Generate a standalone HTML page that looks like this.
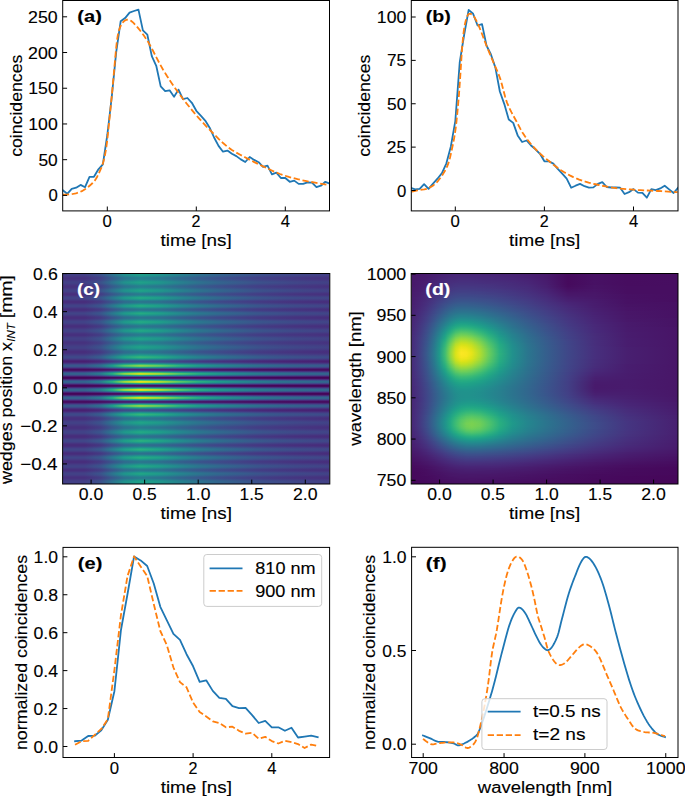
<!DOCTYPE html><html><head><meta charset="utf-8"><style>html,body{margin:0;padding:0;background:#fff;overflow:hidden;}svg{display:block;}</style></head><body><svg width="685" height="797" viewBox="0 0 685 797" font-family='"Liberation Sans", sans-serif' font-size="15.85"><defs><clipPath id="ca"><rect x="62.7" y="0.5" width="266.8" height="210.4"/></clipPath><clipPath id="cb"><rect x="411.3" y="0.5" width="266.7" height="210.4"/></clipPath><clipPath id="cc"><rect x="62.6" y="273.5" width="267.2" height="210.5"/></clipPath><clipPath id="cd"><rect x="411.2" y="273.5" width="266.8" height="210.5"/></clipPath><clipPath id="ce"><rect x="63" y="547.4" width="266.6" height="210.1"/></clipPath><clipPath id="cf"><rect x="411.6" y="547.3" width="266.4" height="210.2"/></clipPath><linearGradient id="gc0"><stop offset=".000" stop-color="#433e85"/><stop offset=".083" stop-color="#433e85"/><stop offset=".143" stop-color="#3c4f8a"/><stop offset=".187" stop-color="#2e6f8e"/><stop offset=".231" stop-color="#228c8d"/><stop offset=".291" stop-color="#1e9b8a"/><stop offset=".363" stop-color="#21918c"/><stop offset=".435" stop-color="#277f8e"/><stop offset=".507" stop-color="#2e6f8e"/><stop offset=".580" stop-color="#33628d"/><stop offset=".656" stop-color="#38588c"/><stop offset=".728" stop-color="#3c4f8a"/><stop offset=".800" stop-color="#3f4889"/><stop offset=".872" stop-color="#414487"/><stop offset=".944" stop-color="#424086"/><stop offset="1.000" stop-color="#423f85"/></linearGradient><linearGradient id="gc1"><stop offset=".000" stop-color="#423f85"/><stop offset=".083" stop-color="#423f85"/><stop offset=".143" stop-color="#3b518b"/><stop offset=".187" stop-color="#2d718e"/><stop offset=".231" stop-color="#218f8d"/><stop offset=".291" stop-color="#1f9f88"/><stop offset=".363" stop-color="#1f948c"/><stop offset=".435" stop-color="#26828e"/><stop offset=".507" stop-color="#2d718e"/><stop offset=".580" stop-color="#32648e"/><stop offset=".656" stop-color="#375a8c"/><stop offset=".728" stop-color="#3b518b"/><stop offset=".800" stop-color="#3e4a89"/><stop offset=".872" stop-color="#404688"/><stop offset=".944" stop-color="#414287"/><stop offset="1.000" stop-color="#424086"/></linearGradient><linearGradient id="gc2"><stop offset=".000" stop-color="#433d84"/><stop offset=".083" stop-color="#433d84"/><stop offset=".143" stop-color="#3d4e8a"/><stop offset=".187" stop-color="#2e6e8e"/><stop offset=".231" stop-color="#238a8d"/><stop offset=".291" stop-color="#1f9a8a"/><stop offset=".363" stop-color="#21908d"/><stop offset=".435" stop-color="#277e8e"/><stop offset=".507" stop-color="#2e6e8e"/><stop offset=".580" stop-color="#34618d"/><stop offset=".656" stop-color="#38588c"/><stop offset=".728" stop-color="#3d4e8a"/><stop offset=".800" stop-color="#3f4889"/><stop offset=".872" stop-color="#414487"/><stop offset=".944" stop-color="#424086"/><stop offset="1.000" stop-color="#433e85"/></linearGradient><linearGradient id="gc3"><stop offset=".000" stop-color="#453882"/><stop offset=".083" stop-color="#453882"/><stop offset=".143" stop-color="#3f4889"/><stop offset=".187" stop-color="#31668e"/><stop offset=".231" stop-color="#26818e"/><stop offset=".291" stop-color="#21908d"/><stop offset=".363" stop-color="#25858e"/><stop offset=".435" stop-color="#2b758e"/><stop offset=".507" stop-color="#31668e"/><stop offset=".580" stop-color="#375b8d"/><stop offset=".656" stop-color="#3b518b"/><stop offset=".728" stop-color="#3f4889"/><stop offset=".800" stop-color="#414287"/><stop offset=".872" stop-color="#423f85"/><stop offset=".944" stop-color="#443b84"/><stop offset="1.000" stop-color="#443983"/></linearGradient><linearGradient id="gc4"><stop offset=".000" stop-color="#463480"/><stop offset=".083" stop-color="#463480"/><stop offset=".143" stop-color="#414287"/><stop offset=".187" stop-color="#355f8d"/><stop offset=".231" stop-color="#2a778e"/><stop offset=".291" stop-color="#25848e"/><stop offset=".363" stop-color="#287c8e"/><stop offset=".435" stop-color="#2e6d8e"/><stop offset=".507" stop-color="#355f8d"/><stop offset=".580" stop-color="#3a548c"/><stop offset=".656" stop-color="#3e4a89"/><stop offset=".728" stop-color="#414287"/><stop offset=".800" stop-color="#433e85"/><stop offset=".872" stop-color="#443983"/><stop offset=".944" stop-color="#453781"/><stop offset="1.000" stop-color="#453581"/></linearGradient><linearGradient id="gc5"><stop offset=".000" stop-color="#46327e"/><stop offset=".083" stop-color="#46327e"/><stop offset=".143" stop-color="#424186"/><stop offset=".187" stop-color="#365c8d"/><stop offset=".231" stop-color="#2b748e"/><stop offset=".291" stop-color="#26818e"/><stop offset=".363" stop-color="#2a788e"/><stop offset=".435" stop-color="#30698e"/><stop offset=".507" stop-color="#365c8d"/><stop offset=".580" stop-color="#3b518b"/><stop offset=".656" stop-color="#3f4889"/><stop offset=".728" stop-color="#424186"/><stop offset=".800" stop-color="#443b84"/><stop offset=".872" stop-color="#453882"/><stop offset=".944" stop-color="#463480"/><stop offset="1.000" stop-color="#46337f"/></linearGradient><linearGradient id="gc6"><stop offset=".000" stop-color="#463480"/><stop offset=".083" stop-color="#463480"/><stop offset=".143" stop-color="#414487"/><stop offset=".187" stop-color="#355f8d"/><stop offset=".231" stop-color="#2a788e"/><stop offset=".291" stop-color="#25858e"/><stop offset=".363" stop-color="#287d8e"/><stop offset=".435" stop-color="#2e6d8e"/><stop offset=".507" stop-color="#355f8d"/><stop offset=".580" stop-color="#3a548c"/><stop offset=".656" stop-color="#3e4c8a"/><stop offset=".728" stop-color="#414487"/><stop offset=".800" stop-color="#433e85"/><stop offset=".872" stop-color="#443a83"/><stop offset=".944" stop-color="#453781"/><stop offset="1.000" stop-color="#453581"/></linearGradient><linearGradient id="gc7"><stop offset=".000" stop-color="#443983"/><stop offset=".083" stop-color="#443983"/><stop offset=".143" stop-color="#3e4989"/><stop offset=".187" stop-color="#31678e"/><stop offset=".231" stop-color="#26828e"/><stop offset=".291" stop-color="#21918c"/><stop offset=".363" stop-color="#24878e"/><stop offset=".435" stop-color="#2a768e"/><stop offset=".507" stop-color="#31678e"/><stop offset=".580" stop-color="#365c8d"/><stop offset=".656" stop-color="#3b528b"/><stop offset=".728" stop-color="#3e4989"/><stop offset=".800" stop-color="#414487"/><stop offset=".872" stop-color="#423f85"/><stop offset=".944" stop-color="#443b84"/><stop offset="1.000" stop-color="#443a83"/></linearGradient><linearGradient id="gc8"><stop offset=".000" stop-color="#433e85"/><stop offset=".083" stop-color="#433e85"/><stop offset=".143" stop-color="#3c4f8a"/><stop offset=".187" stop-color="#2e6f8e"/><stop offset=".231" stop-color="#228c8d"/><stop offset=".291" stop-color="#1e9c89"/><stop offset=".363" stop-color="#20928c"/><stop offset=".435" stop-color="#277f8e"/><stop offset=".507" stop-color="#2e6f8e"/><stop offset=".580" stop-color="#33628d"/><stop offset=".656" stop-color="#38598c"/><stop offset=".728" stop-color="#3c4f8a"/><stop offset=".800" stop-color="#3e4989"/><stop offset=".872" stop-color="#414487"/><stop offset=".944" stop-color="#424186"/><stop offset="1.000" stop-color="#423f85"/></linearGradient><linearGradient id="gc9"><stop offset=".000" stop-color="#424086"/><stop offset=".083" stop-color="#424086"/><stop offset=".143" stop-color="#3b528b"/><stop offset=".187" stop-color="#2c728e"/><stop offset=".231" stop-color="#21918c"/><stop offset=".291" stop-color="#1fa188"/><stop offset=".363" stop-color="#1f958b"/><stop offset=".435" stop-color="#26828e"/><stop offset=".507" stop-color="#2c728e"/><stop offset=".580" stop-color="#32658e"/><stop offset=".656" stop-color="#375b8d"/><stop offset=".728" stop-color="#3b528b"/><stop offset=".800" stop-color="#3e4c8a"/><stop offset=".872" stop-color="#404688"/><stop offset=".944" stop-color="#414287"/><stop offset="1.000" stop-color="#424186"/></linearGradient><linearGradient id="gc10"><stop offset=".000" stop-color="#433e85"/><stop offset=".083" stop-color="#433e85"/><stop offset=".143" stop-color="#3c4f8a"/><stop offset=".187" stop-color="#2e6f8e"/><stop offset=".231" stop-color="#228c8d"/><stop offset=".291" stop-color="#1e9c89"/><stop offset=".363" stop-color="#20928c"/><stop offset=".435" stop-color="#277f8e"/><stop offset=".507" stop-color="#2e6f8e"/><stop offset=".580" stop-color="#33638d"/><stop offset=".656" stop-color="#38598c"/><stop offset=".728" stop-color="#3c4f8a"/><stop offset=".800" stop-color="#3e4989"/><stop offset=".872" stop-color="#404588"/><stop offset=".944" stop-color="#424186"/><stop offset="1.000" stop-color="#423f85"/></linearGradient><linearGradient id="gc11"><stop offset=".000" stop-color="#443983"/><stop offset=".083" stop-color="#443983"/><stop offset=".143" stop-color="#3e4989"/><stop offset=".187" stop-color="#31678e"/><stop offset=".231" stop-color="#26828e"/><stop offset=".291" stop-color="#21918c"/><stop offset=".363" stop-color="#24878e"/><stop offset=".435" stop-color="#2a768e"/><stop offset=".507" stop-color="#31678e"/><stop offset=".580" stop-color="#365c8d"/><stop offset=".656" stop-color="#3b528b"/><stop offset=".728" stop-color="#3e4989"/><stop offset=".800" stop-color="#414487"/><stop offset=".872" stop-color="#423f85"/><stop offset=".944" stop-color="#443b84"/><stop offset="1.000" stop-color="#443a83"/></linearGradient><linearGradient id="gc12"><stop offset=".000" stop-color="#463480"/><stop offset=".083" stop-color="#463480"/><stop offset=".143" stop-color="#414287"/><stop offset=".187" stop-color="#355f8d"/><stop offset=".231" stop-color="#2a778e"/><stop offset=".291" stop-color="#25848e"/><stop offset=".363" stop-color="#287c8e"/><stop offset=".435" stop-color="#2e6d8e"/><stop offset=".507" stop-color="#355f8d"/><stop offset=".580" stop-color="#3a538b"/><stop offset=".656" stop-color="#3e4a89"/><stop offset=".728" stop-color="#414287"/><stop offset=".800" stop-color="#433e85"/><stop offset=".872" stop-color="#443983"/><stop offset=".944" stop-color="#453781"/><stop offset="1.000" stop-color="#463480"/></linearGradient><linearGradient id="gc13"><stop offset=".000" stop-color="#46327e"/><stop offset=".083" stop-color="#46327e"/><stop offset=".143" stop-color="#424086"/><stop offset=".187" stop-color="#375b8d"/><stop offset=".231" stop-color="#2c728e"/><stop offset=".291" stop-color="#277f8e"/><stop offset=".363" stop-color="#2a768e"/><stop offset=".435" stop-color="#31688e"/><stop offset=".507" stop-color="#375b8d"/><stop offset=".580" stop-color="#3c508b"/><stop offset=".656" stop-color="#3f4788"/><stop offset=".728" stop-color="#424086"/><stop offset=".800" stop-color="#443a83"/><stop offset=".872" stop-color="#453781"/><stop offset=".944" stop-color="#463480"/><stop offset="1.000" stop-color="#46327e"/></linearGradient><linearGradient id="gc14"><stop offset=".000" stop-color="#46337f"/><stop offset=".083" stop-color="#46337f"/><stop offset=".143" stop-color="#414287"/><stop offset=".187" stop-color="#355e8d"/><stop offset=".231" stop-color="#2a768e"/><stop offset=".291" stop-color="#25838e"/><stop offset=".363" stop-color="#297b8e"/><stop offset=".435" stop-color="#2f6c8e"/><stop offset=".507" stop-color="#355e8d"/><stop offset=".580" stop-color="#3a538b"/><stop offset=".656" stop-color="#3e4a89"/><stop offset=".728" stop-color="#414287"/><stop offset=".800" stop-color="#433d84"/><stop offset=".872" stop-color="#443983"/><stop offset=".944" stop-color="#453581"/><stop offset="1.000" stop-color="#463480"/></linearGradient><linearGradient id="gc15"><stop offset=".000" stop-color="#453882"/><stop offset=".083" stop-color="#453882"/><stop offset=".143" stop-color="#3f4889"/><stop offset=".187" stop-color="#31668e"/><stop offset=".231" stop-color="#26818e"/><stop offset=".291" stop-color="#218f8d"/><stop offset=".363" stop-color="#25858e"/><stop offset=".435" stop-color="#2b748e"/><stop offset=".507" stop-color="#31668e"/><stop offset=".580" stop-color="#375b8d"/><stop offset=".656" stop-color="#3b518b"/><stop offset=".728" stop-color="#3f4889"/><stop offset=".800" stop-color="#414287"/><stop offset=".872" stop-color="#433e85"/><stop offset=".944" stop-color="#443b84"/><stop offset="1.000" stop-color="#443983"/></linearGradient><linearGradient id="gc16"><stop offset=".000" stop-color="#433e85"/><stop offset=".083" stop-color="#433e85"/><stop offset=".143" stop-color="#3c4f8a"/><stop offset=".187" stop-color="#2e6f8e"/><stop offset=".231" stop-color="#228c8d"/><stop offset=".291" stop-color="#1e9c89"/><stop offset=".363" stop-color="#20928c"/><stop offset=".435" stop-color="#277f8e"/><stop offset=".507" stop-color="#2e6f8e"/><stop offset=".580" stop-color="#33638d"/><stop offset=".656" stop-color="#38598c"/><stop offset=".728" stop-color="#3c4f8a"/><stop offset=".800" stop-color="#3e4989"/><stop offset=".872" stop-color="#404588"/><stop offset=".944" stop-color="#424186"/><stop offset="1.000" stop-color="#423f85"/></linearGradient><linearGradient id="gc17"><stop offset=".000" stop-color="#424086"/><stop offset=".083" stop-color="#424086"/><stop offset=".143" stop-color="#3b528b"/><stop offset=".187" stop-color="#2c738e"/><stop offset=".231" stop-color="#20928c"/><stop offset=".291" stop-color="#1fa287"/><stop offset=".363" stop-color="#1f978b"/><stop offset=".435" stop-color="#25848e"/><stop offset=".507" stop-color="#2c738e"/><stop offset=".580" stop-color="#31678e"/><stop offset=".656" stop-color="#365c8d"/><stop offset=".728" stop-color="#3b528b"/><stop offset=".800" stop-color="#3d4d8a"/><stop offset=".872" stop-color="#3f4788"/><stop offset=".944" stop-color="#414487"/><stop offset="1.000" stop-color="#424186"/></linearGradient><linearGradient id="gc18"><stop offset=".000" stop-color="#423f85"/><stop offset=".083" stop-color="#423f85"/><stop offset=".143" stop-color="#3c508b"/><stop offset=".187" stop-color="#2d718e"/><stop offset=".231" stop-color="#218e8d"/><stop offset=".291" stop-color="#1f9e89"/><stop offset=".363" stop-color="#20938c"/><stop offset=".435" stop-color="#26818e"/><stop offset=".507" stop-color="#2d718e"/><stop offset=".580" stop-color="#32648e"/><stop offset=".656" stop-color="#375a8c"/><stop offset=".728" stop-color="#3c508b"/><stop offset=".800" stop-color="#3e4a89"/><stop offset=".872" stop-color="#404588"/><stop offset=".944" stop-color="#424186"/><stop offset="1.000" stop-color="#424086"/></linearGradient><linearGradient id="gc19"><stop offset=".000" stop-color="#453882"/><stop offset=".083" stop-color="#453882"/><stop offset=".143" stop-color="#3f4889"/><stop offset=".187" stop-color="#31668e"/><stop offset=".231" stop-color="#26818e"/><stop offset=".291" stop-color="#218f8d"/><stop offset=".363" stop-color="#25858e"/><stop offset=".435" stop-color="#2b748e"/><stop offset=".507" stop-color="#31668e"/><stop offset=".580" stop-color="#375b8d"/><stop offset=".656" stop-color="#3b518b"/><stop offset=".728" stop-color="#3f4889"/><stop offset=".800" stop-color="#414287"/><stop offset=".872" stop-color="#433e85"/><stop offset=".944" stop-color="#443b84"/><stop offset="1.000" stop-color="#443983"/></linearGradient><linearGradient id="gc20"><stop offset=".000" stop-color="#46327e"/><stop offset=".083" stop-color="#46327e"/><stop offset=".143" stop-color="#424086"/><stop offset=".187" stop-color="#375b8d"/><stop offset=".231" stop-color="#2c728e"/><stop offset=".291" stop-color="#27808e"/><stop offset=".363" stop-color="#2a778e"/><stop offset=".435" stop-color="#31688e"/><stop offset=".507" stop-color="#375b8d"/><stop offset=".580" stop-color="#3c508b"/><stop offset=".656" stop-color="#3f4889"/><stop offset=".728" stop-color="#424086"/><stop offset=".800" stop-color="#443b84"/><stop offset=".872" stop-color="#453781"/><stop offset=".944" stop-color="#463480"/><stop offset="1.000" stop-color="#46337f"/></linearGradient><linearGradient id="gc21"><stop offset=".000" stop-color="#472f7d"/><stop offset=".083" stop-color="#472f7d"/><stop offset=".143" stop-color="#433e85"/><stop offset=".187" stop-color="#38588c"/><stop offset=".231" stop-color="#2e6f8e"/><stop offset=".291" stop-color="#297b8e"/><stop offset=".363" stop-color="#2c728e"/><stop offset=".435" stop-color="#32658e"/><stop offset=".507" stop-color="#38588c"/><stop offset=".580" stop-color="#3d4e8a"/><stop offset=".656" stop-color="#404588"/><stop offset=".728" stop-color="#433e85"/><stop offset=".800" stop-color="#443983"/><stop offset=".872" stop-color="#463480"/><stop offset=".944" stop-color="#46327e"/><stop offset="1.000" stop-color="#46307e"/></linearGradient><linearGradient id="gc22"><stop offset=".000" stop-color="#463480"/><stop offset=".083" stop-color="#463480"/><stop offset=".143" stop-color="#414487"/><stop offset=".187" stop-color="#355f8d"/><stop offset=".231" stop-color="#2a788e"/><stop offset=".291" stop-color="#25858e"/><stop offset=".363" stop-color="#287d8e"/><stop offset=".435" stop-color="#2e6d8e"/><stop offset=".507" stop-color="#355f8d"/><stop offset=".580" stop-color="#3a548c"/><stop offset=".656" stop-color="#3e4c8a"/><stop offset=".728" stop-color="#414487"/><stop offset=".800" stop-color="#433e85"/><stop offset=".872" stop-color="#443a83"/><stop offset=".944" stop-color="#453781"/><stop offset="1.000" stop-color="#453581"/></linearGradient><linearGradient id="gc23"><stop offset=".000" stop-color="#433d84"/><stop offset=".083" stop-color="#433d84"/><stop offset=".143" stop-color="#3d4e8a"/><stop offset=".187" stop-color="#2e6d8e"/><stop offset=".231" stop-color="#23898e"/><stop offset=".291" stop-color="#1f988b"/><stop offset=".363" stop-color="#218e8d"/><stop offset=".435" stop-color="#287c8e"/><stop offset=".507" stop-color="#2e6d8e"/><stop offset=".580" stop-color="#34618d"/><stop offset=".656" stop-color="#39568c"/><stop offset=".728" stop-color="#3d4e8a"/><stop offset=".800" stop-color="#3f4788"/><stop offset=".872" stop-color="#414287"/><stop offset=".944" stop-color="#423f85"/><stop offset="1.000" stop-color="#433e85"/></linearGradient><linearGradient id="gc24"><stop offset=".000" stop-color="#414287"/><stop offset=".083" stop-color="#414287"/><stop offset=".143" stop-color="#39558c"/><stop offset=".187" stop-color="#2a768e"/><stop offset=".231" stop-color="#1f968b"/><stop offset=".291" stop-color="#22a785"/><stop offset=".363" stop-color="#1e9c89"/><stop offset=".435" stop-color="#24878e"/><stop offset=".507" stop-color="#2a768e"/><stop offset=".580" stop-color="#30698e"/><stop offset=".656" stop-color="#355f8d"/><stop offset=".728" stop-color="#39558c"/><stop offset=".800" stop-color="#3d4e8a"/><stop offset=".872" stop-color="#3e4989"/><stop offset=".944" stop-color="#404688"/><stop offset="1.000" stop-color="#414487"/></linearGradient><linearGradient id="gc25"><stop offset=".000" stop-color="#414287"/><stop offset=".083" stop-color="#414287"/><stop offset=".143" stop-color="#3a548c"/><stop offset=".187" stop-color="#2a768e"/><stop offset=".231" stop-color="#1f958b"/><stop offset=".291" stop-color="#21a685"/><stop offset=".363" stop-color="#1e9b8a"/><stop offset=".435" stop-color="#24878e"/><stop offset=".507" stop-color="#2a768e"/><stop offset=".580" stop-color="#30698e"/><stop offset=".656" stop-color="#355e8d"/><stop offset=".728" stop-color="#3a548c"/><stop offset=".800" stop-color="#3d4e8a"/><stop offset=".872" stop-color="#3e4989"/><stop offset=".944" stop-color="#404688"/><stop offset="1.000" stop-color="#414487"/></linearGradient><linearGradient id="gc26"><stop offset=".000" stop-color="#433d84"/><stop offset=".083" stop-color="#433d84"/><stop offset=".143" stop-color="#3d4e8a"/><stop offset=".187" stop-color="#2e6d8e"/><stop offset=".231" stop-color="#23898e"/><stop offset=".291" stop-color="#1f988b"/><stop offset=".363" stop-color="#218f8d"/><stop offset=".435" stop-color="#287c8e"/><stop offset=".507" stop-color="#2e6d8e"/><stop offset=".580" stop-color="#34618d"/><stop offset=".656" stop-color="#39568c"/><stop offset=".728" stop-color="#3d4e8a"/><stop offset=".800" stop-color="#3f4788"/><stop offset=".872" stop-color="#414287"/><stop offset=".944" stop-color="#423f85"/><stop offset="1.000" stop-color="#433e85"/></linearGradient><linearGradient id="gc27"><stop offset=".000" stop-color="#463480"/><stop offset=".083" stop-color="#463480"/><stop offset=".143" stop-color="#414287"/><stop offset=".187" stop-color="#355f8d"/><stop offset=".231" stop-color="#2a778e"/><stop offset=".291" stop-color="#25848e"/><stop offset=".363" stop-color="#287c8e"/><stop offset=".435" stop-color="#2e6d8e"/><stop offset=".507" stop-color="#355f8d"/><stop offset=".580" stop-color="#3a548c"/><stop offset=".656" stop-color="#3e4a89"/><stop offset=".728" stop-color="#414287"/><stop offset=".800" stop-color="#433e85"/><stop offset=".872" stop-color="#443983"/><stop offset=".944" stop-color="#453781"/><stop offset="1.000" stop-color="#453581"/></linearGradient><linearGradient id="gc28"><stop offset=".000" stop-color="#472e7c"/><stop offset=".083" stop-color="#472e7c"/><stop offset=".143" stop-color="#443b84"/><stop offset=".187" stop-color="#39558c"/><stop offset=".231" stop-color="#2f6c8e"/><stop offset=".291" stop-color="#2a778e"/><stop offset=".363" stop-color="#2d708e"/><stop offset=".435" stop-color="#33628d"/><stop offset=".507" stop-color="#39558c"/><stop offset=".580" stop-color="#3e4a89"/><stop offset=".656" stop-color="#414287"/><stop offset=".728" stop-color="#443b84"/><stop offset=".800" stop-color="#453781"/><stop offset=".872" stop-color="#46337f"/><stop offset=".944" stop-color="#46307e"/><stop offset="1.000" stop-color="#472f7d"/></linearGradient><linearGradient id="gc29"><stop offset=".000" stop-color="#472e7c"/><stop offset=".083" stop-color="#472e7c"/><stop offset=".143" stop-color="#433d84"/><stop offset=".187" stop-color="#39558c"/><stop offset=".231" stop-color="#2e6d8e"/><stop offset=".291" stop-color="#2a788e"/><stop offset=".363" stop-color="#2d718e"/><stop offset=".435" stop-color="#33628d"/><stop offset=".507" stop-color="#39558c"/><stop offset=".580" stop-color="#3e4c8a"/><stop offset=".656" stop-color="#414487"/><stop offset=".728" stop-color="#433d84"/><stop offset=".800" stop-color="#453781"/><stop offset=".872" stop-color="#46337f"/><stop offset=".944" stop-color="#46307e"/><stop offset="1.000" stop-color="#472f7d"/></linearGradient><linearGradient id="gc30"><stop offset=".000" stop-color="#463480"/><stop offset=".083" stop-color="#463480"/><stop offset=".143" stop-color="#414487"/><stop offset=".187" stop-color="#34608d"/><stop offset=".231" stop-color="#29798e"/><stop offset=".291" stop-color="#24868e"/><stop offset=".363" stop-color="#277e8e"/><stop offset=".435" stop-color="#2e6e8e"/><stop offset=".507" stop-color="#34608d"/><stop offset=".580" stop-color="#39558c"/><stop offset=".656" stop-color="#3e4c8a"/><stop offset=".728" stop-color="#414487"/><stop offset=".800" stop-color="#423f85"/><stop offset=".872" stop-color="#443a83"/><stop offset=".944" stop-color="#453882"/><stop offset="1.000" stop-color="#453581"/></linearGradient><linearGradient id="gc31"><stop offset=".000" stop-color="#433d84"/><stop offset=".083" stop-color="#433d84"/><stop offset=".143" stop-color="#3c4f8a"/><stop offset=".187" stop-color="#2e6e8e"/><stop offset=".231" stop-color="#228b8d"/><stop offset=".291" stop-color="#1e9b8a"/><stop offset=".363" stop-color="#21918c"/><stop offset=".435" stop-color="#277e8e"/><stop offset=".507" stop-color="#2e6e8e"/><stop offset=".580" stop-color="#33628d"/><stop offset=".656" stop-color="#38588c"/><stop offset=".728" stop-color="#3c4f8a"/><stop offset=".800" stop-color="#3f4889"/><stop offset=".872" stop-color="#414487"/><stop offset=".944" stop-color="#424086"/><stop offset="1.000" stop-color="#433e85"/></linearGradient><linearGradient id="gc32"><stop offset=".000" stop-color="#414287"/><stop offset=".083" stop-color="#414287"/><stop offset=".143" stop-color="#39558c"/><stop offset=".187" stop-color="#2a778e"/><stop offset=".231" stop-color="#1f978b"/><stop offset=".291" stop-color="#23a983"/><stop offset=".363" stop-color="#1e9d89"/><stop offset=".435" stop-color="#23898e"/><stop offset=".507" stop-color="#2a778e"/><stop offset=".580" stop-color="#306a8e"/><stop offset=".656" stop-color="#34608d"/><stop offset=".728" stop-color="#39558c"/><stop offset=".800" stop-color="#3c4f8a"/><stop offset=".872" stop-color="#3e4a89"/><stop offset=".944" stop-color="#404688"/><stop offset="1.000" stop-color="#414487"/></linearGradient><linearGradient id="gc33"><stop offset=".000" stop-color="#414287"/><stop offset=".083" stop-color="#414287"/><stop offset=".143" stop-color="#39558c"/><stop offset=".187" stop-color="#2a778e"/><stop offset=".231" stop-color="#1f978b"/><stop offset=".291" stop-color="#22a884"/><stop offset=".363" stop-color="#1e9d89"/><stop offset=".435" stop-color="#23888e"/><stop offset=".507" stop-color="#2a778e"/><stop offset=".580" stop-color="#306a8e"/><stop offset=".656" stop-color="#355f8d"/><stop offset=".728" stop-color="#39558c"/><stop offset=".800" stop-color="#3c4f8a"/><stop offset=".872" stop-color="#3e4989"/><stop offset=".944" stop-color="#404688"/><stop offset="1.000" stop-color="#414487"/></linearGradient><linearGradient id="gc34"><stop offset=".000" stop-color="#443b84"/><stop offset=".083" stop-color="#443b84"/><stop offset=".143" stop-color="#3d4d8a"/><stop offset=".187" stop-color="#2f6c8e"/><stop offset=".231" stop-color="#23888e"/><stop offset=".291" stop-color="#1f988b"/><stop offset=".363" stop-color="#218e8d"/><stop offset=".435" stop-color="#287c8e"/><stop offset=".507" stop-color="#2f6c8e"/><stop offset=".580" stop-color="#34608d"/><stop offset=".656" stop-color="#39568c"/><stop offset=".728" stop-color="#3d4d8a"/><stop offset=".800" stop-color="#3f4788"/><stop offset=".872" stop-color="#414287"/><stop offset=".944" stop-color="#423f85"/><stop offset="1.000" stop-color="#433d84"/></linearGradient><linearGradient id="gc35"><stop offset=".000" stop-color="#46337f"/><stop offset=".083" stop-color="#46337f"/><stop offset=".143" stop-color="#424186"/><stop offset=".187" stop-color="#365d8d"/><stop offset=".231" stop-color="#2b758e"/><stop offset=".291" stop-color="#26828e"/><stop offset=".363" stop-color="#297a8e"/><stop offset=".435" stop-color="#2f6b8e"/><stop offset=".507" stop-color="#365d8d"/><stop offset=".580" stop-color="#3b528b"/><stop offset=".656" stop-color="#3e4989"/><stop offset=".728" stop-color="#424186"/><stop offset=".800" stop-color="#433d84"/><stop offset=".872" stop-color="#453882"/><stop offset=".944" stop-color="#453581"/><stop offset="1.000" stop-color="#463480"/></linearGradient><linearGradient id="gc36"><stop offset=".000" stop-color="#472e7c"/><stop offset=".083" stop-color="#472e7c"/><stop offset=".143" stop-color="#443b84"/><stop offset=".187" stop-color="#3a548c"/><stop offset=".231" stop-color="#2f6b8e"/><stop offset=".291" stop-color="#2a768e"/><stop offset=".363" stop-color="#2e6f8e"/><stop offset=".435" stop-color="#34618d"/><stop offset=".507" stop-color="#3a548c"/><stop offset=".580" stop-color="#3e4a89"/><stop offset=".656" stop-color="#414287"/><stop offset=".728" stop-color="#443b84"/><stop offset=".800" stop-color="#453781"/><stop offset=".872" stop-color="#46337f"/><stop offset=".944" stop-color="#46307e"/><stop offset="1.000" stop-color="#472e7c"/></linearGradient><linearGradient id="gc37"><stop offset=".000" stop-color="#46307e"/><stop offset=".083" stop-color="#46307e"/><stop offset=".143" stop-color="#433e85"/><stop offset=".187" stop-color="#38598c"/><stop offset=".231" stop-color="#2d708e"/><stop offset=".291" stop-color="#287c8e"/><stop offset=".363" stop-color="#2c738e"/><stop offset=".435" stop-color="#32658e"/><stop offset=".507" stop-color="#38598c"/><stop offset=".580" stop-color="#3d4e8a"/><stop offset=".656" stop-color="#404688"/><stop offset=".728" stop-color="#433e85"/><stop offset=".800" stop-color="#443983"/><stop offset=".872" stop-color="#453581"/><stop offset=".944" stop-color="#46337f"/><stop offset="1.000" stop-color="#46307e"/></linearGradient><linearGradient id="gc38"><stop offset=".000" stop-color="#453882"/><stop offset=".083" stop-color="#453882"/><stop offset=".143" stop-color="#3f4889"/><stop offset=".187" stop-color="#31668e"/><stop offset=".231" stop-color="#26818e"/><stop offset=".291" stop-color="#218f8d"/><stop offset=".363" stop-color="#25858e"/><stop offset=".435" stop-color="#2b748e"/><stop offset=".507" stop-color="#31668e"/><stop offset=".580" stop-color="#375b8d"/><stop offset=".656" stop-color="#3b518b"/><stop offset=".728" stop-color="#3f4889"/><stop offset=".800" stop-color="#414287"/><stop offset=".872" stop-color="#433e85"/><stop offset=".944" stop-color="#443b84"/><stop offset="1.000" stop-color="#443983"/></linearGradient><linearGradient id="gc39"><stop offset=".000" stop-color="#424086"/><stop offset=".083" stop-color="#424086"/><stop offset=".143" stop-color="#3a538b"/><stop offset=".187" stop-color="#2c738e"/><stop offset=".231" stop-color="#20928c"/><stop offset=".291" stop-color="#20a386"/><stop offset=".363" stop-color="#1f988b"/><stop offset=".435" stop-color="#25848e"/><stop offset=".507" stop-color="#2c738e"/><stop offset=".580" stop-color="#31678e"/><stop offset=".656" stop-color="#365d8d"/><stop offset=".728" stop-color="#3a538b"/><stop offset=".800" stop-color="#3d4d8a"/><stop offset=".872" stop-color="#3f4788"/><stop offset=".944" stop-color="#414487"/><stop offset="1.000" stop-color="#424186"/></linearGradient><linearGradient id="gc40"><stop offset=".000" stop-color="#414487"/><stop offset=".083" stop-color="#414487"/><stop offset=".143" stop-color="#39568c"/><stop offset=".187" stop-color="#29798e"/><stop offset=".231" stop-color="#1f998a"/><stop offset=".291" stop-color="#25ab82"/><stop offset=".363" stop-color="#1f9f88"/><stop offset=".435" stop-color="#238a8d"/><stop offset=".507" stop-color="#29798e"/><stop offset=".580" stop-color="#2f6b8e"/><stop offset=".656" stop-color="#34618d"/><stop offset=".728" stop-color="#39568c"/><stop offset=".800" stop-color="#3c508b"/><stop offset=".872" stop-color="#3e4a89"/><stop offset=".944" stop-color="#3f4788"/><stop offset="1.000" stop-color="#404588"/></linearGradient><linearGradient id="gc41"><stop offset=".000" stop-color="#424086"/><stop offset=".083" stop-color="#424086"/><stop offset=".143" stop-color="#3a538b"/><stop offset=".187" stop-color="#2c738e"/><stop offset=".231" stop-color="#20928c"/><stop offset=".291" stop-color="#1fa287"/><stop offset=".363" stop-color="#1f978b"/><stop offset=".435" stop-color="#25848e"/><stop offset=".507" stop-color="#2c738e"/><stop offset=".580" stop-color="#31678e"/><stop offset=".656" stop-color="#365c8d"/><stop offset=".728" stop-color="#3a538b"/><stop offset=".800" stop-color="#3d4d8a"/><stop offset=".872" stop-color="#3f4788"/><stop offset=".944" stop-color="#414487"/><stop offset="1.000" stop-color="#424186"/></linearGradient><linearGradient id="gc42"><stop offset=".000" stop-color="#443983"/><stop offset=".083" stop-color="#443983"/><stop offset=".143" stop-color="#3e4989"/><stop offset=".187" stop-color="#31688e"/><stop offset=".231" stop-color="#26828e"/><stop offset=".291" stop-color="#20928c"/><stop offset=".363" stop-color="#23888e"/><stop offset=".435" stop-color="#2a778e"/><stop offset=".507" stop-color="#31688e"/><stop offset=".580" stop-color="#365c8d"/><stop offset=".656" stop-color="#3b528b"/><stop offset=".728" stop-color="#3e4989"/><stop offset=".800" stop-color="#414487"/><stop offset=".872" stop-color="#423f85"/><stop offset=".944" stop-color="#433d84"/><stop offset="1.000" stop-color="#443a83"/></linearGradient><linearGradient id="gc43"><stop offset=".000" stop-color="#46327e"/><stop offset=".083" stop-color="#46327e"/><stop offset=".143" stop-color="#424086"/><stop offset=".187" stop-color="#365c8d"/><stop offset=".231" stop-color="#2c738e"/><stop offset=".291" stop-color="#27808e"/><stop offset=".363" stop-color="#2a778e"/><stop offset=".435" stop-color="#30698e"/><stop offset=".507" stop-color="#365c8d"/><stop offset=".580" stop-color="#3b518b"/><stop offset=".656" stop-color="#3f4889"/><stop offset=".728" stop-color="#424086"/><stop offset=".800" stop-color="#443b84"/><stop offset=".872" stop-color="#453781"/><stop offset=".944" stop-color="#463480"/><stop offset="1.000" stop-color="#46337f"/></linearGradient><linearGradient id="gc44"><stop offset=".000" stop-color="#472e7c"/><stop offset=".083" stop-color="#472e7c"/><stop offset=".143" stop-color="#443b84"/><stop offset=".187" stop-color="#3a548c"/><stop offset=".231" stop-color="#2f6b8e"/><stop offset=".291" stop-color="#2a768e"/><stop offset=".363" stop-color="#2e6f8e"/><stop offset=".435" stop-color="#34618d"/><stop offset=".507" stop-color="#3a548c"/><stop offset=".580" stop-color="#3e4a89"/><stop offset=".656" stop-color="#414287"/><stop offset=".728" stop-color="#443b84"/><stop offset=".800" stop-color="#453781"/><stop offset=".872" stop-color="#46337f"/><stop offset=".944" stop-color="#46307e"/><stop offset="1.000" stop-color="#472e7c"/></linearGradient><linearGradient id="gc45"><stop offset=".000" stop-color="#472f7d"/><stop offset=".083" stop-color="#472f7d"/><stop offset=".143" stop-color="#433d84"/><stop offset=".187" stop-color="#39568c"/><stop offset=".231" stop-color="#2e6e8e"/><stop offset=".291" stop-color="#297a8e"/><stop offset=".363" stop-color="#2c728e"/><stop offset=".435" stop-color="#32648e"/><stop offset=".507" stop-color="#39568c"/><stop offset=".580" stop-color="#3d4d8a"/><stop offset=".656" stop-color="#404588"/><stop offset=".728" stop-color="#433d84"/><stop offset=".800" stop-color="#453882"/><stop offset=".872" stop-color="#463480"/><stop offset=".944" stop-color="#46327e"/><stop offset="1.000" stop-color="#46307e"/></linearGradient><linearGradient id="gc46"><stop offset=".000" stop-color="#453581"/><stop offset=".083" stop-color="#453581"/><stop offset=".143" stop-color="#404588"/><stop offset=".187" stop-color="#33628d"/><stop offset=".231" stop-color="#297b8e"/><stop offset=".291" stop-color="#23888e"/><stop offset=".363" stop-color="#27808e"/><stop offset=".435" stop-color="#2d708e"/><stop offset=".507" stop-color="#33628d"/><stop offset=".580" stop-color="#39568c"/><stop offset=".656" stop-color="#3d4d8a"/><stop offset=".728" stop-color="#404588"/><stop offset=".800" stop-color="#423f85"/><stop offset=".872" stop-color="#443b84"/><stop offset=".944" stop-color="#453882"/><stop offset="1.000" stop-color="#453781"/></linearGradient><linearGradient id="gc47"><stop offset=".000" stop-color="#433d84"/><stop offset=".083" stop-color="#433d84"/><stop offset=".143" stop-color="#3c4f8a"/><stop offset=".187" stop-color="#2e6e8e"/><stop offset=".231" stop-color="#228b8d"/><stop offset=".291" stop-color="#1f9a8a"/><stop offset=".363" stop-color="#21908d"/><stop offset=".435" stop-color="#277e8e"/><stop offset=".507" stop-color="#2e6e8e"/><stop offset=".580" stop-color="#33628d"/><stop offset=".656" stop-color="#38588c"/><stop offset=".728" stop-color="#3c4f8a"/><stop offset=".800" stop-color="#3f4889"/><stop offset=".872" stop-color="#414487"/><stop offset=".944" stop-color="#424086"/><stop offset="1.000" stop-color="#433e85"/></linearGradient><linearGradient id="gc48"><stop offset=".000" stop-color="#414287"/><stop offset=".083" stop-color="#414287"/><stop offset=".143" stop-color="#39558c"/><stop offset=".187" stop-color="#2a768e"/><stop offset=".231" stop-color="#1f968b"/><stop offset=".291" stop-color="#22a785"/><stop offset=".363" stop-color="#1e9c89"/><stop offset=".435" stop-color="#24878e"/><stop offset=".507" stop-color="#2a768e"/><stop offset=".580" stop-color="#30698e"/><stop offset=".656" stop-color="#355f8d"/><stop offset=".728" stop-color="#39558c"/><stop offset=".800" stop-color="#3c4f8a"/><stop offset=".872" stop-color="#3e4989"/><stop offset=".944" stop-color="#404688"/><stop offset="1.000" stop-color="#414487"/></linearGradient><linearGradient id="gc49"><stop offset=".000" stop-color="#414287"/><stop offset=".083" stop-color="#414287"/><stop offset=".143" stop-color="#39558c"/><stop offset=".187" stop-color="#2a778e"/><stop offset=".231" stop-color="#1f978b"/><stop offset=".291" stop-color="#22a884"/><stop offset=".363" stop-color="#1e9d89"/><stop offset=".435" stop-color="#23888e"/><stop offset=".507" stop-color="#2a778e"/><stop offset=".580" stop-color="#306a8e"/><stop offset=".656" stop-color="#355f8d"/><stop offset=".728" stop-color="#39558c"/><stop offset=".800" stop-color="#3c4f8a"/><stop offset=".872" stop-color="#3e4989"/><stop offset=".944" stop-color="#404688"/><stop offset="1.000" stop-color="#414487"/></linearGradient><linearGradient id="gc50"><stop offset=".000" stop-color="#433e85"/><stop offset=".083" stop-color="#433e85"/><stop offset=".143" stop-color="#3c508b"/><stop offset=".187" stop-color="#2d708e"/><stop offset=".231" stop-color="#218e8d"/><stop offset=".291" stop-color="#1f9e89"/><stop offset=".363" stop-color="#20928c"/><stop offset=".435" stop-color="#27808e"/><stop offset=".507" stop-color="#2d708e"/><stop offset=".580" stop-color="#32648e"/><stop offset=".656" stop-color="#375a8c"/><stop offset=".728" stop-color="#3c508b"/><stop offset=".800" stop-color="#3e4989"/><stop offset=".872" stop-color="#404588"/><stop offset=".944" stop-color="#424186"/><stop offset="1.000" stop-color="#423f85"/></linearGradient><linearGradient id="gc51"><stop offset=".000" stop-color="#453781"/><stop offset=".083" stop-color="#453781"/><stop offset=".143" stop-color="#3f4788"/><stop offset=".187" stop-color="#32648e"/><stop offset=".231" stop-color="#277e8e"/><stop offset=".291" stop-color="#228c8d"/><stop offset=".363" stop-color="#26828e"/><stop offset=".435" stop-color="#2c728e"/><stop offset=".507" stop-color="#32648e"/><stop offset=".580" stop-color="#38598c"/><stop offset=".656" stop-color="#3c4f8a"/><stop offset=".728" stop-color="#3f4788"/><stop offset=".800" stop-color="#424186"/><stop offset=".872" stop-color="#433d84"/><stop offset=".944" stop-color="#443a83"/><stop offset="1.000" stop-color="#453882"/></linearGradient><linearGradient id="gc52"><stop offset=".000" stop-color="#46307e"/><stop offset=".083" stop-color="#46307e"/><stop offset=".143" stop-color="#423f85"/><stop offset=".187" stop-color="#375a8c"/><stop offset=".231" stop-color="#2d718e"/><stop offset=".291" stop-color="#287d8e"/><stop offset=".363" stop-color="#2b748e"/><stop offset=".435" stop-color="#31668e"/><stop offset=".507" stop-color="#375a8c"/><stop offset=".580" stop-color="#3c4f8a"/><stop offset=".656" stop-color="#404688"/><stop offset=".728" stop-color="#423f85"/><stop offset=".800" stop-color="#443a83"/><stop offset=".872" stop-color="#453581"/><stop offset=".944" stop-color="#46337f"/><stop offset="1.000" stop-color="#46327e"/></linearGradient><linearGradient id="gc53"><stop offset=".000" stop-color="#472e7c"/><stop offset=".083" stop-color="#472e7c"/><stop offset=".143" stop-color="#443b84"/><stop offset=".187" stop-color="#39558c"/><stop offset=".231" stop-color="#2f6c8e"/><stop offset=".291" stop-color="#2a778e"/><stop offset=".363" stop-color="#2d708e"/><stop offset=".435" stop-color="#33628d"/><stop offset=".507" stop-color="#39558c"/><stop offset=".580" stop-color="#3e4c8a"/><stop offset=".656" stop-color="#414287"/><stop offset=".728" stop-color="#443b84"/><stop offset=".800" stop-color="#453781"/><stop offset=".872" stop-color="#46337f"/><stop offset=".944" stop-color="#46307e"/><stop offset="1.000" stop-color="#472f7d"/></linearGradient><linearGradient id="gc54"><stop offset=".000" stop-color="#46327e"/><stop offset=".083" stop-color="#46327e"/><stop offset=".143" stop-color="#424086"/><stop offset=".187" stop-color="#375b8d"/><stop offset=".231" stop-color="#2c728e"/><stop offset=".291" stop-color="#277f8e"/><stop offset=".363" stop-color="#2a768e"/><stop offset=".435" stop-color="#31688e"/><stop offset=".507" stop-color="#375b8d"/><stop offset=".580" stop-color="#3c508b"/><stop offset=".656" stop-color="#3f4788"/><stop offset=".728" stop-color="#424086"/><stop offset=".800" stop-color="#443a83"/><stop offset=".872" stop-color="#453781"/><stop offset=".944" stop-color="#463480"/><stop offset="1.000" stop-color="#46327e"/></linearGradient><linearGradient id="gc55"><stop offset=".000" stop-color="#453882"/><stop offset=".083" stop-color="#453882"/><stop offset=".143" stop-color="#3f4889"/><stop offset=".187" stop-color="#32658e"/><stop offset=".231" stop-color="#27808e"/><stop offset=".291" stop-color="#218e8d"/><stop offset=".363" stop-color="#25848e"/><stop offset=".435" stop-color="#2b748e"/><stop offset=".507" stop-color="#32658e"/><stop offset=".580" stop-color="#375a8c"/><stop offset=".656" stop-color="#3c508b"/><stop offset=".728" stop-color="#3f4889"/><stop offset=".800" stop-color="#414287"/><stop offset=".872" stop-color="#433e85"/><stop offset=".944" stop-color="#443a83"/><stop offset="1.000" stop-color="#443983"/></linearGradient><linearGradient id="gc56"><stop offset=".000" stop-color="#423f85"/><stop offset=".083" stop-color="#423f85"/><stop offset=".143" stop-color="#3c508b"/><stop offset=".187" stop-color="#2d718e"/><stop offset=".231" stop-color="#218e8d"/><stop offset=".291" stop-color="#1f9f88"/><stop offset=".363" stop-color="#20938c"/><stop offset=".435" stop-color="#26818e"/><stop offset=".507" stop-color="#2d718e"/><stop offset=".580" stop-color="#32648e"/><stop offset=".656" stop-color="#375a8c"/><stop offset=".728" stop-color="#3c508b"/><stop offset=".800" stop-color="#3e4a89"/><stop offset=".872" stop-color="#404588"/><stop offset=".944" stop-color="#414287"/><stop offset="1.000" stop-color="#424086"/></linearGradient><linearGradient id="gc57"><stop offset=".000" stop-color="#414287"/><stop offset=".083" stop-color="#414287"/><stop offset=".143" stop-color="#39558c"/><stop offset=".187" stop-color="#2a768e"/><stop offset=".231" stop-color="#1f968b"/><stop offset=".291" stop-color="#22a785"/><stop offset=".363" stop-color="#1e9c89"/><stop offset=".435" stop-color="#23888e"/><stop offset=".507" stop-color="#2a768e"/><stop offset=".580" stop-color="#306a8e"/><stop offset=".656" stop-color="#355f8d"/><stop offset=".728" stop-color="#39558c"/><stop offset=".800" stop-color="#3c4f8a"/><stop offset=".872" stop-color="#3e4989"/><stop offset=".944" stop-color="#404688"/><stop offset="1.000" stop-color="#414487"/></linearGradient><linearGradient id="gc58"><stop offset=".000" stop-color="#424186"/><stop offset=".083" stop-color="#424186"/><stop offset=".143" stop-color="#3a538b"/><stop offset=".187" stop-color="#2b748e"/><stop offset=".231" stop-color="#20938c"/><stop offset=".291" stop-color="#20a486"/><stop offset=".363" stop-color="#1f998a"/><stop offset=".435" stop-color="#25858e"/><stop offset=".507" stop-color="#2b748e"/><stop offset=".580" stop-color="#31678e"/><stop offset=".656" stop-color="#365d8d"/><stop offset=".728" stop-color="#3a538b"/><stop offset=".800" stop-color="#3d4d8a"/><stop offset=".872" stop-color="#3f4889"/><stop offset=".944" stop-color="#404588"/><stop offset="1.000" stop-color="#414287"/></linearGradient><linearGradient id="gc59"><stop offset=".000" stop-color="#443b84"/><stop offset=".083" stop-color="#443b84"/><stop offset=".143" stop-color="#3e4c8a"/><stop offset=".187" stop-color="#2f6b8e"/><stop offset=".231" stop-color="#24868e"/><stop offset=".291" stop-color="#1f958b"/><stop offset=".363" stop-color="#228c8d"/><stop offset=".435" stop-color="#297a8e"/><stop offset=".507" stop-color="#2f6b8e"/><stop offset=".580" stop-color="#355f8d"/><stop offset=".656" stop-color="#3a548c"/><stop offset=".728" stop-color="#3e4c8a"/><stop offset=".800" stop-color="#404688"/><stop offset=".872" stop-color="#424186"/><stop offset=".944" stop-color="#433e85"/><stop offset="1.000" stop-color="#433d84"/></linearGradient><linearGradient id="gc60"><stop offset=".000" stop-color="#463480"/><stop offset=".083" stop-color="#463480"/><stop offset=".143" stop-color="#414487"/><stop offset=".187" stop-color="#355f8d"/><stop offset=".231" stop-color="#2a788e"/><stop offset=".291" stop-color="#25858e"/><stop offset=".363" stop-color="#287d8e"/><stop offset=".435" stop-color="#2e6d8e"/><stop offset=".507" stop-color="#355f8d"/><stop offset=".580" stop-color="#3a548c"/><stop offset=".656" stop-color="#3e4c8a"/><stop offset=".728" stop-color="#414487"/><stop offset=".800" stop-color="#433e85"/><stop offset=".872" stop-color="#443a83"/><stop offset=".944" stop-color="#453781"/><stop offset="1.000" stop-color="#453581"/></linearGradient><linearGradient id="gc61"><stop offset=".000" stop-color="#46307e"/><stop offset=".083" stop-color="#46307e"/><stop offset=".143" stop-color="#433e85"/><stop offset=".187" stop-color="#38598c"/><stop offset=".231" stop-color="#2d708e"/><stop offset=".291" stop-color="#287c8e"/><stop offset=".363" stop-color="#2c738e"/><stop offset=".435" stop-color="#32658e"/><stop offset=".507" stop-color="#38598c"/><stop offset=".580" stop-color="#3d4e8a"/><stop offset=".656" stop-color="#404688"/><stop offset=".728" stop-color="#433e85"/><stop offset=".800" stop-color="#443983"/><stop offset=".872" stop-color="#453581"/><stop offset=".944" stop-color="#46337f"/><stop offset="1.000" stop-color="#46307e"/></linearGradient><linearGradient id="gc62"><stop offset=".000" stop-color="#46307e"/><stop offset=".083" stop-color="#46307e"/><stop offset=".143" stop-color="#423f85"/><stop offset=".187" stop-color="#375a8c"/><stop offset=".231" stop-color="#2c718e"/><stop offset=".291" stop-color="#277e8e"/><stop offset=".363" stop-color="#2a768e"/><stop offset=".435" stop-color="#31678e"/><stop offset=".507" stop-color="#375a8c"/><stop offset=".580" stop-color="#3c508b"/><stop offset=".656" stop-color="#3f4788"/><stop offset=".728" stop-color="#423f85"/><stop offset=".800" stop-color="#443a83"/><stop offset=".872" stop-color="#453781"/><stop offset=".944" stop-color="#463480"/><stop offset="1.000" stop-color="#46327e"/></linearGradient><linearGradient id="gc63"><stop offset=".000" stop-color="#453781"/><stop offset=".083" stop-color="#453781"/><stop offset=".143" stop-color="#404688"/><stop offset=".187" stop-color="#33638d"/><stop offset=".231" stop-color="#287d8e"/><stop offset=".291" stop-color="#238a8d"/><stop offset=".363" stop-color="#26828e"/><stop offset=".435" stop-color="#2c718e"/><stop offset=".507" stop-color="#33638d"/><stop offset=".580" stop-color="#38588c"/><stop offset=".656" stop-color="#3d4e8a"/><stop offset=".728" stop-color="#404688"/><stop offset=".800" stop-color="#424086"/><stop offset=".872" stop-color="#433d84"/><stop offset=".944" stop-color="#443983"/><stop offset="1.000" stop-color="#453882"/></linearGradient><linearGradient id="gc64"><stop offset=".000" stop-color="#433d84"/><stop offset=".083" stop-color="#433d84"/><stop offset=".143" stop-color="#3d4e8a"/><stop offset=".187" stop-color="#2e6d8e"/><stop offset=".231" stop-color="#238a8d"/><stop offset=".291" stop-color="#1f998a"/><stop offset=".363" stop-color="#218f8d"/><stop offset=".435" stop-color="#287d8e"/><stop offset=".507" stop-color="#2e6d8e"/><stop offset=".580" stop-color="#34618d"/><stop offset=".656" stop-color="#39568c"/><stop offset=".728" stop-color="#3d4e8a"/><stop offset=".800" stop-color="#3f4889"/><stop offset=".872" stop-color="#414287"/><stop offset=".944" stop-color="#424086"/><stop offset="1.000" stop-color="#433e85"/></linearGradient><linearGradient id="gc65"><stop offset=".000" stop-color="#424086"/><stop offset=".083" stop-color="#424086"/><stop offset=".143" stop-color="#3b528b"/><stop offset=".187" stop-color="#2c728e"/><stop offset=".231" stop-color="#20928c"/><stop offset=".291" stop-color="#1fa187"/><stop offset=".363" stop-color="#1f978b"/><stop offset=".435" stop-color="#25838e"/><stop offset=".507" stop-color="#2c728e"/><stop offset=".580" stop-color="#31668e"/><stop offset=".656" stop-color="#365c8d"/><stop offset=".728" stop-color="#3b528b"/><stop offset=".800" stop-color="#3e4c8a"/><stop offset=".872" stop-color="#3f4788"/><stop offset=".944" stop-color="#414487"/><stop offset="1.000" stop-color="#424186"/></linearGradient><linearGradient id="gc66"><stop offset=".000" stop-color="#423f85"/><stop offset=".083" stop-color="#423f85"/><stop offset=".143" stop-color="#3b518b"/><stop offset=".187" stop-color="#2c718e"/><stop offset=".231" stop-color="#21908d"/><stop offset=".291" stop-color="#1fa188"/><stop offset=".363" stop-color="#1f958b"/><stop offset=".435" stop-color="#26828e"/><stop offset=".507" stop-color="#2c718e"/><stop offset=".580" stop-color="#32658e"/><stop offset=".656" stop-color="#375b8d"/><stop offset=".728" stop-color="#3b518b"/><stop offset=".800" stop-color="#3e4c8a"/><stop offset=".872" stop-color="#404688"/><stop offset=".944" stop-color="#414287"/><stop offset="1.000" stop-color="#424086"/></linearGradient><linearGradient id="gc67"><stop offset=".000" stop-color="#443b84"/><stop offset=".083" stop-color="#443b84"/><stop offset=".143" stop-color="#3e4c8a"/><stop offset=".187" stop-color="#2f6b8e"/><stop offset=".231" stop-color="#24868e"/><stop offset=".291" stop-color="#1f958b"/><stop offset=".363" stop-color="#228c8d"/><stop offset=".435" stop-color="#297a8e"/><stop offset=".507" stop-color="#2f6b8e"/><stop offset=".580" stop-color="#355f8d"/><stop offset=".656" stop-color="#3a548c"/><stop offset=".728" stop-color="#3e4c8a"/><stop offset=".800" stop-color="#404688"/><stop offset=".872" stop-color="#424186"/><stop offset=".944" stop-color="#433e85"/><stop offset="1.000" stop-color="#433d84"/></linearGradient><linearGradient id="gc68"><stop offset=".000" stop-color="#453581"/><stop offset=".083" stop-color="#453581"/><stop offset=".143" stop-color="#404588"/><stop offset=".187" stop-color="#33628d"/><stop offset=".231" stop-color="#297b8e"/><stop offset=".291" stop-color="#23888e"/><stop offset=".363" stop-color="#27808e"/><stop offset=".435" stop-color="#2d708e"/><stop offset=".507" stop-color="#33628d"/><stop offset=".580" stop-color="#39568c"/><stop offset=".656" stop-color="#3d4d8a"/><stop offset=".728" stop-color="#404588"/><stop offset=".800" stop-color="#423f85"/><stop offset=".872" stop-color="#443b84"/><stop offset=".944" stop-color="#453882"/><stop offset="1.000" stop-color="#453781"/></linearGradient><linearGradient id="gc69"><stop offset=".000" stop-color="#46327e"/><stop offset=".083" stop-color="#46327e"/><stop offset=".143" stop-color="#424186"/><stop offset=".187" stop-color="#365c8d"/><stop offset=".231" stop-color="#2b748e"/><stop offset=".291" stop-color="#26818e"/><stop offset=".363" stop-color="#2a788e"/><stop offset=".435" stop-color="#306a8e"/><stop offset=".507" stop-color="#365c8d"/><stop offset=".580" stop-color="#3b518b"/><stop offset=".656" stop-color="#3f4889"/><stop offset=".728" stop-color="#424186"/><stop offset=".800" stop-color="#443b84"/><stop offset=".872" stop-color="#453882"/><stop offset=".944" stop-color="#453581"/><stop offset="1.000" stop-color="#46337f"/></linearGradient><linearGradient id="gc70"><stop offset=".000" stop-color="#46337f"/><stop offset=".083" stop-color="#46337f"/><stop offset=".143" stop-color="#424186"/><stop offset=".187" stop-color="#365d8d"/><stop offset=".231" stop-color="#2b758e"/><stop offset=".291" stop-color="#26828e"/><stop offset=".363" stop-color="#297a8e"/><stop offset=".435" stop-color="#2f6b8e"/><stop offset=".507" stop-color="#365d8d"/><stop offset=".580" stop-color="#3b528b"/><stop offset=".656" stop-color="#3e4989"/><stop offset=".728" stop-color="#424186"/><stop offset=".800" stop-color="#433d84"/><stop offset=".872" stop-color="#453882"/><stop offset=".944" stop-color="#453581"/><stop offset="1.000" stop-color="#463480"/></linearGradient><linearGradient id="gc71"><stop offset=".000" stop-color="#453781"/><stop offset=".083" stop-color="#453781"/><stop offset=".143" stop-color="#3f4788"/><stop offset=".187" stop-color="#32648e"/><stop offset=".231" stop-color="#277e8e"/><stop offset=".291" stop-color="#228c8d"/><stop offset=".363" stop-color="#26828e"/><stop offset=".435" stop-color="#2c728e"/><stop offset=".507" stop-color="#32648e"/><stop offset=".580" stop-color="#38598c"/><stop offset=".656" stop-color="#3c4f8a"/><stop offset=".728" stop-color="#3f4788"/><stop offset=".800" stop-color="#424186"/><stop offset=".872" stop-color="#433d84"/><stop offset=".944" stop-color="#443a83"/><stop offset="1.000" stop-color="#453882"/></linearGradient><linearGradient id="gc72"><stop offset=".000" stop-color="#443b84"/><stop offset=".083" stop-color="#443b84"/><stop offset=".143" stop-color="#3d4d8a"/><stop offset=".187" stop-color="#2f6c8e"/><stop offset=".231" stop-color="#23888e"/><stop offset=".291" stop-color="#1f978b"/><stop offset=".363" stop-color="#228d8d"/><stop offset=".435" stop-color="#297b8e"/><stop offset=".507" stop-color="#2f6c8e"/><stop offset=".580" stop-color="#34608d"/><stop offset=".656" stop-color="#39558c"/><stop offset=".728" stop-color="#3d4d8a"/><stop offset=".800" stop-color="#3f4788"/><stop offset=".872" stop-color="#414287"/><stop offset=".944" stop-color="#423f85"/><stop offset="1.000" stop-color="#433d84"/></linearGradient><linearGradient id="gc73"><stop offset=".000" stop-color="#423f85"/><stop offset=".083" stop-color="#423f85"/><stop offset=".143" stop-color="#3b518b"/><stop offset=".187" stop-color="#2c718e"/><stop offset=".231" stop-color="#21908d"/><stop offset=".291" stop-color="#1fa088"/><stop offset=".363" stop-color="#1f958b"/><stop offset=".435" stop-color="#26828e"/><stop offset=".507" stop-color="#2c718e"/><stop offset=".580" stop-color="#32658e"/><stop offset=".656" stop-color="#375b8d"/><stop offset=".728" stop-color="#3b518b"/><stop offset=".800" stop-color="#3e4a89"/><stop offset=".872" stop-color="#404688"/><stop offset=".944" stop-color="#414287"/><stop offset="1.000" stop-color="#424086"/></linearGradient><linearGradient id="gc74"><stop offset=".000" stop-color="#424086"/><stop offset=".083" stop-color="#424086"/><stop offset=".143" stop-color="#3b528b"/><stop offset=".187" stop-color="#2c728e"/><stop offset=".231" stop-color="#21918c"/><stop offset=".291" stop-color="#1fa187"/><stop offset=".363" stop-color="#1f968b"/><stop offset=".435" stop-color="#25838e"/><stop offset=".507" stop-color="#2c728e"/><stop offset=".580" stop-color="#31668e"/><stop offset=".656" stop-color="#365c8d"/><stop offset=".728" stop-color="#3b528b"/><stop offset=".800" stop-color="#3e4c8a"/><stop offset=".872" stop-color="#3f4788"/><stop offset=".944" stop-color="#414487"/><stop offset="1.000" stop-color="#424186"/></linearGradient><linearGradient id="gc75"><stop offset=".000" stop-color="#433e85"/><stop offset=".083" stop-color="#433e85"/><stop offset=".143" stop-color="#3c4f8a"/><stop offset=".187" stop-color="#2e6f8e"/><stop offset=".231" stop-color="#228b8d"/><stop offset=".291" stop-color="#1e9b8a"/><stop offset=".363" stop-color="#21918c"/><stop offset=".435" stop-color="#277e8e"/><stop offset=".507" stop-color="#2e6f8e"/><stop offset=".580" stop-color="#33628d"/><stop offset=".656" stop-color="#38588c"/><stop offset=".728" stop-color="#3c4f8a"/><stop offset=".800" stop-color="#3f4889"/><stop offset=".872" stop-color="#414487"/><stop offset=".944" stop-color="#424086"/><stop offset="1.000" stop-color="#433e85"/></linearGradient><linearGradient id="gc76"><stop offset=".000" stop-color="#453882"/><stop offset=".083" stop-color="#453882"/><stop offset=".143" stop-color="#3f4889"/><stop offset=".187" stop-color="#31668e"/><stop offset=".231" stop-color="#26818e"/><stop offset=".291" stop-color="#218f8d"/><stop offset=".363" stop-color="#25858e"/><stop offset=".435" stop-color="#2b758e"/><stop offset=".507" stop-color="#31668e"/><stop offset=".580" stop-color="#375b8d"/><stop offset=".656" stop-color="#3b518b"/><stop offset=".728" stop-color="#3f4889"/><stop offset=".800" stop-color="#414287"/><stop offset=".872" stop-color="#433e85"/><stop offset=".944" stop-color="#443b84"/><stop offset="1.000" stop-color="#443983"/></linearGradient><linearGradient id="gc77"><stop offset=".000" stop-color="#46337f"/><stop offset=".083" stop-color="#46337f"/><stop offset=".143" stop-color="#424186"/><stop offset=".187" stop-color="#365d8d"/><stop offset=".231" stop-color="#2b758e"/><stop offset=".291" stop-color="#26828e"/><stop offset=".363" stop-color="#29798e"/><stop offset=".435" stop-color="#306a8e"/><stop offset=".507" stop-color="#365d8d"/><stop offset=".580" stop-color="#3b528b"/><stop offset=".656" stop-color="#3e4989"/><stop offset=".728" stop-color="#424186"/><stop offset=".800" stop-color="#433d84"/><stop offset=".872" stop-color="#453882"/><stop offset=".944" stop-color="#453581"/><stop offset="1.000" stop-color="#46337f"/></linearGradient><linearGradient id="gc78"><stop offset=".000" stop-color="#472e7c"/><stop offset=".083" stop-color="#472e7c"/><stop offset=".143" stop-color="#433d84"/><stop offset=".187" stop-color="#39558c"/><stop offset=".231" stop-color="#2e6d8e"/><stop offset=".291" stop-color="#2a788e"/><stop offset=".363" stop-color="#2d718e"/><stop offset=".435" stop-color="#33638d"/><stop offset=".507" stop-color="#39558c"/><stop offset=".580" stop-color="#3e4c8a"/><stop offset=".656" stop-color="#414487"/><stop offset=".728" stop-color="#433d84"/><stop offset=".800" stop-color="#453882"/><stop offset=".872" stop-color="#463480"/><stop offset=".944" stop-color="#46307e"/><stop offset="1.000" stop-color="#472f7d"/></linearGradient><linearGradient id="gc79"><stop offset=".000" stop-color="#472e7c"/><stop offset=".083" stop-color="#472e7c"/><stop offset=".143" stop-color="#443b84"/><stop offset=".187" stop-color="#39558c"/><stop offset=".231" stop-color="#2f6c8e"/><stop offset=".291" stop-color="#2a778e"/><stop offset=".363" stop-color="#2d708e"/><stop offset=".435" stop-color="#33628d"/><stop offset=".507" stop-color="#39558c"/><stop offset=".580" stop-color="#3e4c8a"/><stop offset=".656" stop-color="#414287"/><stop offset=".728" stop-color="#443b84"/><stop offset=".800" stop-color="#453781"/><stop offset=".872" stop-color="#46337f"/><stop offset=".944" stop-color="#46307e"/><stop offset="1.000" stop-color="#472f7d"/></linearGradient><linearGradient id="gc80"><stop offset=".000" stop-color="#46327e"/><stop offset=".083" stop-color="#46327e"/><stop offset=".143" stop-color="#424086"/><stop offset=".187" stop-color="#365c8d"/><stop offset=".231" stop-color="#2c738e"/><stop offset=".291" stop-color="#26818e"/><stop offset=".363" stop-color="#2a788e"/><stop offset=".435" stop-color="#30698e"/><stop offset=".507" stop-color="#365c8d"/><stop offset=".580" stop-color="#3b518b"/><stop offset=".656" stop-color="#3f4889"/><stop offset=".728" stop-color="#424086"/><stop offset=".800" stop-color="#443b84"/><stop offset=".872" stop-color="#453882"/><stop offset=".944" stop-color="#463480"/><stop offset="1.000" stop-color="#46337f"/></linearGradient><linearGradient id="gc81"><stop offset=".000" stop-color="#443983"/><stop offset=".083" stop-color="#443983"/><stop offset=".143" stop-color="#3e4989"/><stop offset=".187" stop-color="#31678e"/><stop offset=".231" stop-color="#26828e"/><stop offset=".291" stop-color="#21918c"/><stop offset=".363" stop-color="#24878e"/><stop offset=".435" stop-color="#2a768e"/><stop offset=".507" stop-color="#31678e"/><stop offset=".580" stop-color="#365c8d"/><stop offset=".656" stop-color="#3b528b"/><stop offset=".728" stop-color="#3e4989"/><stop offset=".800" stop-color="#414487"/><stop offset=".872" stop-color="#423f85"/><stop offset=".944" stop-color="#443b84"/><stop offset="1.000" stop-color="#443a83"/></linearGradient><linearGradient id="gc82"><stop offset=".000" stop-color="#424086"/><stop offset=".083" stop-color="#424086"/><stop offset=".143" stop-color="#3a538b"/><stop offset=".187" stop-color="#2c738e"/><stop offset=".231" stop-color="#20928c"/><stop offset=".291" stop-color="#20a386"/><stop offset=".363" stop-color="#1f988b"/><stop offset=".435" stop-color="#25848e"/><stop offset=".507" stop-color="#2c738e"/><stop offset=".580" stop-color="#31678e"/><stop offset=".656" stop-color="#365d8d"/><stop offset=".728" stop-color="#3a538b"/><stop offset=".800" stop-color="#3d4d8a"/><stop offset=".872" stop-color="#3f4788"/><stop offset=".944" stop-color="#414487"/><stop offset="1.000" stop-color="#424186"/></linearGradient><linearGradient id="gc83"><stop offset=".000" stop-color="#3f4788"/><stop offset=".083" stop-color="#3f4788"/><stop offset=".143" stop-color="#375b8d"/><stop offset=".187" stop-color="#277e8e"/><stop offset=".231" stop-color="#1fa188"/><stop offset=".291" stop-color="#2db27d"/><stop offset=".363" stop-color="#21a685"/><stop offset=".435" stop-color="#21918c"/><stop offset=".507" stop-color="#277e8e"/><stop offset=".580" stop-color="#2d718e"/><stop offset=".656" stop-color="#32658e"/><stop offset=".728" stop-color="#375b8d"/><stop offset=".800" stop-color="#3a538b"/><stop offset=".872" stop-color="#3c4f8a"/><stop offset=".944" stop-color="#3e4a89"/><stop offset="1.000" stop-color="#3f4889"/></linearGradient><linearGradient id="gc84"><stop offset=".000" stop-color="#3f4889"/><stop offset=".083" stop-color="#3f4889"/><stop offset=".143" stop-color="#365d8d"/><stop offset=".187" stop-color="#26818e"/><stop offset=".231" stop-color="#20a386"/><stop offset=".291" stop-color="#32b67a"/><stop offset=".363" stop-color="#24aa83"/><stop offset=".435" stop-color="#20938c"/><stop offset=".507" stop-color="#26818e"/><stop offset=".580" stop-color="#2c728e"/><stop offset=".656" stop-color="#31678e"/><stop offset=".728" stop-color="#365d8d"/><stop offset=".800" stop-color="#39558c"/><stop offset=".872" stop-color="#3c508b"/><stop offset=".944" stop-color="#3d4d8a"/><stop offset="1.000" stop-color="#3e4989"/></linearGradient><linearGradient id="gc85"><stop offset=".000" stop-color="#424186"/><stop offset=".083" stop-color="#424186"/><stop offset=".143" stop-color="#3a548c"/><stop offset=".187" stop-color="#2b758e"/><stop offset=".231" stop-color="#1f948c"/><stop offset=".291" stop-color="#21a585"/><stop offset=".363" stop-color="#1f9a8a"/><stop offset=".435" stop-color="#24868e"/><stop offset=".507" stop-color="#2b758e"/><stop offset=".580" stop-color="#31688e"/><stop offset=".656" stop-color="#355e8d"/><stop offset=".728" stop-color="#3a548c"/><stop offset=".800" stop-color="#3d4e8a"/><stop offset=".872" stop-color="#3f4889"/><stop offset=".944" stop-color="#404588"/><stop offset="1.000" stop-color="#414287"/></linearGradient><linearGradient id="gc86"><stop offset=".000" stop-color="#463480"/><stop offset=".083" stop-color="#463480"/><stop offset=".143" stop-color="#414287"/><stop offset=".187" stop-color="#355f8d"/><stop offset=".231" stop-color="#2a778e"/><stop offset=".291" stop-color="#25848e"/><stop offset=".363" stop-color="#287c8e"/><stop offset=".435" stop-color="#2e6d8e"/><stop offset=".507" stop-color="#355f8d"/><stop offset=".580" stop-color="#3a538b"/><stop offset=".656" stop-color="#3e4a89"/><stop offset=".728" stop-color="#414287"/><stop offset=".800" stop-color="#433e85"/><stop offset=".872" stop-color="#443983"/><stop offset=".944" stop-color="#453781"/><stop offset="1.000" stop-color="#463480"/></linearGradient><linearGradient id="gc87"><stop offset=".000" stop-color="#482576"/><stop offset=".083" stop-color="#482576"/><stop offset=".143" stop-color="#46307e"/><stop offset=".187" stop-color="#404688"/><stop offset=".231" stop-color="#375a8c"/><stop offset=".291" stop-color="#32648e"/><stop offset=".363" stop-color="#365d8d"/><stop offset=".435" stop-color="#3b518b"/><stop offset=".507" stop-color="#404688"/><stop offset=".580" stop-color="#433e85"/><stop offset=".656" stop-color="#453781"/><stop offset=".728" stop-color="#46307e"/><stop offset=".800" stop-color="#472d7b"/><stop offset=".872" stop-color="#472a7a"/><stop offset=".944" stop-color="#482878"/><stop offset="1.000" stop-color="#482677"/></linearGradient><linearGradient id="gc88"><stop offset=".000" stop-color="#481f70"/><stop offset=".083" stop-color="#481f70"/><stop offset=".143" stop-color="#482979"/><stop offset=".187" stop-color="#443a83"/><stop offset=".231" stop-color="#3e4c8a"/><stop offset=".291" stop-color="#3a548c"/><stop offset=".363" stop-color="#3c4f8a"/><stop offset=".435" stop-color="#414487"/><stop offset=".507" stop-color="#443a83"/><stop offset=".580" stop-color="#46337f"/><stop offset=".656" stop-color="#472e7c"/><stop offset=".728" stop-color="#482979"/><stop offset=".800" stop-color="#482576"/><stop offset=".872" stop-color="#482374"/><stop offset=".944" stop-color="#482173"/><stop offset="1.000" stop-color="#482071"/></linearGradient><linearGradient id="gc89"><stop offset=".000" stop-color="#482677"/><stop offset=".083" stop-color="#482677"/><stop offset=".143" stop-color="#46327e"/><stop offset=".187" stop-color="#3f4788"/><stop offset=".231" stop-color="#375b8d"/><stop offset=".291" stop-color="#32658e"/><stop offset=".363" stop-color="#355f8d"/><stop offset=".435" stop-color="#3b528b"/><stop offset=".507" stop-color="#3f4788"/><stop offset=".580" stop-color="#423f85"/><stop offset=".656" stop-color="#453882"/><stop offset=".728" stop-color="#46327e"/><stop offset=".800" stop-color="#472e7c"/><stop offset=".872" stop-color="#472a7a"/><stop offset=".944" stop-color="#482979"/><stop offset="1.000" stop-color="#482677"/></linearGradient><linearGradient id="gc90"><stop offset=".000" stop-color="#453882"/><stop offset=".083" stop-color="#453882"/><stop offset=".143" stop-color="#3f4889"/><stop offset=".187" stop-color="#31668e"/><stop offset=".231" stop-color="#26818e"/><stop offset=".291" stop-color="#218f8d"/><stop offset=".363" stop-color="#25858e"/><stop offset=".435" stop-color="#2b748e"/><stop offset=".507" stop-color="#31668e"/><stop offset=".580" stop-color="#375b8d"/><stop offset=".656" stop-color="#3b518b"/><stop offset=".728" stop-color="#3f4889"/><stop offset=".800" stop-color="#414287"/><stop offset=".872" stop-color="#433e85"/><stop offset=".944" stop-color="#443b84"/><stop offset="1.000" stop-color="#443983"/></linearGradient><linearGradient id="gc91"><stop offset=".000" stop-color="#3e4c8a"/><stop offset=".083" stop-color="#3e4c8a"/><stop offset=".143" stop-color="#34618d"/><stop offset=".187" stop-color="#24868e"/><stop offset=".231" stop-color="#25ac82"/><stop offset=".291" stop-color="#42be71"/><stop offset=".363" stop-color="#2db27d"/><stop offset=".435" stop-color="#1e9b8a"/><stop offset=".507" stop-color="#24868e"/><stop offset=".580" stop-color="#2a778e"/><stop offset=".656" stop-color="#2f6c8e"/><stop offset=".728" stop-color="#34618d"/><stop offset=".800" stop-color="#375a8c"/><stop offset=".872" stop-color="#3a548c"/><stop offset=".944" stop-color="#3c508b"/><stop offset="1.000" stop-color="#3d4e8a"/></linearGradient><linearGradient id="gc92"><stop offset=".000" stop-color="#38588c"/><stop offset=".083" stop-color="#38588c"/><stop offset=".143" stop-color="#2e6f8e"/><stop offset=".187" stop-color="#1e9b8a"/><stop offset=".231" stop-color="#50c46a"/><stop offset=".291" stop-color="#89d548"/><stop offset=".363" stop-color="#60ca60"/><stop offset=".435" stop-color="#2db27d"/><stop offset=".507" stop-color="#1e9b8a"/><stop offset=".580" stop-color="#23898e"/><stop offset=".656" stop-color="#297b8e"/><stop offset=".728" stop-color="#2e6f8e"/><stop offset=".800" stop-color="#31678e"/><stop offset=".872" stop-color="#34608d"/><stop offset=".944" stop-color="#365c8d"/><stop offset="1.000" stop-color="#38598c"/></linearGradient><linearGradient id="gc93"><stop offset=".000" stop-color="#3a548c"/><stop offset=".083" stop-color="#3a548c"/><stop offset=".143" stop-color="#2f6b8e"/><stop offset=".187" stop-color="#1f948c"/><stop offset=".231" stop-color="#3fbc73"/><stop offset=".291" stop-color="#70cf57"/><stop offset=".363" stop-color="#4ec36b"/><stop offset=".435" stop-color="#25ab82"/><stop offset=".507" stop-color="#1f948c"/><stop offset=".580" stop-color="#25838e"/><stop offset=".656" stop-color="#2a768e"/><stop offset=".728" stop-color="#2f6b8e"/><stop offset=".800" stop-color="#33638d"/><stop offset=".872" stop-color="#365d8d"/><stop offset=".944" stop-color="#38598c"/><stop offset="1.000" stop-color="#39558c"/></linearGradient><linearGradient id="gc94"><stop offset=".000" stop-color="#423f85"/><stop offset=".083" stop-color="#423f85"/><stop offset=".143" stop-color="#3b518b"/><stop offset=".187" stop-color="#2c718e"/><stop offset=".231" stop-color="#21908d"/><stop offset=".291" stop-color="#1fa088"/><stop offset=".363" stop-color="#1f948c"/><stop offset=".435" stop-color="#26828e"/><stop offset=".507" stop-color="#2c718e"/><stop offset=".580" stop-color="#32658e"/><stop offset=".656" stop-color="#375b8d"/><stop offset=".728" stop-color="#3b518b"/><stop offset=".800" stop-color="#3e4a89"/><stop offset=".872" stop-color="#404688"/><stop offset=".944" stop-color="#414287"/><stop offset="1.000" stop-color="#424086"/></linearGradient><linearGradient id="gc95"><stop offset=".000" stop-color="#482173"/><stop offset=".083" stop-color="#482173"/><stop offset=".143" stop-color="#472c7a"/><stop offset=".187" stop-color="#423f85"/><stop offset=".231" stop-color="#3c508b"/><stop offset=".291" stop-color="#375a8c"/><stop offset=".363" stop-color="#3a538b"/><stop offset=".435" stop-color="#3f4889"/><stop offset=".507" stop-color="#423f85"/><stop offset=".580" stop-color="#453781"/><stop offset=".656" stop-color="#46307e"/><stop offset=".728" stop-color="#472c7a"/><stop offset=".800" stop-color="#482878"/><stop offset=".872" stop-color="#482576"/><stop offset=".944" stop-color="#482374"/><stop offset="1.000" stop-color="#482173"/></linearGradient><linearGradient id="gc96"><stop offset=".000" stop-color="#460b5e"/><stop offset=".083" stop-color="#460b5e"/><stop offset=".143" stop-color="#471063"/><stop offset=".187" stop-color="#481769"/><stop offset=".231" stop-color="#481f70"/><stop offset=".291" stop-color="#482173"/><stop offset=".363" stop-color="#482071"/><stop offset=".435" stop-color="#481b6d"/><stop offset=".507" stop-color="#481769"/><stop offset=".580" stop-color="#481467"/><stop offset=".656" stop-color="#471164"/><stop offset=".728" stop-color="#471063"/><stop offset=".800" stop-color="#470e61"/><stop offset=".872" stop-color="#470d60"/><stop offset=".944" stop-color="#470d60"/><stop offset="1.000" stop-color="#470d60"/></linearGradient><linearGradient id="gc97"><stop offset=".000" stop-color="#471365"/><stop offset=".083" stop-color="#471365"/><stop offset=".143" stop-color="#48186a"/><stop offset=".187" stop-color="#482374"/><stop offset=".231" stop-color="#472d7b"/><stop offset=".291" stop-color="#46327e"/><stop offset=".363" stop-color="#472e7c"/><stop offset=".435" stop-color="#482878"/><stop offset=".507" stop-color="#482374"/><stop offset=".580" stop-color="#481d6f"/><stop offset=".656" stop-color="#481b6d"/><stop offset=".728" stop-color="#48186a"/><stop offset=".800" stop-color="#481668"/><stop offset=".872" stop-color="#481467"/><stop offset=".944" stop-color="#471365"/><stop offset="1.000" stop-color="#471365"/></linearGradient><linearGradient id="gc98"><stop offset=".000" stop-color="#472f7d"/><stop offset=".083" stop-color="#472f7d"/><stop offset=".143" stop-color="#433d84"/><stop offset=".187" stop-color="#39568c"/><stop offset=".231" stop-color="#2e6e8e"/><stop offset=".291" stop-color="#297a8e"/><stop offset=".363" stop-color="#2c728e"/><stop offset=".435" stop-color="#32648e"/><stop offset=".507" stop-color="#39568c"/><stop offset=".580" stop-color="#3d4d8a"/><stop offset=".656" stop-color="#404588"/><stop offset=".728" stop-color="#433d84"/><stop offset=".800" stop-color="#453882"/><stop offset=".872" stop-color="#463480"/><stop offset=".944" stop-color="#46327e"/><stop offset="1.000" stop-color="#46307e"/></linearGradient><linearGradient id="gc99"><stop offset=".000" stop-color="#3c508b"/><stop offset=".083" stop-color="#3c508b"/><stop offset=".143" stop-color="#32658e"/><stop offset=".187" stop-color="#228d8d"/><stop offset=".231" stop-color="#2eb37c"/><stop offset=".291" stop-color="#56c667"/><stop offset=".363" stop-color="#3aba76"/><stop offset=".435" stop-color="#1fa187"/><stop offset=".507" stop-color="#228d8d"/><stop offset=".580" stop-color="#287d8e"/><stop offset=".656" stop-color="#2d718e"/><stop offset=".728" stop-color="#32658e"/><stop offset=".800" stop-color="#355e8d"/><stop offset=".872" stop-color="#38588c"/><stop offset=".944" stop-color="#3a538b"/><stop offset="1.000" stop-color="#3b518b"/></linearGradient><linearGradient id="gc100"><stop offset=".000" stop-color="#33628d"/><stop offset=".083" stop-color="#33628d"/><stop offset=".143" stop-color="#297b8e"/><stop offset=".187" stop-color="#26ad81"/><stop offset=".231" stop-color="#8bd646"/><stop offset=".291" stop-color="#d5e21a"/><stop offset=".363" stop-color="#a2da37"/><stop offset=".435" stop-color="#54c568"/><stop offset=".507" stop-color="#26ad81"/><stop offset=".580" stop-color="#1f988b"/><stop offset=".656" stop-color="#23888e"/><stop offset=".728" stop-color="#297b8e"/><stop offset=".800" stop-color="#2c718e"/><stop offset=".872" stop-color="#2f6b8e"/><stop offset=".944" stop-color="#31668e"/><stop offset="1.000" stop-color="#33638d"/></linearGradient><linearGradient id="gc101"><stop offset=".000" stop-color="#355e8d"/><stop offset=".083" stop-color="#355e8d"/><stop offset=".143" stop-color="#2a768e"/><stop offset=".187" stop-color="#21a585"/><stop offset=".231" stop-color="#70cf57"/><stop offset=".291" stop-color="#b5de2b"/><stop offset=".363" stop-color="#86d549"/><stop offset=".435" stop-color="#40bd72"/><stop offset=".507" stop-color="#21a585"/><stop offset=".580" stop-color="#20928c"/><stop offset=".656" stop-color="#26828e"/><stop offset=".728" stop-color="#2a768e"/><stop offset=".800" stop-color="#2e6e8e"/><stop offset=".872" stop-color="#31678e"/><stop offset=".944" stop-color="#33628d"/><stop offset="1.000" stop-color="#355f8d"/></linearGradient><linearGradient id="gc102"><stop offset=".000" stop-color="#414487"/><stop offset=".083" stop-color="#414487"/><stop offset=".143" stop-color="#39568c"/><stop offset=".187" stop-color="#2a788e"/><stop offset=".231" stop-color="#1f988b"/><stop offset=".291" stop-color="#24aa83"/><stop offset=".363" stop-color="#1f9f88"/><stop offset=".435" stop-color="#238a8d"/><stop offset=".507" stop-color="#2a788e"/><stop offset=".580" stop-color="#2f6b8e"/><stop offset=".656" stop-color="#34608d"/><stop offset=".728" stop-color="#39568c"/><stop offset=".800" stop-color="#3c508b"/><stop offset=".872" stop-color="#3e4a89"/><stop offset=".944" stop-color="#3f4788"/><stop offset="1.000" stop-color="#404588"/></linearGradient><linearGradient id="gc103"><stop offset=".000" stop-color="#481f70"/><stop offset=".083" stop-color="#481f70"/><stop offset=".143" stop-color="#482878"/><stop offset=".187" stop-color="#443a83"/><stop offset=".231" stop-color="#3e4a89"/><stop offset=".291" stop-color="#3a538b"/><stop offset=".363" stop-color="#3d4d8a"/><stop offset=".435" stop-color="#414287"/><stop offset=".507" stop-color="#443a83"/><stop offset=".580" stop-color="#46337f"/><stop offset=".656" stop-color="#472d7b"/><stop offset=".728" stop-color="#482878"/><stop offset=".800" stop-color="#482576"/><stop offset=".872" stop-color="#482374"/><stop offset=".944" stop-color="#482071"/><stop offset="1.000" stop-color="#481f70"/></linearGradient><linearGradient id="gc104"><stop offset=".000" stop-color="#450559"/><stop offset=".083" stop-color="#450559"/><stop offset=".143" stop-color="#46075a"/><stop offset=".187" stop-color="#460a5d"/><stop offset=".231" stop-color="#470d60"/><stop offset=".291" stop-color="#470e61"/><stop offset=".363" stop-color="#470d60"/><stop offset=".435" stop-color="#460b5e"/><stop offset=".507" stop-color="#460a5d"/><stop offset=".580" stop-color="#46085c"/><stop offset=".656" stop-color="#46075a"/><stop offset=".728" stop-color="#46075a"/><stop offset=".800" stop-color="#450559"/><stop offset=".872" stop-color="#450559"/><stop offset=".944" stop-color="#450559"/><stop offset="1.000" stop-color="#450559"/></linearGradient><linearGradient id="gc105"><stop offset=".000" stop-color="#460b5e"/><stop offset=".083" stop-color="#460b5e"/><stop offset=".143" stop-color="#471063"/><stop offset=".187" stop-color="#481769"/><stop offset=".231" stop-color="#481d6f"/><stop offset=".291" stop-color="#482173"/><stop offset=".363" stop-color="#481f70"/><stop offset=".435" stop-color="#481b6d"/><stop offset=".507" stop-color="#481769"/><stop offset=".580" stop-color="#481467"/><stop offset=".656" stop-color="#471164"/><stop offset=".728" stop-color="#471063"/><stop offset=".800" stop-color="#470e61"/><stop offset=".872" stop-color="#470d60"/><stop offset=".944" stop-color="#470d60"/><stop offset="1.000" stop-color="#460b5e"/></linearGradient><linearGradient id="gc106"><stop offset=".000" stop-color="#472d7b"/><stop offset=".083" stop-color="#472d7b"/><stop offset=".143" stop-color="#443a83"/><stop offset=".187" stop-color="#3a538b"/><stop offset=".231" stop-color="#306a8e"/><stop offset=".291" stop-color="#2b758e"/><stop offset=".363" stop-color="#2e6e8e"/><stop offset=".435" stop-color="#34608d"/><stop offset=".507" stop-color="#3a538b"/><stop offset=".580" stop-color="#3e4989"/><stop offset=".656" stop-color="#424186"/><stop offset=".728" stop-color="#443a83"/><stop offset=".800" stop-color="#453581"/><stop offset=".872" stop-color="#46327e"/><stop offset=".944" stop-color="#472f7d"/><stop offset="1.000" stop-color="#472e7c"/></linearGradient><linearGradient id="gc107"><stop offset=".000" stop-color="#3b518b"/><stop offset=".083" stop-color="#3b518b"/><stop offset=".143" stop-color="#31678e"/><stop offset=".187" stop-color="#218f8d"/><stop offset=".231" stop-color="#34b679"/><stop offset=".291" stop-color="#5ec962"/><stop offset=".363" stop-color="#3fbc73"/><stop offset=".435" stop-color="#20a486"/><stop offset=".507" stop-color="#218f8d"/><stop offset=".580" stop-color="#277f8e"/><stop offset=".656" stop-color="#2c728e"/><stop offset=".728" stop-color="#31678e"/><stop offset=".800" stop-color="#355f8d"/><stop offset=".872" stop-color="#375a8c"/><stop offset=".944" stop-color="#39558c"/><stop offset="1.000" stop-color="#3b528b"/></linearGradient><linearGradient id="gc108"><stop offset=".000" stop-color="#32648e"/><stop offset=".083" stop-color="#32648e"/><stop offset=".143" stop-color="#277e8e"/><stop offset=".187" stop-color="#2cb17e"/><stop offset=".231" stop-color="#9bd93c"/><stop offset=".291" stop-color="#eae51a"/><stop offset=".363" stop-color="#b5de2b"/><stop offset=".435" stop-color="#60ca60"/><stop offset=".507" stop-color="#2cb17e"/><stop offset=".580" stop-color="#1e9d89"/><stop offset=".656" stop-color="#228c8d"/><stop offset=".728" stop-color="#277e8e"/><stop offset=".800" stop-color="#2b748e"/><stop offset=".872" stop-color="#2e6e8e"/><stop offset=".944" stop-color="#30698e"/><stop offset="1.000" stop-color="#31668e"/></linearGradient><linearGradient id="gc109"><stop offset=".000" stop-color="#355f8d"/><stop offset=".083" stop-color="#355f8d"/><stop offset=".143" stop-color="#2a788e"/><stop offset=".187" stop-color="#22a884"/><stop offset=".231" stop-color="#7cd250"/><stop offset=".291" stop-color="#c5e021"/><stop offset=".363" stop-color="#93d741"/><stop offset=".435" stop-color="#48c16e"/><stop offset=".507" stop-color="#22a884"/><stop offset=".580" stop-color="#1f948c"/><stop offset=".656" stop-color="#25858e"/><stop offset=".728" stop-color="#2a788e"/><stop offset=".800" stop-color="#2d708e"/><stop offset=".872" stop-color="#30698e"/><stop offset=".944" stop-color="#32648e"/><stop offset="1.000" stop-color="#34618d"/></linearGradient><linearGradient id="gc110"><stop offset=".000" stop-color="#404588"/><stop offset=".083" stop-color="#404588"/><stop offset=".143" stop-color="#38588c"/><stop offset=".187" stop-color="#297a8e"/><stop offset=".231" stop-color="#1e9b8a"/><stop offset=".291" stop-color="#26ad81"/><stop offset=".363" stop-color="#1fa188"/><stop offset=".435" stop-color="#228c8d"/><stop offset=".507" stop-color="#297a8e"/><stop offset=".580" stop-color="#2e6d8e"/><stop offset=".656" stop-color="#33628d"/><stop offset=".728" stop-color="#38588c"/><stop offset=".800" stop-color="#3b518b"/><stop offset=".872" stop-color="#3e4c8a"/><stop offset=".944" stop-color="#3f4889"/><stop offset="1.000" stop-color="#404688"/></linearGradient><linearGradient id="gc111"><stop offset=".000" stop-color="#481f70"/><stop offset=".083" stop-color="#481f70"/><stop offset=".143" stop-color="#482979"/><stop offset=".187" stop-color="#443a83"/><stop offset=".231" stop-color="#3e4c8a"/><stop offset=".291" stop-color="#3a548c"/><stop offset=".363" stop-color="#3c4f8a"/><stop offset=".435" stop-color="#414487"/><stop offset=".507" stop-color="#443a83"/><stop offset=".580" stop-color="#46337f"/><stop offset=".656" stop-color="#472e7c"/><stop offset=".728" stop-color="#482979"/><stop offset=".800" stop-color="#482576"/><stop offset=".872" stop-color="#482374"/><stop offset=".944" stop-color="#482173"/><stop offset="1.000" stop-color="#482071"/></linearGradient><linearGradient id="gc112"><stop offset=".000" stop-color="#450559"/><stop offset=".083" stop-color="#450559"/><stop offset=".143" stop-color="#46075a"/><stop offset=".187" stop-color="#460a5d"/><stop offset=".231" stop-color="#470d60"/><stop offset=".291" stop-color="#470e61"/><stop offset=".363" stop-color="#470d60"/><stop offset=".435" stop-color="#460b5e"/><stop offset=".507" stop-color="#460a5d"/><stop offset=".580" stop-color="#46085c"/><stop offset=".656" stop-color="#46075a"/><stop offset=".728" stop-color="#46075a"/><stop offset=".800" stop-color="#450559"/><stop offset=".872" stop-color="#450559"/><stop offset=".944" stop-color="#450559"/><stop offset="1.000" stop-color="#450559"/></linearGradient><linearGradient id="gc113"><stop offset=".000" stop-color="#460a5d"/><stop offset=".083" stop-color="#460a5d"/><stop offset=".143" stop-color="#470d60"/><stop offset=".187" stop-color="#481467"/><stop offset=".231" stop-color="#481a6c"/><stop offset=".291" stop-color="#481d6f"/><stop offset=".363" stop-color="#481b6d"/><stop offset=".435" stop-color="#481769"/><stop offset=".507" stop-color="#481467"/><stop offset=".580" stop-color="#471164"/><stop offset=".656" stop-color="#471063"/><stop offset=".728" stop-color="#470d60"/><stop offset=".800" stop-color="#470d60"/><stop offset=".872" stop-color="#460b5e"/><stop offset=".944" stop-color="#460b5e"/><stop offset="1.000" stop-color="#460a5d"/></linearGradient><linearGradient id="gc114"><stop offset=".000" stop-color="#472a7a"/><stop offset=".083" stop-color="#472a7a"/><stop offset=".143" stop-color="#453781"/><stop offset=".187" stop-color="#3c4f8a"/><stop offset=".231" stop-color="#32648e"/><stop offset=".291" stop-color="#2e6f8e"/><stop offset=".363" stop-color="#31688e"/><stop offset=".435" stop-color="#375b8d"/><stop offset=".507" stop-color="#3c4f8a"/><stop offset=".580" stop-color="#404588"/><stop offset=".656" stop-color="#433e85"/><stop offset=".728" stop-color="#453781"/><stop offset=".800" stop-color="#46337f"/><stop offset=".872" stop-color="#472f7d"/><stop offset=".944" stop-color="#472d7b"/><stop offset="1.000" stop-color="#472c7a"/></linearGradient><linearGradient id="gc115"><stop offset=".000" stop-color="#3c4f8a"/><stop offset=".083" stop-color="#3c4f8a"/><stop offset=".143" stop-color="#32648e"/><stop offset=".187" stop-color="#228b8d"/><stop offset=".231" stop-color="#2cb17e"/><stop offset=".291" stop-color="#50c46a"/><stop offset=".363" stop-color="#35b779"/><stop offset=".435" stop-color="#1fa088"/><stop offset=".507" stop-color="#228b8d"/><stop offset=".580" stop-color="#297b8e"/><stop offset=".656" stop-color="#2e6f8e"/><stop offset=".728" stop-color="#32648e"/><stop offset=".800" stop-color="#365d8d"/><stop offset=".872" stop-color="#39568c"/><stop offset=".944" stop-color="#3b528b"/><stop offset="1.000" stop-color="#3c508b"/></linearGradient><linearGradient id="gc116"><stop offset=".000" stop-color="#33638d"/><stop offset=".083" stop-color="#33638d"/><stop offset=".143" stop-color="#287d8e"/><stop offset=".187" stop-color="#29af7f"/><stop offset=".231" stop-color="#95d840"/><stop offset=".291" stop-color="#e5e419"/><stop offset=".363" stop-color="#b0dd2f"/><stop offset=".435" stop-color="#5cc863"/><stop offset=".507" stop-color="#29af7f"/><stop offset=".580" stop-color="#1e9b8a"/><stop offset=".656" stop-color="#228b8d"/><stop offset=".728" stop-color="#287d8e"/><stop offset=".800" stop-color="#2b748e"/><stop offset=".872" stop-color="#2e6d8e"/><stop offset=".944" stop-color="#31688e"/><stop offset="1.000" stop-color="#32658e"/></linearGradient><linearGradient id="gc117"><stop offset=".000" stop-color="#34618d"/><stop offset=".083" stop-color="#34618d"/><stop offset=".143" stop-color="#297a8e"/><stop offset=".187" stop-color="#25ab82"/><stop offset=".231" stop-color="#84d44b"/><stop offset=".291" stop-color="#d0e11c"/><stop offset=".363" stop-color="#9dd93b"/><stop offset=".435" stop-color="#50c46a"/><stop offset=".507" stop-color="#25ab82"/><stop offset=".580" stop-color="#1f978b"/><stop offset=".656" stop-color="#24878e"/><stop offset=".728" stop-color="#297a8e"/><stop offset=".800" stop-color="#2d718e"/><stop offset=".872" stop-color="#306a8e"/><stop offset=".944" stop-color="#31668e"/><stop offset="1.000" stop-color="#33628d"/></linearGradient><linearGradient id="gc118"><stop offset=".000" stop-color="#3f4788"/><stop offset=".083" stop-color="#3f4788"/><stop offset=".143" stop-color="#365c8d"/><stop offset=".187" stop-color="#277f8e"/><stop offset=".231" stop-color="#1fa187"/><stop offset=".291" stop-color="#2eb37c"/><stop offset=".363" stop-color="#22a785"/><stop offset=".435" stop-color="#20928c"/><stop offset=".507" stop-color="#277f8e"/><stop offset=".580" stop-color="#2d718e"/><stop offset=".656" stop-color="#32658e"/><stop offset=".728" stop-color="#365c8d"/><stop offset=".800" stop-color="#3a548c"/><stop offset=".872" stop-color="#3c4f8a"/><stop offset=".944" stop-color="#3e4c8a"/><stop offset="1.000" stop-color="#3f4889"/></linearGradient><linearGradient id="gc119"><stop offset=".000" stop-color="#482173"/><stop offset=".083" stop-color="#482173"/><stop offset=".143" stop-color="#472c7a"/><stop offset=".187" stop-color="#423f85"/><stop offset=".231" stop-color="#3b518b"/><stop offset=".291" stop-color="#375b8d"/><stop offset=".363" stop-color="#3a548c"/><stop offset=".435" stop-color="#3e4989"/><stop offset=".507" stop-color="#423f85"/><stop offset=".580" stop-color="#453882"/><stop offset=".656" stop-color="#46327e"/><stop offset=".728" stop-color="#472c7a"/><stop offset=".800" stop-color="#482878"/><stop offset=".872" stop-color="#482576"/><stop offset=".944" stop-color="#482475"/><stop offset="1.000" stop-color="#482374"/></linearGradient><linearGradient id="gc120"><stop offset=".000" stop-color="#450559"/><stop offset=".083" stop-color="#450559"/><stop offset=".143" stop-color="#46075a"/><stop offset=".187" stop-color="#460b5e"/><stop offset=".231" stop-color="#470e61"/><stop offset=".291" stop-color="#471164"/><stop offset=".363" stop-color="#471063"/><stop offset=".435" stop-color="#470d60"/><stop offset=".507" stop-color="#460b5e"/><stop offset=".580" stop-color="#460a5d"/><stop offset=".656" stop-color="#46085c"/><stop offset=".728" stop-color="#46075a"/><stop offset=".800" stop-color="#46075a"/><stop offset=".872" stop-color="#46075a"/><stop offset=".944" stop-color="#450559"/><stop offset="1.000" stop-color="#450559"/></linearGradient><linearGradient id="gc121"><stop offset=".000" stop-color="#460a5d"/><stop offset=".083" stop-color="#460a5d"/><stop offset=".143" stop-color="#470d60"/><stop offset=".187" stop-color="#471365"/><stop offset=".231" stop-color="#48186a"/><stop offset=".291" stop-color="#481c6e"/><stop offset=".363" stop-color="#481a6c"/><stop offset=".435" stop-color="#481769"/><stop offset=".507" stop-color="#471365"/><stop offset=".580" stop-color="#471063"/><stop offset=".656" stop-color="#470e61"/><stop offset=".728" stop-color="#470d60"/><stop offset=".800" stop-color="#460b5e"/><stop offset=".872" stop-color="#460b5e"/><stop offset=".944" stop-color="#460a5d"/><stop offset="1.000" stop-color="#460a5d"/></linearGradient><linearGradient id="gc122"><stop offset=".000" stop-color="#482979"/><stop offset=".083" stop-color="#482979"/><stop offset=".143" stop-color="#453581"/><stop offset=".187" stop-color="#3d4d8a"/><stop offset=".231" stop-color="#33628d"/><stop offset=".291" stop-color="#2e6d8e"/><stop offset=".363" stop-color="#31668e"/><stop offset=".435" stop-color="#38598c"/><stop offset=".507" stop-color="#3d4d8a"/><stop offset=".580" stop-color="#414487"/><stop offset=".656" stop-color="#433d84"/><stop offset=".728" stop-color="#453581"/><stop offset=".800" stop-color="#46327e"/><stop offset=".872" stop-color="#472e7c"/><stop offset=".944" stop-color="#472c7a"/><stop offset="1.000" stop-color="#472a7a"/></linearGradient><linearGradient id="gc123"><stop offset=".000" stop-color="#3d4d8a"/><stop offset=".083" stop-color="#3d4d8a"/><stop offset=".143" stop-color="#33628d"/><stop offset=".187" stop-color="#23888e"/><stop offset=".231" stop-color="#27ad81"/><stop offset=".291" stop-color="#48c16e"/><stop offset=".363" stop-color="#31b57b"/><stop offset=".435" stop-color="#1e9d89"/><stop offset=".507" stop-color="#23888e"/><stop offset=".580" stop-color="#29798e"/><stop offset=".656" stop-color="#2e6d8e"/><stop offset=".728" stop-color="#33628d"/><stop offset=".800" stop-color="#375b8d"/><stop offset=".872" stop-color="#39558c"/><stop offset=".944" stop-color="#3b518b"/><stop offset="1.000" stop-color="#3c4f8a"/></linearGradient><linearGradient id="gc124"><stop offset=".000" stop-color="#34618d"/><stop offset=".083" stop-color="#34618d"/><stop offset=".143" stop-color="#297b8e"/><stop offset=".187" stop-color="#25ac82"/><stop offset=".231" stop-color="#89d548"/><stop offset=".291" stop-color="#d5e21a"/><stop offset=".363" stop-color="#a0da39"/><stop offset=".435" stop-color="#52c569"/><stop offset=".507" stop-color="#25ac82"/><stop offset=".580" stop-color="#1f988b"/><stop offset=".656" stop-color="#23888e"/><stop offset=".728" stop-color="#297b8e"/><stop offset=".800" stop-color="#2c718e"/><stop offset=".872" stop-color="#2f6b8e"/><stop offset=".944" stop-color="#31668e"/><stop offset="1.000" stop-color="#33638d"/></linearGradient><linearGradient id="gc125"><stop offset=".000" stop-color="#355f8d"/><stop offset=".083" stop-color="#355f8d"/><stop offset=".143" stop-color="#2a778e"/><stop offset=".187" stop-color="#22a785"/><stop offset=".231" stop-color="#77d153"/><stop offset=".291" stop-color="#bddf26"/><stop offset=".363" stop-color="#8ed645"/><stop offset=".435" stop-color="#44bf70"/><stop offset=".507" stop-color="#22a785"/><stop offset=".580" stop-color="#20938c"/><stop offset=".656" stop-color="#25848e"/><stop offset=".728" stop-color="#2a778e"/><stop offset=".800" stop-color="#2e6f8e"/><stop offset=".872" stop-color="#31688e"/><stop offset=".944" stop-color="#33638d"/><stop offset="1.000" stop-color="#34608d"/></linearGradient><linearGradient id="gc126"><stop offset=".000" stop-color="#3f4788"/><stop offset=".083" stop-color="#3f4788"/><stop offset=".143" stop-color="#375b8d"/><stop offset=".187" stop-color="#277e8e"/><stop offset=".231" stop-color="#1fa088"/><stop offset=".291" stop-color="#2db27d"/><stop offset=".363" stop-color="#21a685"/><stop offset=".435" stop-color="#21918c"/><stop offset=".507" stop-color="#277e8e"/><stop offset=".580" stop-color="#2d708e"/><stop offset=".656" stop-color="#32658e"/><stop offset=".728" stop-color="#375b8d"/><stop offset=".800" stop-color="#3a538b"/><stop offset=".872" stop-color="#3d4e8a"/><stop offset=".944" stop-color="#3e4a89"/><stop offset="1.000" stop-color="#3f4889"/></linearGradient><linearGradient id="gc127"><stop offset=".000" stop-color="#482576"/><stop offset=".083" stop-color="#482576"/><stop offset=".143" stop-color="#46307e"/><stop offset=".187" stop-color="#404588"/><stop offset=".231" stop-color="#38598c"/><stop offset=".291" stop-color="#33628d"/><stop offset=".363" stop-color="#365c8d"/><stop offset=".435" stop-color="#3c508b"/><stop offset=".507" stop-color="#404588"/><stop offset=".580" stop-color="#433d84"/><stop offset=".656" stop-color="#453581"/><stop offset=".728" stop-color="#46307e"/><stop offset=".800" stop-color="#472c7a"/><stop offset=".872" stop-color="#482979"/><stop offset=".944" stop-color="#482677"/><stop offset="1.000" stop-color="#482576"/></linearGradient><linearGradient id="gc128"><stop offset=".000" stop-color="#470d60"/><stop offset=".083" stop-color="#470d60"/><stop offset=".143" stop-color="#471063"/><stop offset=".187" stop-color="#48186a"/><stop offset=".231" stop-color="#481f70"/><stop offset=".291" stop-color="#482374"/><stop offset=".363" stop-color="#482071"/><stop offset=".435" stop-color="#481c6e"/><stop offset=".507" stop-color="#48186a"/><stop offset=".580" stop-color="#481668"/><stop offset=".656" stop-color="#471365"/><stop offset=".728" stop-color="#471063"/><stop offset=".800" stop-color="#470e61"/><stop offset=".872" stop-color="#470e61"/><stop offset=".944" stop-color="#470d60"/><stop offset="1.000" stop-color="#470d60"/></linearGradient><linearGradient id="gc129"><stop offset=".000" stop-color="#471063"/><stop offset=".083" stop-color="#471063"/><stop offset=".143" stop-color="#481467"/><stop offset=".187" stop-color="#481d6f"/><stop offset=".231" stop-color="#482677"/><stop offset=".291" stop-color="#472c7a"/><stop offset=".363" stop-color="#482878"/><stop offset=".435" stop-color="#482374"/><stop offset=".507" stop-color="#481d6f"/><stop offset=".580" stop-color="#481a6c"/><stop offset=".656" stop-color="#481769"/><stop offset=".728" stop-color="#481467"/><stop offset=".800" stop-color="#471365"/><stop offset=".872" stop-color="#471164"/><stop offset=".944" stop-color="#471164"/><stop offset="1.000" stop-color="#471063"/></linearGradient><linearGradient id="gc130"><stop offset=".000" stop-color="#472a7a"/><stop offset=".083" stop-color="#472a7a"/><stop offset=".143" stop-color="#453781"/><stop offset=".187" stop-color="#3d4e8a"/><stop offset=".231" stop-color="#33638d"/><stop offset=".291" stop-color="#2e6e8e"/><stop offset=".363" stop-color="#31678e"/><stop offset=".435" stop-color="#375a8c"/><stop offset=".507" stop-color="#3d4e8a"/><stop offset=".580" stop-color="#404588"/><stop offset=".656" stop-color="#433d84"/><stop offset=".728" stop-color="#453781"/><stop offset=".800" stop-color="#46327e"/><stop offset=".872" stop-color="#472e7c"/><stop offset=".944" stop-color="#472d7b"/><stop offset="1.000" stop-color="#472a7a"/></linearGradient><linearGradient id="gc131"><stop offset=".000" stop-color="#3f4788"/><stop offset=".083" stop-color="#3f4788"/><stop offset=".143" stop-color="#375b8d"/><stop offset=".187" stop-color="#277f8e"/><stop offset=".231" stop-color="#1fa188"/><stop offset=".291" stop-color="#2eb37c"/><stop offset=".363" stop-color="#22a785"/><stop offset=".435" stop-color="#20928c"/><stop offset=".507" stop-color="#277f8e"/><stop offset=".580" stop-color="#2d718e"/><stop offset=".656" stop-color="#32658e"/><stop offset=".728" stop-color="#375b8d"/><stop offset=".800" stop-color="#3a548c"/><stop offset=".872" stop-color="#3c4f8a"/><stop offset=".944" stop-color="#3e4a89"/><stop offset="1.000" stop-color="#3f4889"/></linearGradient><linearGradient id="gc132"><stop offset=".000" stop-color="#38588c"/><stop offset=".083" stop-color="#38588c"/><stop offset=".143" stop-color="#2e6f8e"/><stop offset=".187" stop-color="#1f9a8a"/><stop offset=".231" stop-color="#50c46a"/><stop offset=".291" stop-color="#89d548"/><stop offset=".363" stop-color="#60ca60"/><stop offset=".435" stop-color="#2db27d"/><stop offset=".507" stop-color="#1f9a8a"/><stop offset=".580" stop-color="#23898e"/><stop offset=".656" stop-color="#297b8e"/><stop offset=".728" stop-color="#2e6f8e"/><stop offset=".800" stop-color="#31678e"/><stop offset=".872" stop-color="#34608d"/><stop offset=".944" stop-color="#365c8d"/><stop offset="1.000" stop-color="#38598c"/></linearGradient><linearGradient id="gc133"><stop offset=".000" stop-color="#39568c"/><stop offset=".083" stop-color="#39568c"/><stop offset=".143" stop-color="#2e6d8e"/><stop offset=".187" stop-color="#1f988b"/><stop offset=".231" stop-color="#48c16e"/><stop offset=".291" stop-color="#7fd34e"/><stop offset=".363" stop-color="#58c765"/><stop offset=".435" stop-color="#28ae80"/><stop offset=".507" stop-color="#1f988b"/><stop offset=".580" stop-color="#24868e"/><stop offset=".656" stop-color="#29798e"/><stop offset=".728" stop-color="#2e6d8e"/><stop offset=".800" stop-color="#32658e"/><stop offset=".872" stop-color="#355f8d"/><stop offset=".944" stop-color="#375b8d"/><stop offset="1.000" stop-color="#38588c"/></linearGradient><linearGradient id="gc134"><stop offset=".000" stop-color="#3f4788"/><stop offset=".083" stop-color="#3f4788"/><stop offset=".143" stop-color="#375b8d"/><stop offset=".187" stop-color="#277e8e"/><stop offset=".231" stop-color="#1fa088"/><stop offset=".291" stop-color="#2db27d"/><stop offset=".363" stop-color="#21a685"/><stop offset=".435" stop-color="#21918c"/><stop offset=".507" stop-color="#277e8e"/><stop offset=".580" stop-color="#2d708e"/><stop offset=".656" stop-color="#32658e"/><stop offset=".728" stop-color="#375b8d"/><stop offset=".800" stop-color="#3a538b"/><stop offset=".872" stop-color="#3d4e8a"/><stop offset=".944" stop-color="#3e4a89"/><stop offset="1.000" stop-color="#3f4889"/></linearGradient><linearGradient id="gc135"><stop offset=".000" stop-color="#46327e"/><stop offset=".083" stop-color="#46327e"/><stop offset=".143" stop-color="#424086"/><stop offset=".187" stop-color="#365c8d"/><stop offset=".231" stop-color="#2c738e"/><stop offset=".291" stop-color="#26818e"/><stop offset=".363" stop-color="#2a788e"/><stop offset=".435" stop-color="#30698e"/><stop offset=".507" stop-color="#365c8d"/><stop offset=".580" stop-color="#3b518b"/><stop offset=".656" stop-color="#3f4889"/><stop offset=".728" stop-color="#424086"/><stop offset=".800" stop-color="#443b84"/><stop offset=".872" stop-color="#453882"/><stop offset=".944" stop-color="#463480"/><stop offset="1.000" stop-color="#46337f"/></linearGradient><linearGradient id="gc136"><stop offset=".000" stop-color="#482374"/><stop offset=".083" stop-color="#482374"/><stop offset=".143" stop-color="#472d7b"/><stop offset=".187" stop-color="#424086"/><stop offset=".231" stop-color="#3b528b"/><stop offset=".291" stop-color="#365c8d"/><stop offset=".363" stop-color="#39558c"/><stop offset=".435" stop-color="#3e4a89"/><stop offset=".507" stop-color="#424086"/><stop offset=".580" stop-color="#453882"/><stop offset=".656" stop-color="#46327e"/><stop offset=".728" stop-color="#472d7b"/><stop offset=".800" stop-color="#482979"/><stop offset=".872" stop-color="#482677"/><stop offset=".944" stop-color="#482475"/><stop offset="1.000" stop-color="#482374"/></linearGradient><linearGradient id="gc137"><stop offset=".000" stop-color="#482071"/><stop offset=".083" stop-color="#482071"/><stop offset=".143" stop-color="#482979"/><stop offset=".187" stop-color="#443b84"/><stop offset=".231" stop-color="#3e4c8a"/><stop offset=".291" stop-color="#3a548c"/><stop offset=".363" stop-color="#3c4f8a"/><stop offset=".435" stop-color="#404588"/><stop offset=".507" stop-color="#443b84"/><stop offset=".580" stop-color="#463480"/><stop offset=".656" stop-color="#472e7c"/><stop offset=".728" stop-color="#482979"/><stop offset=".800" stop-color="#482576"/><stop offset=".872" stop-color="#482374"/><stop offset=".944" stop-color="#482173"/><stop offset="1.000" stop-color="#482071"/></linearGradient><linearGradient id="gc138"><stop offset=".000" stop-color="#482979"/><stop offset=".083" stop-color="#482979"/><stop offset=".143" stop-color="#453581"/><stop offset=".187" stop-color="#3d4d8a"/><stop offset=".231" stop-color="#34618d"/><stop offset=".291" stop-color="#2f6c8e"/><stop offset=".363" stop-color="#32658e"/><stop offset=".435" stop-color="#38588c"/><stop offset=".507" stop-color="#3d4d8a"/><stop offset=".580" stop-color="#414487"/><stop offset=".656" stop-color="#443b84"/><stop offset=".728" stop-color="#453581"/><stop offset=".800" stop-color="#46307e"/><stop offset=".872" stop-color="#472e7c"/><stop offset=".944" stop-color="#472c7a"/><stop offset="1.000" stop-color="#472a7a"/></linearGradient><linearGradient id="gc139"><stop offset=".000" stop-color="#453882"/><stop offset=".083" stop-color="#453882"/><stop offset=".143" stop-color="#3f4889"/><stop offset=".187" stop-color="#31668e"/><stop offset=".231" stop-color="#26818e"/><stop offset=".291" stop-color="#21908d"/><stop offset=".363" stop-color="#25858e"/><stop offset=".435" stop-color="#2b758e"/><stop offset=".507" stop-color="#31668e"/><stop offset=".580" stop-color="#375b8d"/><stop offset=".656" stop-color="#3b518b"/><stop offset=".728" stop-color="#3f4889"/><stop offset=".800" stop-color="#414287"/><stop offset=".872" stop-color="#423f85"/><stop offset=".944" stop-color="#443b84"/><stop offset="1.000" stop-color="#443983"/></linearGradient><linearGradient id="gc140"><stop offset=".000" stop-color="#404588"/><stop offset=".083" stop-color="#404588"/><stop offset=".143" stop-color="#38588c"/><stop offset=".187" stop-color="#297a8e"/><stop offset=".231" stop-color="#1e9b8a"/><stop offset=".291" stop-color="#26ad81"/><stop offset=".363" stop-color="#1fa188"/><stop offset=".435" stop-color="#228c8d"/><stop offset=".507" stop-color="#297a8e"/><stop offset=".580" stop-color="#2e6d8e"/><stop offset=".656" stop-color="#33628d"/><stop offset=".728" stop-color="#38588c"/><stop offset=".800" stop-color="#3b518b"/><stop offset=".872" stop-color="#3e4c8a"/><stop offset=".944" stop-color="#3f4889"/><stop offset="1.000" stop-color="#404688"/></linearGradient><linearGradient id="gc141"><stop offset=".000" stop-color="#3e4989"/><stop offset=".083" stop-color="#3e4989"/><stop offset=".143" stop-color="#365d8d"/><stop offset=".187" stop-color="#26828e"/><stop offset=".231" stop-color="#20a486"/><stop offset=".291" stop-color="#34b679"/><stop offset=".363" stop-color="#25ab82"/><stop offset=".435" stop-color="#1f948c"/><stop offset=".507" stop-color="#26828e"/><stop offset=".580" stop-color="#2c728e"/><stop offset=".656" stop-color="#31678e"/><stop offset=".728" stop-color="#365d8d"/><stop offset=".800" stop-color="#39558c"/><stop offset=".872" stop-color="#3c508b"/><stop offset=".944" stop-color="#3d4d8a"/><stop offset="1.000" stop-color="#3e4a89"/></linearGradient><linearGradient id="gc142"><stop offset=".000" stop-color="#404588"/><stop offset=".083" stop-color="#404588"/><stop offset=".143" stop-color="#38588c"/><stop offset=".187" stop-color="#297a8e"/><stop offset=".231" stop-color="#1e9b8a"/><stop offset=".291" stop-color="#26ad81"/><stop offset=".363" stop-color="#1fa188"/><stop offset=".435" stop-color="#228c8d"/><stop offset=".507" stop-color="#297a8e"/><stop offset=".580" stop-color="#2e6d8e"/><stop offset=".656" stop-color="#33628d"/><stop offset=".728" stop-color="#38588c"/><stop offset=".800" stop-color="#3b518b"/><stop offset=".872" stop-color="#3e4c8a"/><stop offset=".944" stop-color="#3f4889"/><stop offset="1.000" stop-color="#404688"/></linearGradient><linearGradient id="gc143"><stop offset=".000" stop-color="#443a83"/><stop offset=".083" stop-color="#443a83"/><stop offset=".143" stop-color="#3e4c8a"/><stop offset=".187" stop-color="#306a8e"/><stop offset=".231" stop-color="#24868e"/><stop offset=".291" stop-color="#1f958b"/><stop offset=".363" stop-color="#228b8d"/><stop offset=".435" stop-color="#29798e"/><stop offset=".507" stop-color="#306a8e"/><stop offset=".580" stop-color="#355e8d"/><stop offset=".656" stop-color="#3a548c"/><stop offset=".728" stop-color="#3e4c8a"/><stop offset=".800" stop-color="#404688"/><stop offset=".872" stop-color="#424186"/><stop offset=".944" stop-color="#433e85"/><stop offset="1.000" stop-color="#443b84"/></linearGradient><linearGradient id="gc144"><stop offset=".000" stop-color="#46327e"/><stop offset=".083" stop-color="#46327e"/><stop offset=".143" stop-color="#424186"/><stop offset=".187" stop-color="#365c8d"/><stop offset=".231" stop-color="#2b748e"/><stop offset=".291" stop-color="#26818e"/><stop offset=".363" stop-color="#2a788e"/><stop offset=".435" stop-color="#306a8e"/><stop offset=".507" stop-color="#365c8d"/><stop offset=".580" stop-color="#3b518b"/><stop offset=".656" stop-color="#3f4889"/><stop offset=".728" stop-color="#424186"/><stop offset=".800" stop-color="#443b84"/><stop offset=".872" stop-color="#453882"/><stop offset=".944" stop-color="#453581"/><stop offset="1.000" stop-color="#46337f"/></linearGradient><linearGradient id="gc145"><stop offset=".000" stop-color="#472f7d"/><stop offset=".083" stop-color="#472f7d"/><stop offset=".143" stop-color="#433d84"/><stop offset=".187" stop-color="#39568c"/><stop offset=".231" stop-color="#2e6d8e"/><stop offset=".291" stop-color="#29798e"/><stop offset=".363" stop-color="#2d718e"/><stop offset=".435" stop-color="#33638d"/><stop offset=".507" stop-color="#39568c"/><stop offset=".580" stop-color="#3e4c8a"/><stop offset=".656" stop-color="#414487"/><stop offset=".728" stop-color="#433d84"/><stop offset=".800" stop-color="#453882"/><stop offset=".872" stop-color="#463480"/><stop offset=".944" stop-color="#46327e"/><stop offset="1.000" stop-color="#472f7d"/></linearGradient><linearGradient id="gc146"><stop offset=".000" stop-color="#46307e"/><stop offset=".083" stop-color="#46307e"/><stop offset=".143" stop-color="#423f85"/><stop offset=".187" stop-color="#375a8c"/><stop offset=".231" stop-color="#2c718e"/><stop offset=".291" stop-color="#277e8e"/><stop offset=".363" stop-color="#2b758e"/><stop offset=".435" stop-color="#31678e"/><stop offset=".507" stop-color="#375a8c"/><stop offset=".580" stop-color="#3c4f8a"/><stop offset=".656" stop-color="#3f4788"/><stop offset=".728" stop-color="#423f85"/><stop offset=".800" stop-color="#443a83"/><stop offset=".872" stop-color="#453781"/><stop offset=".944" stop-color="#46337f"/><stop offset="1.000" stop-color="#46327e"/></linearGradient><linearGradient id="gc147"><stop offset=".000" stop-color="#453882"/><stop offset=".083" stop-color="#453882"/><stop offset=".143" stop-color="#3f4788"/><stop offset=".187" stop-color="#32658e"/><stop offset=".231" stop-color="#277f8e"/><stop offset=".291" stop-color="#228d8d"/><stop offset=".363" stop-color="#25838e"/><stop offset=".435" stop-color="#2c728e"/><stop offset=".507" stop-color="#32658e"/><stop offset=".580" stop-color="#38598c"/><stop offset=".656" stop-color="#3c508b"/><stop offset=".728" stop-color="#3f4788"/><stop offset=".800" stop-color="#424186"/><stop offset=".872" stop-color="#433e85"/><stop offset=".944" stop-color="#443a83"/><stop offset="1.000" stop-color="#453882"/></linearGradient><linearGradient id="gc148"><stop offset=".000" stop-color="#433e85"/><stop offset=".083" stop-color="#433e85"/><stop offset=".143" stop-color="#3c508b"/><stop offset=".187" stop-color="#2d708e"/><stop offset=".231" stop-color="#228d8d"/><stop offset=".291" stop-color="#1e9d89"/><stop offset=".363" stop-color="#20928c"/><stop offset=".435" stop-color="#27808e"/><stop offset=".507" stop-color="#2d708e"/><stop offset=".580" stop-color="#33638d"/><stop offset=".656" stop-color="#38598c"/><stop offset=".728" stop-color="#3c508b"/><stop offset=".800" stop-color="#3e4989"/><stop offset=".872" stop-color="#404588"/><stop offset=".944" stop-color="#424186"/><stop offset="1.000" stop-color="#423f85"/></linearGradient><linearGradient id="gc149"><stop offset=".000" stop-color="#424186"/><stop offset=".083" stop-color="#424186"/><stop offset=".143" stop-color="#3a538b"/><stop offset=".187" stop-color="#2b748e"/><stop offset=".231" stop-color="#20938c"/><stop offset=".291" stop-color="#20a486"/><stop offset=".363" stop-color="#1f998a"/><stop offset=".435" stop-color="#25858e"/><stop offset=".507" stop-color="#2b748e"/><stop offset=".580" stop-color="#31688e"/><stop offset=".656" stop-color="#365d8d"/><stop offset=".728" stop-color="#3a538b"/><stop offset=".800" stop-color="#3d4d8a"/><stop offset=".872" stop-color="#3f4889"/><stop offset=".944" stop-color="#404588"/><stop offset="1.000" stop-color="#414287"/></linearGradient><linearGradient id="gc150"><stop offset=".000" stop-color="#424086"/><stop offset=".083" stop-color="#424086"/><stop offset=".143" stop-color="#3b528b"/><stop offset=".187" stop-color="#2c728e"/><stop offset=".231" stop-color="#21918c"/><stop offset=".291" stop-color="#1fa188"/><stop offset=".363" stop-color="#1f968b"/><stop offset=".435" stop-color="#26828e"/><stop offset=".507" stop-color="#2c728e"/><stop offset=".580" stop-color="#31668e"/><stop offset=".656" stop-color="#375b8d"/><stop offset=".728" stop-color="#3b528b"/><stop offset=".800" stop-color="#3e4c8a"/><stop offset=".872" stop-color="#404688"/><stop offset=".944" stop-color="#414287"/><stop offset="1.000" stop-color="#424186"/></linearGradient><linearGradient id="gc151"><stop offset=".000" stop-color="#443b84"/><stop offset=".083" stop-color="#443b84"/><stop offset=".143" stop-color="#3d4d8a"/><stop offset=".187" stop-color="#2f6c8e"/><stop offset=".231" stop-color="#24878e"/><stop offset=".291" stop-color="#1f978b"/><stop offset=".363" stop-color="#228d8d"/><stop offset=".435" stop-color="#297b8e"/><stop offset=".507" stop-color="#2f6c8e"/><stop offset=".580" stop-color="#355f8d"/><stop offset=".656" stop-color="#39558c"/><stop offset=".728" stop-color="#3d4d8a"/><stop offset=".800" stop-color="#3f4788"/><stop offset=".872" stop-color="#424186"/><stop offset=".944" stop-color="#423f85"/><stop offset="1.000" stop-color="#433d84"/></linearGradient><linearGradient id="gc152"><stop offset=".000" stop-color="#453781"/><stop offset=".083" stop-color="#453781"/><stop offset=".143" stop-color="#404688"/><stop offset=".187" stop-color="#33638d"/><stop offset=".231" stop-color="#287d8e"/><stop offset=".291" stop-color="#228b8d"/><stop offset=".363" stop-color="#26828e"/><stop offset=".435" stop-color="#2c718e"/><stop offset=".507" stop-color="#33638d"/><stop offset=".580" stop-color="#38588c"/><stop offset=".656" stop-color="#3c4f8a"/><stop offset=".728" stop-color="#404688"/><stop offset=".800" stop-color="#424086"/><stop offset=".872" stop-color="#433d84"/><stop offset=".944" stop-color="#443983"/><stop offset="1.000" stop-color="#453882"/></linearGradient><linearGradient id="gc153"><stop offset=".000" stop-color="#46327e"/><stop offset=".083" stop-color="#46327e"/><stop offset=".143" stop-color="#424086"/><stop offset=".187" stop-color="#365c8d"/><stop offset=".231" stop-color="#2c738e"/><stop offset=".291" stop-color="#27808e"/><stop offset=".363" stop-color="#2a788e"/><stop offset=".435" stop-color="#30698e"/><stop offset=".507" stop-color="#365c8d"/><stop offset=".580" stop-color="#3b518b"/><stop offset=".656" stop-color="#3f4889"/><stop offset=".728" stop-color="#424086"/><stop offset=".800" stop-color="#443b84"/><stop offset=".872" stop-color="#453882"/><stop offset=".944" stop-color="#463480"/><stop offset="1.000" stop-color="#46337f"/></linearGradient><linearGradient id="gc154"><stop offset=".000" stop-color="#46307e"/><stop offset=".083" stop-color="#46307e"/><stop offset=".143" stop-color="#433e85"/><stop offset=".187" stop-color="#38598c"/><stop offset=".231" stop-color="#2d708e"/><stop offset=".291" stop-color="#287c8e"/><stop offset=".363" stop-color="#2c738e"/><stop offset=".435" stop-color="#32658e"/><stop offset=".507" stop-color="#38598c"/><stop offset=".580" stop-color="#3d4e8a"/><stop offset=".656" stop-color="#404688"/><stop offset=".728" stop-color="#433e85"/><stop offset=".800" stop-color="#443983"/><stop offset=".872" stop-color="#453581"/><stop offset=".944" stop-color="#46337f"/><stop offset="1.000" stop-color="#46307e"/></linearGradient><linearGradient id="gc155"><stop offset=".000" stop-color="#46327e"/><stop offset=".083" stop-color="#46327e"/><stop offset=".143" stop-color="#424086"/><stop offset=".187" stop-color="#365c8d"/><stop offset=".231" stop-color="#2c738e"/><stop offset=".291" stop-color="#26818e"/><stop offset=".363" stop-color="#2a788e"/><stop offset=".435" stop-color="#30698e"/><stop offset=".507" stop-color="#365c8d"/><stop offset=".580" stop-color="#3b518b"/><stop offset=".656" stop-color="#3f4889"/><stop offset=".728" stop-color="#424086"/><stop offset=".800" stop-color="#443b84"/><stop offset=".872" stop-color="#453882"/><stop offset=".944" stop-color="#463480"/><stop offset="1.000" stop-color="#46337f"/></linearGradient><linearGradient id="gc156"><stop offset=".000" stop-color="#453781"/><stop offset=".083" stop-color="#453781"/><stop offset=".143" stop-color="#3f4788"/><stop offset=".187" stop-color="#32648e"/><stop offset=".231" stop-color="#277f8e"/><stop offset=".291" stop-color="#228d8d"/><stop offset=".363" stop-color="#25838e"/><stop offset=".435" stop-color="#2c728e"/><stop offset=".507" stop-color="#32648e"/><stop offset=".580" stop-color="#38598c"/><stop offset=".656" stop-color="#3c508b"/><stop offset=".728" stop-color="#3f4788"/><stop offset=".800" stop-color="#424186"/><stop offset=".872" stop-color="#433d84"/><stop offset=".944" stop-color="#443a83"/><stop offset="1.000" stop-color="#453882"/></linearGradient><linearGradient id="gc157"><stop offset=".000" stop-color="#433e85"/><stop offset=".083" stop-color="#433e85"/><stop offset=".143" stop-color="#3c4f8a"/><stop offset=".187" stop-color="#2e6f8e"/><stop offset=".231" stop-color="#228c8d"/><stop offset=".291" stop-color="#1e9b8a"/><stop offset=".363" stop-color="#21918c"/><stop offset=".435" stop-color="#277f8e"/><stop offset=".507" stop-color="#2e6f8e"/><stop offset=".580" stop-color="#33628d"/><stop offset=".656" stop-color="#38588c"/><stop offset=".728" stop-color="#3c4f8a"/><stop offset=".800" stop-color="#3f4889"/><stop offset=".872" stop-color="#414487"/><stop offset=".944" stop-color="#424086"/><stop offset="1.000" stop-color="#423f85"/></linearGradient><linearGradient id="gc158"><stop offset=".000" stop-color="#414287"/><stop offset=".083" stop-color="#414287"/><stop offset=".143" stop-color="#3a548c"/><stop offset=".187" stop-color="#2a768e"/><stop offset=".231" stop-color="#1f958b"/><stop offset=".291" stop-color="#21a685"/><stop offset=".363" stop-color="#1e9b8a"/><stop offset=".435" stop-color="#24878e"/><stop offset=".507" stop-color="#2a768e"/><stop offset=".580" stop-color="#30698e"/><stop offset=".656" stop-color="#355e8d"/><stop offset=".728" stop-color="#3a548c"/><stop offset=".800" stop-color="#3d4e8a"/><stop offset=".872" stop-color="#3e4989"/><stop offset=".944" stop-color="#404688"/><stop offset="1.000" stop-color="#414487"/></linearGradient><linearGradient id="gc159"><stop offset=".000" stop-color="#414287"/><stop offset=".083" stop-color="#414287"/><stop offset=".143" stop-color="#39558c"/><stop offset=".187" stop-color="#2a778e"/><stop offset=".231" stop-color="#1f978b"/><stop offset=".291" stop-color="#22a884"/><stop offset=".363" stop-color="#1e9d89"/><stop offset=".435" stop-color="#23888e"/><stop offset=".507" stop-color="#2a778e"/><stop offset=".580" stop-color="#306a8e"/><stop offset=".656" stop-color="#355f8d"/><stop offset=".728" stop-color="#39558c"/><stop offset=".800" stop-color="#3c4f8a"/><stop offset=".872" stop-color="#3e4989"/><stop offset=".944" stop-color="#404688"/><stop offset="1.000" stop-color="#414487"/></linearGradient><linearGradient id="gc160"><stop offset=".000" stop-color="#423f85"/><stop offset=".083" stop-color="#423f85"/><stop offset=".143" stop-color="#3c508b"/><stop offset=".187" stop-color="#2d718e"/><stop offset=".231" stop-color="#218e8d"/><stop offset=".291" stop-color="#1f9f88"/><stop offset=".363" stop-color="#20938c"/><stop offset=".435" stop-color="#26818e"/><stop offset=".507" stop-color="#2d718e"/><stop offset=".580" stop-color="#32648e"/><stop offset=".656" stop-color="#375a8c"/><stop offset=".728" stop-color="#3c508b"/><stop offset=".800" stop-color="#3e4a89"/><stop offset=".872" stop-color="#404588"/><stop offset=".944" stop-color="#414287"/><stop offset="1.000" stop-color="#424086"/></linearGradient><linearGradient id="gc161"><stop offset=".000" stop-color="#453781"/><stop offset=".083" stop-color="#453781"/><stop offset=".143" stop-color="#3f4788"/><stop offset=".187" stop-color="#32648e"/><stop offset=".231" stop-color="#277f8e"/><stop offset=".291" stop-color="#228c8d"/><stop offset=".363" stop-color="#26828e"/><stop offset=".435" stop-color="#2c728e"/><stop offset=".507" stop-color="#32648e"/><stop offset=".580" stop-color="#38598c"/><stop offset=".656" stop-color="#3c4f8a"/><stop offset=".728" stop-color="#3f4788"/><stop offset=".800" stop-color="#424186"/><stop offset=".872" stop-color="#433d84"/><stop offset=".944" stop-color="#443a83"/><stop offset="1.000" stop-color="#453882"/></linearGradient><linearGradient id="gc162"><stop offset=".000" stop-color="#472f7d"/><stop offset=".083" stop-color="#472f7d"/><stop offset=".143" stop-color="#433e85"/><stop offset=".187" stop-color="#38588c"/><stop offset=".231" stop-color="#2e6f8e"/><stop offset=".291" stop-color="#297b8e"/><stop offset=".363" stop-color="#2c728e"/><stop offset=".435" stop-color="#32658e"/><stop offset=".507" stop-color="#38588c"/><stop offset=".580" stop-color="#3d4e8a"/><stop offset=".656" stop-color="#404588"/><stop offset=".728" stop-color="#433e85"/><stop offset=".800" stop-color="#443983"/><stop offset=".872" stop-color="#463480"/><stop offset=".944" stop-color="#46327e"/><stop offset="1.000" stop-color="#46307e"/></linearGradient><linearGradient id="gc163"><stop offset=".000" stop-color="#472d7b"/><stop offset=".083" stop-color="#472d7b"/><stop offset=".143" stop-color="#443983"/><stop offset=".187" stop-color="#3b528b"/><stop offset=".231" stop-color="#31688e"/><stop offset=".291" stop-color="#2c738e"/><stop offset=".363" stop-color="#2f6c8e"/><stop offset=".435" stop-color="#355e8d"/><stop offset=".507" stop-color="#3b528b"/><stop offset=".580" stop-color="#3f4889"/><stop offset=".656" stop-color="#424086"/><stop offset=".728" stop-color="#443983"/><stop offset=".800" stop-color="#463480"/><stop offset=".872" stop-color="#46307e"/><stop offset=".944" stop-color="#472e7c"/><stop offset="1.000" stop-color="#472d7b"/></linearGradient><linearGradient id="gc164"><stop offset=".000" stop-color="#472f7d"/><stop offset=".083" stop-color="#472f7d"/><stop offset=".143" stop-color="#433d84"/><stop offset=".187" stop-color="#39568c"/><stop offset=".231" stop-color="#2e6e8e"/><stop offset=".291" stop-color="#29798e"/><stop offset=".363" stop-color="#2c718e"/><stop offset=".435" stop-color="#33638d"/><stop offset=".507" stop-color="#39568c"/><stop offset=".580" stop-color="#3d4d8a"/><stop offset=".656" stop-color="#414487"/><stop offset=".728" stop-color="#433d84"/><stop offset=".800" stop-color="#453882"/><stop offset=".872" stop-color="#463480"/><stop offset=".944" stop-color="#46327e"/><stop offset="1.000" stop-color="#472f7d"/></linearGradient><linearGradient id="gc165"><stop offset=".000" stop-color="#453781"/><stop offset=".083" stop-color="#453781"/><stop offset=".143" stop-color="#3f4788"/><stop offset=".187" stop-color="#32648e"/><stop offset=".231" stop-color="#277e8e"/><stop offset=".291" stop-color="#228c8d"/><stop offset=".363" stop-color="#26828e"/><stop offset=".435" stop-color="#2c728e"/><stop offset=".507" stop-color="#32648e"/><stop offset=".580" stop-color="#38598c"/><stop offset=".656" stop-color="#3c4f8a"/><stop offset=".728" stop-color="#3f4788"/><stop offset=".800" stop-color="#424186"/><stop offset=".872" stop-color="#433d84"/><stop offset=".944" stop-color="#443a83"/><stop offset="1.000" stop-color="#453882"/></linearGradient><linearGradient id="gc166"><stop offset=".000" stop-color="#424086"/><stop offset=".083" stop-color="#424086"/><stop offset=".143" stop-color="#3b528b"/><stop offset=".187" stop-color="#2c728e"/><stop offset=".231" stop-color="#21918c"/><stop offset=".291" stop-color="#1fa187"/><stop offset=".363" stop-color="#1f968b"/><stop offset=".435" stop-color="#25838e"/><stop offset=".507" stop-color="#2c728e"/><stop offset=".580" stop-color="#31668e"/><stop offset=".656" stop-color="#365c8d"/><stop offset=".728" stop-color="#3b528b"/><stop offset=".800" stop-color="#3e4c8a"/><stop offset=".872" stop-color="#3f4788"/><stop offset=".944" stop-color="#414487"/><stop offset="1.000" stop-color="#424186"/></linearGradient><linearGradient id="gc167"><stop offset=".000" stop-color="#404688"/><stop offset=".083" stop-color="#404688"/><stop offset=".143" stop-color="#38598c"/><stop offset=".187" stop-color="#287c8e"/><stop offset=".231" stop-color="#1e9d89"/><stop offset=".291" stop-color="#29af7f"/><stop offset=".363" stop-color="#20a386"/><stop offset=".435" stop-color="#218e8d"/><stop offset=".507" stop-color="#287c8e"/><stop offset=".580" stop-color="#2e6e8e"/><stop offset=".656" stop-color="#33638d"/><stop offset=".728" stop-color="#38598c"/><stop offset=".800" stop-color="#3b528b"/><stop offset=".872" stop-color="#3d4d8a"/><stop offset=".944" stop-color="#3e4989"/><stop offset="1.000" stop-color="#3f4788"/></linearGradient><linearGradient id="gc168"><stop offset=".000" stop-color="#404588"/><stop offset=".083" stop-color="#404588"/><stop offset=".143" stop-color="#38598c"/><stop offset=".187" stop-color="#297b8e"/><stop offset=".231" stop-color="#1e9c89"/><stop offset=".291" stop-color="#27ad81"/><stop offset=".363" stop-color="#1fa187"/><stop offset=".435" stop-color="#228d8d"/><stop offset=".507" stop-color="#297b8e"/><stop offset=".580" stop-color="#2e6d8e"/><stop offset=".656" stop-color="#33628d"/><stop offset=".728" stop-color="#38598c"/><stop offset=".800" stop-color="#3b518b"/><stop offset=".872" stop-color="#3e4c8a"/><stop offset=".944" stop-color="#3f4889"/><stop offset="1.000" stop-color="#404688"/></linearGradient><linearGradient id="gc169"><stop offset=".000" stop-color="#433e85"/><stop offset=".083" stop-color="#433e85"/><stop offset=".143" stop-color="#3c508b"/><stop offset=".187" stop-color="#2d708e"/><stop offset=".231" stop-color="#228d8d"/><stop offset=".291" stop-color="#1e9d89"/><stop offset=".363" stop-color="#20928c"/><stop offset=".435" stop-color="#27808e"/><stop offset=".507" stop-color="#2d708e"/><stop offset=".580" stop-color="#33638d"/><stop offset=".656" stop-color="#38598c"/><stop offset=".728" stop-color="#3c508b"/><stop offset=".800" stop-color="#3e4989"/><stop offset=".872" stop-color="#404588"/><stop offset=".944" stop-color="#424186"/><stop offset="1.000" stop-color="#423f85"/></linearGradient><linearGradient id="gc170"><stop offset=".000" stop-color="#463480"/><stop offset=".083" stop-color="#463480"/><stop offset=".143" stop-color="#414487"/><stop offset=".187" stop-color="#34608d"/><stop offset=".231" stop-color="#29798e"/><stop offset=".291" stop-color="#24868e"/><stop offset=".363" stop-color="#277e8e"/><stop offset=".435" stop-color="#2e6e8e"/><stop offset=".507" stop-color="#34608d"/><stop offset=".580" stop-color="#39558c"/><stop offset=".656" stop-color="#3e4c8a"/><stop offset=".728" stop-color="#414487"/><stop offset=".800" stop-color="#423f85"/><stop offset=".872" stop-color="#443a83"/><stop offset=".944" stop-color="#453882"/><stop offset="1.000" stop-color="#453581"/></linearGradient><linearGradient id="gc171"><stop offset=".000" stop-color="#472d7b"/><stop offset=".083" stop-color="#472d7b"/><stop offset=".143" stop-color="#443a83"/><stop offset=".187" stop-color="#3b528b"/><stop offset=".231" stop-color="#30698e"/><stop offset=".291" stop-color="#2b748e"/><stop offset=".363" stop-color="#2e6d8e"/><stop offset=".435" stop-color="#355f8d"/><stop offset=".507" stop-color="#3b528b"/><stop offset=".580" stop-color="#3e4989"/><stop offset=".656" stop-color="#424186"/><stop offset=".728" stop-color="#443a83"/><stop offset=".800" stop-color="#453581"/><stop offset=".872" stop-color="#46327e"/><stop offset=".944" stop-color="#472f7d"/><stop offset="1.000" stop-color="#472e7c"/></linearGradient><linearGradient id="gc172"><stop offset=".000" stop-color="#472c7a"/><stop offset=".083" stop-color="#472c7a"/><stop offset=".143" stop-color="#453882"/><stop offset=".187" stop-color="#3c508b"/><stop offset=".231" stop-color="#32658e"/><stop offset=".291" stop-color="#2d718e"/><stop offset=".363" stop-color="#30698e"/><stop offset=".435" stop-color="#365c8d"/><stop offset=".507" stop-color="#3c508b"/><stop offset=".580" stop-color="#404688"/><stop offset=".656" stop-color="#423f85"/><stop offset=".728" stop-color="#453882"/><stop offset=".800" stop-color="#46337f"/><stop offset=".872" stop-color="#472f7d"/><stop offset=".944" stop-color="#472d7b"/><stop offset="1.000" stop-color="#472c7a"/></linearGradient><linearGradient id="gc173"><stop offset=".000" stop-color="#46307e"/><stop offset=".083" stop-color="#46307e"/><stop offset=".143" stop-color="#433e85"/><stop offset=".187" stop-color="#38598c"/><stop offset=".231" stop-color="#2d708e"/><stop offset=".291" stop-color="#287c8e"/><stop offset=".363" stop-color="#2b748e"/><stop offset=".435" stop-color="#31668e"/><stop offset=".507" stop-color="#38598c"/><stop offset=".580" stop-color="#3d4e8a"/><stop offset=".656" stop-color="#404688"/><stop offset=".728" stop-color="#433e85"/><stop offset=".800" stop-color="#443983"/><stop offset=".872" stop-color="#453581"/><stop offset=".944" stop-color="#46337f"/><stop offset="1.000" stop-color="#46307e"/></linearGradient><linearGradient id="gc174"><stop offset=".000" stop-color="#443983"/><stop offset=".083" stop-color="#443983"/><stop offset=".143" stop-color="#3e4a89"/><stop offset=".187" stop-color="#31688e"/><stop offset=".231" stop-color="#25838e"/><stop offset=".291" stop-color="#20928c"/><stop offset=".363" stop-color="#23888e"/><stop offset=".435" stop-color="#2a778e"/><stop offset=".507" stop-color="#31688e"/><stop offset=".580" stop-color="#365d8d"/><stop offset=".656" stop-color="#3b528b"/><stop offset=".728" stop-color="#3e4a89"/><stop offset=".800" stop-color="#414487"/><stop offset=".872" stop-color="#424086"/><stop offset=".944" stop-color="#433d84"/><stop offset="1.000" stop-color="#443a83"/></linearGradient><linearGradient id="gc175"><stop offset=".000" stop-color="#414287"/><stop offset=".083" stop-color="#414287"/><stop offset=".143" stop-color="#3a548c"/><stop offset=".187" stop-color="#2a768e"/><stop offset=".231" stop-color="#1f958b"/><stop offset=".291" stop-color="#22a785"/><stop offset=".363" stop-color="#1e9c89"/><stop offset=".435" stop-color="#24878e"/><stop offset=".507" stop-color="#2a768e"/><stop offset=".580" stop-color="#30698e"/><stop offset=".656" stop-color="#355f8d"/><stop offset=".728" stop-color="#3a548c"/><stop offset=".800" stop-color="#3d4e8a"/><stop offset=".872" stop-color="#3e4989"/><stop offset=".944" stop-color="#404688"/><stop offset="1.000" stop-color="#414487"/></linearGradient><linearGradient id="gc176"><stop offset=".000" stop-color="#404688"/><stop offset=".083" stop-color="#404688"/><stop offset=".143" stop-color="#375a8c"/><stop offset=".187" stop-color="#287d8e"/><stop offset=".231" stop-color="#1f9e89"/><stop offset=".291" stop-color="#2ab07f"/><stop offset=".363" stop-color="#20a486"/><stop offset=".435" stop-color="#218f8d"/><stop offset=".507" stop-color="#287d8e"/><stop offset=".580" stop-color="#2e6f8e"/><stop offset=".656" stop-color="#32648e"/><stop offset=".728" stop-color="#375a8c"/><stop offset=".800" stop-color="#3b528b"/><stop offset=".872" stop-color="#3d4e8a"/><stop offset=".944" stop-color="#3e4989"/><stop offset="1.000" stop-color="#3f4788"/></linearGradient><linearGradient id="gc177"><stop offset=".000" stop-color="#414287"/><stop offset=".083" stop-color="#414287"/><stop offset=".143" stop-color="#39558c"/><stop offset=".187" stop-color="#2a778e"/><stop offset=".231" stop-color="#1f978b"/><stop offset=".291" stop-color="#23a983"/><stop offset=".363" stop-color="#1e9d89"/><stop offset=".435" stop-color="#23898e"/><stop offset=".507" stop-color="#2a778e"/><stop offset=".580" stop-color="#306a8e"/><stop offset=".656" stop-color="#34608d"/><stop offset=".728" stop-color="#39558c"/><stop offset=".800" stop-color="#3c4f8a"/><stop offset=".872" stop-color="#3e4989"/><stop offset=".944" stop-color="#404688"/><stop offset="1.000" stop-color="#414487"/></linearGradient><linearGradient id="gc178"><stop offset=".000" stop-color="#443a83"/><stop offset=".083" stop-color="#443a83"/><stop offset=".143" stop-color="#3e4a89"/><stop offset=".187" stop-color="#30698e"/><stop offset=".231" stop-color="#25838e"/><stop offset=".291" stop-color="#20928c"/><stop offset=".363" stop-color="#23898e"/><stop offset=".435" stop-color="#2a778e"/><stop offset=".507" stop-color="#30698e"/><stop offset=".580" stop-color="#365d8d"/><stop offset=".656" stop-color="#3a538b"/><stop offset=".728" stop-color="#3e4a89"/><stop offset=".800" stop-color="#404588"/><stop offset=".872" stop-color="#424086"/><stop offset=".944" stop-color="#433d84"/><stop offset="1.000" stop-color="#443a83"/></linearGradient><linearGradient id="gc179"><stop offset=".000" stop-color="#46307e"/><stop offset=".083" stop-color="#46307e"/><stop offset=".143" stop-color="#433e85"/><stop offset=".187" stop-color="#38598c"/><stop offset=".231" stop-color="#2d708e"/><stop offset=".291" stop-color="#287c8e"/><stop offset=".363" stop-color="#2b748e"/><stop offset=".435" stop-color="#31668e"/><stop offset=".507" stop-color="#38598c"/><stop offset=".580" stop-color="#3d4e8a"/><stop offset=".656" stop-color="#404688"/><stop offset=".728" stop-color="#433e85"/><stop offset=".800" stop-color="#443983"/><stop offset=".872" stop-color="#453581"/><stop offset=".944" stop-color="#46337f"/><stop offset="1.000" stop-color="#46307e"/></linearGradient><linearGradient id="gc180"><stop offset=".000" stop-color="#472c7a"/><stop offset=".083" stop-color="#472c7a"/><stop offset=".143" stop-color="#443983"/><stop offset=".187" stop-color="#3b518b"/><stop offset=".231" stop-color="#31678e"/><stop offset=".291" stop-color="#2c718e"/><stop offset=".363" stop-color="#306a8e"/><stop offset=".435" stop-color="#365d8d"/><stop offset=".507" stop-color="#3b518b"/><stop offset=".580" stop-color="#3f4788"/><stop offset=".656" stop-color="#423f85"/><stop offset=".728" stop-color="#443983"/><stop offset=".800" stop-color="#463480"/><stop offset=".872" stop-color="#46307e"/><stop offset=".944" stop-color="#472e7c"/><stop offset="1.000" stop-color="#472d7b"/></linearGradient><linearGradient id="gc181"><stop offset=".000" stop-color="#472f7d"/><stop offset=".083" stop-color="#472f7d"/><stop offset=".143" stop-color="#433d84"/><stop offset=".187" stop-color="#39568c"/><stop offset=".231" stop-color="#2e6e8e"/><stop offset=".291" stop-color="#29798e"/><stop offset=".363" stop-color="#2c718e"/><stop offset=".435" stop-color="#33638d"/><stop offset=".507" stop-color="#39568c"/><stop offset=".580" stop-color="#3d4d8a"/><stop offset=".656" stop-color="#414487"/><stop offset=".728" stop-color="#433d84"/><stop offset=".800" stop-color="#453882"/><stop offset=".872" stop-color="#463480"/><stop offset=".944" stop-color="#46327e"/><stop offset="1.000" stop-color="#472f7d"/></linearGradient><linearGradient id="gc182"><stop offset=".000" stop-color="#453882"/><stop offset=".083" stop-color="#453882"/><stop offset=".143" stop-color="#3f4889"/><stop offset=".187" stop-color="#32658e"/><stop offset=".231" stop-color="#27808e"/><stop offset=".291" stop-color="#218e8d"/><stop offset=".363" stop-color="#25848e"/><stop offset=".435" stop-color="#2c738e"/><stop offset=".507" stop-color="#32658e"/><stop offset=".580" stop-color="#375a8c"/><stop offset=".656" stop-color="#3c508b"/><stop offset=".728" stop-color="#3f4889"/><stop offset=".800" stop-color="#414287"/><stop offset=".872" stop-color="#433e85"/><stop offset=".944" stop-color="#443a83"/><stop offset="1.000" stop-color="#443983"/></linearGradient><linearGradient id="gc183"><stop offset=".000" stop-color="#424086"/><stop offset=".083" stop-color="#424086"/><stop offset=".143" stop-color="#3a538b"/><stop offset=".187" stop-color="#2c738e"/><stop offset=".231" stop-color="#20928c"/><stop offset=".291" stop-color="#1fa287"/><stop offset=".363" stop-color="#1f988b"/><stop offset=".435" stop-color="#25848e"/><stop offset=".507" stop-color="#2c738e"/><stop offset=".580" stop-color="#31678e"/><stop offset=".656" stop-color="#365c8d"/><stop offset=".728" stop-color="#3a538b"/><stop offset=".800" stop-color="#3d4d8a"/><stop offset=".872" stop-color="#3f4788"/><stop offset=".944" stop-color="#414487"/><stop offset="1.000" stop-color="#424186"/></linearGradient><linearGradient id="gc184"><stop offset=".000" stop-color="#404588"/><stop offset=".083" stop-color="#404588"/><stop offset=".143" stop-color="#38588c"/><stop offset=".187" stop-color="#297a8e"/><stop offset=".231" stop-color="#1e9b8a"/><stop offset=".291" stop-color="#25ac82"/><stop offset=".363" stop-color="#1fa188"/><stop offset=".435" stop-color="#228c8d"/><stop offset=".507" stop-color="#297a8e"/><stop offset=".580" stop-color="#2e6d8e"/><stop offset=".656" stop-color="#34618d"/><stop offset=".728" stop-color="#38588c"/><stop offset=".800" stop-color="#3b518b"/><stop offset=".872" stop-color="#3e4c8a"/><stop offset=".944" stop-color="#3f4889"/><stop offset="1.000" stop-color="#404688"/></linearGradient><linearGradient id="gc185"><stop offset=".000" stop-color="#414287"/><stop offset=".083" stop-color="#414287"/><stop offset=".143" stop-color="#3a548c"/><stop offset=".187" stop-color="#2a768e"/><stop offset=".231" stop-color="#1f958b"/><stop offset=".291" stop-color="#21a685"/><stop offset=".363" stop-color="#1e9b8a"/><stop offset=".435" stop-color="#24878e"/><stop offset=".507" stop-color="#2a768e"/><stop offset=".580" stop-color="#30698e"/><stop offset=".656" stop-color="#355e8d"/><stop offset=".728" stop-color="#3a548c"/><stop offset=".800" stop-color="#3d4e8a"/><stop offset=".872" stop-color="#3e4989"/><stop offset=".944" stop-color="#404688"/><stop offset="1.000" stop-color="#414487"/></linearGradient><linearGradient id="gc186"><stop offset=".000" stop-color="#443b84"/><stop offset=".083" stop-color="#443b84"/><stop offset=".143" stop-color="#3d4d8a"/><stop offset=".187" stop-color="#2f6b8e"/><stop offset=".231" stop-color="#24878e"/><stop offset=".291" stop-color="#1f968b"/><stop offset=".363" stop-color="#228c8d"/><stop offset=".435" stop-color="#297a8e"/><stop offset=".507" stop-color="#2f6b8e"/><stop offset=".580" stop-color="#355f8d"/><stop offset=".656" stop-color="#39558c"/><stop offset=".728" stop-color="#3d4d8a"/><stop offset=".800" stop-color="#404688"/><stop offset=".872" stop-color="#424186"/><stop offset=".944" stop-color="#433e85"/><stop offset="1.000" stop-color="#433d84"/></linearGradient><linearGradient id="gc187"><stop offset=".000" stop-color="#46337f"/><stop offset=".083" stop-color="#46337f"/><stop offset=".143" stop-color="#414287"/><stop offset=".187" stop-color="#355e8d"/><stop offset=".231" stop-color="#2a768e"/><stop offset=".291" stop-color="#25838e"/><stop offset=".363" stop-color="#297b8e"/><stop offset=".435" stop-color="#2f6c8e"/><stop offset=".507" stop-color="#355e8d"/><stop offset=".580" stop-color="#3a538b"/><stop offset=".656" stop-color="#3e4a89"/><stop offset=".728" stop-color="#414287"/><stop offset=".800" stop-color="#433d84"/><stop offset=".872" stop-color="#443983"/><stop offset=".944" stop-color="#453781"/><stop offset="1.000" stop-color="#463480"/></linearGradient><linearGradient id="gc188"><stop offset=".000" stop-color="#472e7c"/><stop offset=".083" stop-color="#472e7c"/><stop offset=".143" stop-color="#443b84"/><stop offset=".187" stop-color="#39558c"/><stop offset=".231" stop-color="#2f6c8e"/><stop offset=".291" stop-color="#2a788e"/><stop offset=".363" stop-color="#2d708e"/><stop offset=".435" stop-color="#33628d"/><stop offset=".507" stop-color="#39558c"/><stop offset=".580" stop-color="#3e4c8a"/><stop offset=".656" stop-color="#414487"/><stop offset=".728" stop-color="#443b84"/><stop offset=".800" stop-color="#453781"/><stop offset=".872" stop-color="#46337f"/><stop offset=".944" stop-color="#46307e"/><stop offset="1.000" stop-color="#472f7d"/></linearGradient><linearGradient id="gc189"><stop offset=".000" stop-color="#472e7c"/><stop offset=".083" stop-color="#472e7c"/><stop offset=".143" stop-color="#433d84"/><stop offset=".187" stop-color="#39558c"/><stop offset=".231" stop-color="#2e6d8e"/><stop offset=".291" stop-color="#2a788e"/><stop offset=".363" stop-color="#2d718e"/><stop offset=".435" stop-color="#33638d"/><stop offset=".507" stop-color="#39558c"/><stop offset=".580" stop-color="#3e4c8a"/><stop offset=".656" stop-color="#414487"/><stop offset=".728" stop-color="#433d84"/><stop offset=".800" stop-color="#453882"/><stop offset=".872" stop-color="#46337f"/><stop offset=".944" stop-color="#46307e"/><stop offset="1.000" stop-color="#472f7d"/></linearGradient><linearGradient id="gc190"><stop offset=".000" stop-color="#463480"/><stop offset=".083" stop-color="#463480"/><stop offset=".143" stop-color="#414287"/><stop offset=".187" stop-color="#355f8d"/><stop offset=".231" stop-color="#2a778e"/><stop offset=".291" stop-color="#25848e"/><stop offset=".363" stop-color="#287c8e"/><stop offset=".435" stop-color="#2f6c8e"/><stop offset=".507" stop-color="#355f8d"/><stop offset=".580" stop-color="#3a538b"/><stop offset=".656" stop-color="#3e4a89"/><stop offset=".728" stop-color="#414287"/><stop offset=".800" stop-color="#433e85"/><stop offset=".872" stop-color="#443983"/><stop offset=".944" stop-color="#453781"/><stop offset="1.000" stop-color="#463480"/></linearGradient><linearGradient id="gc191"><stop offset=".000" stop-color="#443b84"/><stop offset=".083" stop-color="#443b84"/><stop offset=".143" stop-color="#3e4c8a"/><stop offset=".187" stop-color="#2f6b8e"/><stop offset=".231" stop-color="#24868e"/><stop offset=".291" stop-color="#1f958b"/><stop offset=".363" stop-color="#228b8d"/><stop offset=".435" stop-color="#297a8e"/><stop offset=".507" stop-color="#2f6b8e"/><stop offset=".580" stop-color="#355f8d"/><stop offset=".656" stop-color="#3a548c"/><stop offset=".728" stop-color="#3e4c8a"/><stop offset=".800" stop-color="#404688"/><stop offset=".872" stop-color="#424186"/><stop offset=".944" stop-color="#433e85"/><stop offset="1.000" stop-color="#443b84"/></linearGradient><linearGradient id="gc192"><stop offset=".000" stop-color="#424086"/><stop offset=".083" stop-color="#424086"/><stop offset=".143" stop-color="#3a538b"/><stop offset=".187" stop-color="#2c738e"/><stop offset=".231" stop-color="#20928c"/><stop offset=".291" stop-color="#20a386"/><stop offset=".363" stop-color="#1f988b"/><stop offset=".435" stop-color="#25848e"/><stop offset=".507" stop-color="#2c738e"/><stop offset=".580" stop-color="#31678e"/><stop offset=".656" stop-color="#365d8d"/><stop offset=".728" stop-color="#3a538b"/><stop offset=".800" stop-color="#3d4d8a"/><stop offset=".872" stop-color="#3f4788"/><stop offset=".944" stop-color="#414487"/><stop offset="1.000" stop-color="#424186"/></linearGradient><linearGradient id="gc193"><stop offset=".000" stop-color="#414287"/><stop offset=".083" stop-color="#414287"/><stop offset=".143" stop-color="#39558c"/><stop offset=".187" stop-color="#2a768e"/><stop offset=".231" stop-color="#1f968b"/><stop offset=".291" stop-color="#22a884"/><stop offset=".363" stop-color="#1e9c89"/><stop offset=".435" stop-color="#23888e"/><stop offset=".507" stop-color="#2a768e"/><stop offset=".580" stop-color="#306a8e"/><stop offset=".656" stop-color="#355f8d"/><stop offset=".728" stop-color="#39558c"/><stop offset=".800" stop-color="#3c4f8a"/><stop offset=".872" stop-color="#3e4989"/><stop offset=".944" stop-color="#404688"/><stop offset="1.000" stop-color="#414487"/></linearGradient><linearGradient id="gc194"><stop offset=".000" stop-color="#423f85"/><stop offset=".083" stop-color="#423f85"/><stop offset=".143" stop-color="#3c508b"/><stop offset=".187" stop-color="#2d718e"/><stop offset=".231" stop-color="#218e8d"/><stop offset=".291" stop-color="#1f9e89"/><stop offset=".363" stop-color="#20938c"/><stop offset=".435" stop-color="#26818e"/><stop offset=".507" stop-color="#2d718e"/><stop offset=".580" stop-color="#32648e"/><stop offset=".656" stop-color="#375a8c"/><stop offset=".728" stop-color="#3c508b"/><stop offset=".800" stop-color="#3e4a89"/><stop offset=".872" stop-color="#404588"/><stop offset=".944" stop-color="#424186"/><stop offset="1.000" stop-color="#424086"/></linearGradient><linearGradient id="gc195"><stop offset=".000" stop-color="#453781"/><stop offset=".083" stop-color="#453781"/><stop offset=".143" stop-color="#3f4788"/><stop offset=".187" stop-color="#32648e"/><stop offset=".231" stop-color="#277e8e"/><stop offset=".291" stop-color="#228b8d"/><stop offset=".363" stop-color="#26828e"/><stop offset=".435" stop-color="#2c718e"/><stop offset=".507" stop-color="#32648e"/><stop offset=".580" stop-color="#38598c"/><stop offset=".656" stop-color="#3c4f8a"/><stop offset=".728" stop-color="#3f4788"/><stop offset=".800" stop-color="#424186"/><stop offset=".872" stop-color="#433d84"/><stop offset=".944" stop-color="#443983"/><stop offset="1.000" stop-color="#453882"/></linearGradient><linearGradient id="gc196"><stop offset=".000" stop-color="#46307e"/><stop offset=".083" stop-color="#46307e"/><stop offset=".143" stop-color="#423f85"/><stop offset=".187" stop-color="#38598c"/><stop offset=".231" stop-color="#2d718e"/><stop offset=".291" stop-color="#287c8e"/><stop offset=".363" stop-color="#2b748e"/><stop offset=".435" stop-color="#31668e"/><stop offset=".507" stop-color="#38598c"/><stop offset=".580" stop-color="#3d4e8a"/><stop offset=".656" stop-color="#404688"/><stop offset=".728" stop-color="#423f85"/><stop offset=".800" stop-color="#443983"/><stop offset=".872" stop-color="#453581"/><stop offset=".944" stop-color="#46337f"/><stop offset="1.000" stop-color="#46327e"/></linearGradient><linearGradient id="gc197"><stop offset=".000" stop-color="#472f7d"/><stop offset=".083" stop-color="#472f7d"/><stop offset=".143" stop-color="#433e85"/><stop offset=".187" stop-color="#38588c"/><stop offset=".231" stop-color="#2e6f8e"/><stop offset=".291" stop-color="#297b8e"/><stop offset=".363" stop-color="#2c738e"/><stop offset=".435" stop-color="#32658e"/><stop offset=".507" stop-color="#38588c"/><stop offset=".580" stop-color="#3d4e8a"/><stop offset=".656" stop-color="#404588"/><stop offset=".728" stop-color="#433e85"/><stop offset=".800" stop-color="#443983"/><stop offset=".872" stop-color="#453581"/><stop offset=".944" stop-color="#46327e"/><stop offset="1.000" stop-color="#46307e"/></linearGradient><linearGradient id="gc198"><stop offset=".000" stop-color="#453581"/><stop offset=".083" stop-color="#453581"/><stop offset=".143" stop-color="#404588"/><stop offset=".187" stop-color="#34618d"/><stop offset=".231" stop-color="#297a8e"/><stop offset=".291" stop-color="#23888e"/><stop offset=".363" stop-color="#277f8e"/><stop offset=".435" stop-color="#2d708e"/><stop offset=".507" stop-color="#34618d"/><stop offset=".580" stop-color="#39558c"/><stop offset=".656" stop-color="#3d4d8a"/><stop offset=".728" stop-color="#404588"/><stop offset=".800" stop-color="#423f85"/><stop offset=".872" stop-color="#443b84"/><stop offset=".944" stop-color="#453882"/><stop offset="1.000" stop-color="#453781"/></linearGradient><linearGradient id="gc199"><stop offset=".000" stop-color="#433d84"/><stop offset=".083" stop-color="#433d84"/><stop offset=".143" stop-color="#3d4e8a"/><stop offset=".187" stop-color="#2e6e8e"/><stop offset=".231" stop-color="#238a8d"/><stop offset=".291" stop-color="#1f9a8a"/><stop offset=".363" stop-color="#21908d"/><stop offset=".435" stop-color="#287d8e"/><stop offset=".507" stop-color="#2e6e8e"/><stop offset=".580" stop-color="#34618d"/><stop offset=".656" stop-color="#38588c"/><stop offset=".728" stop-color="#3d4e8a"/><stop offset=".800" stop-color="#3f4889"/><stop offset=".872" stop-color="#414487"/><stop offset=".944" stop-color="#424086"/><stop offset="1.000" stop-color="#433e85"/></linearGradient><linearGradient id="gc200"><stop offset=".000" stop-color="#424186"/><stop offset=".083" stop-color="#424186"/><stop offset=".143" stop-color="#3a548c"/><stop offset=".187" stop-color="#2b758e"/><stop offset=".231" stop-color="#1f948c"/><stop offset=".291" stop-color="#21a585"/><stop offset=".363" stop-color="#1f9a8a"/><stop offset=".435" stop-color="#24868e"/><stop offset=".507" stop-color="#2b758e"/><stop offset=".580" stop-color="#31688e"/><stop offset=".656" stop-color="#355e8d"/><stop offset=".728" stop-color="#3a548c"/><stop offset=".800" stop-color="#3d4e8a"/><stop offset=".872" stop-color="#3f4889"/><stop offset=".944" stop-color="#404588"/><stop offset="1.000" stop-color="#414287"/></linearGradient><linearGradient id="gc201"><stop offset=".000" stop-color="#424086"/><stop offset=".083" stop-color="#424086"/><stop offset=".143" stop-color="#3b528b"/><stop offset=".187" stop-color="#2c738e"/><stop offset=".231" stop-color="#20928c"/><stop offset=".291" stop-color="#1fa287"/><stop offset=".363" stop-color="#1f978b"/><stop offset=".435" stop-color="#25838e"/><stop offset=".507" stop-color="#2c738e"/><stop offset=".580" stop-color="#31668e"/><stop offset=".656" stop-color="#365c8d"/><stop offset=".728" stop-color="#3b528b"/><stop offset=".800" stop-color="#3e4c8a"/><stop offset=".872" stop-color="#3f4788"/><stop offset=".944" stop-color="#414487"/><stop offset="1.000" stop-color="#424186"/></linearGradient><linearGradient id="gc202"><stop offset=".000" stop-color="#443b84"/><stop offset=".083" stop-color="#443b84"/><stop offset=".143" stop-color="#3e4c8a"/><stop offset=".187" stop-color="#2f6b8e"/><stop offset=".231" stop-color="#24868e"/><stop offset=".291" stop-color="#1f958b"/><stop offset=".363" stop-color="#228b8d"/><stop offset=".435" stop-color="#297a8e"/><stop offset=".507" stop-color="#2f6b8e"/><stop offset=".580" stop-color="#355f8d"/><stop offset=".656" stop-color="#3a548c"/><stop offset=".728" stop-color="#3e4c8a"/><stop offset=".800" stop-color="#404688"/><stop offset=".872" stop-color="#424186"/><stop offset=".944" stop-color="#433e85"/><stop offset="1.000" stop-color="#443b84"/></linearGradient><linearGradient id="gc203"><stop offset=".000" stop-color="#463480"/><stop offset=".083" stop-color="#463480"/><stop offset=".143" stop-color="#414487"/><stop offset=".187" stop-color="#34608d"/><stop offset=".231" stop-color="#29798e"/><stop offset=".291" stop-color="#24868e"/><stop offset=".363" stop-color="#287d8e"/><stop offset=".435" stop-color="#2e6e8e"/><stop offset=".507" stop-color="#34608d"/><stop offset=".580" stop-color="#3a548c"/><stop offset=".656" stop-color="#3e4c8a"/><stop offset=".728" stop-color="#414487"/><stop offset=".800" stop-color="#433e85"/><stop offset=".872" stop-color="#443a83"/><stop offset=".944" stop-color="#453781"/><stop offset="1.000" stop-color="#453581"/></linearGradient><linearGradient id="gc204"><stop offset=".000" stop-color="#46307e"/><stop offset=".083" stop-color="#46307e"/><stop offset=".143" stop-color="#423f85"/><stop offset=".187" stop-color="#38598c"/><stop offset=".231" stop-color="#2d718e"/><stop offset=".291" stop-color="#287d8e"/><stop offset=".363" stop-color="#2b748e"/><stop offset=".435" stop-color="#31668e"/><stop offset=".507" stop-color="#38598c"/><stop offset=".580" stop-color="#3c4f8a"/><stop offset=".656" stop-color="#404688"/><stop offset=".728" stop-color="#423f85"/><stop offset=".800" stop-color="#443983"/><stop offset=".872" stop-color="#453581"/><stop offset=".944" stop-color="#46337f"/><stop offset="1.000" stop-color="#46327e"/></linearGradient><linearGradient id="gc205"><stop offset=".000" stop-color="#46327e"/><stop offset=".083" stop-color="#46327e"/><stop offset=".143" stop-color="#424086"/><stop offset=".187" stop-color="#375b8d"/><stop offset=".231" stop-color="#2c728e"/><stop offset=".291" stop-color="#277f8e"/><stop offset=".363" stop-color="#2a768e"/><stop offset=".435" stop-color="#31688e"/><stop offset=".507" stop-color="#375b8d"/><stop offset=".580" stop-color="#3c508b"/><stop offset=".656" stop-color="#3f4788"/><stop offset=".728" stop-color="#424086"/><stop offset=".800" stop-color="#443a83"/><stop offset=".872" stop-color="#453781"/><stop offset=".944" stop-color="#463480"/><stop offset="1.000" stop-color="#46327e"/></linearGradient><linearGradient id="gc206"><stop offset=".000" stop-color="#453781"/><stop offset=".083" stop-color="#453781"/><stop offset=".143" stop-color="#404688"/><stop offset=".187" stop-color="#33638d"/><stop offset=".231" stop-color="#287d8e"/><stop offset=".291" stop-color="#228b8d"/><stop offset=".363" stop-color="#26828e"/><stop offset=".435" stop-color="#2c718e"/><stop offset=".507" stop-color="#33638d"/><stop offset=".580" stop-color="#38588c"/><stop offset=".656" stop-color="#3c4f8a"/><stop offset=".728" stop-color="#404688"/><stop offset=".800" stop-color="#424086"/><stop offset=".872" stop-color="#433d84"/><stop offset=".944" stop-color="#443983"/><stop offset="1.000" stop-color="#453882"/></linearGradient><linearGradient id="gc207"><stop offset=".000" stop-color="#433d84"/><stop offset=".083" stop-color="#433d84"/><stop offset=".143" stop-color="#3d4e8a"/><stop offset=".187" stop-color="#2e6d8e"/><stop offset=".231" stop-color="#23898e"/><stop offset=".291" stop-color="#1f998a"/><stop offset=".363" stop-color="#218f8d"/><stop offset=".435" stop-color="#287d8e"/><stop offset=".507" stop-color="#2e6d8e"/><stop offset=".580" stop-color="#34618d"/><stop offset=".656" stop-color="#39568c"/><stop offset=".728" stop-color="#3d4e8a"/><stop offset=".800" stop-color="#3f4788"/><stop offset=".872" stop-color="#414287"/><stop offset=".944" stop-color="#424086"/><stop offset="1.000" stop-color="#433e85"/></linearGradient><linearGradient id="gc208"><stop offset=".000" stop-color="#424086"/><stop offset=".083" stop-color="#424086"/><stop offset=".143" stop-color="#3b528b"/><stop offset=".187" stop-color="#2c738e"/><stop offset=".231" stop-color="#20928c"/><stop offset=".291" stop-color="#1fa287"/><stop offset=".363" stop-color="#1f978b"/><stop offset=".435" stop-color="#25838e"/><stop offset=".507" stop-color="#2c738e"/><stop offset=".580" stop-color="#31668e"/><stop offset=".656" stop-color="#365c8d"/><stop offset=".728" stop-color="#3b528b"/><stop offset=".800" stop-color="#3e4c8a"/><stop offset=".872" stop-color="#3f4788"/><stop offset=".944" stop-color="#414487"/><stop offset="1.000" stop-color="#424186"/></linearGradient><linearGradient id="gc209"><stop offset=".000" stop-color="#424086"/><stop offset=".083" stop-color="#424086"/><stop offset=".143" stop-color="#3b528b"/><stop offset=".187" stop-color="#2c728e"/><stop offset=".231" stop-color="#21918c"/><stop offset=".291" stop-color="#1fa188"/><stop offset=".363" stop-color="#1f958b"/><stop offset=".435" stop-color="#26828e"/><stop offset=".507" stop-color="#2c728e"/><stop offset=".580" stop-color="#32658e"/><stop offset=".656" stop-color="#375b8d"/><stop offset=".728" stop-color="#3b528b"/><stop offset=".800" stop-color="#3e4c8a"/><stop offset=".872" stop-color="#404688"/><stop offset=".944" stop-color="#414287"/><stop offset="1.000" stop-color="#424186"/></linearGradient><linearGradient id="gc210"><stop offset=".000" stop-color="#443b84"/><stop offset=".083" stop-color="#443b84"/><stop offset=".143" stop-color="#3d4d8a"/><stop offset=".187" stop-color="#2f6b8e"/><stop offset=".231" stop-color="#24878e"/><stop offset=".291" stop-color="#1f968b"/><stop offset=".363" stop-color="#228c8d"/><stop offset=".435" stop-color="#297a8e"/><stop offset=".507" stop-color="#2f6b8e"/><stop offset=".580" stop-color="#355f8d"/><stop offset=".656" stop-color="#39558c"/><stop offset=".728" stop-color="#3d4d8a"/><stop offset=".800" stop-color="#404688"/><stop offset=".872" stop-color="#424186"/><stop offset=".944" stop-color="#433e85"/><stop offset="1.000" stop-color="#433d84"/></linearGradient><linearGradient id="gd0"><stop offset=".000" stop-color="#481769"/><stop offset=".026" stop-color="#48186a"/><stop offset=".058" stop-color="#481b6d"/><stop offset=".086" stop-color="#481d6f"/><stop offset=".106" stop-color="#482071"/><stop offset=".127" stop-color="#482374"/><stop offset=".147" stop-color="#482475"/><stop offset=".167" stop-color="#482576"/><stop offset=".187" stop-color="#482677"/><stop offset=".207" stop-color="#482677"/><stop offset=".227" stop-color="#482576"/><stop offset=".259" stop-color="#482576"/><stop offset=".291" stop-color="#482576"/><stop offset=".331" stop-color="#482475"/><stop offset=".379" stop-color="#482173"/><stop offset=".436" stop-color="#481f70"/><stop offset=".508" stop-color="#48186a"/><stop offset=".588" stop-color="#470d60"/><stop offset=".689" stop-color="#471164"/><stop offset=".809" stop-color="#470e61"/><stop offset="1.000" stop-color="#470e61"/></linearGradient><linearGradient id="gd1"><stop offset=".000" stop-color="#481769"/><stop offset=".026" stop-color="#48186a"/><stop offset=".058" stop-color="#481b6d"/><stop offset=".086" stop-color="#481f70"/><stop offset=".106" stop-color="#482173"/><stop offset=".127" stop-color="#482374"/><stop offset=".147" stop-color="#482576"/><stop offset=".167" stop-color="#482677"/><stop offset=".187" stop-color="#482677"/><stop offset=".207" stop-color="#482677"/><stop offset=".227" stop-color="#482677"/><stop offset=".259" stop-color="#482677"/><stop offset=".291" stop-color="#482576"/><stop offset=".331" stop-color="#482475"/><stop offset=".379" stop-color="#482374"/><stop offset=".436" stop-color="#482071"/><stop offset=".508" stop-color="#481a6c"/><stop offset=".588" stop-color="#460b5e"/><stop offset=".689" stop-color="#471164"/><stop offset=".809" stop-color="#470d60"/><stop offset="1.000" stop-color="#470e61"/></linearGradient><linearGradient id="gd2"><stop offset=".000" stop-color="#481769"/><stop offset=".026" stop-color="#48186a"/><stop offset=".058" stop-color="#481c6e"/><stop offset=".086" stop-color="#481f70"/><stop offset=".106" stop-color="#482173"/><stop offset=".127" stop-color="#482475"/><stop offset=".147" stop-color="#482677"/><stop offset=".167" stop-color="#482878"/><stop offset=".187" stop-color="#482878"/><stop offset=".207" stop-color="#482878"/><stop offset=".227" stop-color="#482878"/><stop offset=".259" stop-color="#482878"/><stop offset=".291" stop-color="#482677"/><stop offset=".331" stop-color="#482576"/><stop offset=".379" stop-color="#482475"/><stop offset=".436" stop-color="#482071"/><stop offset=".508" stop-color="#481a6c"/><stop offset=".588" stop-color="#460b5e"/><stop offset=".689" stop-color="#471164"/><stop offset=".809" stop-color="#470d60"/><stop offset="1.000" stop-color="#470e61"/></linearGradient><linearGradient id="gd3"><stop offset=".000" stop-color="#481769"/><stop offset=".026" stop-color="#481a6c"/><stop offset=".058" stop-color="#481c6e"/><stop offset=".086" stop-color="#482071"/><stop offset=".106" stop-color="#482374"/><stop offset=".127" stop-color="#482576"/><stop offset=".147" stop-color="#482677"/><stop offset=".167" stop-color="#482979"/><stop offset=".187" stop-color="#482979"/><stop offset=".207" stop-color="#482979"/><stop offset=".227" stop-color="#482979"/><stop offset=".259" stop-color="#482878"/><stop offset=".291" stop-color="#482878"/><stop offset=".331" stop-color="#482677"/><stop offset=".379" stop-color="#482475"/><stop offset=".436" stop-color="#482173"/><stop offset=".508" stop-color="#481a6c"/><stop offset=".588" stop-color="#460a5d"/><stop offset=".689" stop-color="#471164"/><stop offset=".809" stop-color="#470d60"/><stop offset="1.000" stop-color="#470e61"/></linearGradient><linearGradient id="gd4"><stop offset=".000" stop-color="#481769"/><stop offset=".026" stop-color="#481a6c"/><stop offset=".058" stop-color="#481c6e"/><stop offset=".086" stop-color="#482071"/><stop offset=".106" stop-color="#482374"/><stop offset=".127" stop-color="#482576"/><stop offset=".147" stop-color="#482878"/><stop offset=".167" stop-color="#482979"/><stop offset=".187" stop-color="#472a7a"/><stop offset=".207" stop-color="#472a7a"/><stop offset=".227" stop-color="#472a7a"/><stop offset=".259" stop-color="#482979"/><stop offset=".291" stop-color="#482979"/><stop offset=".331" stop-color="#482878"/><stop offset=".379" stop-color="#482576"/><stop offset=".436" stop-color="#482173"/><stop offset=".508" stop-color="#481a6c"/><stop offset=".588" stop-color="#460a5d"/><stop offset=".689" stop-color="#471164"/><stop offset=".809" stop-color="#470d60"/><stop offset="1.000" stop-color="#470e61"/></linearGradient><linearGradient id="gd5"><stop offset=".000" stop-color="#481769"/><stop offset=".026" stop-color="#481a6c"/><stop offset=".058" stop-color="#481d6f"/><stop offset=".086" stop-color="#482173"/><stop offset=".106" stop-color="#482475"/><stop offset=".127" stop-color="#482677"/><stop offset=".147" stop-color="#482979"/><stop offset=".167" stop-color="#472a7a"/><stop offset=".187" stop-color="#472c7a"/><stop offset=".207" stop-color="#472c7a"/><stop offset=".227" stop-color="#472c7a"/><stop offset=".259" stop-color="#472a7a"/><stop offset=".291" stop-color="#472a7a"/><stop offset=".331" stop-color="#482878"/><stop offset=".379" stop-color="#482677"/><stop offset=".436" stop-color="#482374"/><stop offset=".508" stop-color="#481a6c"/><stop offset=".588" stop-color="#460a5d"/><stop offset=".689" stop-color="#471164"/><stop offset=".809" stop-color="#470d60"/><stop offset="1.000" stop-color="#470e61"/></linearGradient><linearGradient id="gd6"><stop offset=".000" stop-color="#481769"/><stop offset=".026" stop-color="#481a6c"/><stop offset=".058" stop-color="#481d6f"/><stop offset=".086" stop-color="#482173"/><stop offset=".106" stop-color="#482576"/><stop offset=".127" stop-color="#482878"/><stop offset=".147" stop-color="#472a7a"/><stop offset=".167" stop-color="#472c7a"/><stop offset=".187" stop-color="#472d7b"/><stop offset=".207" stop-color="#472d7b"/><stop offset=".227" stop-color="#472d7b"/><stop offset=".259" stop-color="#472c7a"/><stop offset=".291" stop-color="#472a7a"/><stop offset=".331" stop-color="#482979"/><stop offset=".379" stop-color="#482677"/><stop offset=".436" stop-color="#482475"/><stop offset=".508" stop-color="#481b6d"/><stop offset=".588" stop-color="#460a5d"/><stop offset=".689" stop-color="#471164"/><stop offset=".809" stop-color="#470d60"/><stop offset="1.000" stop-color="#470e61"/></linearGradient><linearGradient id="gd7"><stop offset=".000" stop-color="#48186a"/><stop offset=".026" stop-color="#481a6c"/><stop offset=".058" stop-color="#481d6f"/><stop offset=".086" stop-color="#482374"/><stop offset=".106" stop-color="#482576"/><stop offset=".127" stop-color="#482979"/><stop offset=".147" stop-color="#472c7a"/><stop offset=".167" stop-color="#472d7b"/><stop offset=".187" stop-color="#472e7c"/><stop offset=".207" stop-color="#472e7c"/><stop offset=".227" stop-color="#472e7c"/><stop offset=".259" stop-color="#472d7b"/><stop offset=".291" stop-color="#472c7a"/><stop offset=".331" stop-color="#472a7a"/><stop offset=".379" stop-color="#482878"/><stop offset=".436" stop-color="#482475"/><stop offset=".508" stop-color="#481b6d"/><stop offset=".588" stop-color="#460a5d"/><stop offset=".689" stop-color="#471164"/><stop offset=".809" stop-color="#470d60"/><stop offset="1.000" stop-color="#470e61"/></linearGradient><linearGradient id="gd8"><stop offset=".000" stop-color="#48186a"/><stop offset=".026" stop-color="#481b6d"/><stop offset=".058" stop-color="#481f70"/><stop offset=".086" stop-color="#482374"/><stop offset=".106" stop-color="#482677"/><stop offset=".127" stop-color="#472a7a"/><stop offset=".147" stop-color="#472d7b"/><stop offset=".167" stop-color="#472e7c"/><stop offset=".187" stop-color="#472f7d"/><stop offset=".207" stop-color="#472f7d"/><stop offset=".227" stop-color="#472f7d"/><stop offset=".259" stop-color="#472e7c"/><stop offset=".291" stop-color="#472d7b"/><stop offset=".331" stop-color="#472c7a"/><stop offset=".379" stop-color="#482979"/><stop offset=".436" stop-color="#482576"/><stop offset=".508" stop-color="#481c6e"/><stop offset=".588" stop-color="#460a5d"/><stop offset=".689" stop-color="#471164"/><stop offset=".809" stop-color="#470d60"/><stop offset="1.000" stop-color="#470e61"/></linearGradient><linearGradient id="gd9"><stop offset=".000" stop-color="#48186a"/><stop offset=".026" stop-color="#481b6d"/><stop offset=".058" stop-color="#481f70"/><stop offset=".086" stop-color="#482475"/><stop offset=".106" stop-color="#482878"/><stop offset=".127" stop-color="#472c7a"/><stop offset=".147" stop-color="#472e7c"/><stop offset=".167" stop-color="#472f7d"/><stop offset=".187" stop-color="#46307e"/><stop offset=".207" stop-color="#46307e"/><stop offset=".227" stop-color="#46307e"/><stop offset=".259" stop-color="#472f7d"/><stop offset=".291" stop-color="#472e7c"/><stop offset=".331" stop-color="#472d7b"/><stop offset=".379" stop-color="#472a7a"/><stop offset=".436" stop-color="#482677"/><stop offset=".508" stop-color="#481c6e"/><stop offset=".588" stop-color="#460a5d"/><stop offset=".689" stop-color="#471164"/><stop offset=".809" stop-color="#470d60"/><stop offset="1.000" stop-color="#470e61"/></linearGradient><linearGradient id="gd10"><stop offset=".000" stop-color="#48186a"/><stop offset=".026" stop-color="#481b6d"/><stop offset=".058" stop-color="#482071"/><stop offset=".086" stop-color="#482576"/><stop offset=".106" stop-color="#482979"/><stop offset=".127" stop-color="#472c7a"/><stop offset=".147" stop-color="#472f7d"/><stop offset=".167" stop-color="#46327e"/><stop offset=".187" stop-color="#46327e"/><stop offset=".207" stop-color="#46327e"/><stop offset=".227" stop-color="#46327e"/><stop offset=".259" stop-color="#46307e"/><stop offset=".291" stop-color="#472f7d"/><stop offset=".331" stop-color="#472e7c"/><stop offset=".379" stop-color="#472c7a"/><stop offset=".436" stop-color="#482677"/><stop offset=".508" stop-color="#481d6f"/><stop offset=".588" stop-color="#460a5d"/><stop offset=".689" stop-color="#471164"/><stop offset=".809" stop-color="#470d60"/><stop offset="1.000" stop-color="#470e61"/></linearGradient><linearGradient id="gd11"><stop offset=".000" stop-color="#48186a"/><stop offset=".026" stop-color="#481b6d"/><stop offset=".058" stop-color="#482071"/><stop offset=".086" stop-color="#482576"/><stop offset=".106" stop-color="#482979"/><stop offset=".127" stop-color="#472d7b"/><stop offset=".147" stop-color="#46307e"/><stop offset=".167" stop-color="#46337f"/><stop offset=".187" stop-color="#46337f"/><stop offset=".207" stop-color="#46337f"/><stop offset=".227" stop-color="#46337f"/><stop offset=".259" stop-color="#46337f"/><stop offset=".291" stop-color="#46327e"/><stop offset=".331" stop-color="#472f7d"/><stop offset=".379" stop-color="#472c7a"/><stop offset=".436" stop-color="#482878"/><stop offset=".508" stop-color="#481d6f"/><stop offset=".588" stop-color="#460a5d"/><stop offset=".689" stop-color="#471164"/><stop offset=".809" stop-color="#470d60"/><stop offset="1.000" stop-color="#470e61"/></linearGradient><linearGradient id="gd12"><stop offset=".000" stop-color="#48186a"/><stop offset=".026" stop-color="#481c6e"/><stop offset=".058" stop-color="#482173"/><stop offset=".086" stop-color="#482677"/><stop offset=".106" stop-color="#472a7a"/><stop offset=".127" stop-color="#472e7c"/><stop offset=".147" stop-color="#46327e"/><stop offset=".167" stop-color="#463480"/><stop offset=".187" stop-color="#453581"/><stop offset=".207" stop-color="#453581"/><stop offset=".227" stop-color="#463480"/><stop offset=".259" stop-color="#463480"/><stop offset=".291" stop-color="#46337f"/><stop offset=".331" stop-color="#46307e"/><stop offset=".379" stop-color="#472d7b"/><stop offset=".436" stop-color="#482979"/><stop offset=".508" stop-color="#481f70"/><stop offset=".588" stop-color="#460b5e"/><stop offset=".689" stop-color="#471365"/><stop offset=".809" stop-color="#470d60"/><stop offset="1.000" stop-color="#470e61"/></linearGradient><linearGradient id="gd13"><stop offset=".000" stop-color="#48186a"/><stop offset=".026" stop-color="#481c6e"/><stop offset=".058" stop-color="#482173"/><stop offset=".086" stop-color="#482878"/><stop offset=".106" stop-color="#472c7a"/><stop offset=".127" stop-color="#472f7d"/><stop offset=".147" stop-color="#46337f"/><stop offset=".167" stop-color="#453581"/><stop offset=".187" stop-color="#453781"/><stop offset=".207" stop-color="#453781"/><stop offset=".227" stop-color="#453781"/><stop offset=".259" stop-color="#453581"/><stop offset=".291" stop-color="#463480"/><stop offset=".331" stop-color="#46327e"/><stop offset=".379" stop-color="#472e7c"/><stop offset=".436" stop-color="#472a7a"/><stop offset=".508" stop-color="#481f70"/><stop offset=".588" stop-color="#460b5e"/><stop offset=".689" stop-color="#471365"/><stop offset=".809" stop-color="#470e61"/><stop offset="1.000" stop-color="#470e61"/></linearGradient><linearGradient id="gd14"><stop offset=".000" stop-color="#481a6c"/><stop offset=".026" stop-color="#481c6e"/><stop offset=".058" stop-color="#482374"/><stop offset=".086" stop-color="#482878"/><stop offset=".106" stop-color="#472d7b"/><stop offset=".127" stop-color="#46327e"/><stop offset=".147" stop-color="#463480"/><stop offset=".167" stop-color="#453882"/><stop offset=".187" stop-color="#453882"/><stop offset=".207" stop-color="#453882"/><stop offset=".227" stop-color="#453882"/><stop offset=".259" stop-color="#453781"/><stop offset=".291" stop-color="#453581"/><stop offset=".331" stop-color="#46337f"/><stop offset=".379" stop-color="#472f7d"/><stop offset=".436" stop-color="#472c7a"/><stop offset=".508" stop-color="#482071"/><stop offset=".588" stop-color="#470d60"/><stop offset=".689" stop-color="#471365"/><stop offset=".809" stop-color="#470e61"/><stop offset="1.000" stop-color="#470e61"/></linearGradient><linearGradient id="gd15"><stop offset=".000" stop-color="#481a6c"/><stop offset=".026" stop-color="#481c6e"/><stop offset=".058" stop-color="#482374"/><stop offset=".086" stop-color="#482979"/><stop offset=".106" stop-color="#472e7c"/><stop offset=".127" stop-color="#46337f"/><stop offset=".147" stop-color="#453781"/><stop offset=".167" stop-color="#443983"/><stop offset=".187" stop-color="#443a83"/><stop offset=".207" stop-color="#443a83"/><stop offset=".227" stop-color="#443983"/><stop offset=".259" stop-color="#443983"/><stop offset=".291" stop-color="#453781"/><stop offset=".331" stop-color="#463480"/><stop offset=".379" stop-color="#46307e"/><stop offset=".436" stop-color="#472c7a"/><stop offset=".508" stop-color="#482173"/><stop offset=".588" stop-color="#470e61"/><stop offset=".689" stop-color="#471365"/><stop offset=".809" stop-color="#470e61"/><stop offset="1.000" stop-color="#470e61"/></linearGradient><linearGradient id="gd16"><stop offset=".000" stop-color="#481a6c"/><stop offset=".026" stop-color="#481d6f"/><stop offset=".058" stop-color="#482475"/><stop offset=".086" stop-color="#472a7a"/><stop offset=".106" stop-color="#472f7d"/><stop offset=".127" stop-color="#463480"/><stop offset=".147" stop-color="#453882"/><stop offset=".167" stop-color="#443a83"/><stop offset=".187" stop-color="#443b84"/><stop offset=".207" stop-color="#443b84"/><stop offset=".227" stop-color="#443b84"/><stop offset=".259" stop-color="#443a83"/><stop offset=".291" stop-color="#443983"/><stop offset=".331" stop-color="#453781"/><stop offset=".379" stop-color="#46327e"/><stop offset=".436" stop-color="#472d7b"/><stop offset=".508" stop-color="#482374"/><stop offset=".588" stop-color="#471063"/><stop offset=".689" stop-color="#481467"/><stop offset=".809" stop-color="#470e61"/><stop offset="1.000" stop-color="#470e61"/></linearGradient><linearGradient id="gd17"><stop offset=".000" stop-color="#481a6c"/><stop offset=".026" stop-color="#481d6f"/><stop offset=".058" stop-color="#482475"/><stop offset=".086" stop-color="#472c7a"/><stop offset=".106" stop-color="#46307e"/><stop offset=".127" stop-color="#453581"/><stop offset=".147" stop-color="#443983"/><stop offset=".167" stop-color="#433d84"/><stop offset=".187" stop-color="#433e85"/><stop offset=".207" stop-color="#433e85"/><stop offset=".227" stop-color="#433d84"/><stop offset=".259" stop-color="#443b84"/><stop offset=".291" stop-color="#443a83"/><stop offset=".331" stop-color="#453882"/><stop offset=".379" stop-color="#463480"/><stop offset=".436" stop-color="#472e7c"/><stop offset=".508" stop-color="#482374"/><stop offset=".588" stop-color="#471164"/><stop offset=".689" stop-color="#481467"/><stop offset=".809" stop-color="#470e61"/><stop offset="1.000" stop-color="#470e61"/></linearGradient><linearGradient id="gd18"><stop offset=".000" stop-color="#481a6c"/><stop offset=".026" stop-color="#481d6f"/><stop offset=".058" stop-color="#482576"/><stop offset=".086" stop-color="#472c7a"/><stop offset=".106" stop-color="#46327e"/><stop offset=".127" stop-color="#453781"/><stop offset=".147" stop-color="#443b84"/><stop offset=".167" stop-color="#433e85"/><stop offset=".187" stop-color="#423f85"/><stop offset=".207" stop-color="#423f85"/><stop offset=".227" stop-color="#423f85"/><stop offset=".259" stop-color="#433e85"/><stop offset=".291" stop-color="#443b84"/><stop offset=".331" stop-color="#443983"/><stop offset=".379" stop-color="#453581"/><stop offset=".436" stop-color="#472f7d"/><stop offset=".508" stop-color="#482475"/><stop offset=".588" stop-color="#471365"/><stop offset=".689" stop-color="#481467"/><stop offset=".809" stop-color="#470e61"/><stop offset="1.000" stop-color="#470e61"/></linearGradient><linearGradient id="gd19"><stop offset=".000" stop-color="#481b6d"/><stop offset=".026" stop-color="#481f70"/><stop offset=".058" stop-color="#482576"/><stop offset=".086" stop-color="#472d7b"/><stop offset=".106" stop-color="#46337f"/><stop offset=".127" stop-color="#453882"/><stop offset=".147" stop-color="#433d84"/><stop offset=".167" stop-color="#424086"/><stop offset=".187" stop-color="#424186"/><stop offset=".207" stop-color="#424186"/><stop offset=".227" stop-color="#424186"/><stop offset=".259" stop-color="#424086"/><stop offset=".291" stop-color="#433e85"/><stop offset=".331" stop-color="#443a83"/><stop offset=".379" stop-color="#453781"/><stop offset=".436" stop-color="#46307e"/><stop offset=".508" stop-color="#482576"/><stop offset=".588" stop-color="#481467"/><stop offset=".689" stop-color="#481668"/><stop offset=".809" stop-color="#470e61"/><stop offset="1.000" stop-color="#470e61"/></linearGradient><linearGradient id="gd20"><stop offset=".000" stop-color="#481b6d"/><stop offset=".026" stop-color="#481f70"/><stop offset=".058" stop-color="#482677"/><stop offset=".086" stop-color="#472e7c"/><stop offset=".106" stop-color="#463480"/><stop offset=".127" stop-color="#443a83"/><stop offset=".147" stop-color="#423f85"/><stop offset=".167" stop-color="#414287"/><stop offset=".187" stop-color="#414487"/><stop offset=".207" stop-color="#414487"/><stop offset=".227" stop-color="#414287"/><stop offset=".259" stop-color="#424186"/><stop offset=".291" stop-color="#423f85"/><stop offset=".331" stop-color="#433d84"/><stop offset=".379" stop-color="#453882"/><stop offset=".436" stop-color="#46327e"/><stop offset=".508" stop-color="#482677"/><stop offset=".588" stop-color="#481668"/><stop offset=".689" stop-color="#481668"/><stop offset=".809" stop-color="#470e61"/><stop offset="1.000" stop-color="#470e61"/></linearGradient><linearGradient id="gd21"><stop offset=".000" stop-color="#481b6d"/><stop offset=".026" stop-color="#481f70"/><stop offset=".058" stop-color="#482677"/><stop offset=".086" stop-color="#472f7d"/><stop offset=".106" stop-color="#453581"/><stop offset=".127" stop-color="#443b84"/><stop offset=".147" stop-color="#424086"/><stop offset=".167" stop-color="#414487"/><stop offset=".187" stop-color="#404688"/><stop offset=".207" stop-color="#404588"/><stop offset=".227" stop-color="#404588"/><stop offset=".259" stop-color="#414487"/><stop offset=".291" stop-color="#424186"/><stop offset=".331" stop-color="#433e85"/><stop offset=".379" stop-color="#443983"/><stop offset=".436" stop-color="#46337f"/><stop offset=".508" stop-color="#482878"/><stop offset=".588" stop-color="#481769"/><stop offset=".689" stop-color="#481769"/><stop offset=".809" stop-color="#471063"/><stop offset="1.000" stop-color="#470e61"/></linearGradient><linearGradient id="gd22"><stop offset=".000" stop-color="#481b6d"/><stop offset=".026" stop-color="#482071"/><stop offset=".058" stop-color="#482878"/><stop offset=".086" stop-color="#46307e"/><stop offset=".106" stop-color="#453781"/><stop offset=".127" stop-color="#433e85"/><stop offset=".147" stop-color="#414287"/><stop offset=".167" stop-color="#404688"/><stop offset=".187" stop-color="#3f4788"/><stop offset=".207" stop-color="#3f4788"/><stop offset=".227" stop-color="#3f4788"/><stop offset=".259" stop-color="#404688"/><stop offset=".291" stop-color="#414487"/><stop offset=".331" stop-color="#424086"/><stop offset=".379" stop-color="#443a83"/><stop offset=".436" stop-color="#463480"/><stop offset=".508" stop-color="#482979"/><stop offset=".588" stop-color="#48186a"/><stop offset=".689" stop-color="#481769"/><stop offset=".809" stop-color="#471063"/><stop offset="1.000" stop-color="#470e61"/></linearGradient><linearGradient id="gd23"><stop offset=".000" stop-color="#481b6d"/><stop offset=".026" stop-color="#482071"/><stop offset=".058" stop-color="#482979"/><stop offset=".086" stop-color="#46327e"/><stop offset=".106" stop-color="#443983"/><stop offset=".127" stop-color="#423f85"/><stop offset=".147" stop-color="#404588"/><stop offset=".167" stop-color="#3f4889"/><stop offset=".187" stop-color="#3e4989"/><stop offset=".207" stop-color="#3e4989"/><stop offset=".227" stop-color="#3e4989"/><stop offset=".259" stop-color="#3f4788"/><stop offset=".291" stop-color="#404588"/><stop offset=".331" stop-color="#424186"/><stop offset=".379" stop-color="#433d84"/><stop offset=".436" stop-color="#453581"/><stop offset=".508" stop-color="#472a7a"/><stop offset=".588" stop-color="#481a6c"/><stop offset=".689" stop-color="#481769"/><stop offset=".809" stop-color="#471063"/><stop offset="1.000" stop-color="#470e61"/></linearGradient><linearGradient id="gd24"><stop offset=".000" stop-color="#481c6e"/><stop offset=".026" stop-color="#482173"/><stop offset=".058" stop-color="#482979"/><stop offset=".086" stop-color="#46337f"/><stop offset=".106" stop-color="#443a83"/><stop offset=".127" stop-color="#424186"/><stop offset=".147" stop-color="#404688"/><stop offset=".167" stop-color="#3e4a89"/><stop offset=".187" stop-color="#3e4c8a"/><stop offset=".207" stop-color="#3e4c8a"/><stop offset=".227" stop-color="#3e4c8a"/><stop offset=".259" stop-color="#3e4989"/><stop offset=".291" stop-color="#3f4788"/><stop offset=".331" stop-color="#414487"/><stop offset=".379" stop-color="#433e85"/><stop offset=".436" stop-color="#453781"/><stop offset=".508" stop-color="#472c7a"/><stop offset=".588" stop-color="#481c6e"/><stop offset=".689" stop-color="#48186a"/><stop offset=".809" stop-color="#471063"/><stop offset="1.000" stop-color="#470e61"/></linearGradient><linearGradient id="gd25"><stop offset=".000" stop-color="#481c6e"/><stop offset=".026" stop-color="#482173"/><stop offset=".058" stop-color="#472a7a"/><stop offset=".086" stop-color="#463480"/><stop offset=".106" stop-color="#443b84"/><stop offset=".127" stop-color="#414287"/><stop offset=".147" stop-color="#3f4889"/><stop offset=".167" stop-color="#3d4d8a"/><stop offset=".187" stop-color="#3d4e8a"/><stop offset=".207" stop-color="#3d4e8a"/><stop offset=".227" stop-color="#3d4e8a"/><stop offset=".259" stop-color="#3e4c8a"/><stop offset=".291" stop-color="#3e4989"/><stop offset=".331" stop-color="#404588"/><stop offset=".379" stop-color="#423f85"/><stop offset=".436" stop-color="#453882"/><stop offset=".508" stop-color="#472d7b"/><stop offset=".588" stop-color="#481d6f"/><stop offset=".689" stop-color="#48186a"/><stop offset=".809" stop-color="#471063"/><stop offset="1.000" stop-color="#470e61"/></linearGradient><linearGradient id="gd26"><stop offset=".000" stop-color="#481c6e"/><stop offset=".026" stop-color="#482173"/><stop offset=".058" stop-color="#472c7a"/><stop offset=".086" stop-color="#453581"/><stop offset=".106" stop-color="#433d84"/><stop offset=".127" stop-color="#404588"/><stop offset=".147" stop-color="#3e4a89"/><stop offset=".167" stop-color="#3c4f8a"/><stop offset=".187" stop-color="#3b518b"/><stop offset=".207" stop-color="#3c508b"/><stop offset=".227" stop-color="#3c508b"/><stop offset=".259" stop-color="#3d4e8a"/><stop offset=".291" stop-color="#3e4c8a"/><stop offset=".331" stop-color="#3f4788"/><stop offset=".379" stop-color="#424186"/><stop offset=".436" stop-color="#443a83"/><stop offset=".508" stop-color="#472e7c"/><stop offset=".588" stop-color="#481f70"/><stop offset=".689" stop-color="#481a6c"/><stop offset=".809" stop-color="#471164"/><stop offset="1.000" stop-color="#470e61"/></linearGradient><linearGradient id="gd27"><stop offset=".000" stop-color="#481c6e"/><stop offset=".026" stop-color="#482374"/><stop offset=".058" stop-color="#472c7a"/><stop offset=".086" stop-color="#453781"/><stop offset=".106" stop-color="#423f85"/><stop offset=".127" stop-color="#404688"/><stop offset=".147" stop-color="#3d4d8a"/><stop offset=".167" stop-color="#3b518b"/><stop offset=".187" stop-color="#3a538b"/><stop offset=".207" stop-color="#3a538b"/><stop offset=".227" stop-color="#3b528b"/><stop offset=".259" stop-color="#3c508b"/><stop offset=".291" stop-color="#3d4e8a"/><stop offset=".331" stop-color="#3e4989"/><stop offset=".379" stop-color="#414287"/><stop offset=".436" stop-color="#443b84"/><stop offset=".508" stop-color="#472f7d"/><stop offset=".588" stop-color="#482071"/><stop offset=".689" stop-color="#481a6c"/><stop offset=".809" stop-color="#471164"/><stop offset="1.000" stop-color="#470e61"/></linearGradient><linearGradient id="gd28"><stop offset=".000" stop-color="#481d6f"/><stop offset=".026" stop-color="#482374"/><stop offset=".058" stop-color="#472d7b"/><stop offset=".086" stop-color="#453882"/><stop offset=".106" stop-color="#424086"/><stop offset=".127" stop-color="#3f4889"/><stop offset=".147" stop-color="#3c4f8a"/><stop offset=".167" stop-color="#3a538b"/><stop offset=".187" stop-color="#39558c"/><stop offset=".207" stop-color="#39558c"/><stop offset=".227" stop-color="#3a548c"/><stop offset=".259" stop-color="#3b528b"/><stop offset=".291" stop-color="#3c508b"/><stop offset=".331" stop-color="#3e4a89"/><stop offset=".379" stop-color="#404588"/><stop offset=".436" stop-color="#433d84"/><stop offset=".508" stop-color="#46307e"/><stop offset=".588" stop-color="#482173"/><stop offset=".689" stop-color="#481b6d"/><stop offset=".809" stop-color="#471164"/><stop offset="1.000" stop-color="#470e61"/></linearGradient><linearGradient id="gd29"><stop offset=".000" stop-color="#481d6f"/><stop offset=".026" stop-color="#482475"/><stop offset=".058" stop-color="#472e7c"/><stop offset=".086" stop-color="#443983"/><stop offset=".106" stop-color="#414287"/><stop offset=".127" stop-color="#3e4a89"/><stop offset=".147" stop-color="#3b518b"/><stop offset=".167" stop-color="#39568c"/><stop offset=".187" stop-color="#38598c"/><stop offset=".207" stop-color="#38588c"/><stop offset=".227" stop-color="#38588c"/><stop offset=".259" stop-color="#39558c"/><stop offset=".291" stop-color="#3b528b"/><stop offset=".331" stop-color="#3d4d8a"/><stop offset=".379" stop-color="#404688"/><stop offset=".436" stop-color="#433e85"/><stop offset=".508" stop-color="#46327e"/><stop offset=".588" stop-color="#482475"/><stop offset=".689" stop-color="#481b6d"/><stop offset=".809" stop-color="#471164"/><stop offset="1.000" stop-color="#471063"/></linearGradient><linearGradient id="gd30"><stop offset=".000" stop-color="#481d6f"/><stop offset=".026" stop-color="#482475"/><stop offset=".058" stop-color="#472f7d"/><stop offset=".086" stop-color="#443a83"/><stop offset=".106" stop-color="#414487"/><stop offset=".127" stop-color="#3d4d8a"/><stop offset=".147" stop-color="#3a538b"/><stop offset=".167" stop-color="#38598c"/><stop offset=".187" stop-color="#375b8d"/><stop offset=".207" stop-color="#375b8d"/><stop offset=".227" stop-color="#375a8c"/><stop offset=".259" stop-color="#38588c"/><stop offset=".291" stop-color="#3a548c"/><stop offset=".331" stop-color="#3c4f8a"/><stop offset=".379" stop-color="#3f4889"/><stop offset=".436" stop-color="#423f85"/><stop offset=".508" stop-color="#46337f"/><stop offset=".588" stop-color="#482576"/><stop offset=".689" stop-color="#481c6e"/><stop offset=".809" stop-color="#471164"/><stop offset="1.000" stop-color="#471063"/></linearGradient><linearGradient id="gd31"><stop offset=".000" stop-color="#481d6f"/><stop offset=".026" stop-color="#482475"/><stop offset=".058" stop-color="#472f7d"/><stop offset=".086" stop-color="#433d84"/><stop offset=".106" stop-color="#404688"/><stop offset=".127" stop-color="#3c4f8a"/><stop offset=".147" stop-color="#39568c"/><stop offset=".167" stop-color="#365c8d"/><stop offset=".187" stop-color="#355e8d"/><stop offset=".207" stop-color="#355e8d"/><stop offset=".227" stop-color="#365d8d"/><stop offset=".259" stop-color="#375a8c"/><stop offset=".291" stop-color="#39568c"/><stop offset=".331" stop-color="#3b518b"/><stop offset=".379" stop-color="#3e4989"/><stop offset=".436" stop-color="#424186"/><stop offset=".508" stop-color="#463480"/><stop offset=".588" stop-color="#482677"/><stop offset=".689" stop-color="#481c6e"/><stop offset=".809" stop-color="#471365"/><stop offset="1.000" stop-color="#471063"/></linearGradient><linearGradient id="gd32"><stop offset=".000" stop-color="#481f70"/><stop offset=".026" stop-color="#482576"/><stop offset=".058" stop-color="#46307e"/><stop offset=".086" stop-color="#433e85"/><stop offset=".106" stop-color="#3f4788"/><stop offset=".127" stop-color="#3b518b"/><stop offset=".147" stop-color="#38598c"/><stop offset=".167" stop-color="#355e8d"/><stop offset=".187" stop-color="#34608d"/><stop offset=".207" stop-color="#34608d"/><stop offset=".227" stop-color="#355f8d"/><stop offset=".259" stop-color="#365d8d"/><stop offset=".291" stop-color="#38598c"/><stop offset=".331" stop-color="#3a538b"/><stop offset=".379" stop-color="#3e4c8a"/><stop offset=".436" stop-color="#414287"/><stop offset=".508" stop-color="#453581"/><stop offset=".588" stop-color="#482878"/><stop offset=".689" stop-color="#481c6e"/><stop offset=".809" stop-color="#471365"/><stop offset="1.000" stop-color="#471063"/></linearGradient><linearGradient id="gd33"><stop offset=".000" stop-color="#481f70"/><stop offset=".026" stop-color="#482576"/><stop offset=".058" stop-color="#46327e"/><stop offset=".086" stop-color="#423f85"/><stop offset=".106" stop-color="#3e4989"/><stop offset=".127" stop-color="#3a538b"/><stop offset=".147" stop-color="#375b8d"/><stop offset=".167" stop-color="#34618d"/><stop offset=".187" stop-color="#33638d"/><stop offset=".207" stop-color="#33638d"/><stop offset=".227" stop-color="#33628d"/><stop offset=".259" stop-color="#355f8d"/><stop offset=".291" stop-color="#365c8d"/><stop offset=".331" stop-color="#39558c"/><stop offset=".379" stop-color="#3d4e8a"/><stop offset=".436" stop-color="#414487"/><stop offset=".508" stop-color="#453781"/><stop offset=".588" stop-color="#482979"/><stop offset=".689" stop-color="#481d6f"/><stop offset=".809" stop-color="#471365"/><stop offset="1.000" stop-color="#471063"/></linearGradient><linearGradient id="gd34"><stop offset=".000" stop-color="#481f70"/><stop offset=".026" stop-color="#482677"/><stop offset=".058" stop-color="#46337f"/><stop offset=".086" stop-color="#424086"/><stop offset=".106" stop-color="#3e4a89"/><stop offset=".127" stop-color="#39558c"/><stop offset=".147" stop-color="#355e8d"/><stop offset=".167" stop-color="#32648e"/><stop offset=".187" stop-color="#31668e"/><stop offset=".207" stop-color="#31668e"/><stop offset=".227" stop-color="#32658e"/><stop offset=".259" stop-color="#33628d"/><stop offset=".291" stop-color="#355e8d"/><stop offset=".331" stop-color="#38588c"/><stop offset=".379" stop-color="#3c4f8a"/><stop offset=".436" stop-color="#404588"/><stop offset=".508" stop-color="#453882"/><stop offset=".588" stop-color="#472a7a"/><stop offset=".689" stop-color="#481d6f"/><stop offset=".809" stop-color="#481467"/><stop offset="1.000" stop-color="#471063"/></linearGradient><linearGradient id="gd35"><stop offset=".000" stop-color="#481f70"/><stop offset=".026" stop-color="#482677"/><stop offset=".058" stop-color="#463480"/><stop offset=".086" stop-color="#414287"/><stop offset=".106" stop-color="#3d4d8a"/><stop offset=".127" stop-color="#38588c"/><stop offset=".147" stop-color="#34608d"/><stop offset=".167" stop-color="#31678e"/><stop offset=".187" stop-color="#30698e"/><stop offset=".207" stop-color="#30698e"/><stop offset=".227" stop-color="#31688e"/><stop offset=".259" stop-color="#32658e"/><stop offset=".291" stop-color="#34608d"/><stop offset=".331" stop-color="#375a8c"/><stop offset=".379" stop-color="#3b518b"/><stop offset=".436" stop-color="#3f4788"/><stop offset=".508" stop-color="#443983"/><stop offset=".588" stop-color="#472c7a"/><stop offset=".689" stop-color="#481f70"/><stop offset=".809" stop-color="#481467"/><stop offset="1.000" stop-color="#471063"/></linearGradient><linearGradient id="gd36"><stop offset=".000" stop-color="#482071"/><stop offset=".026" stop-color="#482878"/><stop offset=".058" stop-color="#463480"/><stop offset=".086" stop-color="#414487"/><stop offset=".106" stop-color="#3c4f8a"/><stop offset=".127" stop-color="#375a8c"/><stop offset=".147" stop-color="#33638d"/><stop offset=".167" stop-color="#306a8e"/><stop offset=".187" stop-color="#2f6c8e"/><stop offset=".207" stop-color="#2f6c8e"/><stop offset=".227" stop-color="#2f6b8e"/><stop offset=".259" stop-color="#31688e"/><stop offset=".291" stop-color="#33638d"/><stop offset=".331" stop-color="#365c8d"/><stop offset=".379" stop-color="#3a538b"/><stop offset=".436" stop-color="#3f4889"/><stop offset=".508" stop-color="#443a83"/><stop offset=".588" stop-color="#472c7a"/><stop offset=".689" stop-color="#481f70"/><stop offset=".809" stop-color="#481467"/><stop offset="1.000" stop-color="#471063"/></linearGradient><linearGradient id="gd37"><stop offset=".000" stop-color="#482071"/><stop offset=".026" stop-color="#482878"/><stop offset=".058" stop-color="#453581"/><stop offset=".086" stop-color="#404588"/><stop offset=".106" stop-color="#3b518b"/><stop offset=".127" stop-color="#365c8d"/><stop offset=".147" stop-color="#31668e"/><stop offset=".167" stop-color="#2e6d8e"/><stop offset=".187" stop-color="#2d708e"/><stop offset=".207" stop-color="#2e6f8e"/><stop offset=".227" stop-color="#2e6e8e"/><stop offset=".259" stop-color="#306a8e"/><stop offset=".291" stop-color="#32658e"/><stop offset=".331" stop-color="#355e8d"/><stop offset=".379" stop-color="#3a548c"/><stop offset=".436" stop-color="#3e4a89"/><stop offset=".508" stop-color="#433d84"/><stop offset=".588" stop-color="#472d7b"/><stop offset=".689" stop-color="#482071"/><stop offset=".809" stop-color="#481467"/><stop offset="1.000" stop-color="#471164"/></linearGradient><linearGradient id="gd38"><stop offset=".000" stop-color="#482071"/><stop offset=".026" stop-color="#482979"/><stop offset=".058" stop-color="#453781"/><stop offset=".086" stop-color="#3f4788"/><stop offset=".106" stop-color="#3a538b"/><stop offset=".127" stop-color="#355f8d"/><stop offset=".147" stop-color="#30698e"/><stop offset=".167" stop-color="#2d708e"/><stop offset=".187" stop-color="#2c728e"/><stop offset=".207" stop-color="#2c728e"/><stop offset=".227" stop-color="#2d718e"/><stop offset=".259" stop-color="#2e6d8e"/><stop offset=".291" stop-color="#31688e"/><stop offset=".331" stop-color="#34608d"/><stop offset=".379" stop-color="#39568c"/><stop offset=".436" stop-color="#3e4c8a"/><stop offset=".508" stop-color="#433e85"/><stop offset=".588" stop-color="#472e7c"/><stop offset=".689" stop-color="#482071"/><stop offset=".809" stop-color="#481668"/><stop offset="1.000" stop-color="#471164"/></linearGradient><linearGradient id="gd39"><stop offset=".000" stop-color="#482173"/><stop offset=".026" stop-color="#482979"/><stop offset=".058" stop-color="#453882"/><stop offset=".086" stop-color="#3f4889"/><stop offset=".106" stop-color="#3a548c"/><stop offset=".127" stop-color="#34618d"/><stop offset=".147" stop-color="#2f6c8e"/><stop offset=".167" stop-color="#2c728e"/><stop offset=".187" stop-color="#2b758e"/><stop offset=".207" stop-color="#2b758e"/><stop offset=".227" stop-color="#2b748e"/><stop offset=".259" stop-color="#2d718e"/><stop offset=".291" stop-color="#2f6b8e"/><stop offset=".331" stop-color="#33638d"/><stop offset=".379" stop-color="#38598c"/><stop offset=".436" stop-color="#3d4d8a"/><stop offset=".508" stop-color="#423f85"/><stop offset=".588" stop-color="#472f7d"/><stop offset=".689" stop-color="#482173"/><stop offset=".809" stop-color="#481668"/><stop offset="1.000" stop-color="#471164"/></linearGradient><linearGradient id="gd40"><stop offset=".000" stop-color="#482173"/><stop offset=".026" stop-color="#472a7a"/><stop offset=".058" stop-color="#443983"/><stop offset=".086" stop-color="#3e4989"/><stop offset=".106" stop-color="#39568c"/><stop offset=".127" stop-color="#33638d"/><stop offset=".147" stop-color="#2e6f8e"/><stop offset=".167" stop-color="#2a768e"/><stop offset=".187" stop-color="#29798e"/><stop offset=".207" stop-color="#29798e"/><stop offset=".227" stop-color="#2a778e"/><stop offset=".259" stop-color="#2c738e"/><stop offset=".291" stop-color="#2e6e8e"/><stop offset=".331" stop-color="#32658e"/><stop offset=".379" stop-color="#375b8d"/><stop offset=".436" stop-color="#3c4f8a"/><stop offset=".508" stop-color="#424086"/><stop offset=".588" stop-color="#46307e"/><stop offset=".689" stop-color="#482173"/><stop offset=".809" stop-color="#481668"/><stop offset="1.000" stop-color="#471164"/></linearGradient><linearGradient id="gd41"><stop offset=".000" stop-color="#482173"/><stop offset=".026" stop-color="#472a7a"/><stop offset=".058" stop-color="#443a83"/><stop offset=".086" stop-color="#3e4c8a"/><stop offset=".106" stop-color="#38598c"/><stop offset=".127" stop-color="#31668e"/><stop offset=".147" stop-color="#2c718e"/><stop offset=".167" stop-color="#29798e"/><stop offset=".187" stop-color="#287d8e"/><stop offset=".207" stop-color="#287c8e"/><stop offset=".227" stop-color="#297b8e"/><stop offset=".259" stop-color="#2a768e"/><stop offset=".291" stop-color="#2d708e"/><stop offset=".331" stop-color="#31678e"/><stop offset=".379" stop-color="#365d8d"/><stop offset=".436" stop-color="#3c508b"/><stop offset=".508" stop-color="#424186"/><stop offset=".588" stop-color="#46327e"/><stop offset=".689" stop-color="#482173"/><stop offset=".809" stop-color="#481668"/><stop offset="1.000" stop-color="#471164"/></linearGradient><linearGradient id="gd42"><stop offset=".000" stop-color="#482173"/><stop offset=".026" stop-color="#472c7a"/><stop offset=".058" stop-color="#443b84"/><stop offset=".086" stop-color="#3d4d8a"/><stop offset=".106" stop-color="#375b8d"/><stop offset=".127" stop-color="#30698e"/><stop offset=".147" stop-color="#2b748e"/><stop offset=".167" stop-color="#287d8e"/><stop offset=".187" stop-color="#26818e"/><stop offset=".207" stop-color="#27808e"/><stop offset=".227" stop-color="#277e8e"/><stop offset=".259" stop-color="#29798e"/><stop offset=".291" stop-color="#2c728e"/><stop offset=".331" stop-color="#306a8e"/><stop offset=".379" stop-color="#355e8d"/><stop offset=".436" stop-color="#3b518b"/><stop offset=".508" stop-color="#414287"/><stop offset=".588" stop-color="#46327e"/><stop offset=".689" stop-color="#482374"/><stop offset=".809" stop-color="#481769"/><stop offset="1.000" stop-color="#471164"/></linearGradient><linearGradient id="gd43"><stop offset=".000" stop-color="#482374"/><stop offset=".026" stop-color="#472c7a"/><stop offset=".058" stop-color="#433d84"/><stop offset=".086" stop-color="#3c4f8a"/><stop offset=".106" stop-color="#365d8d"/><stop offset=".127" stop-color="#2f6b8e"/><stop offset=".147" stop-color="#2a778e"/><stop offset=".167" stop-color="#27808e"/><stop offset=".187" stop-color="#25838e"/><stop offset=".207" stop-color="#25838e"/><stop offset=".227" stop-color="#26828e"/><stop offset=".259" stop-color="#287d8e"/><stop offset=".291" stop-color="#2b758e"/><stop offset=".331" stop-color="#2f6c8e"/><stop offset=".379" stop-color="#34608d"/><stop offset=".436" stop-color="#3a538b"/><stop offset=".508" stop-color="#414487"/><stop offset=".588" stop-color="#46337f"/><stop offset=".689" stop-color="#482374"/><stop offset=".809" stop-color="#481769"/><stop offset="1.000" stop-color="#471164"/></linearGradient><linearGradient id="gd44"><stop offset=".000" stop-color="#482374"/><stop offset=".026" stop-color="#472d7b"/><stop offset=".058" stop-color="#433e85"/><stop offset=".086" stop-color="#3c508b"/><stop offset=".106" stop-color="#355f8d"/><stop offset=".127" stop-color="#2e6e8e"/><stop offset=".147" stop-color="#297a8e"/><stop offset=".167" stop-color="#25838e"/><stop offset=".187" stop-color="#24878e"/><stop offset=".207" stop-color="#24878e"/><stop offset=".227" stop-color="#25858e"/><stop offset=".259" stop-color="#27808e"/><stop offset=".291" stop-color="#2a788e"/><stop offset=".331" stop-color="#2e6f8e"/><stop offset=".379" stop-color="#33628d"/><stop offset=".436" stop-color="#3a548c"/><stop offset=".508" stop-color="#404588"/><stop offset=".588" stop-color="#463480"/><stop offset=".689" stop-color="#482475"/><stop offset=".809" stop-color="#481769"/><stop offset="1.000" stop-color="#471164"/></linearGradient><linearGradient id="gd45"><stop offset=".000" stop-color="#482374"/><stop offset=".026" stop-color="#472d7b"/><stop offset=".058" stop-color="#433e85"/><stop offset=".086" stop-color="#3b528b"/><stop offset=".106" stop-color="#34618d"/><stop offset=".127" stop-color="#2d718e"/><stop offset=".147" stop-color="#277e8e"/><stop offset=".167" stop-color="#24878e"/><stop offset=".187" stop-color="#228c8d"/><stop offset=".207" stop-color="#228b8d"/><stop offset=".227" stop-color="#23898e"/><stop offset=".259" stop-color="#25838e"/><stop offset=".291" stop-color="#287c8e"/><stop offset=".331" stop-color="#2d718e"/><stop offset=".379" stop-color="#32648e"/><stop offset=".436" stop-color="#39568c"/><stop offset=".508" stop-color="#404688"/><stop offset=".588" stop-color="#453581"/><stop offset=".689" stop-color="#482475"/><stop offset=".809" stop-color="#481769"/><stop offset="1.000" stop-color="#471365"/></linearGradient><linearGradient id="gd46"><stop offset=".000" stop-color="#482475"/><stop offset=".026" stop-color="#472e7c"/><stop offset=".058" stop-color="#423f85"/><stop offset=".086" stop-color="#3a538b"/><stop offset=".106" stop-color="#32648e"/><stop offset=".127" stop-color="#2c738e"/><stop offset=".147" stop-color="#26818e"/><stop offset=".167" stop-color="#228b8d"/><stop offset=".187" stop-color="#21908d"/><stop offset=".207" stop-color="#218f8d"/><stop offset=".227" stop-color="#228d8d"/><stop offset=".259" stop-color="#24878e"/><stop offset=".291" stop-color="#277f8e"/><stop offset=".331" stop-color="#2c738e"/><stop offset=".379" stop-color="#31668e"/><stop offset=".436" stop-color="#38588c"/><stop offset=".508" stop-color="#3f4788"/><stop offset=".588" stop-color="#453581"/><stop offset=".689" stop-color="#482576"/><stop offset=".809" stop-color="#48186a"/><stop offset="1.000" stop-color="#471365"/></linearGradient><linearGradient id="gd47"><stop offset=".000" stop-color="#482475"/><stop offset=".026" stop-color="#472e7c"/><stop offset=".058" stop-color="#424086"/><stop offset=".086" stop-color="#39558c"/><stop offset=".106" stop-color="#31668e"/><stop offset=".127" stop-color="#2b758e"/><stop offset=".147" stop-color="#25848e"/><stop offset=".167" stop-color="#218f8d"/><stop offset=".187" stop-color="#20938c"/><stop offset=".207" stop-color="#20938c"/><stop offset=".227" stop-color="#21918c"/><stop offset=".259" stop-color="#238a8d"/><stop offset=".291" stop-color="#26828e"/><stop offset=".331" stop-color="#2b758e"/><stop offset=".379" stop-color="#31688e"/><stop offset=".436" stop-color="#375a8c"/><stop offset=".508" stop-color="#3f4889"/><stop offset=".588" stop-color="#453781"/><stop offset=".689" stop-color="#482576"/><stop offset=".809" stop-color="#48186a"/><stop offset="1.000" stop-color="#471365"/></linearGradient><linearGradient id="gd48"><stop offset=".000" stop-color="#482475"/><stop offset=".026" stop-color="#472f7d"/><stop offset=".058" stop-color="#424186"/><stop offset=".086" stop-color="#39568c"/><stop offset=".106" stop-color="#31688e"/><stop offset=".127" stop-color="#2a788e"/><stop offset=".147" stop-color="#24878e"/><stop offset=".167" stop-color="#20938c"/><stop offset=".187" stop-color="#1f988b"/><stop offset=".207" stop-color="#1f978b"/><stop offset=".227" stop-color="#1f958b"/><stop offset=".259" stop-color="#218e8d"/><stop offset=".291" stop-color="#25848e"/><stop offset=".331" stop-color="#2a788e"/><stop offset=".379" stop-color="#306a8e"/><stop offset=".436" stop-color="#375b8d"/><stop offset=".508" stop-color="#3e4989"/><stop offset=".588" stop-color="#453882"/><stop offset=".689" stop-color="#482576"/><stop offset=".809" stop-color="#48186a"/><stop offset="1.000" stop-color="#471365"/></linearGradient><linearGradient id="gd49"><stop offset=".000" stop-color="#482475"/><stop offset=".026" stop-color="#472f7d"/><stop offset=".058" stop-color="#414287"/><stop offset=".086" stop-color="#38598c"/><stop offset=".106" stop-color="#306a8e"/><stop offset=".127" stop-color="#297b8e"/><stop offset=".147" stop-color="#228b8d"/><stop offset=".167" stop-color="#1f978b"/><stop offset=".187" stop-color="#1e9c89"/><stop offset=".207" stop-color="#1e9c89"/><stop offset=".227" stop-color="#1f998a"/><stop offset=".259" stop-color="#20928c"/><stop offset=".291" stop-color="#23888e"/><stop offset=".331" stop-color="#297a8e"/><stop offset=".379" stop-color="#2f6c8e"/><stop offset=".436" stop-color="#365c8d"/><stop offset=".508" stop-color="#3e4a89"/><stop offset=".588" stop-color="#453882"/><stop offset=".689" stop-color="#482677"/><stop offset=".809" stop-color="#481a6c"/><stop offset="1.000" stop-color="#471365"/></linearGradient><linearGradient id="gd50"><stop offset=".000" stop-color="#482576"/><stop offset=".026" stop-color="#46307e"/><stop offset=".058" stop-color="#414487"/><stop offset=".086" stop-color="#375b8d"/><stop offset=".106" stop-color="#2f6c8e"/><stop offset=".127" stop-color="#277e8e"/><stop offset=".147" stop-color="#218f8d"/><stop offset=".167" stop-color="#1e9b8a"/><stop offset=".187" stop-color="#1fa188"/><stop offset=".207" stop-color="#1fa088"/><stop offset=".227" stop-color="#1e9d89"/><stop offset=".259" stop-color="#1f958b"/><stop offset=".291" stop-color="#228b8d"/><stop offset=".331" stop-color="#287d8e"/><stop offset=".379" stop-color="#2e6e8e"/><stop offset=".436" stop-color="#355e8d"/><stop offset=".508" stop-color="#3e4c8a"/><stop offset=".588" stop-color="#443983"/><stop offset=".689" stop-color="#482677"/><stop offset=".809" stop-color="#481a6c"/><stop offset="1.000" stop-color="#471365"/></linearGradient><linearGradient id="gd51"><stop offset=".000" stop-color="#482576"/><stop offset=".026" stop-color="#46307e"/><stop offset=".058" stop-color="#404588"/><stop offset=".086" stop-color="#365c8d"/><stop offset=".106" stop-color="#2e6f8e"/><stop offset=".127" stop-color="#26818e"/><stop offset=".147" stop-color="#20928c"/><stop offset=".167" stop-color="#1fa088"/><stop offset=".187" stop-color="#21a585"/><stop offset=".207" stop-color="#20a486"/><stop offset=".227" stop-color="#1fa187"/><stop offset=".259" stop-color="#1f998a"/><stop offset=".291" stop-color="#218e8d"/><stop offset=".331" stop-color="#27808e"/><stop offset=".379" stop-color="#2e6f8e"/><stop offset=".436" stop-color="#355f8d"/><stop offset=".508" stop-color="#3d4d8a"/><stop offset=".588" stop-color="#443a83"/><stop offset=".689" stop-color="#482878"/><stop offset=".809" stop-color="#481a6c"/><stop offset="1.000" stop-color="#471365"/></linearGradient><linearGradient id="gd52"><stop offset=".000" stop-color="#482576"/><stop offset=".026" stop-color="#46327e"/><stop offset=".058" stop-color="#404688"/><stop offset=".086" stop-color="#355e8d"/><stop offset=".106" stop-color="#2d718e"/><stop offset=".127" stop-color="#25838e"/><stop offset=".147" stop-color="#1f968b"/><stop offset=".167" stop-color="#20a386"/><stop offset=".187" stop-color="#23a983"/><stop offset=".207" stop-color="#23a983"/><stop offset=".227" stop-color="#21a585"/><stop offset=".259" stop-color="#1e9d89"/><stop offset=".291" stop-color="#20928c"/><stop offset=".331" stop-color="#26828e"/><stop offset=".379" stop-color="#2d718e"/><stop offset=".436" stop-color="#34608d"/><stop offset=".508" stop-color="#3d4e8a"/><stop offset=".588" stop-color="#443a83"/><stop offset=".689" stop-color="#482878"/><stop offset=".809" stop-color="#481a6c"/><stop offset="1.000" stop-color="#471365"/></linearGradient><linearGradient id="gd53"><stop offset=".000" stop-color="#482576"/><stop offset=".026" stop-color="#46327e"/><stop offset=".058" stop-color="#3f4788"/><stop offset=".086" stop-color="#355f8d"/><stop offset=".106" stop-color="#2c728e"/><stop offset=".127" stop-color="#24878e"/><stop offset=".147" stop-color="#1f9a8a"/><stop offset=".167" stop-color="#22a884"/><stop offset=".187" stop-color="#27ad81"/><stop offset=".207" stop-color="#26ad81"/><stop offset=".227" stop-color="#24aa83"/><stop offset=".259" stop-color="#1fa188"/><stop offset=".291" stop-color="#1f948c"/><stop offset=".331" stop-color="#25848e"/><stop offset=".379" stop-color="#2c728e"/><stop offset=".436" stop-color="#33628d"/><stop offset=".508" stop-color="#3c4f8a"/><stop offset=".588" stop-color="#443b84"/><stop offset=".689" stop-color="#482878"/><stop offset=".809" stop-color="#481a6c"/><stop offset="1.000" stop-color="#471365"/></linearGradient><linearGradient id="gd54"><stop offset=".000" stop-color="#482677"/><stop offset=".026" stop-color="#46327e"/><stop offset=".058" stop-color="#3f4889"/><stop offset=".086" stop-color="#34618d"/><stop offset=".106" stop-color="#2b758e"/><stop offset=".127" stop-color="#238a8d"/><stop offset=".147" stop-color="#1f9e89"/><stop offset=".167" stop-color="#25ac82"/><stop offset=".187" stop-color="#2db27d"/><stop offset=".207" stop-color="#2cb17e"/><stop offset=".227" stop-color="#28ae80"/><stop offset=".259" stop-color="#20a486"/><stop offset=".291" stop-color="#1f988b"/><stop offset=".331" stop-color="#24878e"/><stop offset=".379" stop-color="#2b748e"/><stop offset=".436" stop-color="#33638d"/><stop offset=".508" stop-color="#3c508b"/><stop offset=".588" stop-color="#433d84"/><stop offset=".689" stop-color="#482979"/><stop offset=".809" stop-color="#481b6d"/><stop offset="1.000" stop-color="#481467"/></linearGradient><linearGradient id="gd55"><stop offset=".000" stop-color="#482677"/><stop offset=".026" stop-color="#46337f"/><stop offset=".058" stop-color="#3e4989"/><stop offset=".086" stop-color="#33638d"/><stop offset=".106" stop-color="#2a778e"/><stop offset=".127" stop-color="#228d8d"/><stop offset=".147" stop-color="#1fa187"/><stop offset=".167" stop-color="#2ab07f"/><stop offset=".187" stop-color="#34b679"/><stop offset=".207" stop-color="#32b67a"/><stop offset=".227" stop-color="#2db27d"/><stop offset=".259" stop-color="#23a983"/><stop offset=".291" stop-color="#1e9b8a"/><stop offset=".331" stop-color="#23898e"/><stop offset=".379" stop-color="#2a768e"/><stop offset=".436" stop-color="#32648e"/><stop offset=".508" stop-color="#3b518b"/><stop offset=".588" stop-color="#433d84"/><stop offset=".689" stop-color="#482979"/><stop offset=".809" stop-color="#481b6d"/><stop offset="1.000" stop-color="#481467"/></linearGradient><linearGradient id="gd56"><stop offset=".000" stop-color="#482677"/><stop offset=".026" stop-color="#46337f"/><stop offset=".058" stop-color="#3e4a89"/><stop offset=".086" stop-color="#32648e"/><stop offset=".106" stop-color="#29798e"/><stop offset=".127" stop-color="#21908d"/><stop offset=".147" stop-color="#21a585"/><stop offset=".167" stop-color="#31b57b"/><stop offset=".187" stop-color="#3bbb75"/><stop offset=".207" stop-color="#3aba76"/><stop offset=".227" stop-color="#34b679"/><stop offset=".259" stop-color="#26ad81"/><stop offset=".291" stop-color="#1f9f88"/><stop offset=".331" stop-color="#228c8d"/><stop offset=".379" stop-color="#2a788e"/><stop offset=".436" stop-color="#31668e"/><stop offset=".508" stop-color="#3b518b"/><stop offset=".588" stop-color="#433e85"/><stop offset=".689" stop-color="#482979"/><stop offset=".809" stop-color="#481b6d"/><stop offset="1.000" stop-color="#481467"/></linearGradient><linearGradient id="gd57"><stop offset=".000" stop-color="#482677"/><stop offset=".026" stop-color="#463480"/><stop offset=".058" stop-color="#3e4c8a"/><stop offset=".086" stop-color="#31668e"/><stop offset=".106" stop-color="#297b8e"/><stop offset=".127" stop-color="#20928c"/><stop offset=".147" stop-color="#22a884"/><stop offset=".167" stop-color="#37b878"/><stop offset=".187" stop-color="#44bf70"/><stop offset=".207" stop-color="#42be71"/><stop offset=".227" stop-color="#3bbb75"/><stop offset=".259" stop-color="#2ab07f"/><stop offset=".291" stop-color="#1fa187"/><stop offset=".331" stop-color="#218e8d"/><stop offset=".379" stop-color="#297a8e"/><stop offset=".436" stop-color="#31678e"/><stop offset=".508" stop-color="#3b528b"/><stop offset=".588" stop-color="#433e85"/><stop offset=".689" stop-color="#472a7a"/><stop offset=".809" stop-color="#481b6d"/><stop offset="1.000" stop-color="#481467"/></linearGradient><linearGradient id="gd58"><stop offset=".000" stop-color="#482878"/><stop offset=".026" stop-color="#463480"/><stop offset=".058" stop-color="#3e4c8a"/><stop offset=".086" stop-color="#31678e"/><stop offset=".106" stop-color="#277e8e"/><stop offset=".127" stop-color="#1f958b"/><stop offset=".147" stop-color="#25ac82"/><stop offset=".167" stop-color="#3fbc73"/><stop offset=".187" stop-color="#4ec36b"/><stop offset=".207" stop-color="#4cc26c"/><stop offset=".227" stop-color="#44bf70"/><stop offset=".259" stop-color="#2fb47c"/><stop offset=".291" stop-color="#21a585"/><stop offset=".331" stop-color="#21918c"/><stop offset=".379" stop-color="#297b8e"/><stop offset=".436" stop-color="#31688e"/><stop offset=".508" stop-color="#3a538b"/><stop offset=".588" stop-color="#423f85"/><stop offset=".689" stop-color="#472a7a"/><stop offset=".809" stop-color="#481b6d"/><stop offset="1.000" stop-color="#481467"/></linearGradient><linearGradient id="gd59"><stop offset=".000" stop-color="#482878"/><stop offset=".026" stop-color="#453581"/><stop offset=".058" stop-color="#3d4d8a"/><stop offset=".086" stop-color="#30698e"/><stop offset=".106" stop-color="#27808e"/><stop offset=".127" stop-color="#1f988b"/><stop offset=".147" stop-color="#29af7f"/><stop offset=".167" stop-color="#46c06f"/><stop offset=".187" stop-color="#58c765"/><stop offset=".207" stop-color="#56c667"/><stop offset=".227" stop-color="#4cc26c"/><stop offset=".259" stop-color="#35b779"/><stop offset=".291" stop-color="#22a884"/><stop offset=".331" stop-color="#20938c"/><stop offset=".379" stop-color="#287d8e"/><stop offset=".436" stop-color="#30698e"/><stop offset=".508" stop-color="#3a548c"/><stop offset=".588" stop-color="#424086"/><stop offset=".689" stop-color="#472a7a"/><stop offset=".809" stop-color="#481c6e"/><stop offset="1.000" stop-color="#481467"/></linearGradient><linearGradient id="gd60"><stop offset=".000" stop-color="#482878"/><stop offset=".026" stop-color="#453581"/><stop offset=".058" stop-color="#3d4e8a"/><stop offset=".086" stop-color="#306a8e"/><stop offset=".106" stop-color="#26828e"/><stop offset=".127" stop-color="#1e9b8a"/><stop offset=".147" stop-color="#2eb37c"/><stop offset=".167" stop-color="#50c46a"/><stop offset=".187" stop-color="#63cb5f"/><stop offset=".207" stop-color="#60ca60"/><stop offset=".227" stop-color="#56c667"/><stop offset=".259" stop-color="#3bbb75"/><stop offset=".291" stop-color="#25ab82"/><stop offset=".331" stop-color="#1f958b"/><stop offset=".379" stop-color="#277f8e"/><stop offset=".436" stop-color="#2f6b8e"/><stop offset=".508" stop-color="#39558c"/><stop offset=".588" stop-color="#424086"/><stop offset=".689" stop-color="#472c7a"/><stop offset=".809" stop-color="#481c6e"/><stop offset="1.000" stop-color="#481467"/></linearGradient><linearGradient id="gd61"><stop offset=".000" stop-color="#482878"/><stop offset=".026" stop-color="#453581"/><stop offset=".058" stop-color="#3c4f8a"/><stop offset=".086" stop-color="#2f6c8e"/><stop offset=".106" stop-color="#25838e"/><stop offset=".127" stop-color="#1f9e89"/><stop offset=".147" stop-color="#34b679"/><stop offset=".167" stop-color="#5ac864"/><stop offset=".187" stop-color="#6ece58"/><stop offset=".207" stop-color="#69cd5b"/><stop offset=".227" stop-color="#5ec962"/><stop offset=".259" stop-color="#42be71"/><stop offset=".291" stop-color="#28ae80"/><stop offset=".331" stop-color="#1f978b"/><stop offset=".379" stop-color="#26818e"/><stop offset=".436" stop-color="#2f6c8e"/><stop offset=".508" stop-color="#39568c"/><stop offset=".588" stop-color="#424186"/><stop offset=".689" stop-color="#472c7a"/><stop offset=".809" stop-color="#481c6e"/><stop offset="1.000" stop-color="#481467"/></linearGradient><linearGradient id="gd62"><stop offset=".000" stop-color="#482979"/><stop offset=".026" stop-color="#453781"/><stop offset=".058" stop-color="#3c508b"/><stop offset=".086" stop-color="#2e6d8e"/><stop offset=".106" stop-color="#25858e"/><stop offset=".127" stop-color="#1fa188"/><stop offset=".147" stop-color="#3aba76"/><stop offset=".167" stop-color="#63cb5f"/><stop offset=".187" stop-color="#77d153"/><stop offset=".207" stop-color="#75d054"/><stop offset=".227" stop-color="#69cd5b"/><stop offset=".259" stop-color="#4ac16d"/><stop offset=".291" stop-color="#2cb17e"/><stop offset=".331" stop-color="#1f9a8a"/><stop offset=".379" stop-color="#26828e"/><stop offset=".436" stop-color="#2e6d8e"/><stop offset=".508" stop-color="#39568c"/><stop offset=".588" stop-color="#424186"/><stop offset=".689" stop-color="#472c7a"/><stop offset=".809" stop-color="#481c6e"/><stop offset="1.000" stop-color="#481467"/></linearGradient><linearGradient id="gd63"><stop offset=".000" stop-color="#482979"/><stop offset=".026" stop-color="#453781"/><stop offset=".058" stop-color="#3c508b"/><stop offset=".086" stop-color="#2e6f8e"/><stop offset=".106" stop-color="#24878e"/><stop offset=".127" stop-color="#20a386"/><stop offset=".147" stop-color="#40bd72"/><stop offset=".167" stop-color="#6ccd5a"/><stop offset=".187" stop-color="#84d44b"/><stop offset=".207" stop-color="#81d34d"/><stop offset=".227" stop-color="#73d056"/><stop offset=".259" stop-color="#52c569"/><stop offset=".291" stop-color="#2fb47c"/><stop offset=".331" stop-color="#1e9c89"/><stop offset=".379" stop-color="#25838e"/><stop offset=".436" stop-color="#2e6e8e"/><stop offset=".508" stop-color="#38588c"/><stop offset=".588" stop-color="#414287"/><stop offset=".689" stop-color="#472d7b"/><stop offset=".809" stop-color="#481c6e"/><stop offset="1.000" stop-color="#481467"/></linearGradient><linearGradient id="gd64"><stop offset=".000" stop-color="#482979"/><stop offset=".026" stop-color="#453882"/><stop offset=".058" stop-color="#3b518b"/><stop offset=".086" stop-color="#2d708e"/><stop offset=".106" stop-color="#23898e"/><stop offset=".127" stop-color="#21a685"/><stop offset=".147" stop-color="#46c06f"/><stop offset=".167" stop-color="#77d153"/><stop offset=".187" stop-color="#90d743"/><stop offset=".207" stop-color="#8bd646"/><stop offset=".227" stop-color="#7fd34e"/><stop offset=".259" stop-color="#5ac864"/><stop offset=".291" stop-color="#34b679"/><stop offset=".331" stop-color="#1f9e89"/><stop offset=".379" stop-color="#25848e"/><stop offset=".436" stop-color="#2e6f8e"/><stop offset=".508" stop-color="#38598c"/><stop offset=".588" stop-color="#414287"/><stop offset=".689" stop-color="#472d7b"/><stop offset=".809" stop-color="#481c6e"/><stop offset="1.000" stop-color="#481467"/></linearGradient><linearGradient id="gd65"><stop offset=".000" stop-color="#482979"/><stop offset=".026" stop-color="#453882"/><stop offset=".058" stop-color="#3b528b"/><stop offset=".086" stop-color="#2d718e"/><stop offset=".106" stop-color="#228b8d"/><stop offset=".127" stop-color="#22a884"/><stop offset=".147" stop-color="#4ec36b"/><stop offset=".167" stop-color="#81d34d"/><stop offset=".187" stop-color="#9bd93c"/><stop offset=".207" stop-color="#98d83e"/><stop offset=".227" stop-color="#89d548"/><stop offset=".259" stop-color="#63cb5f"/><stop offset=".291" stop-color="#38b977"/><stop offset=".331" stop-color="#1fa188"/><stop offset=".379" stop-color="#24868e"/><stop offset=".436" stop-color="#2d708e"/><stop offset=".508" stop-color="#38598c"/><stop offset=".588" stop-color="#414287"/><stop offset=".689" stop-color="#472d7b"/><stop offset=".809" stop-color="#481d6f"/><stop offset="1.000" stop-color="#481467"/></linearGradient><linearGradient id="gd66"><stop offset=".000" stop-color="#482979"/><stop offset=".026" stop-color="#453882"/><stop offset=".058" stop-color="#3a538b"/><stop offset=".086" stop-color="#2c728e"/><stop offset=".106" stop-color="#228d8d"/><stop offset=".127" stop-color="#25ab82"/><stop offset=".147" stop-color="#54c568"/><stop offset=".167" stop-color="#8bd646"/><stop offset=".187" stop-color="#a5db36"/><stop offset=".207" stop-color="#a2da37"/><stop offset=".227" stop-color="#93d741"/><stop offset=".259" stop-color="#69cd5b"/><stop offset=".291" stop-color="#3dbc74"/><stop offset=".331" stop-color="#1fa287"/><stop offset=".379" stop-color="#24878e"/><stop offset=".436" stop-color="#2d718e"/><stop offset=".508" stop-color="#375a8c"/><stop offset=".588" stop-color="#414487"/><stop offset=".689" stop-color="#472d7b"/><stop offset=".809" stop-color="#481d6f"/><stop offset="1.000" stop-color="#481467"/></linearGradient><linearGradient id="gd67"><stop offset=".000" stop-color="#472a7a"/><stop offset=".026" stop-color="#443983"/><stop offset=".058" stop-color="#3a538b"/><stop offset=".086" stop-color="#2c738e"/><stop offset=".106" stop-color="#218f8d"/><stop offset=".127" stop-color="#26ad81"/><stop offset=".147" stop-color="#5ac864"/><stop offset=".167" stop-color="#93d741"/><stop offset=".187" stop-color="#b0dd2f"/><stop offset=".207" stop-color="#addc30"/><stop offset=".227" stop-color="#9dd93b"/><stop offset=".259" stop-color="#70cf57"/><stop offset=".291" stop-color="#42be71"/><stop offset=".331" stop-color="#20a486"/><stop offset=".379" stop-color="#23888e"/><stop offset=".436" stop-color="#2c718e"/><stop offset=".508" stop-color="#375b8d"/><stop offset=".588" stop-color="#414487"/><stop offset=".689" stop-color="#472e7c"/><stop offset=".809" stop-color="#481d6f"/><stop offset="1.000" stop-color="#481668"/></linearGradient><linearGradient id="gd68"><stop offset=".000" stop-color="#472a7a"/><stop offset=".026" stop-color="#443983"/><stop offset=".058" stop-color="#3a548c"/><stop offset=".086" stop-color="#2b748e"/><stop offset=".106" stop-color="#21908d"/><stop offset=".127" stop-color="#29af7f"/><stop offset=".147" stop-color="#60ca60"/><stop offset=".167" stop-color="#9dd93b"/><stop offset=".187" stop-color="#bade28"/><stop offset=".207" stop-color="#b5de2b"/><stop offset=".227" stop-color="#a5db36"/><stop offset=".259" stop-color="#7ad151"/><stop offset=".291" stop-color="#46c06f"/><stop offset=".331" stop-color="#21a685"/><stop offset=".379" stop-color="#238a8d"/><stop offset=".436" stop-color="#2c718e"/><stop offset=".508" stop-color="#375b8d"/><stop offset=".588" stop-color="#404588"/><stop offset=".689" stop-color="#472e7c"/><stop offset=".809" stop-color="#481d6f"/><stop offset="1.000" stop-color="#481668"/></linearGradient><linearGradient id="gd69"><stop offset=".000" stop-color="#472a7a"/><stop offset=".026" stop-color="#443983"/><stop offset=".058" stop-color="#3a548c"/><stop offset=".086" stop-color="#2b758e"/><stop offset=".106" stop-color="#20928c"/><stop offset=".127" stop-color="#2cb17e"/><stop offset=".147" stop-color="#67cc5c"/><stop offset=".167" stop-color="#a5db36"/><stop offset=".187" stop-color="#c5e021"/><stop offset=".207" stop-color="#c0df25"/><stop offset=".227" stop-color="#b0dd2f"/><stop offset=".259" stop-color="#81d34d"/><stop offset=".291" stop-color="#4cc26c"/><stop offset=".331" stop-color="#22a785"/><stop offset=".379" stop-color="#228b8d"/><stop offset=".436" stop-color="#2c728e"/><stop offset=".508" stop-color="#365c8d"/><stop offset=".588" stop-color="#404588"/><stop offset=".689" stop-color="#472e7c"/><stop offset=".809" stop-color="#481d6f"/><stop offset="1.000" stop-color="#481668"/></linearGradient><linearGradient id="gd70"><stop offset=".000" stop-color="#472a7a"/><stop offset=".026" stop-color="#443983"/><stop offset=".058" stop-color="#39558c"/><stop offset=".086" stop-color="#2a768e"/><stop offset=".106" stop-color="#20938c"/><stop offset=".127" stop-color="#2eb37c"/><stop offset=".147" stop-color="#6ece58"/><stop offset=".167" stop-color="#b0dd2f"/><stop offset=".187" stop-color="#cde11d"/><stop offset=".207" stop-color="#c8e020"/><stop offset=".227" stop-color="#b8de29"/><stop offset=".259" stop-color="#86d549"/><stop offset=".291" stop-color="#50c46a"/><stop offset=".331" stop-color="#23a983"/><stop offset=".379" stop-color="#228c8d"/><stop offset=".436" stop-color="#2c738e"/><stop offset=".508" stop-color="#365c8d"/><stop offset=".588" stop-color="#404588"/><stop offset=".689" stop-color="#472e7c"/><stop offset=".809" stop-color="#481d6f"/><stop offset="1.000" stop-color="#481668"/></linearGradient><linearGradient id="gd71"><stop offset=".000" stop-color="#472a7a"/><stop offset=".026" stop-color="#443a83"/><stop offset=".058" stop-color="#39558c"/><stop offset=".086" stop-color="#2a778e"/><stop offset=".106" stop-color="#1f948c"/><stop offset=".127" stop-color="#31b57b"/><stop offset=".147" stop-color="#73d056"/><stop offset=".167" stop-color="#b8de29"/><stop offset=".187" stop-color="#d5e21a"/><stop offset=".207" stop-color="#d2e21b"/><stop offset=".227" stop-color="#c0df25"/><stop offset=".259" stop-color="#8ed645"/><stop offset=".291" stop-color="#54c568"/><stop offset=".331" stop-color="#25ab82"/><stop offset=".379" stop-color="#228d8d"/><stop offset=".436" stop-color="#2b748e"/><stop offset=".508" stop-color="#365c8d"/><stop offset=".588" stop-color="#404588"/><stop offset=".689" stop-color="#472e7c"/><stop offset=".809" stop-color="#481d6f"/><stop offset="1.000" stop-color="#481668"/></linearGradient><linearGradient id="gd72"><stop offset=".000" stop-color="#472a7a"/><stop offset=".026" stop-color="#443a83"/><stop offset=".058" stop-color="#39568c"/><stop offset=".086" stop-color="#2a788e"/><stop offset=".106" stop-color="#1f958b"/><stop offset=".127" stop-color="#34b679"/><stop offset=".147" stop-color="#77d153"/><stop offset=".167" stop-color="#bddf26"/><stop offset=".187" stop-color="#dde318"/><stop offset=".207" stop-color="#d8e219"/><stop offset=".227" stop-color="#c8e020"/><stop offset=".259" stop-color="#93d741"/><stop offset=".291" stop-color="#58c765"/><stop offset=".331" stop-color="#25ac82"/><stop offset=".379" stop-color="#218e8d"/><stop offset=".436" stop-color="#2b748e"/><stop offset=".508" stop-color="#365d8d"/><stop offset=".588" stop-color="#404688"/><stop offset=".689" stop-color="#472e7c"/><stop offset=".809" stop-color="#481d6f"/><stop offset="1.000" stop-color="#481668"/></linearGradient><linearGradient id="gd73"><stop offset=".000" stop-color="#472a7a"/><stop offset=".026" stop-color="#443a83"/><stop offset=".058" stop-color="#39568c"/><stop offset=".086" stop-color="#2a788e"/><stop offset=".106" stop-color="#1f968b"/><stop offset=".127" stop-color="#35b779"/><stop offset=".147" stop-color="#7fd34e"/><stop offset=".167" stop-color="#c5e021"/><stop offset=".187" stop-color="#e5e419"/><stop offset=".207" stop-color="#dfe318"/><stop offset=".227" stop-color="#cde11d"/><stop offset=".259" stop-color="#9bd93c"/><stop offset=".291" stop-color="#5cc863"/><stop offset=".331" stop-color="#26ad81"/><stop offset=".379" stop-color="#218f8d"/><stop offset=".436" stop-color="#2b758e"/><stop offset=".508" stop-color="#365d8d"/><stop offset=".588" stop-color="#404688"/><stop offset=".689" stop-color="#472f7d"/><stop offset=".809" stop-color="#481d6f"/><stop offset="1.000" stop-color="#481668"/></linearGradient><linearGradient id="gd74"><stop offset=".000" stop-color="#472a7a"/><stop offset=".026" stop-color="#443a83"/><stop offset=".058" stop-color="#38588c"/><stop offset=".086" stop-color="#29798e"/><stop offset=".106" stop-color="#1f978b"/><stop offset=".127" stop-color="#38b977"/><stop offset=".147" stop-color="#81d34d"/><stop offset=".167" stop-color="#cae11f"/><stop offset=".187" stop-color="#eae51a"/><stop offset=".207" stop-color="#e5e419"/><stop offset=".227" stop-color="#d2e21b"/><stop offset=".259" stop-color="#9dd93b"/><stop offset=".291" stop-color="#5ec962"/><stop offset=".331" stop-color="#27ad81"/><stop offset=".379" stop-color="#218f8d"/><stop offset=".436" stop-color="#2b758e"/><stop offset=".508" stop-color="#365d8d"/><stop offset=".588" stop-color="#404688"/><stop offset=".689" stop-color="#472f7d"/><stop offset=".809" stop-color="#481f70"/><stop offset="1.000" stop-color="#481668"/></linearGradient><linearGradient id="gd75"><stop offset=".000" stop-color="#472a7a"/><stop offset=".026" stop-color="#443a83"/><stop offset=".058" stop-color="#38588c"/><stop offset=".086" stop-color="#297a8e"/><stop offset=".106" stop-color="#1f988b"/><stop offset=".127" stop-color="#3aba76"/><stop offset=".147" stop-color="#86d549"/><stop offset=".167" stop-color="#d0e11c"/><stop offset=".187" stop-color="#efe51c"/><stop offset=".207" stop-color="#eae51a"/><stop offset=".227" stop-color="#d8e219"/><stop offset=".259" stop-color="#a2da37"/><stop offset=".291" stop-color="#63cb5f"/><stop offset=".331" stop-color="#28ae80"/><stop offset=".379" stop-color="#21908d"/><stop offset=".436" stop-color="#2a768e"/><stop offset=".508" stop-color="#355e8d"/><stop offset=".588" stop-color="#404688"/><stop offset=".689" stop-color="#472f7d"/><stop offset=".809" stop-color="#481f70"/><stop offset="1.000" stop-color="#481668"/></linearGradient><linearGradient id="gd76"><stop offset=".000" stop-color="#472c7a"/><stop offset=".026" stop-color="#443a83"/><stop offset=".058" stop-color="#38588c"/><stop offset=".086" stop-color="#297a8e"/><stop offset=".106" stop-color="#1f998a"/><stop offset=".127" stop-color="#3bbb75"/><stop offset=".147" stop-color="#89d548"/><stop offset=".167" stop-color="#d2e21b"/><stop offset=".187" stop-color="#f4e61e"/><stop offset=".207" stop-color="#efe51c"/><stop offset=".227" stop-color="#dde318"/><stop offset=".259" stop-color="#a5db36"/><stop offset=".291" stop-color="#65cb5e"/><stop offset=".331" stop-color="#29af7f"/><stop offset=".379" stop-color="#21908d"/><stop offset=".436" stop-color="#2a768e"/><stop offset=".508" stop-color="#355e8d"/><stop offset=".588" stop-color="#404688"/><stop offset=".689" stop-color="#472f7d"/><stop offset=".809" stop-color="#481f70"/><stop offset="1.000" stop-color="#481668"/></linearGradient><linearGradient id="gd77"><stop offset=".000" stop-color="#472c7a"/><stop offset=".026" stop-color="#443b84"/><stop offset=".058" stop-color="#38588c"/><stop offset=".086" stop-color="#297a8e"/><stop offset=".106" stop-color="#1f998a"/><stop offset=".127" stop-color="#3dbc74"/><stop offset=".147" stop-color="#8bd646"/><stop offset=".167" stop-color="#d5e21a"/><stop offset=".187" stop-color="#f6e620"/><stop offset=".207" stop-color="#f1e51d"/><stop offset=".227" stop-color="#dfe318"/><stop offset=".259" stop-color="#aadc32"/><stop offset=".291" stop-color="#67cc5c"/><stop offset=".331" stop-color="#2ab07f"/><stop offset=".379" stop-color="#21918c"/><stop offset=".436" stop-color="#2a768e"/><stop offset=".508" stop-color="#355e8d"/><stop offset=".588" stop-color="#3f4788"/><stop offset=".689" stop-color="#472f7d"/><stop offset=".809" stop-color="#481f70"/><stop offset="1.000" stop-color="#481668"/></linearGradient><linearGradient id="gd78"><stop offset=".000" stop-color="#472c7a"/><stop offset=".026" stop-color="#443b84"/><stop offset=".058" stop-color="#38588c"/><stop offset=".086" stop-color="#297b8e"/><stop offset=".106" stop-color="#1f9a8a"/><stop offset=".127" stop-color="#3dbc74"/><stop offset=".147" stop-color="#8ed645"/><stop offset=".167" stop-color="#d8e219"/><stop offset=".187" stop-color="#f8e621"/><stop offset=".207" stop-color="#f4e61e"/><stop offset=".227" stop-color="#e2e418"/><stop offset=".259" stop-color="#aadc32"/><stop offset=".291" stop-color="#67cc5c"/><stop offset=".331" stop-color="#2ab07f"/><stop offset=".379" stop-color="#21918c"/><stop offset=".436" stop-color="#2a768e"/><stop offset=".508" stop-color="#355e8d"/><stop offset=".588" stop-color="#3f4788"/><stop offset=".689" stop-color="#472f7d"/><stop offset=".809" stop-color="#481f70"/><stop offset="1.000" stop-color="#481668"/></linearGradient><linearGradient id="gd79"><stop offset=".000" stop-color="#472c7a"/><stop offset=".026" stop-color="#443b84"/><stop offset=".058" stop-color="#38598c"/><stop offset=".086" stop-color="#297b8e"/><stop offset=".106" stop-color="#1f9a8a"/><stop offset=".127" stop-color="#3fbc73"/><stop offset=".147" stop-color="#90d743"/><stop offset=".167" stop-color="#dae319"/><stop offset=".187" stop-color="#fbe723"/><stop offset=".207" stop-color="#f6e620"/><stop offset=".227" stop-color="#e5e419"/><stop offset=".259" stop-color="#addc30"/><stop offset=".291" stop-color="#69cd5b"/><stop offset=".331" stop-color="#2ab07f"/><stop offset=".379" stop-color="#21918c"/><stop offset=".436" stop-color="#2a768e"/><stop offset=".508" stop-color="#355e8d"/><stop offset=".588" stop-color="#3f4788"/><stop offset=".689" stop-color="#472f7d"/><stop offset=".809" stop-color="#481f70"/><stop offset="1.000" stop-color="#481668"/></linearGradient><linearGradient id="gd80"><stop offset=".000" stop-color="#472c7a"/><stop offset=".026" stop-color="#443b84"/><stop offset=".058" stop-color="#38598c"/><stop offset=".086" stop-color="#297b8e"/><stop offset=".106" stop-color="#1f9a8a"/><stop offset=".127" stop-color="#3fbc73"/><stop offset=".147" stop-color="#90d743"/><stop offset=".167" stop-color="#dae319"/><stop offset=".187" stop-color="#fbe723"/><stop offset=".207" stop-color="#f6e620"/><stop offset=".227" stop-color="#e5e419"/><stop offset=".259" stop-color="#addc30"/><stop offset=".291" stop-color="#69cd5b"/><stop offset=".331" stop-color="#2cb17e"/><stop offset=".379" stop-color="#21918c"/><stop offset=".436" stop-color="#2a768e"/><stop offset=".508" stop-color="#355e8d"/><stop offset=".588" stop-color="#3f4788"/><stop offset=".689" stop-color="#472f7d"/><stop offset=".809" stop-color="#481f70"/><stop offset="1.000" stop-color="#481668"/></linearGradient><linearGradient id="gd81"><stop offset=".000" stop-color="#472c7a"/><stop offset=".026" stop-color="#443b84"/><stop offset=".058" stop-color="#38598c"/><stop offset=".086" stop-color="#297b8e"/><stop offset=".106" stop-color="#1f9a8a"/><stop offset=".127" stop-color="#3fbc73"/><stop offset=".147" stop-color="#90d743"/><stop offset=".167" stop-color="#dae319"/><stop offset=".187" stop-color="#fbe723"/><stop offset=".207" stop-color="#f6e620"/><stop offset=".227" stop-color="#e5e419"/><stop offset=".259" stop-color="#addc30"/><stop offset=".291" stop-color="#69cd5b"/><stop offset=".331" stop-color="#2cb17e"/><stop offset=".379" stop-color="#21918c"/><stop offset=".436" stop-color="#2a768e"/><stop offset=".508" stop-color="#355e8d"/><stop offset=".588" stop-color="#3f4788"/><stop offset=".689" stop-color="#472f7d"/><stop offset=".809" stop-color="#481f70"/><stop offset="1.000" stop-color="#481668"/></linearGradient><linearGradient id="gd82"><stop offset=".000" stop-color="#472c7a"/><stop offset=".026" stop-color="#443b84"/><stop offset=".058" stop-color="#38598c"/><stop offset=".086" stop-color="#297b8e"/><stop offset=".106" stop-color="#1f9a8a"/><stop offset=".127" stop-color="#3fbc73"/><stop offset=".147" stop-color="#8ed645"/><stop offset=".167" stop-color="#dae319"/><stop offset=".187" stop-color="#f8e621"/><stop offset=".207" stop-color="#f6e620"/><stop offset=".227" stop-color="#e2e418"/><stop offset=".259" stop-color="#addc30"/><stop offset=".291" stop-color="#69cd5b"/><stop offset=".331" stop-color="#2ab07f"/><stop offset=".379" stop-color="#21918c"/><stop offset=".436" stop-color="#2a768e"/><stop offset=".508" stop-color="#355e8d"/><stop offset=".588" stop-color="#3f4788"/><stop offset=".689" stop-color="#472f7d"/><stop offset=".809" stop-color="#481f70"/><stop offset="1.000" stop-color="#481668"/></linearGradient><linearGradient id="gd83"><stop offset=".000" stop-color="#472c7a"/><stop offset=".026" stop-color="#443b84"/><stop offset=".058" stop-color="#38588c"/><stop offset=".086" stop-color="#297b8e"/><stop offset=".106" stop-color="#1f9a8a"/><stop offset=".127" stop-color="#3dbc74"/><stop offset=".147" stop-color="#8ed645"/><stop offset=".167" stop-color="#d8e219"/><stop offset=".187" stop-color="#f6e620"/><stop offset=".207" stop-color="#f4e61e"/><stop offset=".227" stop-color="#dfe318"/><stop offset=".259" stop-color="#aadc32"/><stop offset=".291" stop-color="#67cc5c"/><stop offset=".331" stop-color="#2ab07f"/><stop offset=".379" stop-color="#21918c"/><stop offset=".436" stop-color="#2a768e"/><stop offset=".508" stop-color="#355e8d"/><stop offset=".588" stop-color="#3f4788"/><stop offset=".689" stop-color="#472f7d"/><stop offset=".809" stop-color="#481f70"/><stop offset="1.000" stop-color="#481668"/></linearGradient><linearGradient id="gd84"><stop offset=".000" stop-color="#472c7a"/><stop offset=".026" stop-color="#443b84"/><stop offset=".058" stop-color="#38588c"/><stop offset=".086" stop-color="#297a8e"/><stop offset=".106" stop-color="#1f998a"/><stop offset=".127" stop-color="#3bbb75"/><stop offset=".147" stop-color="#8bd646"/><stop offset=".167" stop-color="#d5e21a"/><stop offset=".187" stop-color="#f4e61e"/><stop offset=".207" stop-color="#efe51c"/><stop offset=".227" stop-color="#dde318"/><stop offset=".259" stop-color="#a8db34"/><stop offset=".291" stop-color="#65cb5e"/><stop offset=".331" stop-color="#29af7f"/><stop offset=".379" stop-color="#21918c"/><stop offset=".436" stop-color="#2a768e"/><stop offset=".508" stop-color="#355e8d"/><stop offset=".588" stop-color="#3f4788"/><stop offset=".689" stop-color="#472f7d"/><stop offset=".809" stop-color="#481f70"/><stop offset="1.000" stop-color="#481668"/></linearGradient><linearGradient id="gd85"><stop offset=".000" stop-color="#472c7a"/><stop offset=".026" stop-color="#443a83"/><stop offset=".058" stop-color="#38588c"/><stop offset=".086" stop-color="#297a8e"/><stop offset=".106" stop-color="#1f988b"/><stop offset=".127" stop-color="#3aba76"/><stop offset=".147" stop-color="#86d549"/><stop offset=".167" stop-color="#d0e11c"/><stop offset=".187" stop-color="#efe51c"/><stop offset=".207" stop-color="#ece51b"/><stop offset=".227" stop-color="#dae319"/><stop offset=".259" stop-color="#a2da37"/><stop offset=".291" stop-color="#63cb5f"/><stop offset=".331" stop-color="#29af7f"/><stop offset=".379" stop-color="#21908d"/><stop offset=".436" stop-color="#2a768e"/><stop offset=".508" stop-color="#355e8d"/><stop offset=".588" stop-color="#3f4788"/><stop offset=".689" stop-color="#472f7d"/><stop offset=".809" stop-color="#481f70"/><stop offset="1.000" stop-color="#481668"/></linearGradient><linearGradient id="gd86"><stop offset=".000" stop-color="#472c7a"/><stop offset=".026" stop-color="#443a83"/><stop offset=".058" stop-color="#38588c"/><stop offset=".086" stop-color="#29798e"/><stop offset=".106" stop-color="#1f988b"/><stop offset=".127" stop-color="#38b977"/><stop offset=".147" stop-color="#84d44b"/><stop offset=".167" stop-color="#cae11f"/><stop offset=".187" stop-color="#eae51a"/><stop offset=".207" stop-color="#e5e419"/><stop offset=".227" stop-color="#d2e21b"/><stop offset=".259" stop-color="#a0da39"/><stop offset=".291" stop-color="#60ca60"/><stop offset=".331" stop-color="#28ae80"/><stop offset=".379" stop-color="#21908d"/><stop offset=".436" stop-color="#2a768e"/><stop offset=".508" stop-color="#355e8d"/><stop offset=".588" stop-color="#404688"/><stop offset=".689" stop-color="#472e7c"/><stop offset=".809" stop-color="#481f70"/><stop offset="1.000" stop-color="#481668"/></linearGradient><linearGradient id="gd87"><stop offset=".000" stop-color="#472a7a"/><stop offset=".026" stop-color="#443a83"/><stop offset=".058" stop-color="#38588c"/><stop offset=".086" stop-color="#29798e"/><stop offset=".106" stop-color="#1f978b"/><stop offset=".127" stop-color="#37b878"/><stop offset=".147" stop-color="#7fd34e"/><stop offset=".167" stop-color="#c5e021"/><stop offset=".187" stop-color="#e5e419"/><stop offset=".207" stop-color="#dfe318"/><stop offset=".227" stop-color="#cde11d"/><stop offset=".259" stop-color="#9bd93c"/><stop offset=".291" stop-color="#5cc863"/><stop offset=".331" stop-color="#27ad81"/><stop offset=".379" stop-color="#218f8d"/><stop offset=".436" stop-color="#2b758e"/><stop offset=".508" stop-color="#355e8d"/><stop offset=".588" stop-color="#404688"/><stop offset=".689" stop-color="#472e7c"/><stop offset=".809" stop-color="#481f70"/><stop offset="1.000" stop-color="#481668"/></linearGradient><linearGradient id="gd88"><stop offset=".000" stop-color="#472a7a"/><stop offset=".026" stop-color="#443a83"/><stop offset=".058" stop-color="#39568c"/><stop offset=".086" stop-color="#2a788e"/><stop offset=".106" stop-color="#1f968b"/><stop offset=".127" stop-color="#34b679"/><stop offset=".147" stop-color="#77d153"/><stop offset=".167" stop-color="#bddf26"/><stop offset=".187" stop-color="#dde318"/><stop offset=".207" stop-color="#d8e219"/><stop offset=".227" stop-color="#c5e021"/><stop offset=".259" stop-color="#93d741"/><stop offset=".291" stop-color="#5ac864"/><stop offset=".331" stop-color="#26ad81"/><stop offset=".379" stop-color="#218f8d"/><stop offset=".436" stop-color="#2b758e"/><stop offset=".508" stop-color="#355e8d"/><stop offset=".588" stop-color="#404688"/><stop offset=".689" stop-color="#472e7c"/><stop offset=".809" stop-color="#481f70"/><stop offset="1.000" stop-color="#481668"/></linearGradient><linearGradient id="gd89"><stop offset=".000" stop-color="#472a7a"/><stop offset=".026" stop-color="#443a83"/><stop offset=".058" stop-color="#39568c"/><stop offset=".086" stop-color="#2a778e"/><stop offset=".106" stop-color="#1f948c"/><stop offset=".127" stop-color="#31b57b"/><stop offset=".147" stop-color="#73d056"/><stop offset=".167" stop-color="#b5de2b"/><stop offset=".187" stop-color="#d2e21b"/><stop offset=".207" stop-color="#d0e11c"/><stop offset=".227" stop-color="#bddf26"/><stop offset=".259" stop-color="#8ed645"/><stop offset=".291" stop-color="#56c667"/><stop offset=".331" stop-color="#25ab82"/><stop offset=".379" stop-color="#218e8d"/><stop offset=".436" stop-color="#2b758e"/><stop offset=".508" stop-color="#365d8d"/><stop offset=".588" stop-color="#404688"/><stop offset=".689" stop-color="#472e7c"/><stop offset=".809" stop-color="#481f70"/><stop offset="1.000" stop-color="#481668"/></linearGradient><linearGradient id="gd90"><stop offset=".000" stop-color="#472a7a"/><stop offset=".026" stop-color="#443a83"/><stop offset=".058" stop-color="#39568c"/><stop offset=".086" stop-color="#2a778e"/><stop offset=".106" stop-color="#20938c"/><stop offset=".127" stop-color="#2eb37c"/><stop offset=".147" stop-color="#6ccd5a"/><stop offset=".167" stop-color="#addc30"/><stop offset=".187" stop-color="#cae11f"/><stop offset=".207" stop-color="#c5e021"/><stop offset=".227" stop-color="#b5de2b"/><stop offset=".259" stop-color="#86d549"/><stop offset=".291" stop-color="#50c46a"/><stop offset=".331" stop-color="#24aa83"/><stop offset=".379" stop-color="#228d8d"/><stop offset=".436" stop-color="#2b748e"/><stop offset=".508" stop-color="#365d8d"/><stop offset=".588" stop-color="#404688"/><stop offset=".689" stop-color="#472d7b"/><stop offset=".809" stop-color="#481f70"/><stop offset="1.000" stop-color="#481668"/></linearGradient><linearGradient id="gd91"><stop offset=".000" stop-color="#472a7a"/><stop offset=".026" stop-color="#443a83"/><stop offset=".058" stop-color="#39558c"/><stop offset=".086" stop-color="#2a768e"/><stop offset=".106" stop-color="#20928c"/><stop offset=".127" stop-color="#2cb17e"/><stop offset=".147" stop-color="#65cb5e"/><stop offset=".167" stop-color="#a2da37"/><stop offset=".187" stop-color="#c0df25"/><stop offset=".207" stop-color="#bddf26"/><stop offset=".227" stop-color="#aadc32"/><stop offset=".259" stop-color="#7fd34e"/><stop offset=".291" stop-color="#4cc26c"/><stop offset=".331" stop-color="#22a884"/><stop offset=".379" stop-color="#228c8d"/><stop offset=".436" stop-color="#2b748e"/><stop offset=".508" stop-color="#365d8d"/><stop offset=".588" stop-color="#404688"/><stop offset=".689" stop-color="#472d7b"/><stop offset=".809" stop-color="#481d6f"/><stop offset="1.000" stop-color="#481668"/></linearGradient><linearGradient id="gd92"><stop offset=".000" stop-color="#472a7a"/><stop offset=".026" stop-color="#443a83"/><stop offset=".058" stop-color="#39558c"/><stop offset=".086" stop-color="#2b758e"/><stop offset=".106" stop-color="#21918c"/><stop offset=".127" stop-color="#29af7f"/><stop offset=".147" stop-color="#5ec962"/><stop offset=".167" stop-color="#98d83e"/><stop offset=".187" stop-color="#b5de2b"/><stop offset=".207" stop-color="#b2dd2d"/><stop offset=".227" stop-color="#a2da37"/><stop offset=".259" stop-color="#77d153"/><stop offset=".291" stop-color="#48c16e"/><stop offset=".331" stop-color="#22a785"/><stop offset=".379" stop-color="#228c8d"/><stop offset=".436" stop-color="#2b748e"/><stop offset=".508" stop-color="#365d8d"/><stop offset=".588" stop-color="#404588"/><stop offset=".689" stop-color="#472d7b"/><stop offset=".809" stop-color="#481d6f"/><stop offset="1.000" stop-color="#481668"/></linearGradient><linearGradient id="gd93"><stop offset=".000" stop-color="#472a7a"/><stop offset=".026" stop-color="#443983"/><stop offset=".058" stop-color="#3a548c"/><stop offset=".086" stop-color="#2b748e"/><stop offset=".106" stop-color="#218f8d"/><stop offset=".127" stop-color="#26ad81"/><stop offset=".147" stop-color="#58c765"/><stop offset=".167" stop-color="#8ed645"/><stop offset=".187" stop-color="#aadc32"/><stop offset=".207" stop-color="#a5db36"/><stop offset=".227" stop-color="#98d83e"/><stop offset=".259" stop-color="#6ece58"/><stop offset=".291" stop-color="#42be71"/><stop offset=".331" stop-color="#21a585"/><stop offset=".379" stop-color="#228b8d"/><stop offset=".436" stop-color="#2c738e"/><stop offset=".508" stop-color="#365c8d"/><stop offset=".588" stop-color="#404588"/><stop offset=".689" stop-color="#472c7a"/><stop offset=".809" stop-color="#481d6f"/><stop offset="1.000" stop-color="#481668"/></linearGradient><linearGradient id="gd94"><stop offset=".000" stop-color="#472a7a"/><stop offset=".026" stop-color="#443983"/><stop offset=".058" stop-color="#3a548c"/><stop offset=".086" stop-color="#2c738e"/><stop offset=".106" stop-color="#218e8d"/><stop offset=".127" stop-color="#25ab82"/><stop offset=".147" stop-color="#52c569"/><stop offset=".167" stop-color="#84d44b"/><stop offset=".187" stop-color="#9dd93b"/><stop offset=".207" stop-color="#9bd93c"/><stop offset=".227" stop-color="#8ed645"/><stop offset=".259" stop-color="#67cc5c"/><stop offset=".291" stop-color="#3dbc74"/><stop offset=".331" stop-color="#20a386"/><stop offset=".379" stop-color="#238a8d"/><stop offset=".436" stop-color="#2c728e"/><stop offset=".508" stop-color="#365c8d"/><stop offset=".588" stop-color="#404588"/><stop offset=".689" stop-color="#472c7a"/><stop offset=".809" stop-color="#481d6f"/><stop offset="1.000" stop-color="#481668"/></linearGradient><linearGradient id="gd95"><stop offset=".000" stop-color="#472a7a"/><stop offset=".026" stop-color="#443983"/><stop offset=".058" stop-color="#3a538b"/><stop offset=".086" stop-color="#2c728e"/><stop offset=".106" stop-color="#228c8d"/><stop offset=".127" stop-color="#22a884"/><stop offset=".147" stop-color="#4ac16d"/><stop offset=".167" stop-color="#7ad151"/><stop offset=".187" stop-color="#93d741"/><stop offset=".207" stop-color="#90d743"/><stop offset=".227" stop-color="#81d34d"/><stop offset=".259" stop-color="#5ec962"/><stop offset=".291" stop-color="#38b977"/><stop offset=".331" stop-color="#1fa187"/><stop offset=".379" stop-color="#23898e"/><stop offset=".436" stop-color="#2c728e"/><stop offset=".508" stop-color="#365c8d"/><stop offset=".588" stop-color="#404588"/><stop offset=".689" stop-color="#472a7a"/><stop offset=".809" stop-color="#481d6f"/><stop offset="1.000" stop-color="#481668"/></linearGradient><linearGradient id="gd96"><stop offset=".000" stop-color="#472a7a"/><stop offset=".026" stop-color="#443983"/><stop offset=".058" stop-color="#3a538b"/><stop offset=".086" stop-color="#2d718e"/><stop offset=".106" stop-color="#238a8d"/><stop offset=".127" stop-color="#21a585"/><stop offset=".147" stop-color="#44bf70"/><stop offset=".167" stop-color="#70cf57"/><stop offset=".187" stop-color="#86d549"/><stop offset=".207" stop-color="#84d44b"/><stop offset=".227" stop-color="#77d153"/><stop offset=".259" stop-color="#56c667"/><stop offset=".291" stop-color="#34b679"/><stop offset=".331" stop-color="#1fa088"/><stop offset=".379" stop-color="#24878e"/><stop offset=".436" stop-color="#2c718e"/><stop offset=".508" stop-color="#375b8d"/><stop offset=".588" stop-color="#414487"/><stop offset=".689" stop-color="#482979"/><stop offset=".809" stop-color="#481d6f"/><stop offset="1.000" stop-color="#481668"/></linearGradient><linearGradient id="gd97"><stop offset=".000" stop-color="#472a7a"/><stop offset=".026" stop-color="#443983"/><stop offset=".058" stop-color="#3b528b"/><stop offset=".086" stop-color="#2d708e"/><stop offset=".106" stop-color="#23888e"/><stop offset=".127" stop-color="#20a386"/><stop offset=".147" stop-color="#3dbc74"/><stop offset=".167" stop-color="#65cb5e"/><stop offset=".187" stop-color="#7ad151"/><stop offset=".207" stop-color="#77d153"/><stop offset=".227" stop-color="#6ccd5a"/><stop offset=".259" stop-color="#50c46a"/><stop offset=".291" stop-color="#2fb47c"/><stop offset=".331" stop-color="#1f9e89"/><stop offset=".379" stop-color="#24868e"/><stop offset=".436" stop-color="#2c718e"/><stop offset=".508" stop-color="#375b8d"/><stop offset=".588" stop-color="#414487"/><stop offset=".689" stop-color="#482979"/><stop offset=".809" stop-color="#481d6f"/><stop offset="1.000" stop-color="#481668"/></linearGradient><linearGradient id="gd98"><stop offset=".000" stop-color="#482979"/><stop offset=".026" stop-color="#453882"/><stop offset=".058" stop-color="#3b528b"/><stop offset=".086" stop-color="#2e6f8e"/><stop offset=".106" stop-color="#24868e"/><stop offset=".127" stop-color="#1fa188"/><stop offset=".147" stop-color="#37b878"/><stop offset=".167" stop-color="#5cc863"/><stop offset=".187" stop-color="#70cf57"/><stop offset=".207" stop-color="#6ece58"/><stop offset=".227" stop-color="#63cb5f"/><stop offset=".259" stop-color="#48c16e"/><stop offset=".291" stop-color="#2cb17e"/><stop offset=".331" stop-color="#1e9c89"/><stop offset=".379" stop-color="#25858e"/><stop offset=".436" stop-color="#2d718e"/><stop offset=".508" stop-color="#375b8d"/><stop offset=".588" stop-color="#414487"/><stop offset=".689" stop-color="#482878"/><stop offset=".809" stop-color="#481d6f"/><stop offset="1.000" stop-color="#481668"/></linearGradient><linearGradient id="gd99"><stop offset=".000" stop-color="#482979"/><stop offset=".026" stop-color="#453882"/><stop offset=".058" stop-color="#3b518b"/><stop offset=".086" stop-color="#2e6e8e"/><stop offset=".106" stop-color="#25858e"/><stop offset=".127" stop-color="#1f9e89"/><stop offset=".147" stop-color="#31b57b"/><stop offset=".167" stop-color="#54c568"/><stop offset=".187" stop-color="#65cb5e"/><stop offset=".207" stop-color="#63cb5f"/><stop offset=".227" stop-color="#5ac864"/><stop offset=".259" stop-color="#40bd72"/><stop offset=".291" stop-color="#28ae80"/><stop offset=".331" stop-color="#1f9a8a"/><stop offset=".379" stop-color="#25848e"/><stop offset=".436" stop-color="#2d708e"/><stop offset=".508" stop-color="#375a8c"/><stop offset=".588" stop-color="#414287"/><stop offset=".689" stop-color="#482677"/><stop offset=".809" stop-color="#481d6f"/><stop offset="1.000" stop-color="#481668"/></linearGradient><linearGradient id="gd100"><stop offset=".000" stop-color="#482979"/><stop offset=".026" stop-color="#453882"/><stop offset=".058" stop-color="#3c508b"/><stop offset=".086" stop-color="#2e6d8e"/><stop offset=".106" stop-color="#25838e"/><stop offset=".127" stop-color="#1e9b8a"/><stop offset=".147" stop-color="#2db27d"/><stop offset=".167" stop-color="#4ac16d"/><stop offset=".187" stop-color="#5ac864"/><stop offset=".207" stop-color="#58c765"/><stop offset=".227" stop-color="#50c46a"/><stop offset=".259" stop-color="#3aba76"/><stop offset=".291" stop-color="#25ac82"/><stop offset=".331" stop-color="#1f988b"/><stop offset=".379" stop-color="#25838e"/><stop offset=".436" stop-color="#2d708e"/><stop offset=".508" stop-color="#375a8c"/><stop offset=".588" stop-color="#414287"/><stop offset=".689" stop-color="#482576"/><stop offset=".809" stop-color="#481c6e"/><stop offset="1.000" stop-color="#481668"/></linearGradient><linearGradient id="gd101"><stop offset=".000" stop-color="#482979"/><stop offset=".026" stop-color="#453882"/><stop offset=".058" stop-color="#3c508b"/><stop offset=".086" stop-color="#2f6c8e"/><stop offset=".106" stop-color="#26828e"/><stop offset=".127" stop-color="#1f998a"/><stop offset=".147" stop-color="#28ae80"/><stop offset=".167" stop-color="#42be71"/><stop offset=".187" stop-color="#50c46a"/><stop offset=".207" stop-color="#50c46a"/><stop offset=".227" stop-color="#48c16e"/><stop offset=".259" stop-color="#34b679"/><stop offset=".291" stop-color="#23a983"/><stop offset=".331" stop-color="#1f968b"/><stop offset=".379" stop-color="#26828e"/><stop offset=".436" stop-color="#2e6f8e"/><stop offset=".508" stop-color="#375a8c"/><stop offset=".588" stop-color="#414287"/><stop offset=".689" stop-color="#482475"/><stop offset=".809" stop-color="#481c6e"/><stop offset="1.000" stop-color="#481668"/></linearGradient><linearGradient id="gd102"><stop offset=".000" stop-color="#482979"/><stop offset=".026" stop-color="#453781"/><stop offset=".058" stop-color="#3c4f8a"/><stop offset=".086" stop-color="#306a8e"/><stop offset=".106" stop-color="#27808e"/><stop offset=".127" stop-color="#1f968b"/><stop offset=".147" stop-color="#25ac82"/><stop offset=".167" stop-color="#3aba76"/><stop offset=".187" stop-color="#48c16e"/><stop offset=".207" stop-color="#46c06f"/><stop offset=".227" stop-color="#3fbc73"/><stop offset=".259" stop-color="#2fb47c"/><stop offset=".291" stop-color="#21a685"/><stop offset=".331" stop-color="#1f948c"/><stop offset=".379" stop-color="#26818e"/><stop offset=".436" stop-color="#2e6e8e"/><stop offset=".508" stop-color="#38598c"/><stop offset=".588" stop-color="#424186"/><stop offset=".689" stop-color="#482374"/><stop offset=".809" stop-color="#481c6e"/><stop offset="1.000" stop-color="#481668"/></linearGradient><linearGradient id="gd103"><stop offset=".000" stop-color="#482979"/><stop offset=".026" stop-color="#453781"/><stop offset=".058" stop-color="#3c4f8a"/><stop offset=".086" stop-color="#30698e"/><stop offset=".106" stop-color="#277e8e"/><stop offset=".127" stop-color="#20938c"/><stop offset=".147" stop-color="#22a884"/><stop offset=".167" stop-color="#34b679"/><stop offset=".187" stop-color="#3fbc73"/><stop offset=".207" stop-color="#3dbc74"/><stop offset=".227" stop-color="#38b977"/><stop offset=".259" stop-color="#2ab07f"/><stop offset=".291" stop-color="#20a486"/><stop offset=".331" stop-color="#20928c"/><stop offset=".379" stop-color="#27808e"/><stop offset=".436" stop-color="#2e6e8e"/><stop offset=".508" stop-color="#38598c"/><stop offset=".588" stop-color="#424186"/><stop offset=".689" stop-color="#482173"/><stop offset=".809" stop-color="#481c6e"/><stop offset="1.000" stop-color="#481668"/></linearGradient><linearGradient id="gd104"><stop offset=".000" stop-color="#482979"/><stop offset=".026" stop-color="#453781"/><stop offset=".058" stop-color="#3d4e8a"/><stop offset=".086" stop-color="#31688e"/><stop offset=".106" stop-color="#287c8e"/><stop offset=".127" stop-color="#20928c"/><stop offset=".147" stop-color="#20a486"/><stop offset=".167" stop-color="#2eb37c"/><stop offset=".187" stop-color="#38b977"/><stop offset=".207" stop-color="#37b878"/><stop offset=".227" stop-color="#32b67a"/><stop offset=".259" stop-color="#26ad81"/><stop offset=".291" stop-color="#1fa187"/><stop offset=".331" stop-color="#21918c"/><stop offset=".379" stop-color="#277f8e"/><stop offset=".436" stop-color="#2e6d8e"/><stop offset=".508" stop-color="#38588c"/><stop offset=".588" stop-color="#424186"/><stop offset=".689" stop-color="#482071"/><stop offset=".809" stop-color="#481c6e"/><stop offset="1.000" stop-color="#481668"/></linearGradient><linearGradient id="gd105"><stop offset=".000" stop-color="#482979"/><stop offset=".026" stop-color="#453581"/><stop offset=".058" stop-color="#3d4e8a"/><stop offset=".086" stop-color="#31678e"/><stop offset=".106" stop-color="#297a8e"/><stop offset=".127" stop-color="#218f8d"/><stop offset=".147" stop-color="#1fa187"/><stop offset=".167" stop-color="#29af7f"/><stop offset=".187" stop-color="#32b67a"/><stop offset=".207" stop-color="#31b57b"/><stop offset=".227" stop-color="#2db27d"/><stop offset=".259" stop-color="#24aa83"/><stop offset=".291" stop-color="#1f9f88"/><stop offset=".331" stop-color="#218f8d"/><stop offset=".379" stop-color="#277e8e"/><stop offset=".436" stop-color="#2f6c8e"/><stop offset=".508" stop-color="#38588c"/><stop offset=".588" stop-color="#424086"/><stop offset=".689" stop-color="#481f70"/><stop offset=".809" stop-color="#481c6e"/><stop offset="1.000" stop-color="#481668"/></linearGradient><linearGradient id="gd106"><stop offset=".000" stop-color="#482878"/><stop offset=".026" stop-color="#453581"/><stop offset=".058" stop-color="#3d4d8a"/><stop offset=".086" stop-color="#31668e"/><stop offset=".106" stop-color="#29798e"/><stop offset=".127" stop-color="#228d8d"/><stop offset=".147" stop-color="#1f9f88"/><stop offset=".167" stop-color="#25ac82"/><stop offset=".187" stop-color="#2cb17e"/><stop offset=".207" stop-color="#2cb17e"/><stop offset=".227" stop-color="#28ae80"/><stop offset=".259" stop-color="#22a785"/><stop offset=".291" stop-color="#1e9c89"/><stop offset=".331" stop-color="#218e8d"/><stop offset=".379" stop-color="#287d8e"/><stop offset=".436" stop-color="#2f6c8e"/><stop offset=".508" stop-color="#38588c"/><stop offset=".588" stop-color="#424086"/><stop offset=".689" stop-color="#481f70"/><stop offset=".809" stop-color="#481b6d"/><stop offset="1.000" stop-color="#481668"/></linearGradient><linearGradient id="gd107"><stop offset=".000" stop-color="#482878"/><stop offset=".026" stop-color="#453581"/><stop offset=".058" stop-color="#3e4c8a"/><stop offset=".086" stop-color="#32658e"/><stop offset=".106" stop-color="#2a778e"/><stop offset=".127" stop-color="#238a8d"/><stop offset=".147" stop-color="#1e9c89"/><stop offset=".167" stop-color="#22a884"/><stop offset=".187" stop-color="#27ad81"/><stop offset=".207" stop-color="#27ad81"/><stop offset=".227" stop-color="#25ab82"/><stop offset=".259" stop-color="#20a386"/><stop offset=".291" stop-color="#1f9a8a"/><stop offset=".331" stop-color="#228c8d"/><stop offset=".379" stop-color="#287c8e"/><stop offset=".436" stop-color="#2f6b8e"/><stop offset=".508" stop-color="#39568c"/><stop offset=".588" stop-color="#424086"/><stop offset=".689" stop-color="#481d6f"/><stop offset=".809" stop-color="#481b6d"/><stop offset="1.000" stop-color="#481668"/></linearGradient><linearGradient id="gd108"><stop offset=".000" stop-color="#482878"/><stop offset=".026" stop-color="#453581"/><stop offset=".058" stop-color="#3e4c8a"/><stop offset=".086" stop-color="#33638d"/><stop offset=".106" stop-color="#2b758e"/><stop offset=".127" stop-color="#23888e"/><stop offset=".147" stop-color="#1f998a"/><stop offset=".167" stop-color="#21a585"/><stop offset=".187" stop-color="#25ab82"/><stop offset=".207" stop-color="#24aa83"/><stop offset=".227" stop-color="#22a884"/><stop offset=".259" stop-color="#1fa188"/><stop offset=".291" stop-color="#1f978b"/><stop offset=".331" stop-color="#238a8d"/><stop offset=".379" stop-color="#297b8e"/><stop offset=".436" stop-color="#306a8e"/><stop offset=".508" stop-color="#39568c"/><stop offset=".588" stop-color="#423f85"/><stop offset=".689" stop-color="#481c6e"/><stop offset=".809" stop-color="#481b6d"/><stop offset="1.000" stop-color="#481668"/></linearGradient><linearGradient id="gd109"><stop offset=".000" stop-color="#482878"/><stop offset=".026" stop-color="#463480"/><stop offset=".058" stop-color="#3e4a89"/><stop offset=".086" stop-color="#33628d"/><stop offset=".106" stop-color="#2b748e"/><stop offset=".127" stop-color="#24868e"/><stop offset=".147" stop-color="#1f968b"/><stop offset=".167" stop-color="#1fa187"/><stop offset=".187" stop-color="#22a785"/><stop offset=".207" stop-color="#22a785"/><stop offset=".227" stop-color="#20a486"/><stop offset=".259" stop-color="#1f9f88"/><stop offset=".291" stop-color="#1f958b"/><stop offset=".331" stop-color="#23898e"/><stop offset=".379" stop-color="#297a8e"/><stop offset=".436" stop-color="#306a8e"/><stop offset=".508" stop-color="#39568c"/><stop offset=".588" stop-color="#423f85"/><stop offset=".689" stop-color="#481b6d"/><stop offset=".809" stop-color="#481b6d"/><stop offset="1.000" stop-color="#481668"/></linearGradient><linearGradient id="gd110"><stop offset=".000" stop-color="#482878"/><stop offset=".026" stop-color="#463480"/><stop offset=".058" stop-color="#3e4a89"/><stop offset=".086" stop-color="#34618d"/><stop offset=".106" stop-color="#2c728e"/><stop offset=".127" stop-color="#25848e"/><stop offset=".147" stop-color="#20938c"/><stop offset=".167" stop-color="#1f9f88"/><stop offset=".187" stop-color="#20a486"/><stop offset=".207" stop-color="#20a386"/><stop offset=".227" stop-color="#1fa187"/><stop offset=".259" stop-color="#1e9c89"/><stop offset=".291" stop-color="#20938c"/><stop offset=".331" stop-color="#24878e"/><stop offset=".379" stop-color="#29798e"/><stop offset=".436" stop-color="#30698e"/><stop offset=".508" stop-color="#39558c"/><stop offset=".588" stop-color="#423f85"/><stop offset=".689" stop-color="#481b6d"/><stop offset=".809" stop-color="#481b6d"/><stop offset="1.000" stop-color="#481668"/></linearGradient><linearGradient id="gd111"><stop offset=".000" stop-color="#482878"/><stop offset=".026" stop-color="#463480"/><stop offset=".058" stop-color="#3e4989"/><stop offset=".086" stop-color="#34608d"/><stop offset=".106" stop-color="#2c718e"/><stop offset=".127" stop-color="#26828e"/><stop offset=".147" stop-color="#20928c"/><stop offset=".167" stop-color="#1e9c89"/><stop offset=".187" stop-color="#1fa187"/><stop offset=".207" stop-color="#1fa188"/><stop offset=".227" stop-color="#1f9f88"/><stop offset=".259" stop-color="#1f998a"/><stop offset=".291" stop-color="#20928c"/><stop offset=".331" stop-color="#24868e"/><stop offset=".379" stop-color="#2a788e"/><stop offset=".436" stop-color="#30698e"/><stop offset=".508" stop-color="#39558c"/><stop offset=".588" stop-color="#423f85"/><stop offset=".689" stop-color="#481a6c"/><stop offset=".809" stop-color="#481b6d"/><stop offset="1.000" stop-color="#481668"/></linearGradient><linearGradient id="gd112"><stop offset=".000" stop-color="#482878"/><stop offset=".026" stop-color="#463480"/><stop offset=".058" stop-color="#3e4989"/><stop offset=".086" stop-color="#34608d"/><stop offset=".106" stop-color="#2d718e"/><stop offset=".127" stop-color="#26818e"/><stop offset=".147" stop-color="#218f8d"/><stop offset=".167" stop-color="#1f9a8a"/><stop offset=".187" stop-color="#1f9f88"/><stop offset=".207" stop-color="#1f9f88"/><stop offset=".227" stop-color="#1e9d89"/><stop offset=".259" stop-color="#1f978b"/><stop offset=".291" stop-color="#21908d"/><stop offset=".331" stop-color="#25848e"/><stop offset=".379" stop-color="#2a778e"/><stop offset=".436" stop-color="#31688e"/><stop offset=".508" stop-color="#39558c"/><stop offset=".588" stop-color="#423f85"/><stop offset=".689" stop-color="#481a6c"/><stop offset=".809" stop-color="#481b6d"/><stop offset="1.000" stop-color="#481668"/></linearGradient><linearGradient id="gd113"><stop offset=".000" stop-color="#482677"/><stop offset=".026" stop-color="#46337f"/><stop offset=".058" stop-color="#3f4889"/><stop offset=".086" stop-color="#355f8d"/><stop offset=".106" stop-color="#2e6f8e"/><stop offset=".127" stop-color="#277f8e"/><stop offset=".147" stop-color="#228d8d"/><stop offset=".167" stop-color="#1f978b"/><stop offset=".187" stop-color="#1e9c89"/><stop offset=".207" stop-color="#1e9c89"/><stop offset=".227" stop-color="#1f9a8a"/><stop offset=".259" stop-color="#1f958b"/><stop offset=".291" stop-color="#218e8d"/><stop offset=".331" stop-color="#25838e"/><stop offset=".379" stop-color="#2a768e"/><stop offset=".436" stop-color="#31688e"/><stop offset=".508" stop-color="#3a548c"/><stop offset=".588" stop-color="#423f85"/><stop offset=".689" stop-color="#481a6c"/><stop offset=".809" stop-color="#481b6d"/><stop offset="1.000" stop-color="#481668"/></linearGradient><linearGradient id="gd114"><stop offset=".000" stop-color="#482677"/><stop offset=".026" stop-color="#46337f"/><stop offset=".058" stop-color="#3f4889"/><stop offset=".086" stop-color="#355e8d"/><stop offset=".106" stop-color="#2e6e8e"/><stop offset=".127" stop-color="#287d8e"/><stop offset=".147" stop-color="#228b8d"/><stop offset=".167" stop-color="#1f958b"/><stop offset=".187" stop-color="#1f9a8a"/><stop offset=".207" stop-color="#1f9a8a"/><stop offset=".227" stop-color="#1f988b"/><stop offset=".259" stop-color="#20938c"/><stop offset=".291" stop-color="#228d8d"/><stop offset=".331" stop-color="#26828e"/><stop offset=".379" stop-color="#2a768e"/><stop offset=".436" stop-color="#31688e"/><stop offset=".508" stop-color="#3a548c"/><stop offset=".588" stop-color="#423f85"/><stop offset=".689" stop-color="#481a6c"/><stop offset=".809" stop-color="#481b6d"/><stop offset="1.000" stop-color="#481668"/></linearGradient><linearGradient id="gd115"><stop offset=".000" stop-color="#482677"/><stop offset=".026" stop-color="#46337f"/><stop offset=".058" stop-color="#3f4788"/><stop offset=".086" stop-color="#365d8d"/><stop offset=".106" stop-color="#2e6d8e"/><stop offset=".127" stop-color="#287c8e"/><stop offset=".147" stop-color="#23898e"/><stop offset=".167" stop-color="#20938c"/><stop offset=".187" stop-color="#1f978b"/><stop offset=".207" stop-color="#1f988b"/><stop offset=".227" stop-color="#1f968b"/><stop offset=".259" stop-color="#20928c"/><stop offset=".291" stop-color="#228b8d"/><stop offset=".331" stop-color="#26828e"/><stop offset=".379" stop-color="#2b758e"/><stop offset=".436" stop-color="#31678e"/><stop offset=".508" stop-color="#3a548c"/><stop offset=".588" stop-color="#423f85"/><stop offset=".689" stop-color="#481a6c"/><stop offset=".809" stop-color="#481b6d"/><stop offset="1.000" stop-color="#481668"/></linearGradient><linearGradient id="gd116"><stop offset=".000" stop-color="#482677"/><stop offset=".026" stop-color="#46337f"/><stop offset=".058" stop-color="#3f4788"/><stop offset=".086" stop-color="#365c8d"/><stop offset=".106" stop-color="#2f6c8e"/><stop offset=".127" stop-color="#297b8e"/><stop offset=".147" stop-color="#23888e"/><stop offset=".167" stop-color="#20928c"/><stop offset=".187" stop-color="#1f958b"/><stop offset=".207" stop-color="#1f968b"/><stop offset=".227" stop-color="#1f948c"/><stop offset=".259" stop-color="#21918c"/><stop offset=".291" stop-color="#238a8d"/><stop offset=".331" stop-color="#26818e"/><stop offset=".379" stop-color="#2b758e"/><stop offset=".436" stop-color="#31678e"/><stop offset=".508" stop-color="#3a548c"/><stop offset=".588" stop-color="#423f85"/><stop offset=".689" stop-color="#481b6d"/><stop offset=".809" stop-color="#481c6e"/><stop offset="1.000" stop-color="#481668"/></linearGradient><linearGradient id="gd117"><stop offset=".000" stop-color="#482677"/><stop offset=".026" stop-color="#46327e"/><stop offset=".058" stop-color="#404688"/><stop offset=".086" stop-color="#365c8d"/><stop offset=".106" stop-color="#2f6b8e"/><stop offset=".127" stop-color="#297a8e"/><stop offset=".147" stop-color="#24868e"/><stop offset=".167" stop-color="#21908d"/><stop offset=".187" stop-color="#1f948c"/><stop offset=".207" stop-color="#1f948c"/><stop offset=".227" stop-color="#20938c"/><stop offset=".259" stop-color="#21908d"/><stop offset=".291" stop-color="#23898e"/><stop offset=".331" stop-color="#26818e"/><stop offset=".379" stop-color="#2b748e"/><stop offset=".436" stop-color="#31678e"/><stop offset=".508" stop-color="#3a548c"/><stop offset=".588" stop-color="#423f85"/><stop offset=".689" stop-color="#481b6d"/><stop offset=".809" stop-color="#481c6e"/><stop offset="1.000" stop-color="#481769"/></linearGradient><linearGradient id="gd118"><stop offset=".000" stop-color="#482677"/><stop offset=".026" stop-color="#46327e"/><stop offset=".058" stop-color="#404688"/><stop offset=".086" stop-color="#375b8d"/><stop offset=".106" stop-color="#306a8e"/><stop offset=".127" stop-color="#29798e"/><stop offset=".147" stop-color="#25858e"/><stop offset=".167" stop-color="#218f8d"/><stop offset=".187" stop-color="#20928c"/><stop offset=".207" stop-color="#20938c"/><stop offset=".227" stop-color="#20928c"/><stop offset=".259" stop-color="#218f8d"/><stop offset=".291" stop-color="#23898e"/><stop offset=".331" stop-color="#27808e"/><stop offset=".379" stop-color="#2b748e"/><stop offset=".436" stop-color="#31678e"/><stop offset=".508" stop-color="#3a548c"/><stop offset=".588" stop-color="#423f85"/><stop offset=".689" stop-color="#481c6e"/><stop offset=".809" stop-color="#481c6e"/><stop offset="1.000" stop-color="#481769"/></linearGradient><linearGradient id="gd119"><stop offset=".000" stop-color="#482677"/><stop offset=".026" stop-color="#46327e"/><stop offset=".058" stop-color="#404688"/><stop offset=".086" stop-color="#375b8d"/><stop offset=".106" stop-color="#306a8e"/><stop offset=".127" stop-color="#2a788e"/><stop offset=".147" stop-color="#25848e"/><stop offset=".167" stop-color="#218e8d"/><stop offset=".187" stop-color="#20928c"/><stop offset=".207" stop-color="#20928c"/><stop offset=".227" stop-color="#20928c"/><stop offset=".259" stop-color="#218e8d"/><stop offset=".291" stop-color="#23888e"/><stop offset=".331" stop-color="#27808e"/><stop offset=".379" stop-color="#2b748e"/><stop offset=".436" stop-color="#31678e"/><stop offset=".508" stop-color="#3a548c"/><stop offset=".588" stop-color="#424086"/><stop offset=".689" stop-color="#481d6f"/><stop offset=".809" stop-color="#481d6f"/><stop offset="1.000" stop-color="#481769"/></linearGradient><linearGradient id="gd120"><stop offset=".000" stop-color="#482677"/><stop offset=".026" stop-color="#46327e"/><stop offset=".058" stop-color="#404688"/><stop offset=".086" stop-color="#375a8c"/><stop offset=".106" stop-color="#30698e"/><stop offset=".127" stop-color="#2a778e"/><stop offset=".147" stop-color="#25838e"/><stop offset=".167" stop-color="#228d8d"/><stop offset=".187" stop-color="#20928c"/><stop offset=".207" stop-color="#20928c"/><stop offset=".227" stop-color="#20928c"/><stop offset=".259" stop-color="#218e8d"/><stop offset=".291" stop-color="#23888e"/><stop offset=".331" stop-color="#27808e"/><stop offset=".379" stop-color="#2b748e"/><stop offset=".436" stop-color="#31678e"/><stop offset=".508" stop-color="#39558c"/><stop offset=".588" stop-color="#424086"/><stop offset=".689" stop-color="#481f70"/><stop offset=".809" stop-color="#481d6f"/><stop offset="1.000" stop-color="#481769"/></linearGradient><linearGradient id="gd121"><stop offset=".000" stop-color="#482576"/><stop offset=".026" stop-color="#46327e"/><stop offset=".058" stop-color="#404588"/><stop offset=".086" stop-color="#375a8c"/><stop offset=".106" stop-color="#30698e"/><stop offset=".127" stop-color="#2a778e"/><stop offset=".147" stop-color="#25838e"/><stop offset=".167" stop-color="#228c8d"/><stop offset=".187" stop-color="#21918c"/><stop offset=".207" stop-color="#20928c"/><stop offset=".227" stop-color="#21918c"/><stop offset=".259" stop-color="#218e8d"/><stop offset=".291" stop-color="#23888e"/><stop offset=".331" stop-color="#27808e"/><stop offset=".379" stop-color="#2b748e"/><stop offset=".436" stop-color="#31678e"/><stop offset=".508" stop-color="#39558c"/><stop offset=".588" stop-color="#424086"/><stop offset=".689" stop-color="#482071"/><stop offset=".809" stop-color="#481d6f"/><stop offset="1.000" stop-color="#481769"/></linearGradient><linearGradient id="gd122"><stop offset=".000" stop-color="#482576"/><stop offset=".026" stop-color="#46327e"/><stop offset=".058" stop-color="#404588"/><stop offset=".086" stop-color="#375a8c"/><stop offset=".106" stop-color="#30698e"/><stop offset=".127" stop-color="#2a768e"/><stop offset=".147" stop-color="#26828e"/><stop offset=".167" stop-color="#228c8d"/><stop offset=".187" stop-color="#21918c"/><stop offset=".207" stop-color="#20928c"/><stop offset=".227" stop-color="#21918c"/><stop offset=".259" stop-color="#218e8d"/><stop offset=".291" stop-color="#23888e"/><stop offset=".331" stop-color="#27808e"/><stop offset=".379" stop-color="#2b748e"/><stop offset=".436" stop-color="#31688e"/><stop offset=".508" stop-color="#39558c"/><stop offset=".588" stop-color="#424186"/><stop offset=".689" stop-color="#482173"/><stop offset=".809" stop-color="#481f70"/><stop offset="1.000" stop-color="#481769"/></linearGradient><linearGradient id="gd123"><stop offset=".000" stop-color="#482576"/><stop offset=".026" stop-color="#46327e"/><stop offset=".058" stop-color="#404588"/><stop offset=".086" stop-color="#375a8c"/><stop offset=".106" stop-color="#31688e"/><stop offset=".127" stop-color="#2a768e"/><stop offset=".147" stop-color="#26828e"/><stop offset=".167" stop-color="#228c8d"/><stop offset=".187" stop-color="#21918c"/><stop offset=".207" stop-color="#20928c"/><stop offset=".227" stop-color="#20928c"/><stop offset=".259" stop-color="#218e8d"/><stop offset=".291" stop-color="#23898e"/><stop offset=".331" stop-color="#26818e"/><stop offset=".379" stop-color="#2b758e"/><stop offset=".436" stop-color="#31688e"/><stop offset=".508" stop-color="#39568c"/><stop offset=".588" stop-color="#414287"/><stop offset=".689" stop-color="#482475"/><stop offset=".809" stop-color="#481f70"/><stop offset="1.000" stop-color="#481769"/></linearGradient><linearGradient id="gd124"><stop offset=".000" stop-color="#482576"/><stop offset=".026" stop-color="#46307e"/><stop offset=".058" stop-color="#404588"/><stop offset=".086" stop-color="#375a8c"/><stop offset=".106" stop-color="#31688e"/><stop offset=".127" stop-color="#2a768e"/><stop offset=".147" stop-color="#26828e"/><stop offset=".167" stop-color="#228c8d"/><stop offset=".187" stop-color="#21918c"/><stop offset=".207" stop-color="#20928c"/><stop offset=".227" stop-color="#20928c"/><stop offset=".259" stop-color="#218f8d"/><stop offset=".291" stop-color="#23898e"/><stop offset=".331" stop-color="#26818e"/><stop offset=".379" stop-color="#2b758e"/><stop offset=".436" stop-color="#30698e"/><stop offset=".508" stop-color="#38588c"/><stop offset=".588" stop-color="#414287"/><stop offset=".689" stop-color="#482576"/><stop offset=".809" stop-color="#482071"/><stop offset="1.000" stop-color="#48186a"/></linearGradient><linearGradient id="gd125"><stop offset=".000" stop-color="#482576"/><stop offset=".026" stop-color="#46307e"/><stop offset=".058" stop-color="#404588"/><stop offset=".086" stop-color="#375a8c"/><stop offset=".106" stop-color="#31688e"/><stop offset=".127" stop-color="#2a768e"/><stop offset=".147" stop-color="#26828e"/><stop offset=".167" stop-color="#228c8d"/><stop offset=".187" stop-color="#20928c"/><stop offset=".207" stop-color="#20938c"/><stop offset=".227" stop-color="#20938c"/><stop offset=".259" stop-color="#21908d"/><stop offset=".291" stop-color="#238a8d"/><stop offset=".331" stop-color="#26828e"/><stop offset=".379" stop-color="#2a768e"/><stop offset=".436" stop-color="#30698e"/><stop offset=".508" stop-color="#38588c"/><stop offset=".588" stop-color="#414487"/><stop offset=".689" stop-color="#482878"/><stop offset=".809" stop-color="#482071"/><stop offset="1.000" stop-color="#48186a"/></linearGradient><linearGradient id="gd126"><stop offset=".000" stop-color="#482576"/><stop offset=".026" stop-color="#46307e"/><stop offset=".058" stop-color="#404588"/><stop offset=".086" stop-color="#375a8c"/><stop offset=".106" stop-color="#30698e"/><stop offset=".127" stop-color="#2a778e"/><stop offset=".147" stop-color="#25838e"/><stop offset=".167" stop-color="#228d8d"/><stop offset=".187" stop-color="#20928c"/><stop offset=".207" stop-color="#1f948c"/><stop offset=".227" stop-color="#1f948c"/><stop offset=".259" stop-color="#20928c"/><stop offset=".291" stop-color="#228c8d"/><stop offset=".331" stop-color="#26828e"/><stop offset=".379" stop-color="#2a778e"/><stop offset=".436" stop-color="#306a8e"/><stop offset=".508" stop-color="#38598c"/><stop offset=".588" stop-color="#404588"/><stop offset=".689" stop-color="#482979"/><stop offset=".809" stop-color="#482173"/><stop offset="1.000" stop-color="#48186a"/></linearGradient><linearGradient id="gd127"><stop offset=".000" stop-color="#482576"/><stop offset=".026" stop-color="#46307e"/><stop offset=".058" stop-color="#404588"/><stop offset=".086" stop-color="#375a8c"/><stop offset=".106" stop-color="#30698e"/><stop offset=".127" stop-color="#2a778e"/><stop offset=".147" stop-color="#25848e"/><stop offset=".167" stop-color="#218e8d"/><stop offset=".187" stop-color="#20938c"/><stop offset=".207" stop-color="#1f958b"/><stop offset=".227" stop-color="#1f968b"/><stop offset=".259" stop-color="#20928c"/><stop offset=".291" stop-color="#228d8d"/><stop offset=".331" stop-color="#25838e"/><stop offset=".379" stop-color="#2a788e"/><stop offset=".436" stop-color="#2f6b8e"/><stop offset=".508" stop-color="#375a8c"/><stop offset=".588" stop-color="#404688"/><stop offset=".689" stop-color="#472c7a"/><stop offset=".809" stop-color="#482374"/><stop offset="1.000" stop-color="#48186a"/></linearGradient><linearGradient id="gd128"><stop offset=".000" stop-color="#482576"/><stop offset=".026" stop-color="#46307e"/><stop offset=".058" stop-color="#404588"/><stop offset=".086" stop-color="#375a8c"/><stop offset=".106" stop-color="#306a8e"/><stop offset=".127" stop-color="#2a788e"/><stop offset=".147" stop-color="#25858e"/><stop offset=".167" stop-color="#218f8d"/><stop offset=".187" stop-color="#1f958b"/><stop offset=".207" stop-color="#1f978b"/><stop offset=".227" stop-color="#1f988b"/><stop offset=".259" stop-color="#1f948c"/><stop offset=".291" stop-color="#218f8d"/><stop offset=".331" stop-color="#25858e"/><stop offset=".379" stop-color="#29798e"/><stop offset=".436" stop-color="#2f6c8e"/><stop offset=".508" stop-color="#375b8d"/><stop offset=".588" stop-color="#3f4788"/><stop offset=".689" stop-color="#472d7b"/><stop offset=".809" stop-color="#482374"/><stop offset="1.000" stop-color="#48186a"/></linearGradient><linearGradient id="gd129"><stop offset=".000" stop-color="#482576"/><stop offset=".026" stop-color="#46327e"/><stop offset=".058" stop-color="#404588"/><stop offset=".086" stop-color="#375b8d"/><stop offset=".106" stop-color="#306a8e"/><stop offset=".127" stop-color="#29798e"/><stop offset=".147" stop-color="#24868e"/><stop offset=".167" stop-color="#21918c"/><stop offset=".187" stop-color="#1f978b"/><stop offset=".207" stop-color="#1f998a"/><stop offset=".227" stop-color="#1f9a8a"/><stop offset=".259" stop-color="#1f978b"/><stop offset=".291" stop-color="#21918c"/><stop offset=".331" stop-color="#24868e"/><stop offset=".379" stop-color="#297a8e"/><stop offset=".436" stop-color="#2e6d8e"/><stop offset=".508" stop-color="#365c8d"/><stop offset=".588" stop-color="#3f4889"/><stop offset=".689" stop-color="#472f7d"/><stop offset=".809" stop-color="#482475"/><stop offset="1.000" stop-color="#481a6c"/></linearGradient><linearGradient id="gd130"><stop offset=".000" stop-color="#482576"/><stop offset=".026" stop-color="#46327e"/><stop offset=".058" stop-color="#404688"/><stop offset=".086" stop-color="#375b8d"/><stop offset=".106" stop-color="#2f6b8e"/><stop offset=".127" stop-color="#297a8e"/><stop offset=".147" stop-color="#24878e"/><stop offset=".167" stop-color="#20928c"/><stop offset=".187" stop-color="#1f998a"/><stop offset=".207" stop-color="#1e9c89"/><stop offset=".227" stop-color="#1e9c89"/><stop offset=".259" stop-color="#1f998a"/><stop offset=".291" stop-color="#20928c"/><stop offset=".331" stop-color="#23888e"/><stop offset=".379" stop-color="#287c8e"/><stop offset=".436" stop-color="#2e6e8e"/><stop offset=".508" stop-color="#365d8d"/><stop offset=".588" stop-color="#3e4a89"/><stop offset=".689" stop-color="#46307e"/><stop offset=".809" stop-color="#482576"/><stop offset="1.000" stop-color="#481a6c"/></linearGradient><linearGradient id="gd131"><stop offset=".000" stop-color="#482576"/><stop offset=".026" stop-color="#46327e"/><stop offset=".058" stop-color="#404688"/><stop offset=".086" stop-color="#365c8d"/><stop offset=".106" stop-color="#2f6c8e"/><stop offset=".127" stop-color="#297b8e"/><stop offset=".147" stop-color="#23898e"/><stop offset=".167" stop-color="#20938c"/><stop offset=".187" stop-color="#1e9b8a"/><stop offset=".207" stop-color="#1f9e89"/><stop offset=".227" stop-color="#1f9f88"/><stop offset=".259" stop-color="#1e9c89"/><stop offset=".291" stop-color="#1f958b"/><stop offset=".331" stop-color="#238a8d"/><stop offset=".379" stop-color="#287d8e"/><stop offset=".436" stop-color="#2d708e"/><stop offset=".508" stop-color="#355f8d"/><stop offset=".588" stop-color="#3e4c8a"/><stop offset=".689" stop-color="#46337f"/><stop offset=".809" stop-color="#482677"/><stop offset="1.000" stop-color="#481a6c"/></linearGradient><linearGradient id="gd132"><stop offset=".000" stop-color="#482576"/><stop offset=".026" stop-color="#46327e"/><stop offset=".058" stop-color="#404688"/><stop offset=".086" stop-color="#365c8d"/><stop offset=".106" stop-color="#2e6d8e"/><stop offset=".127" stop-color="#287c8e"/><stop offset=".147" stop-color="#238a8d"/><stop offset=".167" stop-color="#1f968b"/><stop offset=".187" stop-color="#1f9e89"/><stop offset=".207" stop-color="#1fa188"/><stop offset=".227" stop-color="#1fa187"/><stop offset=".259" stop-color="#1f9f88"/><stop offset=".291" stop-color="#1f988b"/><stop offset=".331" stop-color="#228c8d"/><stop offset=".379" stop-color="#277f8e"/><stop offset=".436" stop-color="#2d718e"/><stop offset=".508" stop-color="#34608d"/><stop offset=".588" stop-color="#3d4d8a"/><stop offset=".689" stop-color="#453581"/><stop offset=".809" stop-color="#482677"/><stop offset="1.000" stop-color="#481a6c"/></linearGradient><linearGradient id="gd133"><stop offset=".000" stop-color="#482576"/><stop offset=".026" stop-color="#46327e"/><stop offset=".058" stop-color="#3f4788"/><stop offset=".086" stop-color="#365d8d"/><stop offset=".106" stop-color="#2e6e8e"/><stop offset=".127" stop-color="#277e8e"/><stop offset=".147" stop-color="#228c8d"/><stop offset=".167" stop-color="#1f988b"/><stop offset=".187" stop-color="#1fa188"/><stop offset=".207" stop-color="#20a486"/><stop offset=".227" stop-color="#21a585"/><stop offset=".259" stop-color="#1fa187"/><stop offset=".291" stop-color="#1f9a8a"/><stop offset=".331" stop-color="#218f8d"/><stop offset=".379" stop-color="#26818e"/><stop offset=".436" stop-color="#2c728e"/><stop offset=".508" stop-color="#34618d"/><stop offset=".588" stop-color="#3d4e8a"/><stop offset=".689" stop-color="#453781"/><stop offset=".809" stop-color="#482878"/><stop offset="1.000" stop-color="#481b6d"/></linearGradient><linearGradient id="gd134"><stop offset=".000" stop-color="#482576"/><stop offset=".026" stop-color="#46327e"/><stop offset=".058" stop-color="#3f4788"/><stop offset=".086" stop-color="#355e8d"/><stop offset=".106" stop-color="#2e6f8e"/><stop offset=".127" stop-color="#277f8e"/><stop offset=".147" stop-color="#218e8d"/><stop offset=".167" stop-color="#1e9b8a"/><stop offset=".187" stop-color="#20a386"/><stop offset=".207" stop-color="#22a785"/><stop offset=".227" stop-color="#22a884"/><stop offset=".259" stop-color="#21a585"/><stop offset=".291" stop-color="#1e9d89"/><stop offset=".331" stop-color="#21918c"/><stop offset=".379" stop-color="#26828e"/><stop offset=".436" stop-color="#2c738e"/><stop offset=".508" stop-color="#33638d"/><stop offset=".588" stop-color="#3c508b"/><stop offset=".689" stop-color="#443983"/><stop offset=".809" stop-color="#482979"/><stop offset="1.000" stop-color="#481b6d"/></linearGradient><linearGradient id="gd135"><stop offset=".000" stop-color="#482576"/><stop offset=".026" stop-color="#46327e"/><stop offset=".058" stop-color="#3f4788"/><stop offset=".086" stop-color="#355f8d"/><stop offset=".106" stop-color="#2d708e"/><stop offset=".127" stop-color="#26818e"/><stop offset=".147" stop-color="#21908d"/><stop offset=".167" stop-color="#1e9d89"/><stop offset=".187" stop-color="#21a685"/><stop offset=".207" stop-color="#25ab82"/><stop offset=".227" stop-color="#25ac82"/><stop offset=".259" stop-color="#22a884"/><stop offset=".291" stop-color="#1fa188"/><stop offset=".331" stop-color="#20938c"/><stop offset=".379" stop-color="#25848e"/><stop offset=".436" stop-color="#2b758e"/><stop offset=".508" stop-color="#32648e"/><stop offset=".588" stop-color="#3b518b"/><stop offset=".689" stop-color="#443a83"/><stop offset=".809" stop-color="#472a7a"/><stop offset="1.000" stop-color="#481b6d"/></linearGradient><linearGradient id="gd136"><stop offset=".000" stop-color="#482576"/><stop offset=".026" stop-color="#46337f"/><stop offset=".058" stop-color="#3f4889"/><stop offset=".086" stop-color="#34608d"/><stop offset=".106" stop-color="#2d718e"/><stop offset=".127" stop-color="#26828e"/><stop offset=".147" stop-color="#20928c"/><stop offset=".167" stop-color="#1fa088"/><stop offset=".187" stop-color="#23a983"/><stop offset=".207" stop-color="#27ad81"/><stop offset=".227" stop-color="#29af7f"/><stop offset=".259" stop-color="#25ac82"/><stop offset=".291" stop-color="#20a386"/><stop offset=".331" stop-color="#1f958b"/><stop offset=".379" stop-color="#24868e"/><stop offset=".436" stop-color="#2a778e"/><stop offset=".508" stop-color="#31668e"/><stop offset=".588" stop-color="#3a538b"/><stop offset=".689" stop-color="#433d84"/><stop offset=".809" stop-color="#472c7a"/><stop offset="1.000" stop-color="#481c6e"/></linearGradient><linearGradient id="gd137"><stop offset=".000" stop-color="#482677"/><stop offset=".026" stop-color="#46337f"/><stop offset=".058" stop-color="#3f4889"/><stop offset=".086" stop-color="#34618d"/><stop offset=".106" stop-color="#2c728e"/><stop offset=".127" stop-color="#25838e"/><stop offset=".147" stop-color="#1f948c"/><stop offset=".167" stop-color="#1fa287"/><stop offset=".187" stop-color="#26ad81"/><stop offset=".207" stop-color="#2cb17e"/><stop offset=".227" stop-color="#2eb37c"/><stop offset=".259" stop-color="#29af7f"/><stop offset=".291" stop-color="#22a785"/><stop offset=".331" stop-color="#1f988b"/><stop offset=".379" stop-color="#23888e"/><stop offset=".436" stop-color="#2a788e"/><stop offset=".508" stop-color="#31678e"/><stop offset=".588" stop-color="#3a548c"/><stop offset=".689" stop-color="#433e85"/><stop offset=".809" stop-color="#472d7b"/><stop offset="1.000" stop-color="#481c6e"/></linearGradient><linearGradient id="gd138"><stop offset=".000" stop-color="#482677"/><stop offset=".026" stop-color="#46337f"/><stop offset=".058" stop-color="#3e4989"/><stop offset=".086" stop-color="#34618d"/><stop offset=".106" stop-color="#2c738e"/><stop offset=".127" stop-color="#25858e"/><stop offset=".147" stop-color="#1f978b"/><stop offset=".167" stop-color="#21a585"/><stop offset=".187" stop-color="#29af7f"/><stop offset=".207" stop-color="#31b57b"/><stop offset=".227" stop-color="#34b679"/><stop offset=".259" stop-color="#2eb37c"/><stop offset=".291" stop-color="#24aa83"/><stop offset=".331" stop-color="#1e9b8a"/><stop offset=".379" stop-color="#238a8d"/><stop offset=".436" stop-color="#297a8e"/><stop offset=".508" stop-color="#30698e"/><stop offset=".588" stop-color="#39568c"/><stop offset=".689" stop-color="#424086"/><stop offset=".809" stop-color="#472d7b"/><stop offset="1.000" stop-color="#481c6e"/></linearGradient><linearGradient id="gd139"><stop offset=".000" stop-color="#482677"/><stop offset=".026" stop-color="#46337f"/><stop offset=".058" stop-color="#3e4989"/><stop offset=".086" stop-color="#33628d"/><stop offset=".106" stop-color="#2b748e"/><stop offset=".127" stop-color="#24878e"/><stop offset=".147" stop-color="#1f998a"/><stop offset=".167" stop-color="#22a884"/><stop offset=".187" stop-color="#2eb37c"/><stop offset=".207" stop-color="#37b878"/><stop offset=".227" stop-color="#3aba76"/><stop offset=".259" stop-color="#34b679"/><stop offset=".291" stop-color="#26ad81"/><stop offset=".331" stop-color="#1f9e89"/><stop offset=".379" stop-color="#228c8d"/><stop offset=".436" stop-color="#287c8e"/><stop offset=".508" stop-color="#2f6b8e"/><stop offset=".588" stop-color="#38588c"/><stop offset=".689" stop-color="#424186"/><stop offset=".809" stop-color="#472e7c"/><stop offset="1.000" stop-color="#481d6f"/></linearGradient><linearGradient id="gd140"><stop offset=".000" stop-color="#482677"/><stop offset=".026" stop-color="#46337f"/><stop offset=".058" stop-color="#3e4a89"/><stop offset=".086" stop-color="#33638d"/><stop offset=".106" stop-color="#2a768e"/><stop offset=".127" stop-color="#23898e"/><stop offset=".147" stop-color="#1e9b8a"/><stop offset=".167" stop-color="#25ab82"/><stop offset=".187" stop-color="#32b67a"/><stop offset=".207" stop-color="#3dbc74"/><stop offset=".227" stop-color="#40bd72"/><stop offset=".259" stop-color="#3aba76"/><stop offset=".291" stop-color="#2ab07f"/><stop offset=".331" stop-color="#1fa088"/><stop offset=".379" stop-color="#218e8d"/><stop offset=".436" stop-color="#287d8e"/><stop offset=".508" stop-color="#2f6c8e"/><stop offset=".588" stop-color="#38598c"/><stop offset=".689" stop-color="#414287"/><stop offset=".809" stop-color="#472f7d"/><stop offset="1.000" stop-color="#481d6f"/></linearGradient><linearGradient id="gd141"><stop offset=".000" stop-color="#482677"/><stop offset=".026" stop-color="#463480"/><stop offset=".058" stop-color="#3e4a89"/><stop offset=".086" stop-color="#32648e"/><stop offset=".106" stop-color="#2a778e"/><stop offset=".127" stop-color="#228b8d"/><stop offset=".147" stop-color="#1f9e89"/><stop offset=".167" stop-color="#27ad81"/><stop offset=".187" stop-color="#37b878"/><stop offset=".207" stop-color="#44bf70"/><stop offset=".227" stop-color="#48c16e"/><stop offset=".259" stop-color="#40bd72"/><stop offset=".291" stop-color="#2eb37c"/><stop offset=".331" stop-color="#1fa287"/><stop offset=".379" stop-color="#21908d"/><stop offset=".436" stop-color="#277f8e"/><stop offset=".508" stop-color="#2e6e8e"/><stop offset=".588" stop-color="#375b8d"/><stop offset=".689" stop-color="#414487"/><stop offset=".809" stop-color="#46307e"/><stop offset="1.000" stop-color="#481d6f"/></linearGradient><linearGradient id="gd142"><stop offset=".000" stop-color="#482677"/><stop offset=".026" stop-color="#463480"/><stop offset=".058" stop-color="#3e4c8a"/><stop offset=".086" stop-color="#32658e"/><stop offset=".106" stop-color="#2a788e"/><stop offset=".127" stop-color="#228c8d"/><stop offset=".147" stop-color="#1fa088"/><stop offset=".167" stop-color="#2ab07f"/><stop offset=".187" stop-color="#3dbc74"/><stop offset=".207" stop-color="#4ac16d"/><stop offset=".227" stop-color="#50c46a"/><stop offset=".259" stop-color="#46c06f"/><stop offset=".291" stop-color="#32b67a"/><stop offset=".331" stop-color="#20a486"/><stop offset=".379" stop-color="#20928c"/><stop offset=".436" stop-color="#27808e"/><stop offset=".508" stop-color="#2e6f8e"/><stop offset=".588" stop-color="#365c8d"/><stop offset=".689" stop-color="#404688"/><stop offset=".809" stop-color="#46307e"/><stop offset="1.000" stop-color="#481f70"/></linearGradient><linearGradient id="gd143"><stop offset=".000" stop-color="#482677"/><stop offset=".026" stop-color="#463480"/><stop offset=".058" stop-color="#3e4c8a"/><stop offset=".086" stop-color="#31668e"/><stop offset=".106" stop-color="#29798e"/><stop offset=".127" stop-color="#218e8d"/><stop offset=".147" stop-color="#1fa187"/><stop offset=".167" stop-color="#2db27d"/><stop offset=".187" stop-color="#42be71"/><stop offset=".207" stop-color="#52c569"/><stop offset=".227" stop-color="#58c765"/><stop offset=".259" stop-color="#4ec36b"/><stop offset=".291" stop-color="#38b977"/><stop offset=".331" stop-color="#22a785"/><stop offset=".379" stop-color="#20928c"/><stop offset=".436" stop-color="#26828e"/><stop offset=".508" stop-color="#2d708e"/><stop offset=".588" stop-color="#365d8d"/><stop offset=".689" stop-color="#3f4788"/><stop offset=".809" stop-color="#46327e"/><stop offset="1.000" stop-color="#481f70"/></linearGradient><linearGradient id="gd144"><stop offset=".000" stop-color="#482677"/><stop offset=".026" stop-color="#463480"/><stop offset=".058" stop-color="#3d4d8a"/><stop offset=".086" stop-color="#31678e"/><stop offset=".106" stop-color="#297a8e"/><stop offset=".127" stop-color="#21908d"/><stop offset=".147" stop-color="#20a386"/><stop offset=".167" stop-color="#31b57b"/><stop offset=".187" stop-color="#48c16e"/><stop offset=".207" stop-color="#58c765"/><stop offset=".227" stop-color="#5ec962"/><stop offset=".259" stop-color="#54c568"/><stop offset=".291" stop-color="#3bbb75"/><stop offset=".331" stop-color="#23a983"/><stop offset=".379" stop-color="#1f948c"/><stop offset=".436" stop-color="#26828e"/><stop offset=".508" stop-color="#2d718e"/><stop offset=".588" stop-color="#355e8d"/><stop offset=".689" stop-color="#3f4889"/><stop offset=".809" stop-color="#46337f"/><stop offset="1.000" stop-color="#481f70"/></linearGradient><linearGradient id="gd145"><stop offset=".000" stop-color="#482677"/><stop offset=".026" stop-color="#463480"/><stop offset=".058" stop-color="#3d4d8a"/><stop offset=".086" stop-color="#31678e"/><stop offset=".106" stop-color="#297b8e"/><stop offset=".127" stop-color="#21918c"/><stop offset=".147" stop-color="#21a585"/><stop offset=".167" stop-color="#34b679"/><stop offset=".187" stop-color="#4cc26c"/><stop offset=".207" stop-color="#5ec962"/><stop offset=".227" stop-color="#65cb5e"/><stop offset=".259" stop-color="#5ac864"/><stop offset=".291" stop-color="#40bd72"/><stop offset=".331" stop-color="#25ab82"/><stop offset=".379" stop-color="#1f958b"/><stop offset=".436" stop-color="#25838e"/><stop offset=".508" stop-color="#2c718e"/><stop offset=".588" stop-color="#355f8d"/><stop offset=".689" stop-color="#3f4889"/><stop offset=".809" stop-color="#46337f"/><stop offset="1.000" stop-color="#481f70"/></linearGradient><linearGradient id="gd146"><stop offset=".000" stop-color="#482677"/><stop offset=".026" stop-color="#463480"/><stop offset=".058" stop-color="#3d4d8a"/><stop offset=".086" stop-color="#31688e"/><stop offset=".106" stop-color="#287c8e"/><stop offset=".127" stop-color="#20928c"/><stop offset=".147" stop-color="#21a685"/><stop offset=".167" stop-color="#37b878"/><stop offset=".187" stop-color="#52c569"/><stop offset=".207" stop-color="#63cb5f"/><stop offset=".227" stop-color="#6ccd5a"/><stop offset=".259" stop-color="#60ca60"/><stop offset=".291" stop-color="#44bf70"/><stop offset=".331" stop-color="#26ad81"/><stop offset=".379" stop-color="#1f968b"/><stop offset=".436" stop-color="#25848e"/><stop offset=".508" stop-color="#2c728e"/><stop offset=".588" stop-color="#34608d"/><stop offset=".689" stop-color="#3e4989"/><stop offset=".809" stop-color="#463480"/><stop offset="1.000" stop-color="#482071"/></linearGradient><linearGradient id="gd147"><stop offset=".000" stop-color="#482677"/><stop offset=".026" stop-color="#463480"/><stop offset=".058" stop-color="#3d4d8a"/><stop offset=".086" stop-color="#31688e"/><stop offset=".106" stop-color="#287d8e"/><stop offset=".127" stop-color="#20928c"/><stop offset=".147" stop-color="#22a884"/><stop offset=".167" stop-color="#3aba76"/><stop offset=".187" stop-color="#56c667"/><stop offset=".207" stop-color="#69cd5b"/><stop offset=".227" stop-color="#70cf57"/><stop offset=".259" stop-color="#65cb5e"/><stop offset=".291" stop-color="#48c16e"/><stop offset=".331" stop-color="#27ad81"/><stop offset=".379" stop-color="#1f978b"/><stop offset=".436" stop-color="#25858e"/><stop offset=".508" stop-color="#2c738e"/><stop offset=".588" stop-color="#34618d"/><stop offset=".689" stop-color="#3e4a89"/><stop offset=".809" stop-color="#463480"/><stop offset="1.000" stop-color="#482071"/></linearGradient><linearGradient id="gd148"><stop offset=".000" stop-color="#482677"/><stop offset=".026" stop-color="#463480"/><stop offset=".058" stop-color="#3d4e8a"/><stop offset=".086" stop-color="#31688e"/><stop offset=".106" stop-color="#287d8e"/><stop offset=".127" stop-color="#20938c"/><stop offset=".147" stop-color="#23a983"/><stop offset=".167" stop-color="#3bbb75"/><stop offset=".187" stop-color="#58c765"/><stop offset=".207" stop-color="#6ccd5a"/><stop offset=".227" stop-color="#75d054"/><stop offset=".259" stop-color="#69cd5b"/><stop offset=".291" stop-color="#4cc26c"/><stop offset=".331" stop-color="#28ae80"/><stop offset=".379" stop-color="#1f988b"/><stop offset=".436" stop-color="#24868e"/><stop offset=".508" stop-color="#2b748e"/><stop offset=".588" stop-color="#34618d"/><stop offset=".689" stop-color="#3e4a89"/><stop offset=".809" stop-color="#453581"/><stop offset="1.000" stop-color="#482071"/></linearGradient><linearGradient id="gd149"><stop offset=".000" stop-color="#482677"/><stop offset=".026" stop-color="#463480"/><stop offset=".058" stop-color="#3d4e8a"/><stop offset=".086" stop-color="#31688e"/><stop offset=".106" stop-color="#277e8e"/><stop offset=".127" stop-color="#20938c"/><stop offset=".147" stop-color="#23a983"/><stop offset=".167" stop-color="#3dbc74"/><stop offset=".187" stop-color="#5ac864"/><stop offset=".207" stop-color="#70cf57"/><stop offset=".227" stop-color="#77d153"/><stop offset=".259" stop-color="#6ccd5a"/><stop offset=".291" stop-color="#4ec36b"/><stop offset=".331" stop-color="#29af7f"/><stop offset=".379" stop-color="#1f998a"/><stop offset=".436" stop-color="#24868e"/><stop offset=".508" stop-color="#2b748e"/><stop offset=".588" stop-color="#33628d"/><stop offset=".689" stop-color="#3e4c8a"/><stop offset=".809" stop-color="#453581"/><stop offset="1.000" stop-color="#482071"/></linearGradient><linearGradient id="gd150"><stop offset=".000" stop-color="#482677"/><stop offset=".026" stop-color="#463480"/><stop offset=".058" stop-color="#3d4d8a"/><stop offset=".086" stop-color="#31688e"/><stop offset=".106" stop-color="#277e8e"/><stop offset=".127" stop-color="#20938c"/><stop offset=".147" stop-color="#23a983"/><stop offset=".167" stop-color="#3dbc74"/><stop offset=".187" stop-color="#5cc863"/><stop offset=".207" stop-color="#73d056"/><stop offset=".227" stop-color="#7ad151"/><stop offset=".259" stop-color="#6ece58"/><stop offset=".291" stop-color="#4ec36b"/><stop offset=".331" stop-color="#29af7f"/><stop offset=".379" stop-color="#1f998a"/><stop offset=".436" stop-color="#24868e"/><stop offset=".508" stop-color="#2b748e"/><stop offset=".588" stop-color="#33628d"/><stop offset=".689" stop-color="#3e4c8a"/><stop offset=".809" stop-color="#453581"/><stop offset="1.000" stop-color="#482071"/></linearGradient><linearGradient id="gd151"><stop offset=".000" stop-color="#482677"/><stop offset=".026" stop-color="#463480"/><stop offset=".058" stop-color="#3d4d8a"/><stop offset=".086" stop-color="#31688e"/><stop offset=".106" stop-color="#287d8e"/><stop offset=".127" stop-color="#20938c"/><stop offset=".147" stop-color="#23a983"/><stop offset=".167" stop-color="#3dbc74"/><stop offset=".187" stop-color="#5cc863"/><stop offset=".207" stop-color="#73d056"/><stop offset=".227" stop-color="#7ad151"/><stop offset=".259" stop-color="#6ece58"/><stop offset=".291" stop-color="#50c46a"/><stop offset=".331" stop-color="#29af7f"/><stop offset=".379" stop-color="#1f998a"/><stop offset=".436" stop-color="#24868e"/><stop offset=".508" stop-color="#2b748e"/><stop offset=".588" stop-color="#33628d"/><stop offset=".689" stop-color="#3e4c8a"/><stop offset=".809" stop-color="#453581"/><stop offset="1.000" stop-color="#482071"/></linearGradient><linearGradient id="gd152"><stop offset=".000" stop-color="#482677"/><stop offset=".026" stop-color="#463480"/><stop offset=".058" stop-color="#3d4d8a"/><stop offset=".086" stop-color="#31688e"/><stop offset=".106" stop-color="#287d8e"/><stop offset=".127" stop-color="#20928c"/><stop offset=".147" stop-color="#23a983"/><stop offset=".167" stop-color="#3dbc74"/><stop offset=".187" stop-color="#5cc863"/><stop offset=".207" stop-color="#70cf57"/><stop offset=".227" stop-color="#7ad151"/><stop offset=".259" stop-color="#6ece58"/><stop offset=".291" stop-color="#4ec36b"/><stop offset=".331" stop-color="#29af7f"/><stop offset=".379" stop-color="#1f988b"/><stop offset=".436" stop-color="#25858e"/><stop offset=".508" stop-color="#2b748e"/><stop offset=".588" stop-color="#33628d"/><stop offset=".689" stop-color="#3e4c8a"/><stop offset=".809" stop-color="#453581"/><stop offset="1.000" stop-color="#482071"/></linearGradient><linearGradient id="gd153"><stop offset=".000" stop-color="#482677"/><stop offset=".026" stop-color="#463480"/><stop offset=".058" stop-color="#3e4c8a"/><stop offset=".086" stop-color="#31678e"/><stop offset=".106" stop-color="#287c8e"/><stop offset=".127" stop-color="#20928c"/><stop offset=".147" stop-color="#22a884"/><stop offset=".167" stop-color="#3bbb75"/><stop offset=".187" stop-color="#5ac864"/><stop offset=".207" stop-color="#70cf57"/><stop offset=".227" stop-color="#77d153"/><stop offset=".259" stop-color="#6ccd5a"/><stop offset=".291" stop-color="#4cc26c"/><stop offset=".331" stop-color="#28ae80"/><stop offset=".379" stop-color="#1f978b"/><stop offset=".436" stop-color="#25858e"/><stop offset=".508" stop-color="#2c738e"/><stop offset=".588" stop-color="#33628d"/><stop offset=".689" stop-color="#3e4c8a"/><stop offset=".809" stop-color="#453581"/><stop offset="1.000" stop-color="#482071"/></linearGradient><linearGradient id="gd154"><stop offset=".000" stop-color="#482576"/><stop offset=".026" stop-color="#46337f"/><stop offset=".058" stop-color="#3e4c8a"/><stop offset=".086" stop-color="#31668e"/><stop offset=".106" stop-color="#297b8e"/><stop offset=".127" stop-color="#20928c"/><stop offset=".147" stop-color="#22a785"/><stop offset=".167" stop-color="#38b977"/><stop offset=".187" stop-color="#56c667"/><stop offset=".207" stop-color="#6ccd5a"/><stop offset=".227" stop-color="#75d054"/><stop offset=".259" stop-color="#67cc5c"/><stop offset=".291" stop-color="#4ac16d"/><stop offset=".331" stop-color="#27ad81"/><stop offset=".379" stop-color="#1f968b"/><stop offset=".436" stop-color="#25848e"/><stop offset=".508" stop-color="#2c738e"/><stop offset=".588" stop-color="#34618d"/><stop offset=".689" stop-color="#3e4c8a"/><stop offset=".809" stop-color="#453581"/><stop offset="1.000" stop-color="#482071"/></linearGradient><linearGradient id="gd155"><stop offset=".000" stop-color="#482576"/><stop offset=".026" stop-color="#46337f"/><stop offset=".058" stop-color="#3e4a89"/><stop offset=".086" stop-color="#32658e"/><stop offset=".106" stop-color="#297a8e"/><stop offset=".127" stop-color="#21908d"/><stop offset=".147" stop-color="#21a585"/><stop offset=".167" stop-color="#35b779"/><stop offset=".187" stop-color="#52c569"/><stop offset=".207" stop-color="#67cc5c"/><stop offset=".227" stop-color="#70cf57"/><stop offset=".259" stop-color="#63cb5f"/><stop offset=".291" stop-color="#46c06f"/><stop offset=".331" stop-color="#25ac82"/><stop offset=".379" stop-color="#1f958b"/><stop offset=".436" stop-color="#25838e"/><stop offset=".508" stop-color="#2c728e"/><stop offset=".588" stop-color="#34618d"/><stop offset=".689" stop-color="#3e4c8a"/><stop offset=".809" stop-color="#453581"/><stop offset="1.000" stop-color="#482071"/></linearGradient><linearGradient id="gd156"><stop offset=".000" stop-color="#482576"/><stop offset=".026" stop-color="#46327e"/><stop offset=".058" stop-color="#3e4a89"/><stop offset=".086" stop-color="#32648e"/><stop offset=".106" stop-color="#2a788e"/><stop offset=".127" stop-color="#218e8d"/><stop offset=".147" stop-color="#20a386"/><stop offset=".167" stop-color="#32b67a"/><stop offset=".187" stop-color="#4cc26c"/><stop offset=".207" stop-color="#60ca60"/><stop offset=".227" stop-color="#69cd5b"/><stop offset=".259" stop-color="#5ec962"/><stop offset=".291" stop-color="#42be71"/><stop offset=".331" stop-color="#24aa83"/><stop offset=".379" stop-color="#20938c"/><stop offset=".436" stop-color="#26828e"/><stop offset=".508" stop-color="#2c718e"/><stop offset=".588" stop-color="#34608d"/><stop offset=".689" stop-color="#3e4a89"/><stop offset=".809" stop-color="#453581"/><stop offset="1.000" stop-color="#482071"/></linearGradient><linearGradient id="gd157"><stop offset=".000" stop-color="#482576"/><stop offset=".026" stop-color="#46327e"/><stop offset=".058" stop-color="#3e4989"/><stop offset=".086" stop-color="#33638d"/><stop offset=".106" stop-color="#2a778e"/><stop offset=".127" stop-color="#228c8d"/><stop offset=".147" stop-color="#1fa188"/><stop offset=".167" stop-color="#2eb37c"/><stop offset=".187" stop-color="#46c06f"/><stop offset=".207" stop-color="#5ac864"/><stop offset=".227" stop-color="#60ca60"/><stop offset=".259" stop-color="#56c667"/><stop offset=".291" stop-color="#3dbc74"/><stop offset=".331" stop-color="#22a884"/><stop offset=".379" stop-color="#20928c"/><stop offset=".436" stop-color="#26818e"/><stop offset=".508" stop-color="#2d718e"/><stop offset=".588" stop-color="#355f8d"/><stop offset=".689" stop-color="#3e4a89"/><stop offset=".809" stop-color="#453581"/><stop offset="1.000" stop-color="#482071"/></linearGradient><linearGradient id="gd158"><stop offset=".000" stop-color="#482475"/><stop offset=".026" stop-color="#46307e"/><stop offset=".058" stop-color="#3f4889"/><stop offset=".086" stop-color="#34618d"/><stop offset=".106" stop-color="#2b758e"/><stop offset=".127" stop-color="#23898e"/><stop offset=".147" stop-color="#1f9e89"/><stop offset=".167" stop-color="#29af7f"/><stop offset=".187" stop-color="#3fbc73"/><stop offset=".207" stop-color="#52c569"/><stop offset=".227" stop-color="#58c765"/><stop offset=".259" stop-color="#4ec36b"/><stop offset=".291" stop-color="#37b878"/><stop offset=".331" stop-color="#21a585"/><stop offset=".379" stop-color="#21918c"/><stop offset=".436" stop-color="#27808e"/><stop offset=".508" stop-color="#2d708e"/><stop offset=".588" stop-color="#355f8d"/><stop offset=".689" stop-color="#3e4989"/><stop offset=".809" stop-color="#463480"/><stop offset="1.000" stop-color="#482071"/></linearGradient><linearGradient id="gd159"><stop offset=".000" stop-color="#482475"/><stop offset=".026" stop-color="#46307e"/><stop offset=".058" stop-color="#3f4788"/><stop offset=".086" stop-color="#34608d"/><stop offset=".106" stop-color="#2c728e"/><stop offset=".127" stop-color="#24878e"/><stop offset=".147" stop-color="#1e9b8a"/><stop offset=".167" stop-color="#26ad81"/><stop offset=".187" stop-color="#38b977"/><stop offset=".207" stop-color="#48c16e"/><stop offset=".227" stop-color="#50c46a"/><stop offset=".259" stop-color="#46c06f"/><stop offset=".291" stop-color="#31b57b"/><stop offset=".331" stop-color="#1fa287"/><stop offset=".379" stop-color="#218e8d"/><stop offset=".436" stop-color="#277e8e"/><stop offset=".508" stop-color="#2e6e8e"/><stop offset=".588" stop-color="#355e8d"/><stop offset=".689" stop-color="#3e4989"/><stop offset=".809" stop-color="#463480"/><stop offset="1.000" stop-color="#482071"/></linearGradient><linearGradient id="gd160"><stop offset=".000" stop-color="#482475"/><stop offset=".026" stop-color="#472f7d"/><stop offset=".058" stop-color="#404588"/><stop offset=".086" stop-color="#355e8d"/><stop offset=".106" stop-color="#2d718e"/><stop offset=".127" stop-color="#25848e"/><stop offset=".147" stop-color="#1f978b"/><stop offset=".167" stop-color="#22a884"/><stop offset=".187" stop-color="#31b57b"/><stop offset=".207" stop-color="#3fbc73"/><stop offset=".227" stop-color="#46c06f"/><stop offset=".259" stop-color="#3dbc74"/><stop offset=".291" stop-color="#2cb17e"/><stop offset=".331" stop-color="#1fa088"/><stop offset=".379" stop-color="#228c8d"/><stop offset=".436" stop-color="#287c8e"/><stop offset=".508" stop-color="#2e6d8e"/><stop offset=".588" stop-color="#365c8d"/><stop offset=".689" stop-color="#3f4889"/><stop offset=".809" stop-color="#463480"/><stop offset="1.000" stop-color="#482071"/></linearGradient><linearGradient id="gd161"><stop offset=".000" stop-color="#482374"/><stop offset=".026" stop-color="#472f7d"/><stop offset=".058" stop-color="#414487"/><stop offset=".086" stop-color="#365c8d"/><stop offset=".106" stop-color="#2e6e8e"/><stop offset=".127" stop-color="#26818e"/><stop offset=".147" stop-color="#20938c"/><stop offset=".167" stop-color="#20a486"/><stop offset=".187" stop-color="#2ab07f"/><stop offset=".207" stop-color="#37b878"/><stop offset=".227" stop-color="#3bbb75"/><stop offset=".259" stop-color="#35b779"/><stop offset=".291" stop-color="#26ad81"/><stop offset=".331" stop-color="#1e9c89"/><stop offset=".379" stop-color="#23898e"/><stop offset=".436" stop-color="#297a8e"/><stop offset=".508" stop-color="#2f6b8e"/><stop offset=".588" stop-color="#375b8d"/><stop offset=".689" stop-color="#3f4788"/><stop offset=".809" stop-color="#46337f"/><stop offset="1.000" stop-color="#482071"/></linearGradient><linearGradient id="gd162"><stop offset=".000" stop-color="#482374"/><stop offset=".026" stop-color="#472e7c"/><stop offset=".058" stop-color="#414287"/><stop offset=".086" stop-color="#375a8c"/><stop offset=".106" stop-color="#2f6c8e"/><stop offset=".127" stop-color="#277e8e"/><stop offset=".147" stop-color="#21908d"/><stop offset=".167" stop-color="#1fa088"/><stop offset=".187" stop-color="#25ac82"/><stop offset=".207" stop-color="#2eb37c"/><stop offset=".227" stop-color="#32b67a"/><stop offset=".259" stop-color="#2db27d"/><stop offset=".291" stop-color="#23a983"/><stop offset=".331" stop-color="#1f988b"/><stop offset=".379" stop-color="#24868e"/><stop offset=".436" stop-color="#2a788e"/><stop offset=".508" stop-color="#306a8e"/><stop offset=".588" stop-color="#375a8c"/><stop offset=".689" stop-color="#404688"/><stop offset=".809" stop-color="#46337f"/><stop offset="1.000" stop-color="#481f70"/></linearGradient><linearGradient id="gd163"><stop offset=".000" stop-color="#482374"/><stop offset=".026" stop-color="#472d7b"/><stop offset=".058" stop-color="#424086"/><stop offset=".086" stop-color="#38588c"/><stop offset=".106" stop-color="#30698e"/><stop offset=".127" stop-color="#297a8e"/><stop offset=".147" stop-color="#228b8d"/><stop offset=".167" stop-color="#1e9b8a"/><stop offset=".187" stop-color="#21a685"/><stop offset=".207" stop-color="#27ad81"/><stop offset=".227" stop-color="#2ab07f"/><stop offset=".259" stop-color="#27ad81"/><stop offset=".291" stop-color="#20a386"/><stop offset=".331" stop-color="#1f948c"/><stop offset=".379" stop-color="#25838e"/><stop offset=".436" stop-color="#2a768e"/><stop offset=".508" stop-color="#31688e"/><stop offset=".588" stop-color="#38588c"/><stop offset=".689" stop-color="#404588"/><stop offset=".809" stop-color="#46327e"/><stop offset="1.000" stop-color="#481f70"/></linearGradient><linearGradient id="gd164"><stop offset=".000" stop-color="#482173"/><stop offset=".026" stop-color="#472c7a"/><stop offset=".058" stop-color="#423f85"/><stop offset=".086" stop-color="#3a548c"/><stop offset=".106" stop-color="#31668e"/><stop offset=".127" stop-color="#2a768e"/><stop offset=".147" stop-color="#24878e"/><stop offset=".167" stop-color="#1f968b"/><stop offset=".187" stop-color="#1fa187"/><stop offset=".207" stop-color="#22a884"/><stop offset=".227" stop-color="#25ab82"/><stop offset=".259" stop-color="#22a785"/><stop offset=".291" stop-color="#1f9f88"/><stop offset=".331" stop-color="#21918c"/><stop offset=".379" stop-color="#26818e"/><stop offset=".436" stop-color="#2c738e"/><stop offset=".508" stop-color="#31668e"/><stop offset=".588" stop-color="#39568c"/><stop offset=".689" stop-color="#414487"/><stop offset=".809" stop-color="#46307e"/><stop offset="1.000" stop-color="#481f70"/></linearGradient><linearGradient id="gd165"><stop offset=".000" stop-color="#482173"/><stop offset=".026" stop-color="#472c7a"/><stop offset=".058" stop-color="#433e85"/><stop offset=".086" stop-color="#3b528b"/><stop offset=".106" stop-color="#33638d"/><stop offset=".127" stop-color="#2c738e"/><stop offset=".147" stop-color="#26828e"/><stop offset=".167" stop-color="#21918c"/><stop offset=".187" stop-color="#1e9c89"/><stop offset=".207" stop-color="#1fa287"/><stop offset=".227" stop-color="#21a585"/><stop offset=".259" stop-color="#1fa187"/><stop offset=".291" stop-color="#1f9a8a"/><stop offset=".331" stop-color="#228d8d"/><stop offset=".379" stop-color="#277e8e"/><stop offset=".436" stop-color="#2c718e"/><stop offset=".508" stop-color="#32648e"/><stop offset=".588" stop-color="#3a548c"/><stop offset=".689" stop-color="#414287"/><stop offset=".809" stop-color="#46307e"/><stop offset="1.000" stop-color="#481f70"/></linearGradient><linearGradient id="gd166"><stop offset=".000" stop-color="#482071"/><stop offset=".026" stop-color="#472a7a"/><stop offset=".058" stop-color="#443b84"/><stop offset=".086" stop-color="#3c508b"/><stop offset=".106" stop-color="#34608d"/><stop offset=".127" stop-color="#2d708e"/><stop offset=".147" stop-color="#277f8e"/><stop offset=".167" stop-color="#228c8d"/><stop offset=".187" stop-color="#1f968b"/><stop offset=".207" stop-color="#1e9d89"/><stop offset=".227" stop-color="#1f9f88"/><stop offset=".259" stop-color="#1e9c89"/><stop offset=".291" stop-color="#1f948c"/><stop offset=".331" stop-color="#23888e"/><stop offset=".379" stop-color="#297b8e"/><stop offset=".436" stop-color="#2e6f8e"/><stop offset=".508" stop-color="#33628d"/><stop offset=".588" stop-color="#3a538b"/><stop offset=".689" stop-color="#424186"/><stop offset=".809" stop-color="#472f7d"/><stop offset="1.000" stop-color="#481f70"/></linearGradient><linearGradient id="gd167"><stop offset=".000" stop-color="#482071"/><stop offset=".026" stop-color="#482979"/><stop offset=".058" stop-color="#443a83"/><stop offset=".086" stop-color="#3d4e8a"/><stop offset=".106" stop-color="#365d8d"/><stop offset=".127" stop-color="#2f6c8e"/><stop offset=".147" stop-color="#297a8e"/><stop offset=".167" stop-color="#24878e"/><stop offset=".187" stop-color="#21918c"/><stop offset=".207" stop-color="#1f968b"/><stop offset=".227" stop-color="#1f998a"/><stop offset=".259" stop-color="#1f968b"/><stop offset=".291" stop-color="#21908d"/><stop offset=".331" stop-color="#25848e"/><stop offset=".379" stop-color="#2a778e"/><stop offset=".436" stop-color="#2e6d8e"/><stop offset=".508" stop-color="#34608d"/><stop offset=".588" stop-color="#3b518b"/><stop offset=".689" stop-color="#424086"/><stop offset=".809" stop-color="#472f7d"/><stop offset="1.000" stop-color="#481d6f"/></linearGradient><linearGradient id="gd168"><stop offset=".000" stop-color="#482071"/><stop offset=".026" stop-color="#482878"/><stop offset=".058" stop-color="#453882"/><stop offset=".086" stop-color="#3e4a89"/><stop offset=".106" stop-color="#375a8c"/><stop offset=".127" stop-color="#31688e"/><stop offset=".147" stop-color="#2a768e"/><stop offset=".167" stop-color="#26828e"/><stop offset=".187" stop-color="#228b8d"/><stop offset=".207" stop-color="#21918c"/><stop offset=".227" stop-color="#20928c"/><stop offset=".259" stop-color="#21918c"/><stop offset=".291" stop-color="#238a8d"/><stop offset=".331" stop-color="#27808e"/><stop offset=".379" stop-color="#2b748e"/><stop offset=".436" stop-color="#306a8e"/><stop offset=".508" stop-color="#355e8d"/><stop offset=".588" stop-color="#3c4f8a"/><stop offset=".689" stop-color="#423f85"/><stop offset=".809" stop-color="#472e7c"/><stop offset="1.000" stop-color="#481d6f"/></linearGradient><linearGradient id="gd169"><stop offset=".000" stop-color="#481f70"/><stop offset=".026" stop-color="#482878"/><stop offset=".058" stop-color="#453781"/><stop offset=".086" stop-color="#3f4889"/><stop offset=".106" stop-color="#39568c"/><stop offset=".127" stop-color="#32658e"/><stop offset=".147" stop-color="#2c718e"/><stop offset=".167" stop-color="#287d8e"/><stop offset=".187" stop-color="#25858e"/><stop offset=".207" stop-color="#228b8d"/><stop offset=".227" stop-color="#228d8d"/><stop offset=".259" stop-color="#228b8d"/><stop offset=".291" stop-color="#25858e"/><stop offset=".331" stop-color="#287c8e"/><stop offset=".379" stop-color="#2c718e"/><stop offset=".436" stop-color="#31678e"/><stop offset=".508" stop-color="#375b8d"/><stop offset=".588" stop-color="#3d4e8a"/><stop offset=".689" stop-color="#433d84"/><stop offset=".809" stop-color="#472d7b"/><stop offset="1.000" stop-color="#481d6f"/></linearGradient><linearGradient id="gd170"><stop offset=".000" stop-color="#481f70"/><stop offset=".026" stop-color="#482677"/><stop offset=".058" stop-color="#453581"/><stop offset=".086" stop-color="#404688"/><stop offset=".106" stop-color="#3a538b"/><stop offset=".127" stop-color="#34618d"/><stop offset=".147" stop-color="#2e6e8e"/><stop offset=".167" stop-color="#2a788e"/><stop offset=".187" stop-color="#26818e"/><stop offset=".207" stop-color="#25858e"/><stop offset=".227" stop-color="#24878e"/><stop offset=".259" stop-color="#25858e"/><stop offset=".291" stop-color="#27808e"/><stop offset=".331" stop-color="#2a788e"/><stop offset=".379" stop-color="#2e6e8e"/><stop offset=".436" stop-color="#32648e"/><stop offset=".508" stop-color="#38598c"/><stop offset=".588" stop-color="#3e4c8a"/><stop offset=".689" stop-color="#443b84"/><stop offset=".809" stop-color="#472c7a"/><stop offset="1.000" stop-color="#481c6e"/></linearGradient><linearGradient id="gd171"><stop offset=".000" stop-color="#481d6f"/><stop offset=".026" stop-color="#482576"/><stop offset=".058" stop-color="#46337f"/><stop offset=".086" stop-color="#414487"/><stop offset=".106" stop-color="#3c508b"/><stop offset=".127" stop-color="#355e8d"/><stop offset=".147" stop-color="#306a8e"/><stop offset=".167" stop-color="#2c738e"/><stop offset=".187" stop-color="#297b8e"/><stop offset=".207" stop-color="#27808e"/><stop offset=".227" stop-color="#26828e"/><stop offset=".259" stop-color="#27808e"/><stop offset=".291" stop-color="#297b8e"/><stop offset=".331" stop-color="#2c738e"/><stop offset=".379" stop-color="#2f6b8e"/><stop offset=".436" stop-color="#33628d"/><stop offset=".508" stop-color="#39568c"/><stop offset=".588" stop-color="#3e4989"/><stop offset=".689" stop-color="#443a83"/><stop offset=".809" stop-color="#472c7a"/><stop offset="1.000" stop-color="#481c6e"/></linearGradient><linearGradient id="gd172"><stop offset=".000" stop-color="#481d6f"/><stop offset=".026" stop-color="#482576"/><stop offset=".058" stop-color="#46327e"/><stop offset=".086" stop-color="#424186"/><stop offset=".106" stop-color="#3d4e8a"/><stop offset=".127" stop-color="#375a8c"/><stop offset=".147" stop-color="#32658e"/><stop offset=".167" stop-color="#2e6f8e"/><stop offset=".187" stop-color="#2a768e"/><stop offset=".207" stop-color="#297b8e"/><stop offset=".227" stop-color="#287c8e"/><stop offset=".259" stop-color="#297b8e"/><stop offset=".291" stop-color="#2a768e"/><stop offset=".331" stop-color="#2d708e"/><stop offset=".379" stop-color="#31678e"/><stop offset=".436" stop-color="#355f8d"/><stop offset=".508" stop-color="#3a548c"/><stop offset=".588" stop-color="#3f4788"/><stop offset=".689" stop-color="#443983"/><stop offset=".809" stop-color="#472a7a"/><stop offset="1.000" stop-color="#481c6e"/></linearGradient><linearGradient id="gd173"><stop offset=".000" stop-color="#481d6f"/><stop offset=".026" stop-color="#482475"/><stop offset=".058" stop-color="#46307e"/><stop offset=".086" stop-color="#423f85"/><stop offset=".106" stop-color="#3e4a89"/><stop offset=".127" stop-color="#39568c"/><stop offset=".147" stop-color="#34618d"/><stop offset=".167" stop-color="#2f6b8e"/><stop offset=".187" stop-color="#2c718e"/><stop offset=".207" stop-color="#2b758e"/><stop offset=".227" stop-color="#2a778e"/><stop offset=".259" stop-color="#2b758e"/><stop offset=".291" stop-color="#2c718e"/><stop offset=".331" stop-color="#2f6c8e"/><stop offset=".379" stop-color="#32648e"/><stop offset=".436" stop-color="#365c8d"/><stop offset=".508" stop-color="#3b518b"/><stop offset=".588" stop-color="#404588"/><stop offset=".689" stop-color="#453781"/><stop offset=".809" stop-color="#482979"/><stop offset="1.000" stop-color="#481c6e"/></linearGradient><linearGradient id="gd174"><stop offset=".000" stop-color="#481c6e"/><stop offset=".026" stop-color="#482374"/><stop offset=".058" stop-color="#472f7d"/><stop offset=".086" stop-color="#433d84"/><stop offset=".106" stop-color="#3f4889"/><stop offset=".127" stop-color="#3a538b"/><stop offset=".147" stop-color="#355e8d"/><stop offset=".167" stop-color="#31668e"/><stop offset=".187" stop-color="#2e6d8e"/><stop offset=".207" stop-color="#2d718e"/><stop offset=".227" stop-color="#2c718e"/><stop offset=".259" stop-color="#2d718e"/><stop offset=".291" stop-color="#2e6e8e"/><stop offset=".331" stop-color="#31688e"/><stop offset=".379" stop-color="#34618d"/><stop offset=".436" stop-color="#38598c"/><stop offset=".508" stop-color="#3c4f8a"/><stop offset=".588" stop-color="#414487"/><stop offset=".689" stop-color="#453581"/><stop offset=".809" stop-color="#482878"/><stop offset="1.000" stop-color="#481b6d"/></linearGradient><linearGradient id="gd175"><stop offset=".000" stop-color="#481b6d"/><stop offset=".026" stop-color="#482173"/><stop offset=".058" stop-color="#472d7b"/><stop offset=".086" stop-color="#443a83"/><stop offset=".106" stop-color="#404588"/><stop offset=".127" stop-color="#3c4f8a"/><stop offset=".147" stop-color="#375a8c"/><stop offset=".167" stop-color="#33628d"/><stop offset=".187" stop-color="#31688e"/><stop offset=".207" stop-color="#2f6c8e"/><stop offset=".227" stop-color="#2e6d8e"/><stop offset=".259" stop-color="#2f6c8e"/><stop offset=".291" stop-color="#30698e"/><stop offset=".331" stop-color="#32648e"/><stop offset=".379" stop-color="#365d8d"/><stop offset=".436" stop-color="#39558c"/><stop offset=".508" stop-color="#3e4c8a"/><stop offset=".588" stop-color="#424086"/><stop offset=".689" stop-color="#46337f"/><stop offset=".809" stop-color="#482677"/><stop offset="1.000" stop-color="#481b6d"/></linearGradient><linearGradient id="gd176"><stop offset=".000" stop-color="#481b6d"/><stop offset=".026" stop-color="#482071"/><stop offset=".058" stop-color="#472a7a"/><stop offset=".086" stop-color="#453882"/><stop offset=".106" stop-color="#424186"/><stop offset=".127" stop-color="#3e4c8a"/><stop offset=".147" stop-color="#39558c"/><stop offset=".167" stop-color="#365d8d"/><stop offset=".187" stop-color="#33638d"/><stop offset=".207" stop-color="#31678e"/><stop offset=".227" stop-color="#31688e"/><stop offset=".259" stop-color="#31678e"/><stop offset=".291" stop-color="#32648e"/><stop offset=".331" stop-color="#355f8d"/><stop offset=".379" stop-color="#375a8c"/><stop offset=".436" stop-color="#3b528b"/><stop offset=".508" stop-color="#3f4889"/><stop offset=".588" stop-color="#433e85"/><stop offset=".689" stop-color="#46327e"/><stop offset=".809" stop-color="#482576"/><stop offset="1.000" stop-color="#481a6c"/></linearGradient><linearGradient id="gd177"><stop offset=".000" stop-color="#481a6c"/><stop offset=".026" stop-color="#481f70"/><stop offset=".058" stop-color="#482979"/><stop offset=".086" stop-color="#453581"/><stop offset=".106" stop-color="#433e85"/><stop offset=".127" stop-color="#3f4889"/><stop offset=".147" stop-color="#3b518b"/><stop offset=".167" stop-color="#38598c"/><stop offset=".187" stop-color="#355f8d"/><stop offset=".207" stop-color="#33628d"/><stop offset=".227" stop-color="#33638d"/><stop offset=".259" stop-color="#33628d"/><stop offset=".291" stop-color="#355f8d"/><stop offset=".331" stop-color="#375b8d"/><stop offset=".379" stop-color="#39558c"/><stop offset=".436" stop-color="#3c4f8a"/><stop offset=".508" stop-color="#404688"/><stop offset=".588" stop-color="#443b84"/><stop offset=".689" stop-color="#472f7d"/><stop offset=".809" stop-color="#482475"/><stop offset="1.000" stop-color="#48186a"/></linearGradient><linearGradient id="gd178"><stop offset=".000" stop-color="#48186a"/><stop offset=".026" stop-color="#481d6f"/><stop offset=".058" stop-color="#482878"/><stop offset=".086" stop-color="#46337f"/><stop offset=".106" stop-color="#443b84"/><stop offset=".127" stop-color="#404588"/><stop offset=".147" stop-color="#3d4e8a"/><stop offset=".167" stop-color="#3a548c"/><stop offset=".187" stop-color="#375a8c"/><stop offset=".207" stop-color="#365d8d"/><stop offset=".227" stop-color="#355e8d"/><stop offset=".259" stop-color="#365d8d"/><stop offset=".291" stop-color="#375b8d"/><stop offset=".331" stop-color="#39568c"/><stop offset=".379" stop-color="#3b528b"/><stop offset=".436" stop-color="#3e4c8a"/><stop offset=".508" stop-color="#414287"/><stop offset=".588" stop-color="#443983"/><stop offset=".689" stop-color="#472d7b"/><stop offset=".809" stop-color="#482374"/><stop offset="1.000" stop-color="#481769"/></linearGradient><linearGradient id="gd179"><stop offset=".000" stop-color="#48186a"/><stop offset=".026" stop-color="#481c6e"/><stop offset=".058" stop-color="#482576"/><stop offset=".086" stop-color="#46307e"/><stop offset=".106" stop-color="#443983"/><stop offset=".127" stop-color="#424186"/><stop offset=".147" stop-color="#3e4989"/><stop offset=".167" stop-color="#3c508b"/><stop offset=".187" stop-color="#39558c"/><stop offset=".207" stop-color="#38598c"/><stop offset=".227" stop-color="#375a8c"/><stop offset=".259" stop-color="#38598c"/><stop offset=".291" stop-color="#39568c"/><stop offset=".331" stop-color="#3a538b"/><stop offset=".379" stop-color="#3d4e8a"/><stop offset=".436" stop-color="#3f4889"/><stop offset=".508" stop-color="#424086"/><stop offset=".588" stop-color="#453781"/><stop offset=".689" stop-color="#472c7a"/><stop offset=".809" stop-color="#482071"/><stop offset="1.000" stop-color="#481769"/></linearGradient><linearGradient id="gd180"><stop offset=".000" stop-color="#481769"/><stop offset=".026" stop-color="#481b6d"/><stop offset=".058" stop-color="#482475"/><stop offset=".086" stop-color="#472e7c"/><stop offset=".106" stop-color="#453581"/><stop offset=".127" stop-color="#433e85"/><stop offset=".147" stop-color="#404688"/><stop offset=".167" stop-color="#3d4d8a"/><stop offset=".187" stop-color="#3b518b"/><stop offset=".207" stop-color="#3a548c"/><stop offset=".227" stop-color="#39558c"/><stop offset=".259" stop-color="#3a548c"/><stop offset=".291" stop-color="#3b528b"/><stop offset=".331" stop-color="#3c4f8a"/><stop offset=".379" stop-color="#3e4a89"/><stop offset=".436" stop-color="#404588"/><stop offset=".508" stop-color="#433d84"/><stop offset=".588" stop-color="#463480"/><stop offset=".689" stop-color="#482979"/><stop offset=".809" stop-color="#481f70"/><stop offset="1.000" stop-color="#481668"/></linearGradient><linearGradient id="gd181"><stop offset=".000" stop-color="#481668"/><stop offset=".026" stop-color="#481a6c"/><stop offset=".058" stop-color="#482374"/><stop offset=".086" stop-color="#472c7a"/><stop offset=".106" stop-color="#46337f"/><stop offset=".127" stop-color="#443b84"/><stop offset=".147" stop-color="#414287"/><stop offset=".167" stop-color="#3f4889"/><stop offset=".187" stop-color="#3d4d8a"/><stop offset=".207" stop-color="#3c508b"/><stop offset=".227" stop-color="#3c508b"/><stop offset=".259" stop-color="#3c508b"/><stop offset=".291" stop-color="#3d4e8a"/><stop offset=".331" stop-color="#3e4c8a"/><stop offset=".379" stop-color="#3f4788"/><stop offset=".436" stop-color="#424186"/><stop offset=".508" stop-color="#443a83"/><stop offset=".588" stop-color="#46307e"/><stop offset=".689" stop-color="#482677"/><stop offset=".809" stop-color="#481d6f"/><stop offset="1.000" stop-color="#481467"/></linearGradient><linearGradient id="gd182"><stop offset=".000" stop-color="#481467"/><stop offset=".026" stop-color="#481a6c"/><stop offset=".058" stop-color="#482071"/><stop offset=".086" stop-color="#482979"/><stop offset=".106" stop-color="#46307e"/><stop offset=".127" stop-color="#453882"/><stop offset=".147" stop-color="#423f85"/><stop offset=".167" stop-color="#404588"/><stop offset=".187" stop-color="#3e4989"/><stop offset=".207" stop-color="#3e4c8a"/><stop offset=".227" stop-color="#3d4d8a"/><stop offset=".259" stop-color="#3e4c8a"/><stop offset=".291" stop-color="#3e4a89"/><stop offset=".331" stop-color="#3f4788"/><stop offset=".379" stop-color="#414487"/><stop offset=".436" stop-color="#433e85"/><stop offset=".508" stop-color="#453781"/><stop offset=".588" stop-color="#472e7c"/><stop offset=".689" stop-color="#482576"/><stop offset=".809" stop-color="#481c6e"/><stop offset="1.000" stop-color="#481467"/></linearGradient><linearGradient id="gd183"><stop offset=".000" stop-color="#481467"/><stop offset=".026" stop-color="#48186a"/><stop offset=".058" stop-color="#481f70"/><stop offset=".086" stop-color="#482878"/><stop offset=".106" stop-color="#472e7c"/><stop offset=".127" stop-color="#453581"/><stop offset=".147" stop-color="#443b84"/><stop offset=".167" stop-color="#424186"/><stop offset=".187" stop-color="#404588"/><stop offset=".207" stop-color="#3f4788"/><stop offset=".227" stop-color="#3f4889"/><stop offset=".259" stop-color="#3f4788"/><stop offset=".291" stop-color="#404688"/><stop offset=".331" stop-color="#414487"/><stop offset=".379" stop-color="#424086"/><stop offset=".436" stop-color="#443b84"/><stop offset=".508" stop-color="#463480"/><stop offset=".588" stop-color="#472d7b"/><stop offset=".689" stop-color="#482374"/><stop offset=".809" stop-color="#481b6d"/><stop offset="1.000" stop-color="#471365"/></linearGradient><linearGradient id="gd184"><stop offset=".000" stop-color="#471365"/><stop offset=".026" stop-color="#481769"/><stop offset=".058" stop-color="#481d6f"/><stop offset=".086" stop-color="#482576"/><stop offset=".106" stop-color="#472c7a"/><stop offset=".127" stop-color="#46337f"/><stop offset=".147" stop-color="#443983"/><stop offset=".167" stop-color="#433e85"/><stop offset=".187" stop-color="#424186"/><stop offset=".207" stop-color="#414487"/><stop offset=".227" stop-color="#404588"/><stop offset=".259" stop-color="#414487"/><stop offset=".291" stop-color="#414287"/><stop offset=".331" stop-color="#424086"/><stop offset=".379" stop-color="#433d84"/><stop offset=".436" stop-color="#453882"/><stop offset=".508" stop-color="#46327e"/><stop offset=".588" stop-color="#472a7a"/><stop offset=".689" stop-color="#482173"/><stop offset=".809" stop-color="#481a6c"/><stop offset="1.000" stop-color="#471164"/></linearGradient><linearGradient id="gd185"><stop offset=".000" stop-color="#471164"/><stop offset=".026" stop-color="#481668"/><stop offset=".058" stop-color="#481c6e"/><stop offset=".086" stop-color="#482475"/><stop offset=".106" stop-color="#482979"/><stop offset=".127" stop-color="#472f7d"/><stop offset=".147" stop-color="#453581"/><stop offset=".167" stop-color="#443a83"/><stop offset=".187" stop-color="#433e85"/><stop offset=".207" stop-color="#424086"/><stop offset=".227" stop-color="#424086"/><stop offset=".259" stop-color="#424086"/><stop offset=".291" stop-color="#423f85"/><stop offset=".331" stop-color="#433d84"/><stop offset=".379" stop-color="#443983"/><stop offset=".436" stop-color="#453581"/><stop offset=".508" stop-color="#472f7d"/><stop offset=".588" stop-color="#482878"/><stop offset=".689" stop-color="#482071"/><stop offset=".809" stop-color="#48186a"/><stop offset="1.000" stop-color="#471164"/></linearGradient><linearGradient id="gd186"><stop offset=".000" stop-color="#471164"/><stop offset=".026" stop-color="#481467"/><stop offset=".058" stop-color="#481b6d"/><stop offset=".086" stop-color="#482173"/><stop offset=".106" stop-color="#482878"/><stop offset=".127" stop-color="#472d7b"/><stop offset=".147" stop-color="#46337f"/><stop offset=".167" stop-color="#453781"/><stop offset=".187" stop-color="#443a83"/><stop offset=".207" stop-color="#433d84"/><stop offset=".227" stop-color="#433d84"/><stop offset=".259" stop-color="#433d84"/><stop offset=".291" stop-color="#443b84"/><stop offset=".331" stop-color="#443983"/><stop offset=".379" stop-color="#453781"/><stop offset=".436" stop-color="#46327e"/><stop offset=".508" stop-color="#472c7a"/><stop offset=".588" stop-color="#482576"/><stop offset=".689" stop-color="#481d6f"/><stop offset=".809" stop-color="#481769"/><stop offset="1.000" stop-color="#471063"/></linearGradient><linearGradient id="gd187"><stop offset=".000" stop-color="#471063"/><stop offset=".026" stop-color="#481467"/><stop offset=".058" stop-color="#481a6c"/><stop offset=".086" stop-color="#482071"/><stop offset=".106" stop-color="#482576"/><stop offset=".127" stop-color="#472a7a"/><stop offset=".147" stop-color="#472f7d"/><stop offset=".167" stop-color="#463480"/><stop offset=".187" stop-color="#453781"/><stop offset=".207" stop-color="#443983"/><stop offset=".227" stop-color="#443983"/><stop offset=".259" stop-color="#443983"/><stop offset=".291" stop-color="#453882"/><stop offset=".331" stop-color="#453581"/><stop offset=".379" stop-color="#46337f"/><stop offset=".436" stop-color="#472f7d"/><stop offset=".508" stop-color="#482979"/><stop offset=".588" stop-color="#482374"/><stop offset=".689" stop-color="#481c6e"/><stop offset=".809" stop-color="#481668"/><stop offset="1.000" stop-color="#471063"/></linearGradient><linearGradient id="gd188"><stop offset=".000" stop-color="#471063"/><stop offset=".026" stop-color="#471365"/><stop offset=".058" stop-color="#48186a"/><stop offset=".086" stop-color="#481d6f"/><stop offset=".106" stop-color="#482374"/><stop offset=".127" stop-color="#482878"/><stop offset=".147" stop-color="#472d7b"/><stop offset=".167" stop-color="#46307e"/><stop offset=".187" stop-color="#463480"/><stop offset=".207" stop-color="#453581"/><stop offset=".227" stop-color="#453581"/><stop offset=".259" stop-color="#453581"/><stop offset=".291" stop-color="#463480"/><stop offset=".331" stop-color="#46337f"/><stop offset=".379" stop-color="#46307e"/><stop offset=".436" stop-color="#472d7b"/><stop offset=".508" stop-color="#482677"/><stop offset=".588" stop-color="#482173"/><stop offset=".689" stop-color="#481b6d"/><stop offset=".809" stop-color="#481467"/><stop offset="1.000" stop-color="#470e61"/></linearGradient><linearGradient id="gd189"><stop offset=".000" stop-color="#470e61"/><stop offset=".026" stop-color="#471164"/><stop offset=".058" stop-color="#481769"/><stop offset=".086" stop-color="#481c6e"/><stop offset=".106" stop-color="#482173"/><stop offset=".127" stop-color="#482677"/><stop offset=".147" stop-color="#472a7a"/><stop offset=".167" stop-color="#472e7c"/><stop offset=".187" stop-color="#46307e"/><stop offset=".207" stop-color="#46327e"/><stop offset=".227" stop-color="#46337f"/><stop offset=".259" stop-color="#46327e"/><stop offset=".291" stop-color="#46327e"/><stop offset=".331" stop-color="#472f7d"/><stop offset=".379" stop-color="#472d7b"/><stop offset=".436" stop-color="#482979"/><stop offset=".508" stop-color="#482576"/><stop offset=".588" stop-color="#481f70"/><stop offset=".689" stop-color="#48186a"/><stop offset=".809" stop-color="#471365"/><stop offset="1.000" stop-color="#470d60"/></linearGradient><linearGradient id="gd190"><stop offset=".000" stop-color="#470d60"/><stop offset=".026" stop-color="#471063"/><stop offset=".058" stop-color="#481668"/><stop offset=".086" stop-color="#481b6d"/><stop offset=".106" stop-color="#481f70"/><stop offset=".127" stop-color="#482475"/><stop offset=".147" stop-color="#482878"/><stop offset=".167" stop-color="#472c7a"/><stop offset=".187" stop-color="#472e7c"/><stop offset=".207" stop-color="#472f7d"/><stop offset=".227" stop-color="#472f7d"/><stop offset=".259" stop-color="#472f7d"/><stop offset=".291" stop-color="#472e7c"/><stop offset=".331" stop-color="#472d7b"/><stop offset=".379" stop-color="#472a7a"/><stop offset=".436" stop-color="#482677"/><stop offset=".508" stop-color="#482374"/><stop offset=".588" stop-color="#481d6f"/><stop offset=".689" stop-color="#481769"/><stop offset=".809" stop-color="#471164"/><stop offset="1.000" stop-color="#470d60"/></linearGradient><linearGradient id="gd191"><stop offset=".000" stop-color="#470d60"/><stop offset=".026" stop-color="#471063"/><stop offset=".058" stop-color="#481467"/><stop offset=".086" stop-color="#481a6c"/><stop offset=".106" stop-color="#481d6f"/><stop offset=".127" stop-color="#482173"/><stop offset=".147" stop-color="#482576"/><stop offset=".167" stop-color="#482979"/><stop offset=".187" stop-color="#472c7a"/><stop offset=".207" stop-color="#472d7b"/><stop offset=".227" stop-color="#472d7b"/><stop offset=".259" stop-color="#472d7b"/><stop offset=".291" stop-color="#472c7a"/><stop offset=".331" stop-color="#472a7a"/><stop offset=".379" stop-color="#482878"/><stop offset=".436" stop-color="#482475"/><stop offset=".508" stop-color="#482071"/><stop offset=".588" stop-color="#481b6d"/><stop offset=".689" stop-color="#481668"/><stop offset=".809" stop-color="#471063"/><stop offset="1.000" stop-color="#460b5e"/></linearGradient><linearGradient id="gd192"><stop offset=".000" stop-color="#460b5e"/><stop offset=".026" stop-color="#470e61"/><stop offset=".058" stop-color="#471365"/><stop offset=".086" stop-color="#48186a"/><stop offset=".106" stop-color="#481c6e"/><stop offset=".127" stop-color="#482071"/><stop offset=".147" stop-color="#482374"/><stop offset=".167" stop-color="#482677"/><stop offset=".187" stop-color="#482878"/><stop offset=".207" stop-color="#482979"/><stop offset=".227" stop-color="#472a7a"/><stop offset=".259" stop-color="#482979"/><stop offset=".291" stop-color="#482979"/><stop offset=".331" stop-color="#482878"/><stop offset=".379" stop-color="#482576"/><stop offset=".436" stop-color="#482374"/><stop offset=".508" stop-color="#481d6f"/><stop offset=".588" stop-color="#481a6c"/><stop offset=".689" stop-color="#481467"/><stop offset=".809" stop-color="#470e61"/><stop offset="1.000" stop-color="#460b5e"/></linearGradient><linearGradient id="gd193"><stop offset=".000" stop-color="#460b5e"/><stop offset=".026" stop-color="#470d60"/><stop offset=".058" stop-color="#471164"/><stop offset=".086" stop-color="#481668"/><stop offset=".106" stop-color="#481a6c"/><stop offset=".127" stop-color="#481d6f"/><stop offset=".147" stop-color="#482173"/><stop offset=".167" stop-color="#482475"/><stop offset=".187" stop-color="#482576"/><stop offset=".207" stop-color="#482677"/><stop offset=".227" stop-color="#482677"/><stop offset=".259" stop-color="#482677"/><stop offset=".291" stop-color="#482677"/><stop offset=".331" stop-color="#482576"/><stop offset=".379" stop-color="#482374"/><stop offset=".436" stop-color="#482071"/><stop offset=".508" stop-color="#481c6e"/><stop offset=".588" stop-color="#481769"/><stop offset=".689" stop-color="#471365"/><stop offset=".809" stop-color="#470e61"/><stop offset="1.000" stop-color="#460a5d"/></linearGradient><linearGradient id="gd194"><stop offset=".000" stop-color="#460a5d"/><stop offset=".026" stop-color="#470d60"/><stop offset=".058" stop-color="#471063"/><stop offset=".086" stop-color="#481467"/><stop offset=".106" stop-color="#48186a"/><stop offset=".127" stop-color="#481c6e"/><stop offset=".147" stop-color="#481f70"/><stop offset=".167" stop-color="#482173"/><stop offset=".187" stop-color="#482374"/><stop offset=".207" stop-color="#482475"/><stop offset=".227" stop-color="#482475"/><stop offset=".259" stop-color="#482475"/><stop offset=".291" stop-color="#482475"/><stop offset=".331" stop-color="#482374"/><stop offset=".379" stop-color="#482071"/><stop offset=".436" stop-color="#481d6f"/><stop offset=".508" stop-color="#481a6c"/><stop offset=".588" stop-color="#481668"/><stop offset=".689" stop-color="#471164"/><stop offset=".809" stop-color="#470d60"/><stop offset="1.000" stop-color="#46085c"/></linearGradient><linearGradient id="gd195"><stop offset=".000" stop-color="#460a5d"/><stop offset=".026" stop-color="#460b5e"/><stop offset=".058" stop-color="#471063"/><stop offset=".086" stop-color="#481467"/><stop offset=".106" stop-color="#481769"/><stop offset=".127" stop-color="#481a6c"/><stop offset=".147" stop-color="#481d6f"/><stop offset=".167" stop-color="#482071"/><stop offset=".187" stop-color="#482173"/><stop offset=".207" stop-color="#482173"/><stop offset=".227" stop-color="#482374"/><stop offset=".259" stop-color="#482173"/><stop offset=".291" stop-color="#482173"/><stop offset=".331" stop-color="#482071"/><stop offset=".379" stop-color="#481f70"/><stop offset=".436" stop-color="#481c6e"/><stop offset=".508" stop-color="#48186a"/><stop offset=".588" stop-color="#481467"/><stop offset=".689" stop-color="#471063"/><stop offset=".809" stop-color="#460b5e"/><stop offset="1.000" stop-color="#46085c"/></linearGradient><linearGradient id="gd196"><stop offset=".000" stop-color="#460a5d"/><stop offset=".026" stop-color="#460b5e"/><stop offset=".058" stop-color="#470e61"/><stop offset=".086" stop-color="#471365"/><stop offset=".106" stop-color="#481668"/><stop offset=".127" stop-color="#481a6c"/><stop offset=".147" stop-color="#481c6e"/><stop offset=".167" stop-color="#481d6f"/><stop offset=".187" stop-color="#481f70"/><stop offset=".207" stop-color="#482071"/><stop offset=".227" stop-color="#482071"/><stop offset=".259" stop-color="#482071"/><stop offset=".291" stop-color="#482071"/><stop offset=".331" stop-color="#481f70"/><stop offset=".379" stop-color="#481c6e"/><stop offset=".436" stop-color="#481b6d"/><stop offset=".508" stop-color="#481769"/><stop offset=".588" stop-color="#471365"/><stop offset=".689" stop-color="#471063"/><stop offset=".809" stop-color="#460b5e"/><stop offset="1.000" stop-color="#46085c"/></linearGradient><linearGradient id="gd197"><stop offset=".000" stop-color="#460a5d"/><stop offset=".026" stop-color="#460b5e"/><stop offset=".058" stop-color="#470e61"/><stop offset=".086" stop-color="#471365"/><stop offset=".106" stop-color="#481668"/><stop offset=".127" stop-color="#48186a"/><stop offset=".147" stop-color="#481b6d"/><stop offset=".167" stop-color="#481c6e"/><stop offset=".187" stop-color="#481d6f"/><stop offset=".207" stop-color="#481f70"/><stop offset=".227" stop-color="#481f70"/><stop offset=".259" stop-color="#481f70"/><stop offset=".291" stop-color="#481d6f"/><stop offset=".331" stop-color="#481c6e"/><stop offset=".379" stop-color="#481b6d"/><stop offset=".436" stop-color="#481a6c"/><stop offset=".508" stop-color="#481668"/><stop offset=".588" stop-color="#471365"/><stop offset=".689" stop-color="#470e61"/><stop offset=".809" stop-color="#460b5e"/><stop offset="1.000" stop-color="#46085c"/></linearGradient><linearGradient id="gd198"><stop offset=".000" stop-color="#46085c"/><stop offset=".026" stop-color="#460b5e"/><stop offset=".058" stop-color="#470e61"/><stop offset=".086" stop-color="#471164"/><stop offset=".106" stop-color="#481467"/><stop offset=".127" stop-color="#481769"/><stop offset=".147" stop-color="#481a6c"/><stop offset=".167" stop-color="#481b6d"/><stop offset=".187" stop-color="#481c6e"/><stop offset=".207" stop-color="#481d6f"/><stop offset=".227" stop-color="#481d6f"/><stop offset=".259" stop-color="#481c6e"/><stop offset=".291" stop-color="#481c6e"/><stop offset=".331" stop-color="#481b6d"/><stop offset=".379" stop-color="#481a6c"/><stop offset=".436" stop-color="#48186a"/><stop offset=".508" stop-color="#481467"/><stop offset=".588" stop-color="#471164"/><stop offset=".689" stop-color="#470e61"/><stop offset=".809" stop-color="#460b5e"/><stop offset="1.000" stop-color="#46085c"/></linearGradient><linearGradient id="gd199"><stop offset=".000" stop-color="#46085c"/><stop offset=".026" stop-color="#460a5d"/><stop offset=".058" stop-color="#470d60"/><stop offset=".086" stop-color="#471164"/><stop offset=".106" stop-color="#471365"/><stop offset=".127" stop-color="#481668"/><stop offset=".147" stop-color="#48186a"/><stop offset=".167" stop-color="#481a6c"/><stop offset=".187" stop-color="#481b6d"/><stop offset=".207" stop-color="#481b6d"/><stop offset=".227" stop-color="#481c6e"/><stop offset=".259" stop-color="#481b6d"/><stop offset=".291" stop-color="#481b6d"/><stop offset=".331" stop-color="#481a6c"/><stop offset=".379" stop-color="#48186a"/><stop offset=".436" stop-color="#481769"/><stop offset=".508" stop-color="#481467"/><stop offset=".588" stop-color="#471164"/><stop offset=".689" stop-color="#470d60"/><stop offset=".809" stop-color="#460a5d"/><stop offset="1.000" stop-color="#46085c"/></linearGradient><linearGradient id="gd200"><stop offset=".000" stop-color="#46085c"/><stop offset=".026" stop-color="#460a5d"/><stop offset=".058" stop-color="#470d60"/><stop offset=".086" stop-color="#471063"/><stop offset=".106" stop-color="#471365"/><stop offset=".127" stop-color="#481467"/><stop offset=".147" stop-color="#481769"/><stop offset=".167" stop-color="#48186a"/><stop offset=".187" stop-color="#481a6c"/><stop offset=".207" stop-color="#481a6c"/><stop offset=".227" stop-color="#481a6c"/><stop offset=".259" stop-color="#481a6c"/><stop offset=".291" stop-color="#481a6c"/><stop offset=".331" stop-color="#48186a"/><stop offset=".379" stop-color="#481769"/><stop offset=".436" stop-color="#481668"/><stop offset=".508" stop-color="#471365"/><stop offset=".588" stop-color="#471063"/><stop offset=".689" stop-color="#470d60"/><stop offset=".809" stop-color="#460a5d"/><stop offset="1.000" stop-color="#46085c"/></linearGradient><linearGradient id="gd201"><stop offset=".000" stop-color="#46085c"/><stop offset=".026" stop-color="#460a5d"/><stop offset=".058" stop-color="#470d60"/><stop offset=".086" stop-color="#471063"/><stop offset=".106" stop-color="#471164"/><stop offset=".127" stop-color="#481467"/><stop offset=".147" stop-color="#481668"/><stop offset=".167" stop-color="#481769"/><stop offset=".187" stop-color="#48186a"/><stop offset=".207" stop-color="#48186a"/><stop offset=".227" stop-color="#48186a"/><stop offset=".259" stop-color="#48186a"/><stop offset=".291" stop-color="#48186a"/><stop offset=".331" stop-color="#481769"/><stop offset=".379" stop-color="#481668"/><stop offset=".436" stop-color="#481467"/><stop offset=".508" stop-color="#471164"/><stop offset=".588" stop-color="#470e61"/><stop offset=".689" stop-color="#460b5e"/><stop offset=".809" stop-color="#460a5d"/><stop offset="1.000" stop-color="#46085c"/></linearGradient><linearGradient id="gd202"><stop offset=".000" stop-color="#46085c"/><stop offset=".026" stop-color="#460a5d"/><stop offset=".058" stop-color="#470d60"/><stop offset=".086" stop-color="#470e61"/><stop offset=".106" stop-color="#471164"/><stop offset=".127" stop-color="#471365"/><stop offset=".147" stop-color="#481668"/><stop offset=".167" stop-color="#481769"/><stop offset=".187" stop-color="#481769"/><stop offset=".207" stop-color="#481769"/><stop offset=".227" stop-color="#48186a"/><stop offset=".259" stop-color="#481769"/><stop offset=".291" stop-color="#481769"/><stop offset=".331" stop-color="#481668"/><stop offset=".379" stop-color="#481668"/><stop offset=".436" stop-color="#471365"/><stop offset=".508" stop-color="#471164"/><stop offset=".588" stop-color="#470e61"/><stop offset=".689" stop-color="#460b5e"/><stop offset=".809" stop-color="#460a5d"/><stop offset="1.000" stop-color="#46075a"/></linearGradient><linearGradient id="gd203"><stop offset=".000" stop-color="#46085c"/><stop offset=".026" stop-color="#460a5d"/><stop offset=".058" stop-color="#460b5e"/><stop offset=".086" stop-color="#470e61"/><stop offset=".106" stop-color="#471063"/><stop offset=".127" stop-color="#471365"/><stop offset=".147" stop-color="#481467"/><stop offset=".167" stop-color="#481668"/><stop offset=".187" stop-color="#481668"/><stop offset=".207" stop-color="#481769"/><stop offset=".227" stop-color="#481769"/><stop offset=".259" stop-color="#481769"/><stop offset=".291" stop-color="#481668"/><stop offset=".331" stop-color="#481668"/><stop offset=".379" stop-color="#481467"/><stop offset=".436" stop-color="#471365"/><stop offset=".508" stop-color="#471063"/><stop offset=".588" stop-color="#470e61"/><stop offset=".689" stop-color="#460b5e"/><stop offset=".809" stop-color="#46085c"/><stop offset="1.000" stop-color="#46075a"/></linearGradient><linearGradient id="gd204"><stop offset=".000" stop-color="#46085c"/><stop offset=".026" stop-color="#460a5d"/><stop offset=".058" stop-color="#460b5e"/><stop offset=".086" stop-color="#470e61"/><stop offset=".106" stop-color="#471063"/><stop offset=".127" stop-color="#471164"/><stop offset=".147" stop-color="#471365"/><stop offset=".167" stop-color="#481467"/><stop offset=".187" stop-color="#481668"/><stop offset=".207" stop-color="#481668"/><stop offset=".227" stop-color="#481668"/><stop offset=".259" stop-color="#481668"/><stop offset=".291" stop-color="#481467"/><stop offset=".331" stop-color="#481467"/><stop offset=".379" stop-color="#471365"/><stop offset=".436" stop-color="#471164"/><stop offset=".508" stop-color="#471063"/><stop offset=".588" stop-color="#470d60"/><stop offset=".689" stop-color="#460b5e"/><stop offset=".809" stop-color="#46085c"/><stop offset="1.000" stop-color="#46075a"/></linearGradient><linearGradient id="gd205"><stop offset=".000" stop-color="#46085c"/><stop offset=".026" stop-color="#460a5d"/><stop offset=".058" stop-color="#460b5e"/><stop offset=".086" stop-color="#470d60"/><stop offset=".106" stop-color="#471063"/><stop offset=".127" stop-color="#471164"/><stop offset=".147" stop-color="#471365"/><stop offset=".167" stop-color="#471365"/><stop offset=".187" stop-color="#481467"/><stop offset=".207" stop-color="#481467"/><stop offset=".227" stop-color="#481467"/><stop offset=".259" stop-color="#481467"/><stop offset=".291" stop-color="#481467"/><stop offset=".331" stop-color="#471365"/><stop offset=".379" stop-color="#471365"/><stop offset=".436" stop-color="#471164"/><stop offset=".508" stop-color="#470e61"/><stop offset=".588" stop-color="#470d60"/><stop offset=".689" stop-color="#460a5d"/><stop offset=".809" stop-color="#46085c"/><stop offset="1.000" stop-color="#46075a"/></linearGradient><linearGradient id="gd206"><stop offset=".000" stop-color="#46085c"/><stop offset=".026" stop-color="#460a5d"/><stop offset=".058" stop-color="#460b5e"/><stop offset=".086" stop-color="#470d60"/><stop offset=".106" stop-color="#470e61"/><stop offset=".127" stop-color="#471063"/><stop offset=".147" stop-color="#471164"/><stop offset=".167" stop-color="#471365"/><stop offset=".187" stop-color="#471365"/><stop offset=".207" stop-color="#471365"/><stop offset=".227" stop-color="#481467"/><stop offset=".259" stop-color="#471365"/><stop offset=".291" stop-color="#471365"/><stop offset=".331" stop-color="#471365"/><stop offset=".379" stop-color="#471164"/><stop offset=".436" stop-color="#471063"/><stop offset=".508" stop-color="#470e61"/><stop offset=".588" stop-color="#470d60"/><stop offset=".689" stop-color="#460a5d"/><stop offset=".809" stop-color="#46085c"/><stop offset="1.000" stop-color="#46075a"/></linearGradient><linearGradient id="gd207"><stop offset=".000" stop-color="#46085c"/><stop offset=".026" stop-color="#46085c"/><stop offset=".058" stop-color="#460b5e"/><stop offset=".086" stop-color="#470d60"/><stop offset=".106" stop-color="#470e61"/><stop offset=".127" stop-color="#471063"/><stop offset=".147" stop-color="#471164"/><stop offset=".167" stop-color="#471164"/><stop offset=".187" stop-color="#471365"/><stop offset=".207" stop-color="#471365"/><stop offset=".227" stop-color="#471365"/><stop offset=".259" stop-color="#471365"/><stop offset=".291" stop-color="#471365"/><stop offset=".331" stop-color="#471164"/><stop offset=".379" stop-color="#471063"/><stop offset=".436" stop-color="#471063"/><stop offset=".508" stop-color="#470d60"/><stop offset=".588" stop-color="#460b5e"/><stop offset=".689" stop-color="#460a5d"/><stop offset=".809" stop-color="#46085c"/><stop offset="1.000" stop-color="#46075a"/></linearGradient><linearGradient id="gd208"><stop offset=".000" stop-color="#46085c"/><stop offset=".026" stop-color="#46085c"/><stop offset=".058" stop-color="#460a5d"/><stop offset=".086" stop-color="#470d60"/><stop offset=".106" stop-color="#470d60"/><stop offset=".127" stop-color="#470e61"/><stop offset=".147" stop-color="#471063"/><stop offset=".167" stop-color="#471164"/><stop offset=".187" stop-color="#471164"/><stop offset=".207" stop-color="#471164"/><stop offset=".227" stop-color="#471164"/><stop offset=".259" stop-color="#471164"/><stop offset=".291" stop-color="#471164"/><stop offset=".331" stop-color="#471164"/><stop offset=".379" stop-color="#471063"/><stop offset=".436" stop-color="#470e61"/><stop offset=".508" stop-color="#470d60"/><stop offset=".588" stop-color="#460b5e"/><stop offset=".689" stop-color="#460a5d"/><stop offset=".809" stop-color="#46085c"/><stop offset="1.000" stop-color="#46075a"/></linearGradient><linearGradient id="gd209"><stop offset=".000" stop-color="#46085c"/><stop offset=".026" stop-color="#46085c"/><stop offset=".058" stop-color="#460a5d"/><stop offset=".086" stop-color="#460b5e"/><stop offset=".106" stop-color="#470d60"/><stop offset=".127" stop-color="#470e61"/><stop offset=".147" stop-color="#471063"/><stop offset=".167" stop-color="#471063"/><stop offset=".187" stop-color="#471164"/><stop offset=".207" stop-color="#471164"/><stop offset=".227" stop-color="#471164"/><stop offset=".259" stop-color="#471164"/><stop offset=".291" stop-color="#471063"/><stop offset=".331" stop-color="#471063"/><stop offset=".379" stop-color="#471063"/><stop offset=".436" stop-color="#470e61"/><stop offset=".508" stop-color="#470d60"/><stop offset=".588" stop-color="#460b5e"/><stop offset=".689" stop-color="#460a5d"/><stop offset=".809" stop-color="#46085c"/><stop offset="1.000" stop-color="#46075a"/></linearGradient><linearGradient id="gd210"><stop offset=".000" stop-color="#46085c"/><stop offset=".026" stop-color="#46085c"/><stop offset=".058" stop-color="#460a5d"/><stop offset=".086" stop-color="#460b5e"/><stop offset=".106" stop-color="#470d60"/><stop offset=".127" stop-color="#470e61"/><stop offset=".147" stop-color="#470e61"/><stop offset=".167" stop-color="#471063"/><stop offset=".187" stop-color="#471063"/><stop offset=".207" stop-color="#471063"/><stop offset=".227" stop-color="#471063"/><stop offset=".259" stop-color="#471063"/><stop offset=".291" stop-color="#471063"/><stop offset=".331" stop-color="#471063"/><stop offset=".379" stop-color="#470e61"/><stop offset=".436" stop-color="#470d60"/><stop offset=".508" stop-color="#460b5e"/><stop offset=".588" stop-color="#460a5d"/><stop offset=".689" stop-color="#46085c"/><stop offset=".809" stop-color="#46085c"/><stop offset="1.000" stop-color="#46075a"/></linearGradient></defs><rect x="0" y="0" width="685" height="797" fill="#fff"/><g clip-path="url(#cc)"><rect x="62.6" y="273" width="267.2" height="1" fill="url(#gc0)"/><rect x="62.6" y="274" width="267.2" height="1" fill="url(#gc1)"/><rect x="62.6" y="275" width="267.2" height="1" fill="url(#gc2)"/><rect x="62.6" y="276" width="267.2" height="1" fill="url(#gc3)"/><rect x="62.6" y="277" width="267.2" height="1" fill="url(#gc4)"/><rect x="62.6" y="278" width="267.2" height="1" fill="url(#gc5)"/><rect x="62.6" y="279" width="267.2" height="1" fill="url(#gc6)"/><rect x="62.6" y="280" width="267.2" height="1" fill="url(#gc7)"/><rect x="62.6" y="281" width="267.2" height="1" fill="url(#gc8)"/><rect x="62.6" y="282" width="267.2" height="1" fill="url(#gc9)"/><rect x="62.6" y="283" width="267.2" height="1" fill="url(#gc10)"/><rect x="62.6" y="284" width="267.2" height="1" fill="url(#gc11)"/><rect x="62.6" y="285" width="267.2" height="1" fill="url(#gc12)"/><rect x="62.6" y="286" width="267.2" height="1" fill="url(#gc13)"/><rect x="62.6" y="287" width="267.2" height="1" fill="url(#gc14)"/><rect x="62.6" y="288" width="267.2" height="1" fill="url(#gc15)"/><rect x="62.6" y="289" width="267.2" height="1" fill="url(#gc16)"/><rect x="62.6" y="290" width="267.2" height="1" fill="url(#gc17)"/><rect x="62.6" y="291" width="267.2" height="1" fill="url(#gc18)"/><rect x="62.6" y="292" width="267.2" height="1" fill="url(#gc19)"/><rect x="62.6" y="293" width="267.2" height="1" fill="url(#gc20)"/><rect x="62.6" y="294" width="267.2" height="1" fill="url(#gc21)"/><rect x="62.6" y="295" width="267.2" height="1" fill="url(#gc22)"/><rect x="62.6" y="296" width="267.2" height="1" fill="url(#gc23)"/><rect x="62.6" y="297" width="267.2" height="1" fill="url(#gc24)"/><rect x="62.6" y="298" width="267.2" height="1" fill="url(#gc25)"/><rect x="62.6" y="299" width="267.2" height="1" fill="url(#gc26)"/><rect x="62.6" y="300" width="267.2" height="1" fill="url(#gc27)"/><rect x="62.6" y="301" width="267.2" height="1" fill="url(#gc28)"/><rect x="62.6" y="302" width="267.2" height="1" fill="url(#gc29)"/><rect x="62.6" y="303" width="267.2" height="1" fill="url(#gc30)"/><rect x="62.6" y="304" width="267.2" height="1" fill="url(#gc31)"/><rect x="62.6" y="305" width="267.2" height="1" fill="url(#gc32)"/><rect x="62.6" y="306" width="267.2" height="1" fill="url(#gc33)"/><rect x="62.6" y="307" width="267.2" height="1" fill="url(#gc34)"/><rect x="62.6" y="308" width="267.2" height="1" fill="url(#gc35)"/><rect x="62.6" y="309" width="267.2" height="1" fill="url(#gc36)"/><rect x="62.6" y="310" width="267.2" height="1" fill="url(#gc37)"/><rect x="62.6" y="311" width="267.2" height="1" fill="url(#gc38)"/><rect x="62.6" y="312" width="267.2" height="1" fill="url(#gc39)"/><rect x="62.6" y="313" width="267.2" height="1" fill="url(#gc40)"/><rect x="62.6" y="314" width="267.2" height="1" fill="url(#gc41)"/><rect x="62.6" y="315" width="267.2" height="1" fill="url(#gc42)"/><rect x="62.6" y="316" width="267.2" height="1" fill="url(#gc43)"/><rect x="62.6" y="317" width="267.2" height="1" fill="url(#gc44)"/><rect x="62.6" y="318" width="267.2" height="1" fill="url(#gc45)"/><rect x="62.6" y="319" width="267.2" height="1" fill="url(#gc46)"/><rect x="62.6" y="320" width="267.2" height="1" fill="url(#gc47)"/><rect x="62.6" y="321" width="267.2" height="1" fill="url(#gc48)"/><rect x="62.6" y="322" width="267.2" height="1" fill="url(#gc49)"/><rect x="62.6" y="323" width="267.2" height="1" fill="url(#gc50)"/><rect x="62.6" y="324" width="267.2" height="1" fill="url(#gc51)"/><rect x="62.6" y="325" width="267.2" height="1" fill="url(#gc52)"/><rect x="62.6" y="326" width="267.2" height="1" fill="url(#gc53)"/><rect x="62.6" y="327" width="267.2" height="1" fill="url(#gc54)"/><rect x="62.6" y="328" width="267.2" height="1" fill="url(#gc55)"/><rect x="62.6" y="329" width="267.2" height="1" fill="url(#gc56)"/><rect x="62.6" y="330" width="267.2" height="1" fill="url(#gc57)"/><rect x="62.6" y="331" width="267.2" height="1" fill="url(#gc58)"/><rect x="62.6" y="332" width="267.2" height="1" fill="url(#gc59)"/><rect x="62.6" y="333" width="267.2" height="1" fill="url(#gc60)"/><rect x="62.6" y="334" width="267.2" height="1" fill="url(#gc61)"/><rect x="62.6" y="335" width="267.2" height="1" fill="url(#gc62)"/><rect x="62.6" y="336" width="267.2" height="1" fill="url(#gc63)"/><rect x="62.6" y="337" width="267.2" height="1" fill="url(#gc64)"/><rect x="62.6" y="338" width="267.2" height="1" fill="url(#gc65)"/><rect x="62.6" y="339" width="267.2" height="1" fill="url(#gc66)"/><rect x="62.6" y="340" width="267.2" height="1" fill="url(#gc67)"/><rect x="62.6" y="341" width="267.2" height="1" fill="url(#gc68)"/><rect x="62.6" y="342" width="267.2" height="1" fill="url(#gc69)"/><rect x="62.6" y="343" width="267.2" height="1" fill="url(#gc70)"/><rect x="62.6" y="344" width="267.2" height="1" fill="url(#gc71)"/><rect x="62.6" y="345" width="267.2" height="1" fill="url(#gc72)"/><rect x="62.6" y="346" width="267.2" height="1" fill="url(#gc73)"/><rect x="62.6" y="347" width="267.2" height="1" fill="url(#gc74)"/><rect x="62.6" y="348" width="267.2" height="1" fill="url(#gc75)"/><rect x="62.6" y="349" width="267.2" height="1" fill="url(#gc76)"/><rect x="62.6" y="350" width="267.2" height="1" fill="url(#gc77)"/><rect x="62.6" y="351" width="267.2" height="1" fill="url(#gc78)"/><rect x="62.6" y="352" width="267.2" height="1" fill="url(#gc79)"/><rect x="62.6" y="353" width="267.2" height="1" fill="url(#gc80)"/><rect x="62.6" y="354" width="267.2" height="1" fill="url(#gc81)"/><rect x="62.6" y="355" width="267.2" height="1" fill="url(#gc82)"/><rect x="62.6" y="356" width="267.2" height="1" fill="url(#gc83)"/><rect x="62.6" y="357" width="267.2" height="1" fill="url(#gc84)"/><rect x="62.6" y="358" width="267.2" height="1" fill="url(#gc85)"/><rect x="62.6" y="359" width="267.2" height="1" fill="url(#gc86)"/><rect x="62.6" y="360" width="267.2" height="1" fill="url(#gc87)"/><rect x="62.6" y="361" width="267.2" height="1" fill="url(#gc88)"/><rect x="62.6" y="362" width="267.2" height="1" fill="url(#gc89)"/><rect x="62.6" y="363" width="267.2" height="1" fill="url(#gc90)"/><rect x="62.6" y="364" width="267.2" height="1" fill="url(#gc91)"/><rect x="62.6" y="365" width="267.2" height="1" fill="url(#gc92)"/><rect x="62.6" y="366" width="267.2" height="1" fill="url(#gc93)"/><rect x="62.6" y="367" width="267.2" height="1" fill="url(#gc94)"/><rect x="62.6" y="368" width="267.2" height="1" fill="url(#gc95)"/><rect x="62.6" y="369" width="267.2" height="1" fill="url(#gc96)"/><rect x="62.6" y="370" width="267.2" height="1" fill="url(#gc97)"/><rect x="62.6" y="371" width="267.2" height="1" fill="url(#gc98)"/><rect x="62.6" y="372" width="267.2" height="1" fill="url(#gc99)"/><rect x="62.6" y="373" width="267.2" height="1" fill="url(#gc100)"/><rect x="62.6" y="374" width="267.2" height="1" fill="url(#gc101)"/><rect x="62.6" y="375" width="267.2" height="1" fill="url(#gc102)"/><rect x="62.6" y="376" width="267.2" height="1" fill="url(#gc103)"/><rect x="62.6" y="377" width="267.2" height="1" fill="url(#gc104)"/><rect x="62.6" y="378" width="267.2" height="1" fill="url(#gc105)"/><rect x="62.6" y="379" width="267.2" height="1" fill="url(#gc106)"/><rect x="62.6" y="380" width="267.2" height="1" fill="url(#gc107)"/><rect x="62.6" y="381" width="267.2" height="1" fill="url(#gc108)"/><rect x="62.6" y="382" width="267.2" height="1" fill="url(#gc109)"/><rect x="62.6" y="383" width="267.2" height="1" fill="url(#gc110)"/><rect x="62.6" y="384" width="267.2" height="1" fill="url(#gc111)"/><rect x="62.6" y="385" width="267.2" height="1" fill="url(#gc112)"/><rect x="62.6" y="386" width="267.2" height="1" fill="url(#gc113)"/><rect x="62.6" y="387" width="267.2" height="1" fill="url(#gc114)"/><rect x="62.6" y="388" width="267.2" height="1" fill="url(#gc115)"/><rect x="62.6" y="389" width="267.2" height="1" fill="url(#gc116)"/><rect x="62.6" y="390" width="267.2" height="1" fill="url(#gc117)"/><rect x="62.6" y="391" width="267.2" height="1" fill="url(#gc118)"/><rect x="62.6" y="392" width="267.2" height="1" fill="url(#gc119)"/><rect x="62.6" y="393" width="267.2" height="1" fill="url(#gc120)"/><rect x="62.6" y="394" width="267.2" height="1" fill="url(#gc121)"/><rect x="62.6" y="395" width="267.2" height="1" fill="url(#gc122)"/><rect x="62.6" y="396" width="267.2" height="1" fill="url(#gc123)"/><rect x="62.6" y="397" width="267.2" height="1" fill="url(#gc124)"/><rect x="62.6" y="398" width="267.2" height="1" fill="url(#gc125)"/><rect x="62.6" y="399" width="267.2" height="1" fill="url(#gc126)"/><rect x="62.6" y="400" width="267.2" height="1" fill="url(#gc127)"/><rect x="62.6" y="401" width="267.2" height="1" fill="url(#gc128)"/><rect x="62.6" y="402" width="267.2" height="1" fill="url(#gc129)"/><rect x="62.6" y="403" width="267.2" height="1" fill="url(#gc130)"/><rect x="62.6" y="404" width="267.2" height="1" fill="url(#gc131)"/><rect x="62.6" y="405" width="267.2" height="1" fill="url(#gc132)"/><rect x="62.6" y="406" width="267.2" height="1" fill="url(#gc133)"/><rect x="62.6" y="407" width="267.2" height="1" fill="url(#gc134)"/><rect x="62.6" y="408" width="267.2" height="1" fill="url(#gc135)"/><rect x="62.6" y="409" width="267.2" height="1" fill="url(#gc136)"/><rect x="62.6" y="410" width="267.2" height="1" fill="url(#gc137)"/><rect x="62.6" y="411" width="267.2" height="1" fill="url(#gc138)"/><rect x="62.6" y="412" width="267.2" height="1" fill="url(#gc139)"/><rect x="62.6" y="413" width="267.2" height="1" fill="url(#gc140)"/><rect x="62.6" y="414" width="267.2" height="1" fill="url(#gc141)"/><rect x="62.6" y="415" width="267.2" height="1" fill="url(#gc142)"/><rect x="62.6" y="416" width="267.2" height="1" fill="url(#gc143)"/><rect x="62.6" y="417" width="267.2" height="1" fill="url(#gc144)"/><rect x="62.6" y="418" width="267.2" height="1" fill="url(#gc145)"/><rect x="62.6" y="419" width="267.2" height="1" fill="url(#gc146)"/><rect x="62.6" y="420" width="267.2" height="1" fill="url(#gc147)"/><rect x="62.6" y="421" width="267.2" height="1" fill="url(#gc148)"/><rect x="62.6" y="422" width="267.2" height="1" fill="url(#gc149)"/><rect x="62.6" y="423" width="267.2" height="1" fill="url(#gc150)"/><rect x="62.6" y="424" width="267.2" height="1" fill="url(#gc151)"/><rect x="62.6" y="425" width="267.2" height="1" fill="url(#gc152)"/><rect x="62.6" y="426" width="267.2" height="1" fill="url(#gc153)"/><rect x="62.6" y="427" width="267.2" height="1" fill="url(#gc154)"/><rect x="62.6" y="428" width="267.2" height="1" fill="url(#gc155)"/><rect x="62.6" y="429" width="267.2" height="1" fill="url(#gc156)"/><rect x="62.6" y="430" width="267.2" height="1" fill="url(#gc157)"/><rect x="62.6" y="431" width="267.2" height="1" fill="url(#gc158)"/><rect x="62.6" y="432" width="267.2" height="1" fill="url(#gc159)"/><rect x="62.6" y="433" width="267.2" height="1" fill="url(#gc160)"/><rect x="62.6" y="434" width="267.2" height="1" fill="url(#gc161)"/><rect x="62.6" y="435" width="267.2" height="1" fill="url(#gc162)"/><rect x="62.6" y="436" width="267.2" height="1" fill="url(#gc163)"/><rect x="62.6" y="437" width="267.2" height="1" fill="url(#gc164)"/><rect x="62.6" y="438" width="267.2" height="1" fill="url(#gc165)"/><rect x="62.6" y="439" width="267.2" height="1" fill="url(#gc166)"/><rect x="62.6" y="440" width="267.2" height="1" fill="url(#gc167)"/><rect x="62.6" y="441" width="267.2" height="1" fill="url(#gc168)"/><rect x="62.6" y="442" width="267.2" height="1" fill="url(#gc169)"/><rect x="62.6" y="443" width="267.2" height="1" fill="url(#gc170)"/><rect x="62.6" y="444" width="267.2" height="1" fill="url(#gc171)"/><rect x="62.6" y="445" width="267.2" height="1" fill="url(#gc172)"/><rect x="62.6" y="446" width="267.2" height="1" fill="url(#gc173)"/><rect x="62.6" y="447" width="267.2" height="1" fill="url(#gc174)"/><rect x="62.6" y="448" width="267.2" height="1" fill="url(#gc175)"/><rect x="62.6" y="449" width="267.2" height="1" fill="url(#gc176)"/><rect x="62.6" y="450" width="267.2" height="1" fill="url(#gc177)"/><rect x="62.6" y="451" width="267.2" height="1" fill="url(#gc178)"/><rect x="62.6" y="452" width="267.2" height="1" fill="url(#gc179)"/><rect x="62.6" y="453" width="267.2" height="1" fill="url(#gc180)"/><rect x="62.6" y="454" width="267.2" height="1" fill="url(#gc181)"/><rect x="62.6" y="455" width="267.2" height="1" fill="url(#gc182)"/><rect x="62.6" y="456" width="267.2" height="1" fill="url(#gc183)"/><rect x="62.6" y="457" width="267.2" height="1" fill="url(#gc184)"/><rect x="62.6" y="458" width="267.2" height="1" fill="url(#gc185)"/><rect x="62.6" y="459" width="267.2" height="1" fill="url(#gc186)"/><rect x="62.6" y="460" width="267.2" height="1" fill="url(#gc187)"/><rect x="62.6" y="461" width="267.2" height="1" fill="url(#gc188)"/><rect x="62.6" y="462" width="267.2" height="1" fill="url(#gc189)"/><rect x="62.6" y="463" width="267.2" height="1" fill="url(#gc190)"/><rect x="62.6" y="464" width="267.2" height="1" fill="url(#gc191)"/><rect x="62.6" y="465" width="267.2" height="1" fill="url(#gc192)"/><rect x="62.6" y="466" width="267.2" height="1" fill="url(#gc193)"/><rect x="62.6" y="467" width="267.2" height="1" fill="url(#gc194)"/><rect x="62.6" y="468" width="267.2" height="1" fill="url(#gc195)"/><rect x="62.6" y="469" width="267.2" height="1" fill="url(#gc196)"/><rect x="62.6" y="470" width="267.2" height="1" fill="url(#gc197)"/><rect x="62.6" y="471" width="267.2" height="1" fill="url(#gc198)"/><rect x="62.6" y="472" width="267.2" height="1" fill="url(#gc199)"/><rect x="62.6" y="473" width="267.2" height="1" fill="url(#gc200)"/><rect x="62.6" y="474" width="267.2" height="1" fill="url(#gc201)"/><rect x="62.6" y="475" width="267.2" height="1" fill="url(#gc202)"/><rect x="62.6" y="476" width="267.2" height="1" fill="url(#gc203)"/><rect x="62.6" y="477" width="267.2" height="1" fill="url(#gc204)"/><rect x="62.6" y="478" width="267.2" height="1" fill="url(#gc205)"/><rect x="62.6" y="479" width="267.2" height="1" fill="url(#gc206)"/><rect x="62.6" y="480" width="267.2" height="1" fill="url(#gc207)"/><rect x="62.6" y="481" width="267.2" height="1" fill="url(#gc208)"/><rect x="62.6" y="482" width="267.2" height="1" fill="url(#gc209)"/><rect x="62.6" y="483" width="267.2" height="1" fill="url(#gc210)"/></g><g clip-path="url(#cd)"><rect x="411.2" y="273" width="266.8" height="1" fill="url(#gd0)"/><rect x="411.2" y="274" width="266.8" height="1" fill="url(#gd1)"/><rect x="411.2" y="275" width="266.8" height="1" fill="url(#gd2)"/><rect x="411.2" y="276" width="266.8" height="1" fill="url(#gd3)"/><rect x="411.2" y="277" width="266.8" height="1" fill="url(#gd4)"/><rect x="411.2" y="278" width="266.8" height="1" fill="url(#gd5)"/><rect x="411.2" y="279" width="266.8" height="1" fill="url(#gd6)"/><rect x="411.2" y="280" width="266.8" height="1" fill="url(#gd7)"/><rect x="411.2" y="281" width="266.8" height="1" fill="url(#gd8)"/><rect x="411.2" y="282" width="266.8" height="1" fill="url(#gd9)"/><rect x="411.2" y="283" width="266.8" height="1" fill="url(#gd10)"/><rect x="411.2" y="284" width="266.8" height="1" fill="url(#gd11)"/><rect x="411.2" y="285" width="266.8" height="1" fill="url(#gd12)"/><rect x="411.2" y="286" width="266.8" height="1" fill="url(#gd13)"/><rect x="411.2" y="287" width="266.8" height="1" fill="url(#gd14)"/><rect x="411.2" y="288" width="266.8" height="1" fill="url(#gd15)"/><rect x="411.2" y="289" width="266.8" height="1" fill="url(#gd16)"/><rect x="411.2" y="290" width="266.8" height="1" fill="url(#gd17)"/><rect x="411.2" y="291" width="266.8" height="1" fill="url(#gd18)"/><rect x="411.2" y="292" width="266.8" height="1" fill="url(#gd19)"/><rect x="411.2" y="293" width="266.8" height="1" fill="url(#gd20)"/><rect x="411.2" y="294" width="266.8" height="1" fill="url(#gd21)"/><rect x="411.2" y="295" width="266.8" height="1" fill="url(#gd22)"/><rect x="411.2" y="296" width="266.8" height="1" fill="url(#gd23)"/><rect x="411.2" y="297" width="266.8" height="1" fill="url(#gd24)"/><rect x="411.2" y="298" width="266.8" height="1" fill="url(#gd25)"/><rect x="411.2" y="299" width="266.8" height="1" fill="url(#gd26)"/><rect x="411.2" y="300" width="266.8" height="1" fill="url(#gd27)"/><rect x="411.2" y="301" width="266.8" height="1" fill="url(#gd28)"/><rect x="411.2" y="302" width="266.8" height="1" fill="url(#gd29)"/><rect x="411.2" y="303" width="266.8" height="1" fill="url(#gd30)"/><rect x="411.2" y="304" width="266.8" height="1" fill="url(#gd31)"/><rect x="411.2" y="305" width="266.8" height="1" fill="url(#gd32)"/><rect x="411.2" y="306" width="266.8" height="1" fill="url(#gd33)"/><rect x="411.2" y="307" width="266.8" height="1" fill="url(#gd34)"/><rect x="411.2" y="308" width="266.8" height="1" fill="url(#gd35)"/><rect x="411.2" y="309" width="266.8" height="1" fill="url(#gd36)"/><rect x="411.2" y="310" width="266.8" height="1" fill="url(#gd37)"/><rect x="411.2" y="311" width="266.8" height="1" fill="url(#gd38)"/><rect x="411.2" y="312" width="266.8" height="1" fill="url(#gd39)"/><rect x="411.2" y="313" width="266.8" height="1" fill="url(#gd40)"/><rect x="411.2" y="314" width="266.8" height="1" fill="url(#gd41)"/><rect x="411.2" y="315" width="266.8" height="1" fill="url(#gd42)"/><rect x="411.2" y="316" width="266.8" height="1" fill="url(#gd43)"/><rect x="411.2" y="317" width="266.8" height="1" fill="url(#gd44)"/><rect x="411.2" y="318" width="266.8" height="1" fill="url(#gd45)"/><rect x="411.2" y="319" width="266.8" height="1" fill="url(#gd46)"/><rect x="411.2" y="320" width="266.8" height="1" fill="url(#gd47)"/><rect x="411.2" y="321" width="266.8" height="1" fill="url(#gd48)"/><rect x="411.2" y="322" width="266.8" height="1" fill="url(#gd49)"/><rect x="411.2" y="323" width="266.8" height="1" fill="url(#gd50)"/><rect x="411.2" y="324" width="266.8" height="1" fill="url(#gd51)"/><rect x="411.2" y="325" width="266.8" height="1" fill="url(#gd52)"/><rect x="411.2" y="326" width="266.8" height="1" fill="url(#gd53)"/><rect x="411.2" y="327" width="266.8" height="1" fill="url(#gd54)"/><rect x="411.2" y="328" width="266.8" height="1" fill="url(#gd55)"/><rect x="411.2" y="329" width="266.8" height="1" fill="url(#gd56)"/><rect x="411.2" y="330" width="266.8" height="1" fill="url(#gd57)"/><rect x="411.2" y="331" width="266.8" height="1" fill="url(#gd58)"/><rect x="411.2" y="332" width="266.8" height="1" fill="url(#gd59)"/><rect x="411.2" y="333" width="266.8" height="1" fill="url(#gd60)"/><rect x="411.2" y="334" width="266.8" height="1" fill="url(#gd61)"/><rect x="411.2" y="335" width="266.8" height="1" fill="url(#gd62)"/><rect x="411.2" y="336" width="266.8" height="1" fill="url(#gd63)"/><rect x="411.2" y="337" width="266.8" height="1" fill="url(#gd64)"/><rect x="411.2" y="338" width="266.8" height="1" fill="url(#gd65)"/><rect x="411.2" y="339" width="266.8" height="1" fill="url(#gd66)"/><rect x="411.2" y="340" width="266.8" height="1" fill="url(#gd67)"/><rect x="411.2" y="341" width="266.8" height="1" fill="url(#gd68)"/><rect x="411.2" y="342" width="266.8" height="1" fill="url(#gd69)"/><rect x="411.2" y="343" width="266.8" height="1" fill="url(#gd70)"/><rect x="411.2" y="344" width="266.8" height="1" fill="url(#gd71)"/><rect x="411.2" y="345" width="266.8" height="1" fill="url(#gd72)"/><rect x="411.2" y="346" width="266.8" height="1" fill="url(#gd73)"/><rect x="411.2" y="347" width="266.8" height="1" fill="url(#gd74)"/><rect x="411.2" y="348" width="266.8" height="1" fill="url(#gd75)"/><rect x="411.2" y="349" width="266.8" height="1" fill="url(#gd76)"/><rect x="411.2" y="350" width="266.8" height="1" fill="url(#gd77)"/><rect x="411.2" y="351" width="266.8" height="1" fill="url(#gd78)"/><rect x="411.2" y="352" width="266.8" height="1" fill="url(#gd79)"/><rect x="411.2" y="353" width="266.8" height="1" fill="url(#gd80)"/><rect x="411.2" y="354" width="266.8" height="1" fill="url(#gd81)"/><rect x="411.2" y="355" width="266.8" height="1" fill="url(#gd82)"/><rect x="411.2" y="356" width="266.8" height="1" fill="url(#gd83)"/><rect x="411.2" y="357" width="266.8" height="1" fill="url(#gd84)"/><rect x="411.2" y="358" width="266.8" height="1" fill="url(#gd85)"/><rect x="411.2" y="359" width="266.8" height="1" fill="url(#gd86)"/><rect x="411.2" y="360" width="266.8" height="1" fill="url(#gd87)"/><rect x="411.2" y="361" width="266.8" height="1" fill="url(#gd88)"/><rect x="411.2" y="362" width="266.8" height="1" fill="url(#gd89)"/><rect x="411.2" y="363" width="266.8" height="1" fill="url(#gd90)"/><rect x="411.2" y="364" width="266.8" height="1" fill="url(#gd91)"/><rect x="411.2" y="365" width="266.8" height="1" fill="url(#gd92)"/><rect x="411.2" y="366" width="266.8" height="1" fill="url(#gd93)"/><rect x="411.2" y="367" width="266.8" height="1" fill="url(#gd94)"/><rect x="411.2" y="368" width="266.8" height="1" fill="url(#gd95)"/><rect x="411.2" y="369" width="266.8" height="1" fill="url(#gd96)"/><rect x="411.2" y="370" width="266.8" height="1" fill="url(#gd97)"/><rect x="411.2" y="371" width="266.8" height="1" fill="url(#gd98)"/><rect x="411.2" y="372" width="266.8" height="1" fill="url(#gd99)"/><rect x="411.2" y="373" width="266.8" height="1" fill="url(#gd100)"/><rect x="411.2" y="374" width="266.8" height="1" fill="url(#gd101)"/><rect x="411.2" y="375" width="266.8" height="1" fill="url(#gd102)"/><rect x="411.2" y="376" width="266.8" height="1" fill="url(#gd103)"/><rect x="411.2" y="377" width="266.8" height="1" fill="url(#gd104)"/><rect x="411.2" y="378" width="266.8" height="1" fill="url(#gd105)"/><rect x="411.2" y="379" width="266.8" height="1" fill="url(#gd106)"/><rect x="411.2" y="380" width="266.8" height="1" fill="url(#gd107)"/><rect x="411.2" y="381" width="266.8" height="1" fill="url(#gd108)"/><rect x="411.2" y="382" width="266.8" height="1" fill="url(#gd109)"/><rect x="411.2" y="383" width="266.8" height="1" fill="url(#gd110)"/><rect x="411.2" y="384" width="266.8" height="1" fill="url(#gd111)"/><rect x="411.2" y="385" width="266.8" height="1" fill="url(#gd112)"/><rect x="411.2" y="386" width="266.8" height="1" fill="url(#gd113)"/><rect x="411.2" y="387" width="266.8" height="1" fill="url(#gd114)"/><rect x="411.2" y="388" width="266.8" height="1" fill="url(#gd115)"/><rect x="411.2" y="389" width="266.8" height="1" fill="url(#gd116)"/><rect x="411.2" y="390" width="266.8" height="1" fill="url(#gd117)"/><rect x="411.2" y="391" width="266.8" height="1" fill="url(#gd118)"/><rect x="411.2" y="392" width="266.8" height="1" fill="url(#gd119)"/><rect x="411.2" y="393" width="266.8" height="1" fill="url(#gd120)"/><rect x="411.2" y="394" width="266.8" height="1" fill="url(#gd121)"/><rect x="411.2" y="395" width="266.8" height="1" fill="url(#gd122)"/><rect x="411.2" y="396" width="266.8" height="1" fill="url(#gd123)"/><rect x="411.2" y="397" width="266.8" height="1" fill="url(#gd124)"/><rect x="411.2" y="398" width="266.8" height="1" fill="url(#gd125)"/><rect x="411.2" y="399" width="266.8" height="1" fill="url(#gd126)"/><rect x="411.2" y="400" width="266.8" height="1" fill="url(#gd127)"/><rect x="411.2" y="401" width="266.8" height="1" fill="url(#gd128)"/><rect x="411.2" y="402" width="266.8" height="1" fill="url(#gd129)"/><rect x="411.2" y="403" width="266.8" height="1" fill="url(#gd130)"/><rect x="411.2" y="404" width="266.8" height="1" fill="url(#gd131)"/><rect x="411.2" y="405" width="266.8" height="1" fill="url(#gd132)"/><rect x="411.2" y="406" width="266.8" height="1" fill="url(#gd133)"/><rect x="411.2" y="407" width="266.8" height="1" fill="url(#gd134)"/><rect x="411.2" y="408" width="266.8" height="1" fill="url(#gd135)"/><rect x="411.2" y="409" width="266.8" height="1" fill="url(#gd136)"/><rect x="411.2" y="410" width="266.8" height="1" fill="url(#gd137)"/><rect x="411.2" y="411" width="266.8" height="1" fill="url(#gd138)"/><rect x="411.2" y="412" width="266.8" height="1" fill="url(#gd139)"/><rect x="411.2" y="413" width="266.8" height="1" fill="url(#gd140)"/><rect x="411.2" y="414" width="266.8" height="1" fill="url(#gd141)"/><rect x="411.2" y="415" width="266.8" height="1" fill="url(#gd142)"/><rect x="411.2" y="416" width="266.8" height="1" fill="url(#gd143)"/><rect x="411.2" y="417" width="266.8" height="1" fill="url(#gd144)"/><rect x="411.2" y="418" width="266.8" height="1" fill="url(#gd145)"/><rect x="411.2" y="419" width="266.8" height="1" fill="url(#gd146)"/><rect x="411.2" y="420" width="266.8" height="1" fill="url(#gd147)"/><rect x="411.2" y="421" width="266.8" height="1" fill="url(#gd148)"/><rect x="411.2" y="422" width="266.8" height="1" fill="url(#gd149)"/><rect x="411.2" y="423" width="266.8" height="1" fill="url(#gd150)"/><rect x="411.2" y="424" width="266.8" height="1" fill="url(#gd151)"/><rect x="411.2" y="425" width="266.8" height="1" fill="url(#gd152)"/><rect x="411.2" y="426" width="266.8" height="1" fill="url(#gd153)"/><rect x="411.2" y="427" width="266.8" height="1" fill="url(#gd154)"/><rect x="411.2" y="428" width="266.8" height="1" fill="url(#gd155)"/><rect x="411.2" y="429" width="266.8" height="1" fill="url(#gd156)"/><rect x="411.2" y="430" width="266.8" height="1" fill="url(#gd157)"/><rect x="411.2" y="431" width="266.8" height="1" fill="url(#gd158)"/><rect x="411.2" y="432" width="266.8" height="1" fill="url(#gd159)"/><rect x="411.2" y="433" width="266.8" height="1" fill="url(#gd160)"/><rect x="411.2" y="434" width="266.8" height="1" fill="url(#gd161)"/><rect x="411.2" y="435" width="266.8" height="1" fill="url(#gd162)"/><rect x="411.2" y="436" width="266.8" height="1" fill="url(#gd163)"/><rect x="411.2" y="437" width="266.8" height="1" fill="url(#gd164)"/><rect x="411.2" y="438" width="266.8" height="1" fill="url(#gd165)"/><rect x="411.2" y="439" width="266.8" height="1" fill="url(#gd166)"/><rect x="411.2" y="440" width="266.8" height="1" fill="url(#gd167)"/><rect x="411.2" y="441" width="266.8" height="1" fill="url(#gd168)"/><rect x="411.2" y="442" width="266.8" height="1" fill="url(#gd169)"/><rect x="411.2" y="443" width="266.8" height="1" fill="url(#gd170)"/><rect x="411.2" y="444" width="266.8" height="1" fill="url(#gd171)"/><rect x="411.2" y="445" width="266.8" height="1" fill="url(#gd172)"/><rect x="411.2" y="446" width="266.8" height="1" fill="url(#gd173)"/><rect x="411.2" y="447" width="266.8" height="1" fill="url(#gd174)"/><rect x="411.2" y="448" width="266.8" height="1" fill="url(#gd175)"/><rect x="411.2" y="449" width="266.8" height="1" fill="url(#gd176)"/><rect x="411.2" y="450" width="266.8" height="1" fill="url(#gd177)"/><rect x="411.2" y="451" width="266.8" height="1" fill="url(#gd178)"/><rect x="411.2" y="452" width="266.8" height="1" fill="url(#gd179)"/><rect x="411.2" y="453" width="266.8" height="1" fill="url(#gd180)"/><rect x="411.2" y="454" width="266.8" height="1" fill="url(#gd181)"/><rect x="411.2" y="455" width="266.8" height="1" fill="url(#gd182)"/><rect x="411.2" y="456" width="266.8" height="1" fill="url(#gd183)"/><rect x="411.2" y="457" width="266.8" height="1" fill="url(#gd184)"/><rect x="411.2" y="458" width="266.8" height="1" fill="url(#gd185)"/><rect x="411.2" y="459" width="266.8" height="1" fill="url(#gd186)"/><rect x="411.2" y="460" width="266.8" height="1" fill="url(#gd187)"/><rect x="411.2" y="461" width="266.8" height="1" fill="url(#gd188)"/><rect x="411.2" y="462" width="266.8" height="1" fill="url(#gd189)"/><rect x="411.2" y="463" width="266.8" height="1" fill="url(#gd190)"/><rect x="411.2" y="464" width="266.8" height="1" fill="url(#gd191)"/><rect x="411.2" y="465" width="266.8" height="1" fill="url(#gd192)"/><rect x="411.2" y="466" width="266.8" height="1" fill="url(#gd193)"/><rect x="411.2" y="467" width="266.8" height="1" fill="url(#gd194)"/><rect x="411.2" y="468" width="266.8" height="1" fill="url(#gd195)"/><rect x="411.2" y="469" width="266.8" height="1" fill="url(#gd196)"/><rect x="411.2" y="470" width="266.8" height="1" fill="url(#gd197)"/><rect x="411.2" y="471" width="266.8" height="1" fill="url(#gd198)"/><rect x="411.2" y="472" width="266.8" height="1" fill="url(#gd199)"/><rect x="411.2" y="473" width="266.8" height="1" fill="url(#gd200)"/><rect x="411.2" y="474" width="266.8" height="1" fill="url(#gd201)"/><rect x="411.2" y="475" width="266.8" height="1" fill="url(#gd202)"/><rect x="411.2" y="476" width="266.8" height="1" fill="url(#gd203)"/><rect x="411.2" y="477" width="266.8" height="1" fill="url(#gd204)"/><rect x="411.2" y="478" width="266.8" height="1" fill="url(#gd205)"/><rect x="411.2" y="479" width="266.8" height="1" fill="url(#gd206)"/><rect x="411.2" y="480" width="266.8" height="1" fill="url(#gd207)"/><rect x="411.2" y="481" width="266.8" height="1" fill="url(#gd208)"/><rect x="411.2" y="482" width="266.8" height="1" fill="url(#gd209)"/><rect x="411.2" y="483" width="266.8" height="1" fill="url(#gd210)"/></g><polyline points="62.8,190.3 67.25,193.8 71.7,188.8 76.15,187.7 80.6,184.9 85.05,187.2 89.5,176.8 93.95,176.8 98.4,169.3 102.85,164.3 107.3,135 111.75,97 116.2,52.2 120.65,21.3 125.1,18.1 129.55,12.6 134,11 138.45,9.6 142.9,30.4 147.35,34.7 151.8,56.1 156.25,65.8 160.7,86.4 165.15,91.1 169.6,90.3 174.05,96.8 178.5,89.6 182.95,99.1 187.4,98 191.85,102.8 196.3,110.8 200.75,115.6 205.2,120.6 209.65,127.7 214.1,137.5 218.55,145.9 223,151.7 227.45,150.6 231.9,153.8 236.35,156.1 240.8,159.4 245.25,162 249.7,157 254.15,159.9 258.6,162.2 263.05,166.9 267.5,165.7 271.95,174.3 276.4,172.7 280.85,178 285.3,178 289.75,181.8 294.2,180.6 298.65,183.9 303.1,183.9 307.55,182.4 312,182.7 316.45,187.1 320.9,185.7 325.35,181.8 329.8,183.6" fill="none" stroke="#1f77b4" stroke-width="1.8" stroke-linejoin="round" stroke-linecap="square" clip-path="url(#ca)"/><polyline points="62.8,194.9 64.36,194.77 66.62,194.57 69.06,194.35 71.2,194.1 72.89,193.86 74.39,193.61 75.83,193.31 77.3,192.9 78.82,192.4 80.34,191.81 81.87,191.12 83.4,190.3 84.96,189.31 86.55,188.17 88.11,186.95 89.6,185.7 91,184.5 92.35,183.29 93.65,181.97 94.9,180.4 96.12,178.53 97.29,176.44 98.42,174.2 99.5,171.9 100.52,169.65 101.49,167.38 102.42,164.89 103.3,162 104.13,158.81 104.91,155.36 105.66,151.41 106.4,146.7 107.14,141.03 107.86,134.58 108.57,127.67 109.3,120.6 110.04,113.46 110.78,106.08 111.53,98.41 112.3,90.4 113.13,81.37 114.01,71.56 114.84,62.33 115.5,55 115.93,50.3 116.21,47.38 116.43,45.28 116.7,43 117.03,40.4 117.38,37.96 117.75,35.67 118.2,33.5 118.71,31.45 119.27,29.52 119.9,27.73 120.6,26.1 121.39,24.6 122.25,23.23 123.16,22.04 124.1,21.1 125.06,20.42 126.07,19.96 127.09,19.73 128.1,19.7 129.05,19.86 129.97,20.21 130.95,20.81 132.1,21.7 133.48,22.95 135.02,24.53 136.63,26.28 138.2,28.1 139.71,29.96 141.22,31.93 142.72,33.99 144.2,36.1 145.49,37.94 146.66,39.62 148.04,41.82 150,45.2 152.72,50.29 155.97,56.61 159.52,63.35 163.1,69.7 166.68,75.52 170.38,81.21 174.19,86.8 178.1,92.3 182.17,97.78 186.38,103.22 190.6,108.47 194.7,113.4 198.56,117.88 202.29,122.03 206.05,126.03 210,130.1 214.22,134.42 218.61,138.84 223.07,143.06 227.5,146.8 231.87,149.9 236.24,152.54 240.62,154.94 245,157.3 249.4,159.64 253.81,161.86 258.21,164 262.6,166.1 266.96,168.2 271.3,170.27 275.64,172.24 280,174 284.39,175.53 288.79,176.88 293.2,178.08 297.6,179.2 302.06,180.22 306.58,181.13 310.97,181.95 315.1,182.7 319.17,183.41 323.19,184.07 326.67,184.61 329.1,185" fill="none" stroke="#ff7f0e" stroke-width="1.8" stroke-linejoin="round" stroke-linecap="butt" stroke-dasharray="6.3,2.7" clip-path="url(#ca)"/><polyline points="410.75,187.9 415.21,189.3 419.66,188.8 424.12,184.1 428.57,188.8 433.03,183.6 437.48,178.7 441.94,173.1 446.39,163.3 450.85,146.4 455.3,121.1 459.75,62.1 464.21,34.5 468.67,9.9 473.12,13.8 477.57,25.5 482.03,24.1 486.49,45.5 490.94,54.5 495.39,67.6 499.85,91.5 504.31,104.1 508.76,119.5 513.22,122.9 517.67,135.4 522.12,142 526.58,140.5 531.03,145.5 535.49,149.3 539.94,153.8 544.4,161.3 548.86,161.3 553.31,163.6 557.76,168.9 562.22,173.7 566.67,178.6 571.13,187.7 575.59,185.7 580.04,183.9 584.5,186.2 588.95,187.6 593.4,187.4 597.86,183.9 602.31,182.2 606.77,187 611.22,187.5 615.68,187.5 620.13,187.7 624.59,194 629.04,192.2 633.5,189.1 637.95,192.6 642.41,192.9 646.87,197.7 651.32,189.1 655.77,190.2 660.23,188.4 664.68,185.7 669.14,189.4 673.59,193 678.05,187.7" fill="none" stroke="#1f77b4" stroke-width="1.8" stroke-linejoin="round" stroke-linecap="square" clip-path="url(#cb)"/><polyline points="411.7,191.6 413.13,191.32 415.18,190.93 417.51,190.47 419.8,190 422.03,189.63 424.34,189.29 426.68,188.79 429,187.9 431.28,186.65 433.55,185.14 435.82,183.23 438.1,180.8 440.49,177.74 442.96,174.15 445.3,170.21 447.3,166.1 448.86,161.81 450.11,157.26 451.17,152.56 452.2,147.8 453.19,143.17 454.08,138.56 454.91,133.65 455.7,128.1 456.48,121.54 457.21,114.24 457.89,106.85 458.5,100 459,94.1 459.4,88.74 459.78,83.3 460.2,77.2 460.68,69.89 461.18,61.83 461.69,53.88 462.2,46.9 462.7,41.11 463.2,36.04 463.72,31.58 464.3,27.6 464.95,24.07 465.66,21.07 466.39,18.58 467.1,16.6 467.75,15.19 468.36,14.34 469.02,13.91 469.8,13.8 470.71,13.91 471.72,14.34 472.82,15.19 474,16.6 475.25,18.61 476.58,21.16 478,24.17 479.5,27.6 481.13,31.62 482.86,36.2 484.64,40.95 486.4,45.5 488.12,49.74 489.85,53.89 491.57,57.99 493.3,62.1 495.03,66.06 496.76,69.89 498.48,73.95 500.2,78.6 501.85,84.21 503.46,90.5 505.14,96.84 507,102.6 509.12,107.59 511.41,112.16 513.78,116.47 516.1,120.7 518.28,124.85 520.41,128.84 522.63,132.71 525.1,136.5 527.91,140.27 530.96,143.98 534.11,147.53 537.2,150.8 540.2,153.73 543.2,156.38 546.2,158.86 549.2,161.3 552.22,163.73 555.25,166.09 558.28,168.33 561.3,170.4 564.3,172.29 567.3,174.03 570.3,175.63 573.3,177.1 576.29,178.43 579.26,179.61 582.27,180.69 585.4,181.7 588.67,182.63 592.04,183.47 595.47,184.25 598.9,185 602.33,185.75 605.77,186.47 609.24,187.13 612.7,187.7 616.17,188.15 619.64,188.5 623.12,188.8 626.6,189.1 630.08,189.41 633.56,189.7 637.03,189.97 640.5,190.2 643.95,190.38 647.4,190.52 650.85,190.65 654.3,190.8 657.88,190.99 661.53,191.2 665.05,191.41 668.2,191.6 671.07,191.78 673.72,191.95 675.94,192.1 677.5,192.2" fill="none" stroke="#ff7f0e" stroke-width="1.8" stroke-linejoin="round" stroke-linecap="butt" stroke-dasharray="6.3,2.7" clip-path="url(#cb)"/><polyline points="75.05,741.2 81.61,740.6 88.17,736 94.73,735.7 101.28,730.4 107.84,719.8 114.4,691.2 120.96,630 127.52,594 134.08,556.4 140.63,560.4 147.19,566 153.75,583.5 160.31,606.8 166.87,620.3 173.43,633.9 179.98,639.9 186.54,654.2 193.1,666.3 199.66,681.9 206.22,680.3 212.78,690.9 219.33,697.8 225.89,698.8 232.45,706.2 239.01,708.1 245.57,707.9 252.12,715.1 258.68,723 265.24,720.8 271.8,727.3 278.36,727.3 284.92,730.8 291.48,727.7 298.03,737.5 304.59,736.6 311.15,735.6 317.71,737.2" fill="none" stroke="#1f77b4" stroke-width="1.8" stroke-linejoin="round" stroke-linecap="square" clip-path="url(#ce)"/><polyline points="75.05,744.7 81.61,741.2 88.17,740.9 94.73,734.9 101.28,728.9 107.84,719.1 114.4,670 120.96,615 127.52,576 134.08,556.4 140.63,566.4 147.19,576 153.75,604 160.31,631 166.87,645.2 173.43,667.5 179.98,682.1 186.54,687.3 193.1,702.6 199.66,712 206.22,716.5 212.78,721.4 219.33,723 225.89,727.3 232.45,726.7 239.01,730.8 245.57,733.6 252.12,732.8 258.68,738.7 265.24,736.8 271.8,741.1 278.36,743.5 284.92,740.7 291.48,742.1 298.03,744.1 304.59,748 311.15,744.6 317.71,746" fill="none" stroke="#ff7f0e" stroke-width="1.8" stroke-linejoin="round" stroke-linecap="butt" stroke-dasharray="6.3,2.7" clip-path="url(#ce)"/><polyline points="423,735.5 423.7,735.77 424.66,736.14 425.8,736.58 427.05,737.07 428.34,737.58 429.6,738.1 430.85,738.67 432.16,739.31 433.51,739.98 434.88,740.62 436.25,741.18 437.6,741.6 438.93,741.85 440.27,741.96 441.61,741.99 442.94,741.99 444.27,742.01 445.6,742.1 446.95,742.26 448.33,742.45 449.71,742.66 451.06,742.89 452.33,743.14 453.5,743.4 454.52,743.74 455.39,744.18 456.2,744.63 457.01,745.02 457.88,745.27 458.9,745.3 460.07,745.09 461.34,744.69 462.69,744.15 464.07,743.51 465.45,742.81 466.8,742.1 468.17,741.34 469.61,740.49 471.04,739.58 472.43,738.64 473.7,737.71 474.8,736.8 475.67,736.07 476.33,735.53 476.89,734.98 477.42,734.25 478.03,733.15 478.8,731.5 479.73,729.26 480.76,726.58 481.85,723.53 483,720.19 484.19,716.62 485.4,712.9 486.65,708.99 487.96,704.82 489.31,700.43 490.68,695.86 492.05,691.13 493.4,686.3 494.73,681.26 496.07,675.96 497.4,670.52 498.73,665.04 500.07,659.63 501.4,654.4 502.75,649.2 504.12,643.9 505.49,638.67 506.84,633.68 508.15,629.1 509.4,625.1 510.61,621.68 511.8,618.7 512.95,616.14 514.04,613.94 515.07,612.07 516,610.5 516.8,609.27 517.48,608.42 518.08,607.9 518.67,607.66 519.29,607.64 520,607.8 520.81,608.17 521.67,608.81 522.58,609.67 523.49,610.72 524.41,611.91 525.3,613.2 526.17,614.64 527.04,616.29 527.9,618.08 528.76,619.94 529.63,621.84 530.5,623.7 531.38,625.57 532.26,627.5 533.14,629.45 534.03,631.39 534.92,633.29 535.8,635.1 536.68,636.87 537.57,638.63 538.45,640.34 539.33,641.97 540.22,643.47 541.1,644.8 542,645.98 542.93,647.06 543.86,648 544.77,648.8 545.62,649.44 546.4,649.9 547.09,650.16 547.7,650.23 548.26,650.14 548.8,649.92 549.34,649.6 549.9,649.2 550.47,648.74 551.03,648.2 551.59,647.56 552.17,646.8 552.76,645.88 553.4,644.8 554.09,643.56 554.81,642.18 555.57,640.65 556.33,638.97 557.08,637.12 557.8,635.1 558.46,632.96 559.05,630.72 559.64,628.32 560.26,625.69 560.96,622.77 561.8,619.5 562.79,615.69 563.91,611.35 565.11,606.73 566.36,602.05 567.6,597.56 568.8,593.5 569.99,589.83 571.2,586.34 572.41,583.04 573.59,579.94 574.73,577.02 575.8,574.3 576.78,571.77 577.69,569.43 578.56,567.27 579.4,565.32 580.24,563.56 581.1,562 581.96,560.58 582.79,559.28 583.62,558.18 584.48,557.35 585.4,556.87 586.4,556.8 587.51,557.17 588.69,557.92 589.94,559.01 591.22,560.41 592.51,562.09 593.8,564 595.1,566.19 596.43,568.69 597.77,571.46 599.11,574.47 600.42,577.66 601.7,581 602.93,584.52 604.12,588.26 605.29,592.18 606.46,596.27 607.62,600.48 608.8,604.8 610,609.3 611.2,614.04 612.4,618.9 613.6,623.8 614.8,628.63 616,633.3 617.19,637.83 618.37,642.29 619.56,646.69 620.74,651.03 621.92,655.3 623.1,659.5 624.28,663.66 625.46,667.79 626.64,671.84 627.83,675.8 629.01,679.63 630.2,683.3 631.37,686.76 632.51,690.02 633.65,693.15 634.83,696.21 636.07,699.28 637.4,702.4 638.85,705.65 640.4,709 642.01,712.35 643.65,715.6 645.29,718.65 646.9,721.4 648.49,723.89 650.1,726.2 651.71,728.31 653.3,730.2 654.87,731.87 656.4,733.3 657.98,734.43 659.65,735.28 661.29,735.89 662.8,736.34 664.07,736.69 665,737" fill="none" stroke="#1f77b4" stroke-width="1.8" stroke-linejoin="round" stroke-linecap="square" clip-path="url(#cf)"/><polyline points="423,738.9 423.87,739.55 425.09,740.5 426.53,741.6 428.06,742.69 429.56,743.61 430.9,744.2 432.07,744.42 433.17,744.39 434.24,744.18 435.31,743.89 436.42,743.6 437.6,743.4 438.84,743.26 440.12,743.1 441.44,742.95 442.79,742.81 444.18,742.69 445.6,742.6 447.11,742.53 448.7,742.46 450.34,742.41 451.95,742.41 453.49,742.46 454.9,742.6 456.16,742.83 457.3,743.13 458.36,743.5 459.39,743.91 460.43,744.35 461.5,744.8 462.6,745.39 463.7,746.16 464.81,746.95 465.92,747.62 467.05,748.02 468.2,748 469.41,747.56 470.69,746.84 471.98,745.84 473.24,744.59 474.43,743.1 475.5,741.4 476.42,739.46 477.24,737.25 477.98,734.81 478.67,732.16 479.37,729.35 480.1,726.4 480.87,723.25 481.64,719.87 482.41,716.33 483.16,712.67 483.9,708.97 484.6,705.3 485.26,701.71 485.89,698.16 486.49,694.56 487.09,690.84 487.69,686.92 488.3,682.7 488.92,678.03 489.53,672.94 490.14,667.65 490.76,662.36 491.41,657.27 492.1,652.6 492.82,648.54 493.57,644.96 494.34,641.59 495.14,638.15 495.96,634.38 496.8,630 497.67,624.78 498.59,618.89 499.52,612.66 500.46,606.43 501.39,600.53 502.3,595.3 503.18,590.69 504.05,586.43 504.91,582.49 505.77,578.87 506.63,575.55 507.5,572.5 508.39,569.75 509.29,567.33 510.2,565.21 511.1,563.34 511.97,561.72 512.8,560.3 513.58,559.11 514.3,558.16 515.01,557.46 515.71,556.97 516.43,556.69 517.2,556.6 518.03,556.71 518.9,557.03 519.8,557.56 520.7,558.29 521.57,559.2 522.4,560.3 523.18,561.61 523.93,563.16 524.66,564.89 525.38,566.77 526.09,568.76 526.8,570.8 527.52,572.97 528.26,575.3 528.98,577.74 529.69,580.22 530.37,582.66 531,585 531.58,587.19 532.1,589.28 532.59,591.33 533.08,593.42 533.57,595.62 534.1,598 534.66,600.65 535.24,603.54 535.83,606.54 536.42,609.52 537.01,612.35 537.6,614.9 538.18,617.13 538.77,619.14 539.35,620.99 539.93,622.77 540.52,624.55 541.1,626.4 541.68,628.3 542.27,630.17 542.85,632.05 543.43,633.94 544.02,635.85 544.6,637.8 545.17,639.84 545.73,641.96 546.29,644.11 546.87,646.23 547.46,648.24 548.1,650.1 548.78,651.81 549.5,653.43 550.24,654.94 551,656.36 551.76,657.68 552.5,658.9 553.24,660.02 554,661.06 554.76,661.99 555.5,662.82 556.22,663.52 556.9,664.1 557.51,664.54 558.07,664.85 558.59,665.04 559.13,665.12 559.72,665.1 560.4,665 561.16,664.83 561.97,664.59 562.83,664.25 563.74,663.79 564.7,663.18 565.7,662.4 566.76,661.39 567.9,660.16 569.08,658.78 570.28,657.33 571.5,655.88 572.7,654.5 573.92,653.12 575.16,651.66 576.42,650.2 577.66,648.82 578.86,647.59 580,646.6 581.04,645.81 582,645.16 582.91,644.66 583.84,644.33 584.82,644.21 585.9,644.3 587.13,644.65 588.47,645.26 589.87,646.06 591.27,647 592.6,648.03 593.8,649.1 594.84,650.15 595.75,651.21 596.6,652.36 597.44,653.67 598.32,655.23 599.3,657.1 600.39,659.38 601.54,662.02 602.74,664.91 603.97,667.91 605.19,670.92 606.4,673.8 607.6,676.58 608.8,679.37 610,682.16 611.2,684.94 612.4,687.72 613.6,690.5 614.79,693.33 615.97,696.21 617.15,699.1 618.33,701.92 619.51,704.61 620.7,707.1 621.9,709.38 623.1,711.5 624.3,713.49 625.5,715.38 626.7,717.2 627.9,719 629.06,720.8 630.19,722.6 631.31,724.33 632.46,725.94 633.68,727.38 635,728.6 636.44,729.57 637.99,730.32 639.6,730.9 641.24,731.36 642.89,731.74 644.5,732.1 646.07,732.36 647.61,732.47 649.16,732.51 650.72,732.55 652.33,732.65 654,732.9 655.87,733.34 657.96,733.94 660.09,734.6 662.09,735.25 663.79,735.81 665,736.2" fill="none" stroke="#ff7f0e" stroke-width="1.8" stroke-linejoin="round" stroke-linecap="butt" stroke-dasharray="6.3,2.7" clip-path="url(#cf)"/><rect x="203.8" y="554.5" width="117.9" height="51.9" rx="3" ry="3" fill="#fff" fill-opacity="0.8" stroke="#ccc" stroke-width="1"/><line x1="209.6" y1="568.3" x2="242.5" y2="568.3" stroke="#1f77b4" stroke-width="1.8"/><text transform="matrix(1.1410 0 0 1.0645 255.3 573.6)" stroke="#000" stroke-width="0.12">810 nm</text><line x1="209.6" y1="590.9" x2="242.5" y2="590.9" stroke="#ff7f0e" stroke-width="1.8" stroke-dasharray="6.3,2.7"/><text transform="matrix(1.1443 0 0 1.0645 255.13 596.9)" stroke="#000" stroke-width="0.12">900 nm</text><rect x="481.9" y="698.7" width="125.1" height="50.8" rx="3" ry="3" fill="#fff" fill-opacity="0.8" stroke="#ccc" stroke-width="1"/><line x1="487.7" y1="711.6" x2="520.6" y2="711.6" stroke="#1f77b4" stroke-width="1.8"/><text transform="matrix(1.1931 0 0 1.0645 532.95 717.3)" stroke="#000" stroke-width="0.12">t=0.5 ns</text><line x1="487.7" y1="735.1" x2="520.6" y2="735.1" stroke="#ff7f0e" stroke-width="1.8" stroke-dasharray="6.3,2.7"/><text transform="matrix(1.2072 0 0 1.0645 532.95 740.3)" stroke="#000" stroke-width="0.12">t=2 ns</text><rect x="62.7" y="0.5" width="266.8" height="210.4" fill="none" stroke="#000" stroke-width="1"/><rect x="411.3" y="0.5" width="266.7" height="210.4" fill="none" stroke="#000" stroke-width="1"/><rect x="62.6" y="273.5" width="267.2" height="210.5" fill="none" stroke="#000" stroke-width="1"/><rect x="411.2" y="273.5" width="266.8" height="210.5" fill="none" stroke="#000" stroke-width="1"/><rect x="63" y="547.4" width="266.6" height="210.1" fill="none" stroke="#000" stroke-width="1"/><rect x="411.6" y="547.3" width="266.4" height="210.2" fill="none" stroke="#000" stroke-width="1"/><line x1="107.3" y1="210.9" x2="107.3" y2="206.5" stroke="#000" stroke-width="1"/><text transform="matrix(1.0576 0 0 1.0645 102.62 227)" stroke="#000" stroke-width="0.12">0</text><line x1="196.3" y1="210.9" x2="196.3" y2="206.5" stroke="#000" stroke-width="1"/><text transform="matrix(1.0165 0 0 1.0645 191.6 227)" stroke="#000" stroke-width="0.12">2</text><line x1="285.3" y1="210.9" x2="285.3" y2="206.5" stroke="#000" stroke-width="1"/><text transform="matrix(1.0495 0 0 1.0618 280.68 227)" stroke="#000" stroke-width="0.12">4</text><line x1="62.7" y1="195.4" x2="67.1" y2="195.4" stroke="#000" stroke-width="1"/><text transform="matrix(1.0576 0 0 1.0645 48.38 201.4)" stroke="#000" stroke-width="0.12">0</text><line x1="62.7" y1="159.68" x2="67.1" y2="159.68" stroke="#000" stroke-width="1"/><text transform="matrix(1.0944 0 0 1.0645 38.47 165.68)" stroke="#000" stroke-width="0.12">50</text><line x1="62.7" y1="123.96" x2="67.1" y2="123.96" stroke="#000" stroke-width="1"/><text transform="matrix(1.1141 0 0 1.0645 28.27 129.96)" stroke="#000" stroke-width="0.12">100</text><line x1="62.7" y1="88.24" x2="67.1" y2="88.24" stroke="#000" stroke-width="1"/><text transform="matrix(1.1141 0 0 1.0645 28.27 94.24)" stroke="#000" stroke-width="0.12">150</text><line x1="62.7" y1="52.52" x2="67.1" y2="52.52" stroke="#000" stroke-width="1"/><text transform="matrix(1.1203 0 0 1.0645 28.11 58.52)" stroke="#000" stroke-width="0.12">200</text><line x1="62.7" y1="16.8" x2="67.1" y2="16.8" stroke="#000" stroke-width="1"/><text transform="matrix(1.1203 0 0 1.0645 28.11 22.8)" stroke="#000" stroke-width="0.12">250</text><line x1="455.3" y1="210.9" x2="455.3" y2="206.5" stroke="#000" stroke-width="1"/><text transform="matrix(1.0576 0 0 1.0645 450.62 227)" stroke="#000" stroke-width="0.12">0</text><line x1="544.4" y1="210.9" x2="544.4" y2="206.5" stroke="#000" stroke-width="1"/><text transform="matrix(1.0165 0 0 1.0645 539.7 227)" stroke="#000" stroke-width="0.12">2</text><line x1="633.5" y1="210.9" x2="633.5" y2="206.5" stroke="#000" stroke-width="1"/><text transform="matrix(1.0495 0 0 1.0618 628.88 227)" stroke="#000" stroke-width="0.12">4</text><line x1="411.3" y1="190.5" x2="415.7" y2="190.5" stroke="#000" stroke-width="1"/><text transform="matrix(1.0576 0 0 1.0645 396.98 196.5)" stroke="#000" stroke-width="0.12">0</text><line x1="411.3" y1="147.12" x2="415.7" y2="147.12" stroke="#000" stroke-width="1"/><text transform="matrix(1.0931 0 0 1.0645 386.81 153.12)" stroke="#000" stroke-width="0.12">25</text><line x1="411.3" y1="103.75" x2="415.7" y2="103.75" stroke="#000" stroke-width="1"/><text transform="matrix(1.0944 0 0 1.0645 387.07 109.75)" stroke="#000" stroke-width="0.12">50</text><line x1="411.3" y1="60.38" x2="415.7" y2="60.38" stroke="#000" stroke-width="1"/><text transform="matrix(1.0860 0 0 1.0618 386.93 66.38)" stroke="#000" stroke-width="0.12">75</text><line x1="411.3" y1="17" x2="415.7" y2="17" stroke="#000" stroke-width="1"/><text transform="matrix(1.1141 0 0 1.0645 376.87 23)" stroke="#000" stroke-width="0.12">100</text><line x1="91.1" y1="484" x2="91.1" y2="479.6" stroke="#000" stroke-width="1"/><text transform="matrix(1.1124 0 0 1.0645 78.82 500.1)" stroke="#000" stroke-width="0.12">0.0</text><line x1="144.65" y1="484" x2="144.65" y2="479.6" stroke="#000" stroke-width="1"/><text transform="matrix(1.0992 0 0 1.0645 132.38 500.1)" stroke="#000" stroke-width="0.12">0.5</text><line x1="198.2" y1="484" x2="198.2" y2="479.6" stroke="#000" stroke-width="1"/><text transform="matrix(1.1076 0 0 1.0645 186.02 500.1)" stroke="#000" stroke-width="0.12">1.0</text><line x1="251.75" y1="484" x2="251.75" y2="479.6" stroke="#000" stroke-width="1"/><text transform="matrix(1.0941 0 0 1.0618 239.59 500.1)" stroke="#000" stroke-width="0.12">1.5</text><line x1="305.3" y1="484" x2="305.3" y2="479.6" stroke="#000" stroke-width="1"/><text transform="matrix(1.1152 0 0 1.0645 292.96 500.1)" stroke="#000" stroke-width="0.12">2.0</text><line x1="62.6" y1="463.93" x2="67" y2="463.93" stroke="#000" stroke-width="1"/><text transform="matrix(1.1966 0 0 1.0645 20.23 469.93)" stroke="#000" stroke-width="0.12">−0.4</text><line x1="62.6" y1="425.87" x2="67" y2="425.87" stroke="#000" stroke-width="1"/><text transform="matrix(1.1869 0 0 1.0645 20.24 431.87)" stroke="#000" stroke-width="0.12">−0.2</text><line x1="62.6" y1="387.8" x2="67" y2="387.8" stroke="#000" stroke-width="1"/><text transform="matrix(1.1124 0 0 1.0645 33.12 393.8)" stroke="#000" stroke-width="0.12">0.0</text><line x1="62.6" y1="349.73" x2="67" y2="349.73" stroke="#000" stroke-width="1"/><text transform="matrix(1.0962 0 0 1.0645 33.13 355.73)" stroke="#000" stroke-width="0.12">0.2</text><line x1="62.6" y1="311.67" x2="67" y2="311.67" stroke="#000" stroke-width="1"/><text transform="matrix(1.1115 0 0 1.0645 33.12 317.67)" stroke="#000" stroke-width="0.12">0.4</text><line x1="62.6" y1="273.6" x2="67" y2="273.6" stroke="#000" stroke-width="1"/><text transform="matrix(1.1185 0 0 1.0645 33.11 279.6)" stroke="#000" stroke-width="0.12">0.6</text><line x1="439.6" y1="484" x2="439.6" y2="479.6" stroke="#000" stroke-width="1"/><text transform="matrix(1.1124 0 0 1.0645 427.32 500.1)" stroke="#000" stroke-width="0.12">0.0</text><line x1="493.1" y1="484" x2="493.1" y2="479.6" stroke="#000" stroke-width="1"/><text transform="matrix(1.0992 0 0 1.0645 480.83 500.1)" stroke="#000" stroke-width="0.12">0.5</text><line x1="546.6" y1="484" x2="546.6" y2="479.6" stroke="#000" stroke-width="1"/><text transform="matrix(1.1076 0 0 1.0645 534.42 500.1)" stroke="#000" stroke-width="0.12">1.0</text><line x1="600.1" y1="484" x2="600.1" y2="479.6" stroke="#000" stroke-width="1"/><text transform="matrix(1.0941 0 0 1.0618 587.94 500.1)" stroke="#000" stroke-width="0.12">1.5</text><line x1="653.6" y1="484" x2="653.6" y2="479.6" stroke="#000" stroke-width="1"/><text transform="matrix(1.1152 0 0 1.0645 641.26 500.1)" stroke="#000" stroke-width="0.12">2.0</text><line x1="411.2" y1="480.3" x2="415.6" y2="480.3" stroke="#000" stroke-width="1"/><text transform="matrix(1.1157 0 0 1.0645 376.73 486.3)" stroke="#000" stroke-width="0.12">750</text><line x1="411.2" y1="439.06" x2="415.6" y2="439.06" stroke="#000" stroke-width="1"/><text transform="matrix(1.1181 0 0 1.0645 376.66 445.06)" stroke="#000" stroke-width="0.12">800</text><line x1="411.2" y1="397.82" x2="415.6" y2="397.82" stroke="#000" stroke-width="1"/><text transform="matrix(1.1181 0 0 1.0645 376.66 403.82)" stroke="#000" stroke-width="0.12">850</text><line x1="411.2" y1="356.58" x2="415.6" y2="356.58" stroke="#000" stroke-width="1"/><text transform="matrix(1.1248 0 0 1.0645 376.49 362.58)" stroke="#000" stroke-width="0.12">900</text><line x1="411.2" y1="315.34" x2="415.6" y2="315.34" stroke="#000" stroke-width="1"/><text transform="matrix(1.1248 0 0 1.0645 376.49 321.34)" stroke="#000" stroke-width="0.12">950</text><line x1="411.2" y1="274.1" x2="415.6" y2="274.1" stroke="#000" stroke-width="1"/><text transform="matrix(1.1232 0 0 1.0645 366.67 280.1)" stroke="#000" stroke-width="0.12">1000</text><line x1="114.4" y1="757.5" x2="114.4" y2="753.1" stroke="#000" stroke-width="1"/><text transform="matrix(1.0576 0 0 1.0645 109.72 773.6)" stroke="#000" stroke-width="0.12">0</text><line x1="193.1" y1="757.5" x2="193.1" y2="753.1" stroke="#000" stroke-width="1"/><text transform="matrix(1.0165 0 0 1.0645 188.4 773.6)" stroke="#000" stroke-width="0.12">2</text><line x1="271.8" y1="757.5" x2="271.8" y2="753.1" stroke="#000" stroke-width="1"/><text transform="matrix(1.0495 0 0 1.0618 267.18 773.6)" stroke="#000" stroke-width="0.12">4</text><line x1="63" y1="746.5" x2="67.4" y2="746.5" stroke="#000" stroke-width="1"/><text transform="matrix(1.1124 0 0 1.0645 33.52 752.5)" stroke="#000" stroke-width="0.12">0.0</text><line x1="63" y1="708.56" x2="67.4" y2="708.56" stroke="#000" stroke-width="1"/><text transform="matrix(1.0962 0 0 1.0645 33.53 714.56)" stroke="#000" stroke-width="0.12">0.2</text><line x1="63" y1="670.62" x2="67.4" y2="670.62" stroke="#000" stroke-width="1"/><text transform="matrix(1.1115 0 0 1.0645 33.52 676.62)" stroke="#000" stroke-width="0.12">0.4</text><line x1="63" y1="632.68" x2="67.4" y2="632.68" stroke="#000" stroke-width="1"/><text transform="matrix(1.1185 0 0 1.0645 33.51 638.68)" stroke="#000" stroke-width="0.12">0.6</text><line x1="63" y1="594.74" x2="67.4" y2="594.74" stroke="#000" stroke-width="1"/><text transform="matrix(1.1147 0 0 1.0645 33.52 600.74)" stroke="#000" stroke-width="0.12">0.8</text><line x1="63" y1="556.8" x2="67.4" y2="556.8" stroke="#000" stroke-width="1"/><text transform="matrix(1.1076 0 0 1.0645 33.62 562.8)" stroke="#000" stroke-width="0.12">1.0</text><line x1="423.2" y1="757.5" x2="423.2" y2="753.1" stroke="#000" stroke-width="1"/><text transform="matrix(1.1157 0 0 1.0645 408.45 773.6)" stroke="#000" stroke-width="0.12">700</text><line x1="504.05" y1="757.5" x2="504.05" y2="753.1" stroke="#000" stroke-width="1"/><text transform="matrix(1.1181 0 0 1.0645 489.24 773.6)" stroke="#000" stroke-width="0.12">800</text><line x1="584.9" y1="757.5" x2="584.9" y2="753.1" stroke="#000" stroke-width="1"/><text transform="matrix(1.1248 0 0 1.0645 569.92 773.6)" stroke="#000" stroke-width="0.12">900</text><line x1="665.75" y1="757.5" x2="665.75" y2="753.1" stroke="#000" stroke-width="1"/><text transform="matrix(1.1232 0 0 1.0645 645.99 773.6)" stroke="#000" stroke-width="0.12">1000</text><line x1="411.6" y1="744.2" x2="416" y2="744.2" stroke="#000" stroke-width="1"/><text transform="matrix(1.1124 0 0 1.0645 382.12 750.2)" stroke="#000" stroke-width="0.12">0.0</text><line x1="411.6" y1="650.5" x2="416" y2="650.5" stroke="#000" stroke-width="1"/><text transform="matrix(1.0992 0 0 1.0645 382.13 656.5)" stroke="#000" stroke-width="0.12">0.5</text><line x1="411.6" y1="556.8" x2="416" y2="556.8" stroke="#000" stroke-width="1"/><text transform="matrix(1.1076 0 0 1.0645 382.22 562.8)" stroke="#000" stroke-width="0.12">1.0</text><text transform="matrix(1.1916 0 0 1.0483 160.49 246.3)" stroke="#000" stroke-width="0.12">time [ns]</text><text transform="matrix(1.1916 0 0 1.0483 509.04 246.3)" stroke="#000" stroke-width="0.12">time [ns]</text><text transform="matrix(1.1916 0 0 1.0483 160.59 519.4)" stroke="#000" stroke-width="0.12">time [ns]</text><text transform="matrix(1.1916 0 0 1.0483 508.99 519.4)" stroke="#000" stroke-width="0.12">time [ns]</text><text transform="matrix(1.1916 0 0 1.0483 160.69 792.9)" stroke="#000" stroke-width="0.12">time [ns]</text><text transform="matrix(1.1653 0 0 1.0483 477.86 792.9)" stroke="#000" stroke-width="0.12">wavelength [nm]</text><text transform="translate(21.6 105.7) rotate(-90) matrix(1.1161 0 0 1.0483 -51.16 0)" stroke="#000" stroke-width="0.12">coincidences</text><text transform="translate(370 105.7) rotate(-90) matrix(1.1161 0 0 1.0483 -51.16 0)" stroke="#000" stroke-width="0.12">coincidences</text><text transform="translate(360.6 378.75) rotate(-90) matrix(1.1653 0 0 1.0483 -66.94 0)" stroke="#000" stroke-width="0.12">wavelength [nm]</text><text transform="translate(27 652.45) rotate(-90) matrix(1.1254 0 0 1.0483 -97.62 0)" stroke="#000" stroke-width="0.12">normalized coincidences</text><text transform="translate(375.2 652.4) rotate(-90) matrix(1.1254 0 0 1.0483 -97.62 0)" stroke="#000" stroke-width="0.12">normalized coincidences</text><text transform="translate(11.9 484.66) rotate(-90) matrix(1.1276 0 0 1.0483 0.67 0)" stroke="#000" stroke-width="0.12">wedges position x</text><text transform="translate(14.5 341.58) rotate(-90) matrix(1.0368 0 0 1.0618 -0.16 0)" font-size="11.09" font-style="italic" stroke="#000" stroke-width="0.12">INT</text><text transform="translate(11.9 318.19) rotate(-90) matrix(1.2296 0 0 1.0483 -0.07 0)" stroke="#000" stroke-width="0.12">[mm]</text><text transform="matrix(1.2628 0 0 1.0483 77.35 21.5)" font-weight="bold" stroke="#000" stroke-width="0.12">(a)</text><text transform="matrix(1.2378 0 0 1.0483 425.67 21.5)" font-weight="bold" stroke="#000" stroke-width="0.12">(b)</text><text transform="matrix(1.1893 0 0 1.0483 76.9 295)" font-weight="bold" fill="#fff" stroke="#fff" stroke-width="0.12">(c)</text><text transform="matrix(1.2378 0 0 1.0483 425.37 295)" font-weight="bold" fill="#fff" stroke="#fff" stroke-width="0.12">(d)</text><text transform="matrix(1.2650 0 0 1.0483 77.84 569)" font-weight="bold" stroke="#000" stroke-width="0.12">(e)</text><text transform="matrix(1.3120 0 0 1.0483 425.81 569)" font-weight="bold" stroke="#000" stroke-width="0.12">(f)</text></svg></body></html>
